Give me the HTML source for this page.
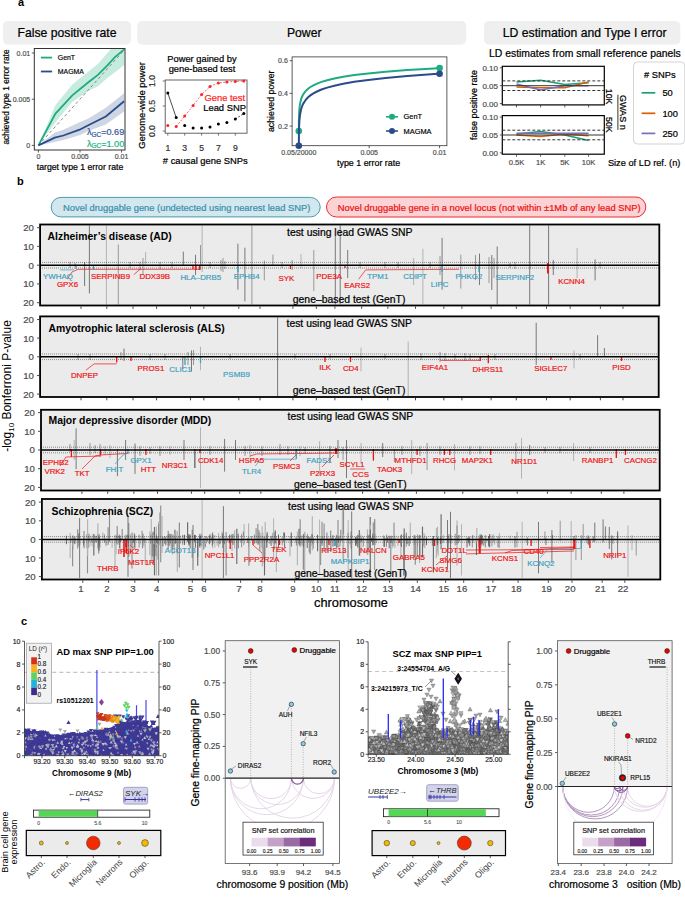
<!DOCTYPE html>
<html><head><meta charset="utf-8"><style>
html,body{margin:0;padding:0;background:#fff;}
svg{display:block;font-family:"Liberation Sans", sans-serif;}
</style></head><body>
<svg width="685" height="899" viewBox="0 0 685 899">
<rect width="685" height="899" fill="#fff"/>
<text x="18" y="6.2" font-size="11" fill="#000" font-weight="bold">a</text>
<rect x="3" y="20.9" width="128" height="23.7" fill="#efefef" stroke="none" stroke-width="1" rx="5"/>
<text x="67" y="37.1" font-size="12.2" fill="#000" stroke="#000" stroke-width="0.22" text-anchor="middle">False positive rate</text>
<rect x="137.2" y="20.9" width="329" height="23.8" fill="#efefef" stroke="none" stroke-width="1" rx="5"/>
<text x="304.2" y="37.1" font-size="12.2" fill="#000" stroke="#000" stroke-width="0.22" text-anchor="middle">Power</text>
<rect x="484.1" y="20.9" width="196.2" height="23.7" fill="#efefef" stroke="none" stroke-width="1" rx="5"/>
<text x="584.7" y="37.1" font-size="12.2" fill="#000" stroke="#000" stroke-width="0.22" text-anchor="middle">LD estimation and Type I error</text>
<clipPath id="c1"><rect x="34.3" y="48.5" width="90.7" height="101.5"/></clipPath>
<polygon points="38.4,145.4 55.5,104.9 72.3,84.4 88.4,71.5 97.9,64.1 107.4,53 114.7,44.7 124.2,36.4 124.2,65 114.7,72.4 107.4,77.9 97.9,86.3 88.4,90.9 72.3,102 55.5,122.3 38.4,145.4" fill="#c8ebdf" clip-path="url(#c1)"/>
<polygon points="38.4,145.4 54.8,132.6 63.4,129.7 79.6,122.3 88.3,118.6 105.8,107.8 124.1,93.2 124.1,111.4 105.8,124.6 88.3,131.1 79.6,135.2 63.4,139.9 54.8,142.1 38.4,145.4" fill="#cfd6e3" clip-path="url(#c1)"/>
<line x1="38.4" y1="145.4" x2="124.9" y2="49.3" stroke="#888" stroke-width="1" stroke-dasharray="3,2.6" clip-path="url(#c1)"/>
<polyline points="38.4,145.4 55.5,113.6 72.3,95.4 88.4,82.2 97.9,74.9 107.4,65.4 114.7,57.4 124.2,49.4" stroke="#1fab80" stroke-width="1.8" fill="none" clip-path="url(#c1)"/>
<polyline points="38.4,145.4 54.8,137.7 63.4,135.5 79.6,129.7 88.3,125.3 105.8,116.5 124.1,101.2" stroke="#2c4b8b" stroke-width="1.8" fill="none" clip-path="url(#c1)"/>
<rect x="34.3" y="48.5" width="90.7" height="101.5" fill="none" stroke="#333" stroke-width="1"/>
<line x1="31.8" y1="145.4" x2="34.3" y2="145.4" stroke="#333" stroke-width="0.8"/>
<text x="30.2" y="147.9" font-size="7.0" fill="#4d4d4d" stroke="#4d4d4d" stroke-width="0.17" text-anchor="end">0</text>
<line x1="38.4" y1="150" x2="38.4" y2="152.5" stroke="#333" stroke-width="0.8"/>
<text x="38.4" y="159.3" font-size="7.0" fill="#4d4d4d" stroke="#4d4d4d" stroke-width="0.17" text-anchor="middle">0</text>
<line x1="31.8" y1="99.2" x2="34.3" y2="99.2" stroke="#333" stroke-width="0.8"/>
<text x="30.2" y="101.7" font-size="7.0" fill="#4d4d4d" stroke="#4d4d4d" stroke-width="0.17" text-anchor="end">0.005</text>
<line x1="80" y1="150" x2="80" y2="152.5" stroke="#333" stroke-width="0.8"/>
<text x="80" y="159.3" font-size="7.0" fill="#4d4d4d" stroke="#4d4d4d" stroke-width="0.17" text-anchor="middle">0.005</text>
<line x1="31.8" y1="53" x2="34.3" y2="53" stroke="#333" stroke-width="0.8"/>
<text x="30.2" y="55.5" font-size="7.0" fill="#4d4d4d" stroke="#4d4d4d" stroke-width="0.17" text-anchor="end">0.01</text>
<line x1="121.6" y1="150" x2="121.6" y2="152.5" stroke="#333" stroke-width="0.8"/>
<text x="121.6" y="159.3" font-size="7.0" fill="#4d4d4d" stroke="#4d4d4d" stroke-width="0.17" text-anchor="middle">0.01</text>
<text x="80" y="169.9" font-size="8.7" fill="#000" stroke="#000" stroke-width="0.21" text-anchor="middle">target type 1 error rate</text>
<text transform="translate(5.9 97) rotate(-90)" x="0" y="3" font-size="8.35" fill="#000" stroke="#000" stroke-width="0.20" text-anchor="middle">achieved type 1 error rate</text>
<line x1="40.9" y1="57.6" x2="52.1" y2="57.6" stroke="#1fab80" stroke-width="1.8"/>
<text x="57.8" y="60.1" font-size="6.9" fill="#000" stroke="#000" stroke-width="0.17">GenT</text>
<line x1="40.9" y1="71.5" x2="52.1" y2="71.5" stroke="#2c4b8b" stroke-width="1.8"/>
<text x="57.8" y="74" font-size="6.9" fill="#000" stroke="#000" stroke-width="0.17">MAGMA</text>
<text x="86.9" y="134.8" font-size="9.1" fill="#3a5a9a" stroke="#3a5a9a" stroke-width="0.22">λ<tspan font-size="6.5" dy="1.8">GC</tspan><tspan dy="-1.8">=0.69</tspan></text>
<text x="86.9" y="146.5" font-size="9.1" fill="#22b487" stroke="#22b487" stroke-width="0.22">λ<tspan font-size="6.5" dy="1.8">GC</tspan><tspan dy="-1.8">=1.00</tspan></text>
<rect x="165.2" y="80" width="81.8" height="53.2" fill="none" stroke="#555" stroke-width="0.9"/>
<text x="202" y="61.6" font-size="9.3" fill="#000" stroke="#000" stroke-width="0.22" text-anchor="middle">Power gained by</text>
<text x="202" y="71.5" font-size="9.3" fill="#000" stroke="#000" stroke-width="0.22" text-anchor="middle">gene-based test</text>
<polyline points="176.2,126.6 184.7,116.1 193.1,105.5 201.6,94.5 210,86.5 218.4,83 226.9,82 235.3,81.5 243.8,81" stroke="#f22" stroke-width="0.7" fill="none" stroke-dasharray="2,1.5"/>
<line x1="167.8" y1="93" x2="176.2" y2="117.6" stroke="#000" stroke-width="0.7"/>
<line x1="235.3" y1="119.1" x2="243.8" y2="113.6" stroke="#000" stroke-width="0.7" stroke-dasharray="2,1.5"/>
<circle cx="167.8" cy="125.6" r="1.5" fill="#f22" stroke="none" stroke-width="0.5"/>
<circle cx="176.2" cy="126.6" r="1.5" fill="#f22" stroke="none" stroke-width="0.5"/>
<circle cx="184.7" cy="116.1" r="1.5" fill="#f22" stroke="none" stroke-width="0.5"/>
<circle cx="193.1" cy="105.5" r="1.5" fill="#f22" stroke="none" stroke-width="0.5"/>
<circle cx="201.6" cy="94.5" r="1.5" fill="#f22" stroke="none" stroke-width="0.5"/>
<circle cx="210" cy="86.5" r="1.5" fill="#f22" stroke="none" stroke-width="0.5"/>
<circle cx="218.4" cy="83" r="1.5" fill="#f22" stroke="none" stroke-width="0.5"/>
<circle cx="226.9" cy="82" r="1.5" fill="#f22" stroke="none" stroke-width="0.5"/>
<circle cx="235.3" cy="81.5" r="1.5" fill="#f22" stroke="none" stroke-width="0.5"/>
<circle cx="243.8" cy="81" r="1.5" fill="#f22" stroke="none" stroke-width="0.5"/>
<circle cx="167.8" cy="93" r="1.5" fill="#000" stroke="none" stroke-width="0.5"/>
<circle cx="176.2" cy="117.6" r="1.5" fill="#000" stroke="none" stroke-width="0.5"/>
<circle cx="184.7" cy="125.6" r="1.5" fill="#000" stroke="none" stroke-width="0.5"/>
<circle cx="193.1" cy="128.1" r="1.5" fill="#000" stroke="none" stroke-width="0.5"/>
<circle cx="201.6" cy="128.1" r="1.5" fill="#000" stroke="none" stroke-width="0.5"/>
<circle cx="210" cy="127.1" r="1.5" fill="#000" stroke="none" stroke-width="0.5"/>
<circle cx="218.4" cy="124.1" r="1.5" fill="#000" stroke="none" stroke-width="0.5"/>
<circle cx="226.9" cy="122.6" r="1.5" fill="#000" stroke="none" stroke-width="0.5"/>
<circle cx="235.3" cy="119.1" r="1.5" fill="#000" stroke="none" stroke-width="0.5"/>
<circle cx="243.8" cy="113.6" r="1.5" fill="#000" stroke="none" stroke-width="0.5"/>
<text x="224.8" y="100.8" font-size="9.4" fill="#f22" stroke="#f22" stroke-width="0.22" text-anchor="middle">Gene test</text>
<text x="224.6" y="111" font-size="9.4" fill="#000" stroke="#000" stroke-width="0.22" text-anchor="middle">Lead SNP</text>
<line x1="162.7" y1="131.1" x2="165.2" y2="131.1" stroke="#555" stroke-width="0.8"/>
<text transform="translate(152 131.1) rotate(-90)" x="0" y="3.1" font-size="8.6" fill="#333" stroke="#333" stroke-width="0.21" text-anchor="middle">0.0</text>
<line x1="162.7" y1="106" x2="165.2" y2="106" stroke="#555" stroke-width="0.8"/>
<text transform="translate(152 106) rotate(-90)" x="0" y="3.1" font-size="8.6" fill="#333" stroke="#333" stroke-width="0.21" text-anchor="middle">0.5</text>
<line x1="162.7" y1="81" x2="165.2" y2="81" stroke="#555" stroke-width="0.8"/>
<text transform="translate(152 81) rotate(-90)" x="0" y="3.1" font-size="8.6" fill="#333" stroke="#333" stroke-width="0.21" text-anchor="middle">1.0</text>
<line x1="167.8" y1="133.2" x2="167.8" y2="135.7" stroke="#555" stroke-width="0.8"/>
<text x="167.8" y="150.6" font-size="8.6" fill="#333" stroke="#333" stroke-width="0.21" text-anchor="middle">1</text>
<line x1="184.7" y1="133.2" x2="184.7" y2="135.7" stroke="#555" stroke-width="0.8"/>
<text x="184.7" y="150.6" font-size="8.6" fill="#333" stroke="#333" stroke-width="0.21" text-anchor="middle">3</text>
<line x1="201.6" y1="133.2" x2="201.6" y2="135.7" stroke="#555" stroke-width="0.8"/>
<text x="201.6" y="150.6" font-size="8.6" fill="#333" stroke="#333" stroke-width="0.21" text-anchor="middle">5</text>
<line x1="218.4" y1="133.2" x2="218.4" y2="135.7" stroke="#555" stroke-width="0.8"/>
<text x="218.4" y="150.6" font-size="8.6" fill="#333" stroke="#333" stroke-width="0.21" text-anchor="middle">7</text>
<line x1="235.3" y1="133.2" x2="235.3" y2="135.7" stroke="#555" stroke-width="0.8"/>
<text x="235.3" y="150.6" font-size="8.6" fill="#333" stroke="#333" stroke-width="0.21" text-anchor="middle">9</text>
<text x="205.3" y="163.8" font-size="9.4" fill="#000" stroke="#000" stroke-width="0.22" text-anchor="middle"># causal gene SNPs</text>
<text transform="translate(141.6 105.5) rotate(-90)" x="0" y="3.4" font-size="9.4" fill="#000" stroke="#000" stroke-width="0.22" text-anchor="middle">Genome-wide power</text>
<rect x="292.1" y="56.9" width="154.8" height="88.8" fill="none" stroke="#333" stroke-width="0.8"/>
<polyline points="298.8,131 298.8,129.3 298.9,127.6 298.9,125.9 298.9,124.2 298.9,122.5 298.9,120.8 299,119.2 299,117.5 299.1,115.8 299.1,114.1 299.2,112.4 299.3,110.7 299.4,109 299.6,107.3 299.8,105.6 300.1,103.9 300.4,102.2 300.8,100.5 301.2,98.8 301.9,97.1 302.6,95.5 303.6,93.8 304.8,92.1 306.3,90.4 308.1,88.7 310.4,87 313.4,85.3 317,83.6 321.5,81.9 327.2,80.2 334.3,78.5 343.2,76.8 354.3,75.1 368.2,73.4 385.6,71.8 407.3,70.1 434.4,68.4 439.6,68.1" stroke="#1fab80" stroke-width="2.0" fill="none"/>
<circle cx="298.8" cy="131" r="3.3" fill="#1fab80" stroke="none" stroke-width="0.5"/>
<circle cx="439.6" cy="68.1" r="3.3" fill="#1fab80" stroke="none" stroke-width="0.5"/>
<polyline points="298.8,145.7 298.8,143.8 298.9,141.8 298.9,139.9 298.9,138 298.9,136 298.9,134.1 299,132.2 299,130.2 299.1,128.3 299.1,126.3 299.2,124.4 299.3,122.5 299.4,120.5 299.6,118.6 299.8,116.7 300.1,114.7 300.4,112.8 300.8,110.8 301.2,108.9 301.9,107 302.6,105 303.6,103.1 304.8,101.2 306.3,99.2 308.1,97.3 310.4,95.4 313.4,93.4 317,91.5 321.5,89.5 327.2,87.6 334.3,85.7 343.2,83.7 354.3,81.8 368.2,79.9 385.6,77.9 407.3,76 434.4,74 439.6,73.7" stroke="#2c4b8b" stroke-width="2.0" fill="none"/>
<circle cx="298.8" cy="145.7" r="3.3" fill="#2c4b8b" stroke="none" stroke-width="0.5"/>
<circle cx="439.6" cy="73.7" r="3.3" fill="#2c4b8b" stroke="none" stroke-width="0.5"/>
<line x1="289.6" y1="126.1" x2="292.1" y2="126.1" stroke="#333" stroke-width="0.8"/>
<text x="287.8" y="128.6" font-size="7.0" fill="#4d4d4d" stroke="#4d4d4d" stroke-width="0.17" text-anchor="end">0.2</text>
<line x1="289.6" y1="93.4" x2="292.1" y2="93.4" stroke="#333" stroke-width="0.8"/>
<text x="287.8" y="95.9" font-size="7.0" fill="#4d4d4d" stroke="#4d4d4d" stroke-width="0.17" text-anchor="end">0.4</text>
<line x1="289.6" y1="60.7" x2="292.1" y2="60.7" stroke="#333" stroke-width="0.8"/>
<text x="287.8" y="63.2" font-size="7.0" fill="#4d4d4d" stroke="#4d4d4d" stroke-width="0.17" text-anchor="end">0.6</text>
<line x1="298.8" y1="145.7" x2="298.8" y2="148.2" stroke="#333" stroke-width="0.8"/>
<text x="298.8" y="155.1" font-size="7.0" fill="#4d4d4d" stroke="#4d4d4d" stroke-width="0.17" text-anchor="middle">0.05/20000</text>
<line x1="369.2" y1="145.7" x2="369.2" y2="148.2" stroke="#333" stroke-width="0.8"/>
<text x="369.2" y="155.1" font-size="7.0" fill="#4d4d4d" stroke="#4d4d4d" stroke-width="0.17" text-anchor="middle">0.005</text>
<line x1="439.6" y1="145.7" x2="439.6" y2="148.2" stroke="#333" stroke-width="0.8"/>
<text x="439.6" y="155.1" font-size="7.0" fill="#4d4d4d" stroke="#4d4d4d" stroke-width="0.17" text-anchor="middle">0.01</text>
<text x="368.6" y="166.4" font-size="8.9" fill="#000" stroke="#000" stroke-width="0.21" text-anchor="middle">type 1 error rate</text>
<text transform="translate(271.2 101.3) rotate(-90)" x="0" y="3.2" font-size="8.8" fill="#000" stroke="#000" stroke-width="0.21" text-anchor="middle">achieved power</text>
<line x1="386" y1="116.8" x2="398" y2="116.8" stroke="#1fab80" stroke-width="1.6"/>
<circle cx="392" cy="116.8" r="3" fill="#1fab80" stroke="none" stroke-width="0.5"/>
<text x="403.6" y="119.4" font-size="7.4" fill="#000" stroke="#000" stroke-width="0.18">GenT</text>
<line x1="386" y1="131" x2="398" y2="131" stroke="#2c4b8b" stroke-width="1.6"/>
<circle cx="392" cy="131" r="3" fill="#2c4b8b" stroke="none" stroke-width="0.5"/>
<text x="403.6" y="133.6" font-size="7.4" fill="#000" stroke="#000" stroke-width="0.18">MAGMA</text>
<text x="584.9" y="56.7" font-size="10.4" fill="#000" stroke="#000" stroke-width="0.22" text-anchor="middle">LD estimates from small reference panels</text>
<rect x="502.3" y="66.3" width="102" height="38.6" fill="#fff" stroke="#000" stroke-width="1.2"/>
<polyline points="516.5,82.1 540.6,80.3 564.8,84.6 588.6,82.8" stroke="#1b9e77" stroke-width="1.5" fill="none"/>
<polyline points="516.5,87.1 540.6,87.8 564.8,87.8 588.6,82.1" stroke="#d95f02" stroke-width="1.5" fill="none"/>
<polyline points="516.5,83.9 540.6,90 564.8,85.7 588.6,85.7" stroke="#7570b3" stroke-width="1.5" fill="none"/>
<line x1="502.3" y1="85.7" x2="604.3" y2="85.7" stroke="#333" stroke-width="1"/>
<line x1="502.3" y1="80.9" x2="604.3" y2="80.9" stroke="#333" stroke-width="1" stroke-dasharray="3,2"/>
<line x1="502.3" y1="90.5" x2="604.3" y2="90.5" stroke="#333" stroke-width="1" stroke-dasharray="3,2"/>
<line x1="499.8" y1="103.6" x2="502.3" y2="103.6" stroke="#333" stroke-width="0.8"/>
<text x="498" y="106.5" font-size="8" fill="#4d4d4d" stroke="#4d4d4d" stroke-width="0.19" text-anchor="end">0.00</text>
<line x1="499.8" y1="85.7" x2="502.3" y2="85.7" stroke="#333" stroke-width="0.8"/>
<text x="498" y="88.6" font-size="8" fill="#4d4d4d" stroke="#4d4d4d" stroke-width="0.19" text-anchor="end">0.05</text>
<line x1="499.8" y1="67.8" x2="502.3" y2="67.8" stroke="#333" stroke-width="0.8"/>
<text x="498" y="70.7" font-size="8" fill="#4d4d4d" stroke="#4d4d4d" stroke-width="0.19" text-anchor="end">0.10</text>
<line x1="516.5" y1="104.9" x2="516.5" y2="107.4" stroke="#333" stroke-width="0.8"/>
<line x1="540.6" y1="104.9" x2="540.6" y2="107.4" stroke="#333" stroke-width="0.8"/>
<line x1="564.8" y1="104.9" x2="564.8" y2="107.4" stroke="#333" stroke-width="0.8"/>
<line x1="588.6" y1="104.9" x2="588.6" y2="107.4" stroke="#333" stroke-width="0.8"/>
<rect x="502.3" y="115.6" width="102" height="38.6" fill="#fff" stroke="#000" stroke-width="1.2"/>
<polyline points="516.5,133.9 540.6,131.4 564.8,135 588.6,140.4" stroke="#1b9e77" stroke-width="1.5" fill="none"/>
<polyline points="516.5,135 540.6,136.4 564.8,133.9 588.6,135.7" stroke="#d95f02" stroke-width="1.5" fill="none"/>
<polyline points="516.5,133.2 540.6,133.2 564.8,133.2 588.6,133.2" stroke="#7570b3" stroke-width="1.5" fill="none"/>
<line x1="502.3" y1="135" x2="604.3" y2="135" stroke="#333" stroke-width="1"/>
<line x1="502.3" y1="130.2" x2="604.3" y2="130.2" stroke="#333" stroke-width="1" stroke-dasharray="3,2"/>
<line x1="502.3" y1="139.8" x2="604.3" y2="139.8" stroke="#333" stroke-width="1" stroke-dasharray="3,2"/>
<line x1="499.8" y1="152.9" x2="502.3" y2="152.9" stroke="#333" stroke-width="0.8"/>
<text x="498" y="155.8" font-size="8" fill="#4d4d4d" stroke="#4d4d4d" stroke-width="0.19" text-anchor="end">0.00</text>
<line x1="499.8" y1="135" x2="502.3" y2="135" stroke="#333" stroke-width="0.8"/>
<text x="498" y="137.9" font-size="8" fill="#4d4d4d" stroke="#4d4d4d" stroke-width="0.19" text-anchor="end">0.05</text>
<line x1="499.8" y1="117.1" x2="502.3" y2="117.1" stroke="#333" stroke-width="0.8"/>
<text x="498" y="120" font-size="8" fill="#4d4d4d" stroke="#4d4d4d" stroke-width="0.19" text-anchor="end">0.10</text>
<line x1="516.5" y1="154.2" x2="516.5" y2="156.7" stroke="#333" stroke-width="0.8"/>
<line x1="540.6" y1="154.2" x2="540.6" y2="156.7" stroke="#333" stroke-width="0.8"/>
<line x1="564.8" y1="154.2" x2="564.8" y2="156.7" stroke="#333" stroke-width="0.8"/>
<line x1="588.6" y1="154.2" x2="588.6" y2="156.7" stroke="#333" stroke-width="0.8"/>
<text x="516.5" y="164.7" font-size="7.6" fill="#4d4d4d" stroke="#4d4d4d" stroke-width="0.18" text-anchor="middle">0.5K</text>
<text x="540.6" y="164.7" font-size="7.6" fill="#4d4d4d" stroke="#4d4d4d" stroke-width="0.18" text-anchor="middle">1K</text>
<text x="564.8" y="164.7" font-size="7.6" fill="#4d4d4d" stroke="#4d4d4d" stroke-width="0.18" text-anchor="middle">5K</text>
<text x="588.6" y="164.7" font-size="7.6" fill="#4d4d4d" stroke="#4d4d4d" stroke-width="0.18" text-anchor="middle">10K</text>
<text x="607.9" y="165.9" font-size="9.25" fill="#000" stroke="#000" stroke-width="0.22">Size of LD ref. (n)</text>
<text transform="translate(473.6 105) rotate(-90)" x="0" y="3.2" font-size="9" fill="#000" stroke="#000" stroke-width="0.22" text-anchor="middle">false positive rate</text>
<text transform="translate(609.3 96.6) rotate(90)" x="0" y="3.1" font-size="8.7" fill="#000" stroke="#000" stroke-width="0.21" text-anchor="middle">10K</text>
<text transform="translate(609.3 124.8) rotate(90)" x="0" y="3.1" font-size="8.7" fill="#000" stroke="#000" stroke-width="0.21" text-anchor="middle">50K</text>
<text transform="translate(623.7 112.3) rotate(90)" x="0" y="3.2" font-size="9.05" fill="#000" stroke="#000" stroke-width="0.22" text-anchor="middle">GWAS n</text>
<line x1="617.9" y1="94.7" x2="617.9" y2="129.9" stroke="#000" stroke-width="0.8"/>
<rect x="633.5" y="62" width="51.3" height="82" fill="#fff" stroke="#c8c8c8" stroke-width="0.8" rx="4"/>
<text x="659.8" y="78.1" font-size="9.3" fill="#000" stroke="#000" stroke-width="0.22" text-anchor="middle"># SNPs</text>
<line x1="641.6" y1="92.8" x2="655.3" y2="92.8" stroke="#1b9e77" stroke-width="1.7"/>
<text x="662.4" y="96.1" font-size="9.3" fill="#000" stroke="#000" stroke-width="0.22">50</text>
<line x1="641.6" y1="113.3" x2="655.3" y2="113.3" stroke="#d95f02" stroke-width="1.7"/>
<text x="662.4" y="116.6" font-size="9.3" fill="#000" stroke="#000" stroke-width="0.22">100</text>
<line x1="641.6" y1="133.4" x2="655.3" y2="133.4" stroke="#7570b3" stroke-width="1.7"/>
<text x="662.4" y="136.7" font-size="9.3" fill="#000" stroke="#000" stroke-width="0.22">250</text>
<text x="17" y="184.6" font-size="11" fill="#000" font-weight="bold">b</text>
<rect x="51.2" y="197.4" width="269" height="19.5" fill="#d3e8ee" stroke="#4a9ab3" stroke-width="1" rx="9.75"/>
<text x="186.7" y="210.5" font-size="9.35" fill="#3a8fae" stroke="#3a8fae" stroke-width="0.22" text-anchor="middle">Novel druggable gene (undetected using nearest lead SNP)</text>
<rect x="326.5" y="197" width="319.3" height="20" fill="#fcd3d5" stroke="#ee2a2f" stroke-width="1" rx="10"/>
<text x="489.2" y="210.5" font-size="9.35" fill="#ee1111" stroke="#ee1111" stroke-width="0.22" text-anchor="middle">Novel druggable gene in a novel locus (not within ±1Mb of any lead SNP)</text>
<rect x="40.1" y="224.5" width="619.2" height="81" fill="#ebebeb" stroke="none" stroke-width="1"/>
<line x1="84.6" y1="262" x2="84.6" y2="286" stroke="#6b6b6b" stroke-width="0.9"/>
<line x1="89.4" y1="225.5" x2="89.4" y2="293.4" stroke="#6b6b6b" stroke-width="0.9"/>
<line x1="106.4" y1="225.5" x2="106.4" y2="304.5" stroke="#b3b3b3" stroke-width="1.0"/>
<line x1="118.3" y1="244.5" x2="118.3" y2="304.5" stroke="#8e8e8e" stroke-width="0.9"/>
<line x1="145.6" y1="252" x2="145.6" y2="265" stroke="#b3b3b3" stroke-width="1.0"/>
<line x1="143" y1="258" x2="143" y2="275" stroke="#8e8e8e" stroke-width="0.9"/>
<line x1="140" y1="262" x2="140" y2="270" stroke="#8e8e8e" stroke-width="0.9"/>
<line x1="183.3" y1="251.6" x2="183.3" y2="265" stroke="#6b6b6b" stroke-width="0.9"/>
<line x1="195.5" y1="254.8" x2="195.5" y2="275" stroke="#6b6b6b" stroke-width="0.9"/>
<line x1="200.5" y1="245" x2="200.5" y2="270" stroke="#8e8e8e" stroke-width="0.9"/>
<line x1="202.1" y1="225.5" x2="202.1" y2="272" stroke="#b3b3b3" stroke-width="1.0"/>
<line x1="221" y1="260" x2="221" y2="271" stroke="#8e8e8e" stroke-width="0.9"/>
<line x1="223" y1="258" x2="223" y2="272" stroke="#8e8e8e" stroke-width="0.9"/>
<line x1="225" y1="261" x2="225" y2="269" stroke="#8e8e8e" stroke-width="0.9"/>
<line x1="237.9" y1="243.7" x2="237.9" y2="289.7" stroke="#6b6b6b" stroke-width="0.9"/>
<line x1="244.9" y1="247.7" x2="244.9" y2="301.4" stroke="#6b6b6b" stroke-width="0.9"/>
<line x1="251.9" y1="225.5" x2="251.9" y2="304.5" stroke="#8e8e8e" stroke-width="0.9"/>
<line x1="264.3" y1="260.5" x2="264.3" y2="280.4" stroke="#8e8e8e" stroke-width="0.9"/>
<line x1="272.9" y1="254.7" x2="272.9" y2="265" stroke="#8e8e8e" stroke-width="0.9"/>
<line x1="292.1" y1="260" x2="292.1" y2="270" stroke="#8e8e8e" stroke-width="0.9"/>
<line x1="301" y1="254" x2="301" y2="268" stroke="#b3b3b3" stroke-width="1.0"/>
<line x1="313.8" y1="250" x2="313.8" y2="291" stroke="#8e8e8e" stroke-width="0.9"/>
<line x1="335.3" y1="236" x2="335.3" y2="304.5" stroke="#6b6b6b" stroke-width="0.9"/>
<line x1="340.2" y1="225.5" x2="340.2" y2="304.5" stroke="#6b6b6b" stroke-width="0.9"/>
<line x1="347.7" y1="250" x2="347.7" y2="278" stroke="#6b6b6b" stroke-width="0.9"/>
<line x1="413.6" y1="258" x2="413.6" y2="285" stroke="#b3b3b3" stroke-width="1.0"/>
<line x1="422.9" y1="248.9" x2="422.9" y2="303.8" stroke="#b3b3b3" stroke-width="1.0"/>
<line x1="442.1" y1="237.9" x2="442.1" y2="289.7" stroke="#6b6b6b" stroke-width="0.9"/>
<line x1="440" y1="256" x2="440" y2="275" stroke="#8e8e8e" stroke-width="0.9"/>
<line x1="460.8" y1="254.7" x2="460.8" y2="288.6" stroke="#8e8e8e" stroke-width="0.9"/>
<line x1="475.5" y1="255" x2="475.5" y2="280" stroke="#8e8e8e" stroke-width="0.9"/>
<line x1="479.5" y1="253.5" x2="479.5" y2="285" stroke="#6b6b6b" stroke-width="0.9"/>
<line x1="489" y1="257" x2="489" y2="283" stroke="#8e8e8e" stroke-width="0.9"/>
<line x1="491.8" y1="255" x2="491.8" y2="290" stroke="#6b6b6b" stroke-width="0.9"/>
<line x1="494" y1="258" x2="494" y2="278" stroke="#8e8e8e" stroke-width="0.9"/>
<line x1="497.2" y1="246.5" x2="497.2" y2="304.5" stroke="#6b6b6b" stroke-width="0.9"/>
<line x1="529.7" y1="225.5" x2="529.7" y2="304.5" stroke="#6b6b6b" stroke-width="0.9"/>
<line x1="548.6" y1="225.5" x2="548.6" y2="304.5" stroke="#6b6b6b" stroke-width="0.9"/>
<line x1="553.3" y1="260" x2="553.3" y2="275" stroke="#6b6b6b" stroke-width="0.9"/>
<line x1="577.1" y1="248.2" x2="577.1" y2="278" stroke="#b3b3b3" stroke-width="1.0"/>
<line x1="595.1" y1="259.4" x2="595.1" y2="280.4" stroke="#6b6b6b" stroke-width="0.9"/>
<line x1="70" y1="262" x2="70" y2="268" stroke="#8e8e8e" stroke-width="0.9"/>
<line x1="75" y1="263" x2="75" y2="267" stroke="#8e8e8e" stroke-width="0.9"/>
<line x1="130" y1="262" x2="130" y2="268" stroke="#8e8e8e" stroke-width="0.9"/>
<line x1="160" y1="262" x2="160" y2="269" stroke="#8e8e8e" stroke-width="0.9"/>
<line x1="172" y1="262" x2="172" y2="268" stroke="#8e8e8e" stroke-width="0.9"/>
<line x1="210" y1="262" x2="210" y2="268" stroke="#8e8e8e" stroke-width="0.9"/>
<line x1="282" y1="262" x2="282" y2="268" stroke="#8e8e8e" stroke-width="0.9"/>
<line x1="360" y1="262" x2="360" y2="268" stroke="#8e8e8e" stroke-width="0.9"/>
<line x1="385" y1="262" x2="385" y2="268" stroke="#8e8e8e" stroke-width="0.9"/>
<line x1="398" y1="262" x2="398" y2="268" stroke="#8e8e8e" stroke-width="0.9"/>
<line x1="430" y1="262" x2="430" y2="268" stroke="#8e8e8e" stroke-width="0.9"/>
<line x1="510" y1="263" x2="510" y2="268" stroke="#8e8e8e" stroke-width="0.9"/>
<line x1="515" y1="262" x2="515" y2="269" stroke="#8e8e8e" stroke-width="0.9"/>
<line x1="530" y1="262" x2="530" y2="269" stroke="#8e8e8e" stroke-width="0.9"/>
<line x1="600" y1="262" x2="600" y2="268" stroke="#8e8e8e" stroke-width="0.9"/>
<line x1="40.1" y1="262.4" x2="659.3" y2="262.4" stroke="#333" stroke-width="0.6" stroke-dasharray="0.9,1.1"/>
<line x1="40.1" y1="268" x2="659.3" y2="268" stroke="#333" stroke-width="0.6" stroke-dasharray="0.9,1.1"/>
<polyline points="67.2,279.2 72,272 78,269.3 199,269.3" stroke="#ee1111" stroke-width="0.7" fill="none"/>
<polyline points="133.8,274.6 140.8,268.7" stroke="#ee1111" stroke-width="0.7" fill="none"/>
<polyline points="358.7,279.2 365.7,269.9 459.1,269.3" stroke="#ee1111" stroke-width="0.7" fill="none"/>
<polyline points="60.2,269.9 74,269.9" stroke="#3e9fc0" stroke-width="0.7" fill="none"/>
<line x1="547.9" y1="262.9" x2="547.9" y2="273.4" stroke="#ee1111" stroke-width="1.8"/>
<line x1="193" y1="265" x2="193" y2="269" stroke="#ee1111" stroke-width="1.3"/>
<line x1="196" y1="265" x2="196" y2="270" stroke="#ee1111" stroke-width="1.3"/>
<line x1="199.5" y1="265" x2="199.5" y2="270" stroke="#ee1111" stroke-width="1.3"/>
<line x1="290.4" y1="265" x2="290.4" y2="269" stroke="#ee1111" stroke-width="1.3"/>
<line x1="345" y1="265" x2="345" y2="268" stroke="#ee1111" stroke-width="1.3"/>
<line x1="76" y1="265" x2="76" y2="269" stroke="#3e9fc0" stroke-width="1.3"/>
<line x1="93.5" y1="265" x2="93.5" y2="270" stroke="#3e9fc0" stroke-width="1.3"/>
<line x1="238" y1="265" x2="238" y2="272" stroke="#3e9fc0" stroke-width="1.3"/>
<line x1="442" y1="265" x2="442" y2="272" stroke="#3e9fc0" stroke-width="1.3"/>
<line x1="479" y1="265" x2="479" y2="272" stroke="#3e9fc0" stroke-width="1.3"/>
<line x1="40.1" y1="265.2" x2="659.3" y2="265.2" stroke="#000" stroke-width="1.5"/>
<text x="58" y="278.5" font-size="7.9" fill="#3e9fc0" stroke="#3e9fc0" stroke-width="0.19" text-anchor="middle">YWHAQ</text>
<text x="67.5" y="287.4" font-size="7.9" fill="#ee1111" stroke="#ee1111" stroke-width="0.19" text-anchor="middle">GPX6</text>
<text x="110.5" y="278.5" font-size="7.9" fill="#ee1111" stroke="#ee1111" stroke-width="0.19" text-anchor="middle">SERPINB9</text>
<text x="154.8" y="278.5" font-size="7.9" fill="#ee1111" stroke="#ee1111" stroke-width="0.19" text-anchor="middle">DDX39B</text>
<text x="200.8" y="280.2" font-size="7.9" fill="#3e9fc0" stroke="#3e9fc0" stroke-width="0.19" text-anchor="middle">HLA–DRB5</text>
<text x="246.8" y="278.5" font-size="7.9" fill="#3e9fc0" stroke="#3e9fc0" stroke-width="0.19" text-anchor="middle">EPHB4</text>
<text x="286.4" y="280.8" font-size="7.9" fill="#ee1111" stroke="#ee1111" stroke-width="0.19" text-anchor="middle">SYK</text>
<text x="329.2" y="278.5" font-size="7.9" fill="#ee1111" stroke="#ee1111" stroke-width="0.19" text-anchor="middle">PDE3A</text>
<text x="357.3" y="287.8" font-size="7.9" fill="#ee1111" stroke="#ee1111" stroke-width="0.19" text-anchor="middle">EARS2</text>
<text x="377.8" y="278.5" font-size="7.9" fill="#3e9fc0" stroke="#3e9fc0" stroke-width="0.19" text-anchor="middle">TPM1</text>
<text x="415.1" y="278.5" font-size="7.9" fill="#3e9fc0" stroke="#3e9fc0" stroke-width="0.19" text-anchor="middle">CDIPT</text>
<text x="439.6" y="287.4" font-size="7.9" fill="#3e9fc0" stroke="#3e9fc0" stroke-width="0.19" text-anchor="middle">LIPC</text>
<text x="468.9" y="278.5" font-size="7.9" fill="#3e9fc0" stroke="#3e9fc0" stroke-width="0.19" text-anchor="middle">PHKG2</text>
<text x="514.8" y="280.2" font-size="7.9" fill="#3e9fc0" stroke="#3e9fc0" stroke-width="0.19" text-anchor="middle">SERPINF2</text>
<text x="571.5" y="283.7" font-size="7.9" fill="#ee1111" stroke="#ee1111" stroke-width="0.19" text-anchor="middle">KCNN4</text>
<text x="47.6" y="240.2" font-size="10.4" fill="#000" font-weight="bold">Alzheimer’s disease (AD)</text>
<text x="287" y="236.2" font-size="10.4" fill="#000" stroke="#000" stroke-width="0.22">test using lead GWAS SNP</text>
<text x="292.8" y="302.7" font-size="10.4" fill="#000" stroke="#000" stroke-width="0.22">gene–based test (GenT)</text>
<rect x="40.1" y="224.5" width="619.2" height="81" fill="none" stroke="#000" stroke-width="1.8"/>
<line x1="37.1" y1="227.7" x2="40.1" y2="227.7" stroke="#333" stroke-width="0.9"/>
<text x="33.9" y="231.1" font-size="9.6" fill="#4d4d4d" stroke="#4d4d4d" stroke-width="0.22" text-anchor="end">20</text>
<line x1="37.1" y1="246.4" x2="40.1" y2="246.4" stroke="#333" stroke-width="0.9"/>
<text x="33.9" y="249.9" font-size="9.6" fill="#4d4d4d" stroke="#4d4d4d" stroke-width="0.22" text-anchor="end">10</text>
<line x1="37.1" y1="265.2" x2="40.1" y2="265.2" stroke="#333" stroke-width="0.9"/>
<text x="33.9" y="268.6" font-size="9.6" fill="#4d4d4d" stroke="#4d4d4d" stroke-width="0.22" text-anchor="end">0</text>
<line x1="37.1" y1="283.9" x2="40.1" y2="283.9" stroke="#333" stroke-width="0.9"/>
<text x="33.9" y="287.4" font-size="9.6" fill="#4d4d4d" stroke="#4d4d4d" stroke-width="0.22" text-anchor="end">10</text>
<line x1="37.1" y1="302.7" x2="40.1" y2="302.7" stroke="#333" stroke-width="0.9"/>
<text x="33.9" y="306.1" font-size="9.6" fill="#4d4d4d" stroke="#4d4d4d" stroke-width="0.22" text-anchor="end">20</text>
<line x1="81" y1="306.4" x2="81" y2="308.8" stroke="#333" stroke-width="0.9"/>
<line x1="106.8" y1="306.4" x2="106.8" y2="308.8" stroke="#333" stroke-width="0.9"/>
<line x1="133" y1="306.4" x2="133" y2="308.8" stroke="#333" stroke-width="0.9"/>
<line x1="156.6" y1="306.4" x2="156.6" y2="308.8" stroke="#333" stroke-width="0.9"/>
<line x1="190.5" y1="306.4" x2="190.5" y2="308.8" stroke="#333" stroke-width="0.9"/>
<line x1="203.8" y1="306.4" x2="203.8" y2="308.8" stroke="#333" stroke-width="0.9"/>
<line x1="238.8" y1="306.4" x2="238.8" y2="308.8" stroke="#333" stroke-width="0.9"/>
<line x1="260" y1="306.4" x2="260" y2="308.8" stroke="#333" stroke-width="0.9"/>
<line x1="292.9" y1="306.4" x2="292.9" y2="308.8" stroke="#333" stroke-width="0.9"/>
<line x1="316.3" y1="306.4" x2="316.3" y2="308.8" stroke="#333" stroke-width="0.9"/>
<line x1="334.9" y1="306.4" x2="334.9" y2="308.8" stroke="#333" stroke-width="0.9"/>
<line x1="361.7" y1="306.4" x2="361.7" y2="308.8" stroke="#333" stroke-width="0.9"/>
<line x1="387.8" y1="306.4" x2="387.8" y2="308.8" stroke="#333" stroke-width="0.9"/>
<line x1="415.5" y1="306.4" x2="415.5" y2="308.8" stroke="#333" stroke-width="0.9"/>
<line x1="443.8" y1="306.4" x2="443.8" y2="308.8" stroke="#333" stroke-width="0.9"/>
<line x1="461.9" y1="306.4" x2="461.9" y2="308.8" stroke="#333" stroke-width="0.9"/>
<line x1="491.1" y1="306.4" x2="491.1" y2="308.8" stroke="#333" stroke-width="0.9"/>
<line x1="516.3" y1="306.4" x2="516.3" y2="308.8" stroke="#333" stroke-width="0.9"/>
<line x1="546.5" y1="306.4" x2="546.5" y2="308.8" stroke="#333" stroke-width="0.9"/>
<line x1="570.2" y1="306.4" x2="570.2" y2="308.8" stroke="#333" stroke-width="0.9"/>
<line x1="600.4" y1="306.4" x2="600.4" y2="308.8" stroke="#333" stroke-width="0.9"/>
<line x1="623" y1="306.4" x2="623" y2="308.8" stroke="#333" stroke-width="0.9"/>
<rect x="40.1" y="316.4" width="618.6" height="80.6" fill="#ebebeb" stroke="none" stroke-width="1"/>
<line x1="124" y1="348.5" x2="124" y2="361" stroke="#6b6b6b" stroke-width="0.9"/>
<line x1="121" y1="352" x2="121" y2="360" stroke="#8e8e8e" stroke-width="0.9"/>
<line x1="182.8" y1="357" x2="182.8" y2="369" stroke="#6b6b6b" stroke-width="0.9"/>
<line x1="191.5" y1="350.4" x2="191.5" y2="371.4" stroke="#6b6b6b" stroke-width="0.9"/>
<line x1="188" y1="352" x2="188" y2="365" stroke="#8e8e8e" stroke-width="0.9"/>
<line x1="193.5" y1="350" x2="193.5" y2="365" stroke="#8e8e8e" stroke-width="0.9"/>
<line x1="200.5" y1="346.9" x2="200.5" y2="370.2" stroke="#b3b3b3" stroke-width="1.0"/>
<line x1="277.6" y1="317.4" x2="277.6" y2="396" stroke="#6b6b6b" stroke-width="0.9"/>
<line x1="361" y1="347.6" x2="361" y2="371.4" stroke="#b3b3b3" stroke-width="1.0"/>
<line x1="408.2" y1="341.5" x2="408.2" y2="396" stroke="#b3b3b3" stroke-width="1.0"/>
<line x1="536.2" y1="322.8" x2="536.2" y2="364.9" stroke="#6b6b6b" stroke-width="0.9"/>
<line x1="574" y1="350.4" x2="574" y2="368.4" stroke="#b3b3b3" stroke-width="1.0"/>
<line x1="597.6" y1="335.2" x2="597.6" y2="357" stroke="#6b6b6b" stroke-width="0.9"/>
<line x1="604.4" y1="348" x2="604.4" y2="357" stroke="#6b6b6b" stroke-width="0.9"/>
<line x1="421" y1="353" x2="421" y2="360" stroke="#8e8e8e" stroke-width="0.9"/>
<line x1="440" y1="352" x2="440" y2="362" stroke="#8e8e8e" stroke-width="0.9"/>
<line x1="445" y1="353" x2="445" y2="361" stroke="#8e8e8e" stroke-width="0.9"/>
<line x1="455" y1="354" x2="455" y2="360" stroke="#8e8e8e" stroke-width="0.9"/>
<line x1="465" y1="353" x2="465" y2="361" stroke="#8e8e8e" stroke-width="0.9"/>
<line x1="470" y1="354" x2="470" y2="360" stroke="#8e8e8e" stroke-width="0.9"/>
<line x1="495" y1="354" x2="495" y2="360" stroke="#8e8e8e" stroke-width="0.9"/>
<line x1="78" y1="354" x2="78" y2="360" stroke="#8e8e8e" stroke-width="0.9"/>
<line x1="90" y1="354" x2="90" y2="360" stroke="#8e8e8e" stroke-width="0.9"/>
<line x1="150" y1="354" x2="150" y2="360" stroke="#8e8e8e" stroke-width="0.9"/>
<line x1="165" y1="354" x2="165" y2="360" stroke="#8e8e8e" stroke-width="0.9"/>
<line x1="230" y1="354" x2="230" y2="359" stroke="#8e8e8e" stroke-width="0.9"/>
<line x1="295" y1="354" x2="295" y2="359" stroke="#8e8e8e" stroke-width="0.9"/>
<line x1="330" y1="354" x2="330" y2="359" stroke="#8e8e8e" stroke-width="0.9"/>
<line x1="385" y1="354" x2="385" y2="359" stroke="#8e8e8e" stroke-width="0.9"/>
<line x1="580" y1="354" x2="580" y2="359" stroke="#8e8e8e" stroke-width="0.9"/>
<line x1="40.1" y1="354" x2="658.7" y2="354" stroke="#333" stroke-width="0.6" stroke-dasharray="0.9,1.1"/>
<line x1="40.1" y1="359.6" x2="658.7" y2="359.6" stroke="#333" stroke-width="0.6" stroke-dasharray="0.9,1.1"/>
<polyline points="85.9,370.2 94,363.9 116.7,363.9" stroke="#ee1111" stroke-width="0.7" fill="none"/>
<polyline points="440.4,360.4 480.2,360.4" stroke="#ee1111" stroke-width="0.7" fill="none"/>
<line x1="116.7" y1="357" x2="116.7" y2="362.5" stroke="#ee1111" stroke-width="1.3"/>
<line x1="131" y1="357" x2="131" y2="361" stroke="#ee1111" stroke-width="1.3"/>
<line x1="325" y1="357" x2="325" y2="362" stroke="#ee1111" stroke-width="1.3"/>
<line x1="350.5" y1="357" x2="350.5" y2="362" stroke="#ee1111" stroke-width="1.3"/>
<line x1="480.2" y1="357" x2="480.2" y2="361" stroke="#ee1111" stroke-width="1.3"/>
<line x1="488.3" y1="355" x2="488.3" y2="363.2" stroke="#ee1111" stroke-width="1.3"/>
<line x1="550.9" y1="357" x2="550.9" y2="360" stroke="#ee1111" stroke-width="1.3"/>
<line x1="621.5" y1="357" x2="621.5" y2="361" stroke="#ee1111" stroke-width="1.3"/>
<line x1="200.5" y1="356" x2="200.5" y2="363" stroke="#3e9fc0" stroke-width="1.3"/>
<line x1="185" y1="357" x2="185" y2="365" stroke="#3e9fc0" stroke-width="1.3"/>
<line x1="40.1" y1="356.8" x2="658.7" y2="356.8" stroke="#000" stroke-width="1.5"/>
<text x="84.5" y="378.2" font-size="7.9" fill="#ee1111" stroke="#ee1111" stroke-width="0.19" text-anchor="middle">DNPEP</text>
<text x="150.9" y="370.7" font-size="7.9" fill="#ee1111" stroke="#ee1111" stroke-width="0.19" text-anchor="middle">PROS1</text>
<text x="180.5" y="372.3" font-size="7.9" fill="#3e9fc0" stroke="#3e9fc0" stroke-width="0.19" text-anchor="middle">CLIC1</text>
<text x="236.5" y="377" font-size="7.9" fill="#3e9fc0" stroke="#3e9fc0" stroke-width="0.19" text-anchor="middle">PSMB9</text>
<text x="325.2" y="370" font-size="7.9" fill="#ee1111" stroke="#ee1111" stroke-width="0.19" text-anchor="middle">ILK</text>
<text x="350.8" y="371.2" font-size="7.9" fill="#ee1111" stroke="#ee1111" stroke-width="0.19" text-anchor="middle">CD4</text>
<text x="434.9" y="370" font-size="7.9" fill="#ee1111" stroke="#ee1111" stroke-width="0.19" text-anchor="middle">EIF4A1</text>
<text x="487.9" y="371.8" font-size="7.9" fill="#ee1111" stroke="#ee1111" stroke-width="0.19" text-anchor="middle">DHRS11</text>
<text x="550.8" y="371.2" font-size="7.9" fill="#ee1111" stroke="#ee1111" stroke-width="0.19" text-anchor="middle">SIGLEC7</text>
<text x="621.5" y="370" font-size="7.9" fill="#ee1111" stroke="#ee1111" stroke-width="0.19" text-anchor="middle">PISD</text>
<text x="48.5" y="331.9" font-size="10.4" fill="#000" font-weight="bold">Amyotrophic lateral sclerosis (ALS)</text>
<text x="286.5" y="327.2" font-size="10.4" fill="#000" stroke="#000" stroke-width="0.22">test using lead GWAS SNP</text>
<text x="292.8" y="394.3" font-size="10.4" fill="#000" stroke="#000" stroke-width="0.22">gene–based test (GenT)</text>
<rect x="40.1" y="316.4" width="618.6" height="80.6" fill="none" stroke="#000" stroke-width="1.8"/>
<line x1="37.1" y1="319.5" x2="40.1" y2="319.5" stroke="#333" stroke-width="0.9"/>
<text x="33.9" y="322.9" font-size="9.6" fill="#4d4d4d" stroke="#4d4d4d" stroke-width="0.22" text-anchor="end">20</text>
<line x1="37.1" y1="338.1" x2="40.1" y2="338.1" stroke="#333" stroke-width="0.9"/>
<text x="33.9" y="341.6" font-size="9.6" fill="#4d4d4d" stroke="#4d4d4d" stroke-width="0.22" text-anchor="end">10</text>
<line x1="37.1" y1="356.8" x2="40.1" y2="356.8" stroke="#333" stroke-width="0.9"/>
<text x="33.9" y="360.2" font-size="9.6" fill="#4d4d4d" stroke="#4d4d4d" stroke-width="0.22" text-anchor="end">0</text>
<line x1="37.1" y1="375.5" x2="40.1" y2="375.5" stroke="#333" stroke-width="0.9"/>
<text x="33.9" y="378.9" font-size="9.6" fill="#4d4d4d" stroke="#4d4d4d" stroke-width="0.22" text-anchor="end">10</text>
<line x1="37.1" y1="394.1" x2="40.1" y2="394.1" stroke="#333" stroke-width="0.9"/>
<text x="33.9" y="397.5" font-size="9.6" fill="#4d4d4d" stroke="#4d4d4d" stroke-width="0.22" text-anchor="end">20</text>
<line x1="81" y1="397.9" x2="81" y2="400.3" stroke="#333" stroke-width="0.9"/>
<line x1="106.8" y1="397.9" x2="106.8" y2="400.3" stroke="#333" stroke-width="0.9"/>
<line x1="133" y1="397.9" x2="133" y2="400.3" stroke="#333" stroke-width="0.9"/>
<line x1="156.6" y1="397.9" x2="156.6" y2="400.3" stroke="#333" stroke-width="0.9"/>
<line x1="190.5" y1="397.9" x2="190.5" y2="400.3" stroke="#333" stroke-width="0.9"/>
<line x1="203.8" y1="397.9" x2="203.8" y2="400.3" stroke="#333" stroke-width="0.9"/>
<line x1="238.8" y1="397.9" x2="238.8" y2="400.3" stroke="#333" stroke-width="0.9"/>
<line x1="260" y1="397.9" x2="260" y2="400.3" stroke="#333" stroke-width="0.9"/>
<line x1="292.9" y1="397.9" x2="292.9" y2="400.3" stroke="#333" stroke-width="0.9"/>
<line x1="316.3" y1="397.9" x2="316.3" y2="400.3" stroke="#333" stroke-width="0.9"/>
<line x1="334.9" y1="397.9" x2="334.9" y2="400.3" stroke="#333" stroke-width="0.9"/>
<line x1="361.7" y1="397.9" x2="361.7" y2="400.3" stroke="#333" stroke-width="0.9"/>
<line x1="387.8" y1="397.9" x2="387.8" y2="400.3" stroke="#333" stroke-width="0.9"/>
<line x1="415.5" y1="397.9" x2="415.5" y2="400.3" stroke="#333" stroke-width="0.9"/>
<line x1="443.8" y1="397.9" x2="443.8" y2="400.3" stroke="#333" stroke-width="0.9"/>
<line x1="461.9" y1="397.9" x2="461.9" y2="400.3" stroke="#333" stroke-width="0.9"/>
<line x1="491.1" y1="397.9" x2="491.1" y2="400.3" stroke="#333" stroke-width="0.9"/>
<line x1="516.3" y1="397.9" x2="516.3" y2="400.3" stroke="#333" stroke-width="0.9"/>
<line x1="546.5" y1="397.9" x2="546.5" y2="400.3" stroke="#333" stroke-width="0.9"/>
<line x1="570.2" y1="397.9" x2="570.2" y2="400.3" stroke="#333" stroke-width="0.9"/>
<line x1="600.4" y1="397.9" x2="600.4" y2="400.3" stroke="#333" stroke-width="0.9"/>
<line x1="623" y1="397.9" x2="623" y2="400.3" stroke="#333" stroke-width="0.9"/>
<rect x="41" y="409.8" width="618.7" height="80.7" fill="#ebebeb" stroke="none" stroke-width="1"/>
<line x1="76.1" y1="428.4" x2="76.1" y2="469.2" stroke="#6b6b6b" stroke-width="0.9"/>
<line x1="74.2" y1="440" x2="74.2" y2="460" stroke="#b3b3b3" stroke-width="1.0"/>
<line x1="70" y1="444" x2="70" y2="452" stroke="#8e8e8e" stroke-width="0.9"/>
<line x1="90" y1="443" x2="90" y2="455" stroke="#8e8e8e" stroke-width="0.9"/>
<line x1="95" y1="445" x2="95" y2="453" stroke="#8e8e8e" stroke-width="0.9"/>
<line x1="117.4" y1="449" x2="117.4" y2="476.2" stroke="#6b6b6b" stroke-width="0.9"/>
<line x1="125.6" y1="440" x2="125.6" y2="460" stroke="#6b6b6b" stroke-width="0.9"/>
<line x1="135" y1="443.5" x2="135" y2="473.9" stroke="#6b6b6b" stroke-width="0.9"/>
<line x1="110" y1="445" x2="110" y2="458" stroke="#b3b3b3" stroke-width="1.0"/>
<line x1="160" y1="446" x2="160" y2="456" stroke="#8e8e8e" stroke-width="0.9"/>
<line x1="170" y1="446" x2="170" y2="455" stroke="#b3b3b3" stroke-width="1.0"/>
<line x1="184" y1="440" x2="184" y2="460" stroke="#6b6b6b" stroke-width="0.9"/>
<line x1="195" y1="449" x2="195" y2="468" stroke="#6b6b6b" stroke-width="0.9"/>
<line x1="200.5" y1="427.2" x2="200.5" y2="488" stroke="#b3b3b3" stroke-width="1.0"/>
<line x1="194.7" y1="449" x2="194.7" y2="468" stroke="#6b6b6b" stroke-width="0.9"/>
<line x1="224.6" y1="438.9" x2="224.6" y2="471.6" stroke="#6b6b6b" stroke-width="0.9"/>
<line x1="235.5" y1="440" x2="235.5" y2="459.9" stroke="#6b6b6b" stroke-width="0.9"/>
<line x1="250" y1="445" x2="250" y2="458" stroke="#b3b3b3" stroke-width="1.0"/>
<line x1="262" y1="446" x2="262" y2="456" stroke="#8e8e8e" stroke-width="0.9"/>
<line x1="280" y1="444" x2="280" y2="455" stroke="#8e8e8e" stroke-width="0.9"/>
<line x1="319.6" y1="441.2" x2="319.6" y2="475" stroke="#b3b3b3" stroke-width="1.0"/>
<line x1="330" y1="446" x2="330" y2="463" stroke="#6b6b6b" stroke-width="0.9"/>
<line x1="338" y1="440" x2="338" y2="458" stroke="#6b6b6b" stroke-width="0.9"/>
<line x1="343" y1="447" x2="343" y2="460" stroke="#8e8e8e" stroke-width="0.9"/>
<line x1="346.5" y1="440" x2="346.5" y2="478" stroke="#6b6b6b" stroke-width="0.9"/>
<line x1="361" y1="443" x2="361" y2="462" stroke="#b3b3b3" stroke-width="1.0"/>
<line x1="382.7" y1="443" x2="382.7" y2="457" stroke="#6b6b6b" stroke-width="0.9"/>
<line x1="394.4" y1="449" x2="394.4" y2="462" stroke="#8e8e8e" stroke-width="0.9"/>
<line x1="411.7" y1="440" x2="411.7" y2="474" stroke="#b3b3b3" stroke-width="1.0"/>
<line x1="427.1" y1="443" x2="427.1" y2="470" stroke="#8e8e8e" stroke-width="0.9"/>
<line x1="454.5" y1="444" x2="454.5" y2="470.4" stroke="#b3b3b3" stroke-width="1.0"/>
<line x1="515.9" y1="443" x2="515.9" y2="463" stroke="#8e8e8e" stroke-width="0.9"/>
<line x1="521.5" y1="438.2" x2="521.5" y2="478.6" stroke="#b3b3b3" stroke-width="1.0"/>
<line x1="529.7" y1="445" x2="529.7" y2="455" stroke="#6b6b6b" stroke-width="0.9"/>
<line x1="573.6" y1="443" x2="573.6" y2="461" stroke="#b3b3b3" stroke-width="1.0"/>
<line x1="100" y1="444" x2="100" y2="457" stroke="#8e8e8e" stroke-width="0.9"/>
<line x1="105" y1="446" x2="105" y2="455" stroke="#b3b3b3" stroke-width="1.0"/>
<line x1="140" y1="446" x2="140" y2="456" stroke="#8e8e8e" stroke-width="0.9"/>
<line x1="150" y1="447" x2="150" y2="454" stroke="#8e8e8e" stroke-width="0.9"/>
<line x1="210" y1="446" x2="210" y2="455" stroke="#8e8e8e" stroke-width="0.9"/>
<line x1="245" y1="446" x2="245" y2="456" stroke="#8e8e8e" stroke-width="0.9"/>
<line x1="288" y1="446" x2="288" y2="455" stroke="#8e8e8e" stroke-width="0.9"/>
<line x1="300" y1="446" x2="300" y2="456" stroke="#b3b3b3" stroke-width="1.0"/>
<line x1="305" y1="447" x2="305" y2="454" stroke="#8e8e8e" stroke-width="0.9"/>
<line x1="402" y1="446" x2="402" y2="455" stroke="#8e8e8e" stroke-width="0.9"/>
<line x1="420" y1="446" x2="420" y2="456" stroke="#8e8e8e" stroke-width="0.9"/>
<line x1="440" y1="446" x2="440" y2="455" stroke="#8e8e8e" stroke-width="0.9"/>
<line x1="470" y1="446" x2="470" y2="455" stroke="#8e8e8e" stroke-width="0.9"/>
<line x1="480" y1="446" x2="480" y2="454" stroke="#8e8e8e" stroke-width="0.9"/>
<line x1="545" y1="447" x2="545" y2="453" stroke="#8e8e8e" stroke-width="0.9"/>
<line x1="560" y1="447" x2="560" y2="453" stroke="#8e8e8e" stroke-width="0.9"/>
<line x1="590" y1="447" x2="590" y2="453" stroke="#8e8e8e" stroke-width="0.9"/>
<line x1="41" y1="447.2" x2="659.7" y2="447.2" stroke="#333" stroke-width="0.6" stroke-dasharray="0.9,1.1"/>
<line x1="41" y1="452.8" x2="659.7" y2="452.8" stroke="#333" stroke-width="0.6" stroke-dasharray="0.9,1.1"/>
<polyline points="60,466 66,457 100.6,456" stroke="#ee1111" stroke-width="0.7" fill="none"/>
<polyline points="82,469 95,456 100.6,455 128,453.4" stroke="#ee1111" stroke-width="0.7" fill="none"/>
<polyline points="115,464 122,456 128,452" stroke="#3e9fc0" stroke-width="0.7" fill="none"/>
<polyline points="250,456 256.6,454 336,453" stroke="#ee1111" stroke-width="0.7" fill="none"/>
<polyline points="255.4,466 260,459.2 296.3,459.2" stroke="#3e9fc0" stroke-width="0.7" fill="none"/>
<polyline points="290,461 296,455" stroke="#ee1111" stroke-width="0.7" fill="none"/>
<polyline points="322,467 334,455" stroke="#ee1111" stroke-width="0.7" fill="none"/>
<polyline points="350,469 365,469" stroke="#ee1111" stroke-width="0.7" fill="none"/>
<line x1="71.4" y1="449" x2="71.4" y2="456.9" stroke="#ee1111" stroke-width="1.3"/>
<line x1="100.6" y1="449" x2="100.6" y2="455.2" stroke="#ee1111" stroke-width="1.3"/>
<line x1="145.9" y1="449" x2="145.9" y2="455" stroke="#ee1111" stroke-width="1.3"/>
<line x1="200" y1="449" x2="200" y2="453" stroke="#ee1111" stroke-width="1.3"/>
<line x1="296.3" y1="449" x2="296.3" y2="455.2" stroke="#ee1111" stroke-width="1.3"/>
<line x1="336" y1="448.2" x2="336" y2="454" stroke="#ee1111" stroke-width="2.2"/>
<line x1="373.4" y1="449" x2="373.4" y2="460.6" stroke="#ee1111" stroke-width="1.3"/>
<line x1="417.1" y1="449" x2="417.1" y2="455" stroke="#ee1111" stroke-width="1.3"/>
<line x1="444.4" y1="449" x2="444.4" y2="455" stroke="#ee1111" stroke-width="1.3"/>
<line x1="449.8" y1="449" x2="449.8" y2="455" stroke="#ee1111" stroke-width="1.3"/>
<line x1="490.7" y1="449" x2="490.7" y2="455" stroke="#ee1111" stroke-width="1.3"/>
<line x1="616.3" y1="449" x2="616.3" y2="458" stroke="#ee1111" stroke-width="1.3"/>
<line x1="625.4" y1="449" x2="625.4" y2="455" stroke="#ee1111" stroke-width="1.3"/>
<line x1="128" y1="449" x2="128" y2="454" stroke="#3e9fc0" stroke-width="1.3"/>
<line x1="296.3" y1="449" x2="296.3" y2="459" stroke="#3e9fc0" stroke-width="1.3"/>
<line x1="41" y1="450" x2="659.7" y2="450" stroke="#000" stroke-width="1.5"/>
<text x="55.8" y="464.6" font-size="7.9" fill="#ee1111" stroke="#ee1111" stroke-width="0.19" text-anchor="middle">EPHB2</text>
<text x="54.7" y="474.4" font-size="7.9" fill="#ee1111" stroke="#ee1111" stroke-width="0.19" text-anchor="middle">VRK2</text>
<text x="82.1" y="476.2" font-size="7.9" fill="#ee1111" stroke="#ee1111" stroke-width="0.19" text-anchor="middle">TKT</text>
<text x="114.5" y="472" font-size="7.9" fill="#3e9fc0" stroke="#3e9fc0" stroke-width="0.19" text-anchor="middle">FHIT</text>
<text x="141" y="463.2" font-size="7.9" fill="#3e9fc0" stroke="#3e9fc0" stroke-width="0.19" text-anchor="middle">GPX1</text>
<text x="148.4" y="472" font-size="7.9" fill="#ee1111" stroke="#ee1111" stroke-width="0.19" text-anchor="middle">HTT</text>
<text x="174.7" y="467.8" font-size="7.9" fill="#ee1111" stroke="#ee1111" stroke-width="0.19" text-anchor="middle">NR3C1</text>
<text x="210.6" y="463.2" font-size="7.9" fill="#ee1111" stroke="#ee1111" stroke-width="0.19" text-anchor="middle">CDK14</text>
<text x="251.4" y="463.2" font-size="7.9" fill="#ee1111" stroke="#ee1111" stroke-width="0.19" text-anchor="middle">HSPA5</text>
<text x="251.6" y="474.4" font-size="7.9" fill="#3e9fc0" stroke="#3e9fc0" stroke-width="0.19" text-anchor="middle">TLR4</text>
<text x="286.6" y="469" font-size="7.9" fill="#ee1111" stroke="#ee1111" stroke-width="0.19" text-anchor="middle">PSMC3</text>
<text x="319.1" y="463.4" font-size="7.9" fill="#3e9fc0" stroke="#3e9fc0" stroke-width="0.19" text-anchor="middle">FADS1</text>
<text x="322.6" y="475.5" font-size="7.9" fill="#ee1111" stroke="#ee1111" stroke-width="0.19" text-anchor="middle">P2RX3</text>
<text x="352" y="467.4" font-size="7.9" fill="#ee1111" stroke="#ee1111" stroke-width="0.19" text-anchor="middle">SCYL1</text>
<text x="360.6" y="476.7" font-size="7.9" fill="#ee1111" stroke="#ee1111" stroke-width="0.19" text-anchor="middle">CCS</text>
<text x="389.6" y="472" font-size="7.9" fill="#ee1111" stroke="#ee1111" stroke-width="0.19" text-anchor="middle">TAOK3</text>
<text x="410.6" y="463.2" font-size="7.9" fill="#ee1111" stroke="#ee1111" stroke-width="0.19" text-anchor="middle">MTHFD1</text>
<text x="444.6" y="463.2" font-size="7.9" fill="#ee1111" stroke="#ee1111" stroke-width="0.19" text-anchor="middle">RHCG</text>
<text x="477.4" y="463.2" font-size="7.9" fill="#ee1111" stroke="#ee1111" stroke-width="0.19" text-anchor="middle">MAP2K1</text>
<text x="524.3" y="463.9" font-size="7.9" fill="#ee1111" stroke="#ee1111" stroke-width="0.19" text-anchor="middle">NR1D1</text>
<text x="597.5" y="463.2" font-size="7.9" fill="#ee1111" stroke="#ee1111" stroke-width="0.19" text-anchor="middle">RANBP1</text>
<text x="640.4" y="463.2" font-size="7.9" fill="#ee1111" stroke="#ee1111" stroke-width="0.19" text-anchor="middle">CACNG2</text>
<text x="48.5" y="423.9" font-size="10.4" fill="#000" font-weight="bold">Major depressive disorder (MDD)</text>
<text x="287.6" y="420.4" font-size="10.4" fill="#000" stroke="#000" stroke-width="0.22">test using lead GWAS SNP</text>
<text x="294" y="488.1" font-size="10.4" fill="#000" stroke="#000" stroke-width="0.22">gene–based test (GenT)</text>
<rect x="41" y="409.8" width="618.7" height="80.7" fill="none" stroke="#000" stroke-width="1.8"/>
<line x1="38" y1="412.6" x2="41" y2="412.6" stroke="#333" stroke-width="0.9"/>
<text x="34.8" y="416.1" font-size="9.6" fill="#4d4d4d" stroke="#4d4d4d" stroke-width="0.22" text-anchor="end">20</text>
<line x1="38" y1="431.3" x2="41" y2="431.3" stroke="#333" stroke-width="0.9"/>
<text x="34.8" y="434.8" font-size="9.6" fill="#4d4d4d" stroke="#4d4d4d" stroke-width="0.22" text-anchor="end">10</text>
<line x1="38" y1="450" x2="41" y2="450" stroke="#333" stroke-width="0.9"/>
<text x="34.8" y="453.4" font-size="9.6" fill="#4d4d4d" stroke="#4d4d4d" stroke-width="0.22" text-anchor="end">0</text>
<line x1="38" y1="468.7" x2="41" y2="468.7" stroke="#333" stroke-width="0.9"/>
<text x="34.8" y="472.1" font-size="9.6" fill="#4d4d4d" stroke="#4d4d4d" stroke-width="0.22" text-anchor="end">10</text>
<line x1="38" y1="487.4" x2="41" y2="487.4" stroke="#333" stroke-width="0.9"/>
<text x="34.8" y="490.8" font-size="9.6" fill="#4d4d4d" stroke="#4d4d4d" stroke-width="0.22" text-anchor="end">20</text>
<line x1="81.9" y1="491.4" x2="81.9" y2="493.8" stroke="#333" stroke-width="0.9"/>
<line x1="107.7" y1="491.4" x2="107.7" y2="493.8" stroke="#333" stroke-width="0.9"/>
<line x1="133.9" y1="491.4" x2="133.9" y2="493.8" stroke="#333" stroke-width="0.9"/>
<line x1="157.5" y1="491.4" x2="157.5" y2="493.8" stroke="#333" stroke-width="0.9"/>
<line x1="191.4" y1="491.4" x2="191.4" y2="493.8" stroke="#333" stroke-width="0.9"/>
<line x1="204.7" y1="491.4" x2="204.7" y2="493.8" stroke="#333" stroke-width="0.9"/>
<line x1="239.7" y1="491.4" x2="239.7" y2="493.8" stroke="#333" stroke-width="0.9"/>
<line x1="260.9" y1="491.4" x2="260.9" y2="493.8" stroke="#333" stroke-width="0.9"/>
<line x1="293.8" y1="491.4" x2="293.8" y2="493.8" stroke="#333" stroke-width="0.9"/>
<line x1="317.2" y1="491.4" x2="317.2" y2="493.8" stroke="#333" stroke-width="0.9"/>
<line x1="335.8" y1="491.4" x2="335.8" y2="493.8" stroke="#333" stroke-width="0.9"/>
<line x1="362.6" y1="491.4" x2="362.6" y2="493.8" stroke="#333" stroke-width="0.9"/>
<line x1="388.7" y1="491.4" x2="388.7" y2="493.8" stroke="#333" stroke-width="0.9"/>
<line x1="416.4" y1="491.4" x2="416.4" y2="493.8" stroke="#333" stroke-width="0.9"/>
<line x1="444.7" y1="491.4" x2="444.7" y2="493.8" stroke="#333" stroke-width="0.9"/>
<line x1="462.8" y1="491.4" x2="462.8" y2="493.8" stroke="#333" stroke-width="0.9"/>
<line x1="492" y1="491.4" x2="492" y2="493.8" stroke="#333" stroke-width="0.9"/>
<line x1="517.2" y1="491.4" x2="517.2" y2="493.8" stroke="#333" stroke-width="0.9"/>
<line x1="547.4" y1="491.4" x2="547.4" y2="493.8" stroke="#333" stroke-width="0.9"/>
<line x1="571.1" y1="491.4" x2="571.1" y2="493.8" stroke="#333" stroke-width="0.9"/>
<line x1="601.3" y1="491.4" x2="601.3" y2="493.8" stroke="#333" stroke-width="0.9"/>
<line x1="623.9" y1="491.4" x2="623.9" y2="493.8" stroke="#333" stroke-width="0.9"/>
<rect x="41.9" y="499" width="618.4" height="80.5" fill="#ebebeb" stroke="none" stroke-width="1"/>
<line x1="262.3" y1="533.8" x2="262.3" y2="566.4" stroke="#b3b3b3" stroke-width="1.15"/>
<line x1="262.1" y1="526.2" x2="262.1" y2="541.6" stroke="#b3b3b3" stroke-width="1.15"/>
<line x1="272.5" y1="532.9" x2="272.5" y2="541.6" stroke="#b3b3b3" stroke-width="1.15"/>
<line x1="197.7" y1="538.7" x2="197.7" y2="556.7" stroke="#6b6b6b" stroke-width="1.15"/>
<line x1="324.4" y1="535.9" x2="324.4" y2="545.7" stroke="#b3b3b3" stroke-width="1.15"/>
<line x1="348.1" y1="532.7" x2="348.1" y2="558" stroke="#6b6b6b" stroke-width="1.15"/>
<line x1="91.8" y1="538" x2="91.8" y2="542.3" stroke="#6b6b6b" stroke-width="1.15"/>
<line x1="403.7" y1="536.7" x2="403.7" y2="548.7" stroke="#8e8e8e" stroke-width="1.15"/>
<line x1="291.3" y1="532.4" x2="291.3" y2="546.6" stroke="#6b6b6b" stroke-width="1.15"/>
<line x1="264.5" y1="537.2" x2="264.5" y2="575.4" stroke="#6b6b6b" stroke-width="1.15"/>
<line x1="373.2" y1="536.8" x2="373.2" y2="542.1" stroke="#8e8e8e" stroke-width="1.15"/>
<line x1="78.9" y1="533.7" x2="78.9" y2="540.6" stroke="#6b6b6b" stroke-width="1.15"/>
<line x1="433.4" y1="536.1" x2="433.4" y2="572.5" stroke="#6b6b6b" stroke-width="1.15"/>
<line x1="158.7" y1="521.5" x2="158.7" y2="540" stroke="#b3b3b3" stroke-width="1.15"/>
<line x1="491.5" y1="537.7" x2="491.5" y2="539.8" stroke="#8e8e8e" stroke-width="1.15"/>
<line x1="403.9" y1="537.2" x2="403.9" y2="540.4" stroke="#8e8e8e" stroke-width="1.15"/>
<line x1="72.6" y1="535.8" x2="72.6" y2="566.2" stroke="#8e8e8e" stroke-width="1.15"/>
<line x1="172.9" y1="538.7" x2="172.9" y2="540" stroke="#b3b3b3" stroke-width="1.15"/>
<line x1="143.1" y1="533.8" x2="143.1" y2="545.6" stroke="#8e8e8e" stroke-width="1.15"/>
<line x1="493.6" y1="534.4" x2="493.6" y2="542.2" stroke="#b3b3b3" stroke-width="1.15"/>
<line x1="116.6" y1="535.7" x2="116.6" y2="541.9" stroke="#8e8e8e" stroke-width="1.15"/>
<line x1="441.1" y1="514.2" x2="441.1" y2="548.8" stroke="#6b6b6b" stroke-width="1.15"/>
<line x1="157.4" y1="536" x2="157.4" y2="559.5" stroke="#b3b3b3" stroke-width="1.15"/>
<line x1="109.5" y1="508.4" x2="109.5" y2="541.9" stroke="#8e8e8e" stroke-width="1.15"/>
<line x1="70.2" y1="533" x2="70.2" y2="557.9" stroke="#b3b3b3" stroke-width="1.15"/>
<line x1="97.9" y1="538.8" x2="97.9" y2="548.5" stroke="#8e8e8e" stroke-width="1.15"/>
<line x1="72.7" y1="536.3" x2="72.7" y2="549.6" stroke="#8e8e8e" stroke-width="1.15"/>
<line x1="482.3" y1="537.1" x2="482.3" y2="543.9" stroke="#b3b3b3" stroke-width="1.15"/>
<line x1="145.3" y1="538.3" x2="145.3" y2="564.4" stroke="#b3b3b3" stroke-width="1.15"/>
<line x1="174.3" y1="538" x2="174.3" y2="553.5" stroke="#b3b3b3" stroke-width="1.15"/>
<line x1="151.3" y1="518.9" x2="151.3" y2="561.7" stroke="#b3b3b3" stroke-width="1.15"/>
<line x1="100.1" y1="539.1" x2="100.1" y2="540.6" stroke="#b3b3b3" stroke-width="1.15"/>
<line x1="483.8" y1="538.5" x2="483.8" y2="545.8" stroke="#8e8e8e" stroke-width="1.15"/>
<line x1="248.6" y1="523.3" x2="248.6" y2="546.5" stroke="#b3b3b3" stroke-width="1.15"/>
<line x1="142.1" y1="530.7" x2="142.1" y2="540.1" stroke="#8e8e8e" stroke-width="1.15"/>
<line x1="274" y1="532.2" x2="274" y2="549.4" stroke="#6b6b6b" stroke-width="1.15"/>
<line x1="187.6" y1="522.3" x2="187.6" y2="541.8" stroke="#6b6b6b" stroke-width="1.15"/>
<line x1="96" y1="535.8" x2="96" y2="542.4" stroke="#6b6b6b" stroke-width="1.15"/>
<line x1="142.5" y1="536.3" x2="142.5" y2="548.3" stroke="#8e8e8e" stroke-width="1.15"/>
<line x1="106" y1="538.4" x2="106" y2="545.7" stroke="#8e8e8e" stroke-width="1.15"/>
<line x1="351.1" y1="531.4" x2="351.1" y2="548.6" stroke="#8e8e8e" stroke-width="1.15"/>
<line x1="322" y1="521.8" x2="322" y2="546.1" stroke="#8e8e8e" stroke-width="1.15"/>
<line x1="370.2" y1="516.9" x2="370.2" y2="539.6" stroke="#6b6b6b" stroke-width="1.15"/>
<line x1="275.3" y1="530.4" x2="275.3" y2="543.4" stroke="#6b6b6b" stroke-width="1.15"/>
<line x1="98.7" y1="534" x2="98.7" y2="553.4" stroke="#8e8e8e" stroke-width="1.15"/>
<line x1="410.3" y1="522.5" x2="410.3" y2="543.9" stroke="#b3b3b3" stroke-width="1.15"/>
<line x1="457" y1="525.4" x2="457" y2="545" stroke="#6b6b6b" stroke-width="1.15"/>
<line x1="440.7" y1="533.6" x2="440.7" y2="549.6" stroke="#b3b3b3" stroke-width="1.15"/>
<line x1="230.6" y1="539.3" x2="230.6" y2="540.2" stroke="#6b6b6b" stroke-width="1.15"/>
<line x1="343.5" y1="505.4" x2="343.5" y2="561.5" stroke="#8e8e8e" stroke-width="1.15"/>
<line x1="234.6" y1="530.3" x2="234.6" y2="548.5" stroke="#b3b3b3" stroke-width="1.15"/>
<line x1="266.8" y1="534.1" x2="266.8" y2="547" stroke="#b3b3b3" stroke-width="1.15"/>
<line x1="78.9" y1="533.1" x2="78.9" y2="546.3" stroke="#8e8e8e" stroke-width="1.15"/>
<line x1="481.5" y1="539" x2="481.5" y2="547.3" stroke="#b3b3b3" stroke-width="1.15"/>
<line x1="177" y1="539.3" x2="177" y2="543.1" stroke="#b3b3b3" stroke-width="1.15"/>
<line x1="153.9" y1="538.1" x2="153.9" y2="564.1" stroke="#b3b3b3" stroke-width="1.15"/>
<line x1="282.3" y1="537.5" x2="282.3" y2="544.8" stroke="#8e8e8e" stroke-width="1.15"/>
<line x1="152.2" y1="535.5" x2="152.2" y2="556.5" stroke="#8e8e8e" stroke-width="1.15"/>
<line x1="448" y1="536.1" x2="448" y2="548.5" stroke="#8e8e8e" stroke-width="1.15"/>
<line x1="157.1" y1="538.4" x2="157.1" y2="543.9" stroke="#6b6b6b" stroke-width="1.15"/>
<line x1="374.7" y1="518.9" x2="374.7" y2="542.8" stroke="#8e8e8e" stroke-width="1.15"/>
<line x1="115" y1="535" x2="115" y2="566.6" stroke="#b3b3b3" stroke-width="1.15"/>
<line x1="232" y1="534.4" x2="232" y2="551.1" stroke="#b3b3b3" stroke-width="1.15"/>
<line x1="262.4" y1="538.9" x2="262.4" y2="539.7" stroke="#b3b3b3" stroke-width="1.15"/>
<line x1="84" y1="531" x2="84" y2="548.2" stroke="#8e8e8e" stroke-width="1.15"/>
<line x1="347.8" y1="533.7" x2="347.8" y2="550.1" stroke="#b3b3b3" stroke-width="1.15"/>
<line x1="263.4" y1="539.2" x2="263.4" y2="557.9" stroke="#8e8e8e" stroke-width="1.15"/>
<line x1="404.2" y1="528.5" x2="404.2" y2="575.4" stroke="#6b6b6b" stroke-width="1.15"/>
<line x1="259.8" y1="532.6" x2="259.8" y2="550.5" stroke="#8e8e8e" stroke-width="1.15"/>
<line x1="482" y1="535.5" x2="482" y2="540.6" stroke="#b3b3b3" stroke-width="1.15"/>
<line x1="177.1" y1="530.8" x2="177.1" y2="554.1" stroke="#b3b3b3" stroke-width="1.15"/>
<line x1="376" y1="538.1" x2="376" y2="542.7" stroke="#8e8e8e" stroke-width="1.15"/>
<line x1="300.2" y1="519.3" x2="300.2" y2="546.7" stroke="#8e8e8e" stroke-width="1.15"/>
<line x1="236.8" y1="528.7" x2="236.8" y2="564.1" stroke="#6b6b6b" stroke-width="1.15"/>
<line x1="244.1" y1="524.1" x2="244.1" y2="544.5" stroke="#b3b3b3" stroke-width="1.15"/>
<line x1="262.8" y1="532.7" x2="262.8" y2="564.6" stroke="#b3b3b3" stroke-width="1.15"/>
<line x1="304.7" y1="532.2" x2="304.7" y2="546.7" stroke="#8e8e8e" stroke-width="1.15"/>
<line x1="267.2" y1="532.2" x2="267.2" y2="541.8" stroke="#6b6b6b" stroke-width="1.15"/>
<line x1="158.6" y1="523.7" x2="158.6" y2="575.4" stroke="#8e8e8e" stroke-width="1.15"/>
<line x1="299" y1="528.7" x2="299" y2="543.4" stroke="#6b6b6b" stroke-width="1.15"/>
<line x1="217.3" y1="538.8" x2="217.3" y2="545.5" stroke="#b3b3b3" stroke-width="1.15"/>
<line x1="248.9" y1="537.2" x2="248.9" y2="565.8" stroke="#8e8e8e" stroke-width="1.15"/>
<line x1="417.2" y1="538.9" x2="417.2" y2="556.2" stroke="#8e8e8e" stroke-width="1.15"/>
<line x1="297.4" y1="531.5" x2="297.4" y2="565.3" stroke="#b3b3b3" stroke-width="1.15"/>
<line x1="130.5" y1="534.4" x2="130.5" y2="552.8" stroke="#b3b3b3" stroke-width="1.15"/>
<line x1="476.5" y1="537.1" x2="476.5" y2="555" stroke="#6b6b6b" stroke-width="1.15"/>
<line x1="394.9" y1="535.4" x2="394.9" y2="548" stroke="#b3b3b3" stroke-width="1.15"/>
<line x1="343.3" y1="534.3" x2="343.3" y2="558.8" stroke="#b3b3b3" stroke-width="1.15"/>
<line x1="177.3" y1="531.8" x2="177.3" y2="571.8" stroke="#b3b3b3" stroke-width="1.15"/>
<line x1="156.4" y1="526.4" x2="156.4" y2="575.4" stroke="#b3b3b3" stroke-width="1.15"/>
<line x1="184.5" y1="534.7" x2="184.5" y2="544.9" stroke="#6b6b6b" stroke-width="1.15"/>
<line x1="284.4" y1="533" x2="284.4" y2="539.7" stroke="#6b6b6b" stroke-width="1.15"/>
<line x1="290" y1="535.9" x2="290" y2="556.3" stroke="#b3b3b3" stroke-width="1.15"/>
<line x1="118.9" y1="538.7" x2="118.9" y2="541.3" stroke="#b3b3b3" stroke-width="1.15"/>
<line x1="265.2" y1="522.1" x2="265.2" y2="556.2" stroke="#b3b3b3" stroke-width="1.15"/>
<line x1="182.8" y1="535" x2="182.8" y2="540.8" stroke="#b3b3b3" stroke-width="1.15"/>
<line x1="457" y1="520.6" x2="457" y2="565.8" stroke="#b3b3b3" stroke-width="1.15"/>
<line x1="203.7" y1="537.9" x2="203.7" y2="549.5" stroke="#8e8e8e" stroke-width="1.15"/>
<line x1="122.2" y1="529.1" x2="122.2" y2="539.6" stroke="#8e8e8e" stroke-width="1.15"/>
<line x1="133.5" y1="539.3" x2="133.5" y2="542.9" stroke="#8e8e8e" stroke-width="1.15"/>
<line x1="172.1" y1="534.7" x2="172.1" y2="546.6" stroke="#b3b3b3" stroke-width="1.15"/>
<line x1="119.3" y1="534.5" x2="119.3" y2="542.4" stroke="#8e8e8e" stroke-width="1.15"/>
<line x1="370.4" y1="525" x2="370.4" y2="539.6" stroke="#b3b3b3" stroke-width="1.15"/>
<line x1="424.1" y1="532.9" x2="424.1" y2="547.5" stroke="#b3b3b3" stroke-width="1.15"/>
<line x1="343.1" y1="534.2" x2="343.1" y2="559.3" stroke="#b3b3b3" stroke-width="1.15"/>
<line x1="320.6" y1="538.4" x2="320.6" y2="565.1" stroke="#8e8e8e" stroke-width="1.15"/>
<line x1="457.8" y1="536.8" x2="457.8" y2="543.4" stroke="#8e8e8e" stroke-width="1.15"/>
<line x1="160.7" y1="505.4" x2="160.7" y2="562.2" stroke="#8e8e8e" stroke-width="1.15"/>
<line x1="451.8" y1="538.4" x2="451.8" y2="540.4" stroke="#b3b3b3" stroke-width="1.15"/>
<line x1="108.1" y1="527.2" x2="108.1" y2="545.1" stroke="#8e8e8e" stroke-width="1.15"/>
<line x1="153.1" y1="532.6" x2="153.1" y2="556.2" stroke="#6b6b6b" stroke-width="1.15"/>
<line x1="153.2" y1="531.6" x2="153.2" y2="564.7" stroke="#8e8e8e" stroke-width="1.15"/>
<line x1="116.1" y1="534.6" x2="116.1" y2="554.2" stroke="#b3b3b3" stroke-width="1.15"/>
<line x1="499.4" y1="533.3" x2="499.4" y2="547.9" stroke="#b3b3b3" stroke-width="1.15"/>
<line x1="112.1" y1="539.1" x2="112.1" y2="547.8" stroke="#b3b3b3" stroke-width="1.15"/>
<line x1="458.8" y1="534.9" x2="458.8" y2="541.6" stroke="#6b6b6b" stroke-width="1.15"/>
<line x1="154.5" y1="526.9" x2="154.5" y2="575.4" stroke="#6b6b6b" stroke-width="1.15"/>
<line x1="317.6" y1="538.4" x2="317.6" y2="551.3" stroke="#6b6b6b" stroke-width="1.15"/>
<line x1="397.9" y1="536.7" x2="397.9" y2="546" stroke="#b3b3b3" stroke-width="1.15"/>
<line x1="219.9" y1="537.8" x2="219.9" y2="544.3" stroke="#6b6b6b" stroke-width="1.15"/>
<line x1="432.4" y1="538" x2="432.4" y2="545.7" stroke="#8e8e8e" stroke-width="1.15"/>
<line x1="241.9" y1="537.9" x2="241.9" y2="541.3" stroke="#b3b3b3" stroke-width="1.15"/>
<line x1="409.9" y1="536.7" x2="409.9" y2="540.3" stroke="#b3b3b3" stroke-width="1.15"/>
<line x1="313.2" y1="538" x2="313.2" y2="548.6" stroke="#8e8e8e" stroke-width="1.15"/>
<line x1="415.3" y1="537.4" x2="415.3" y2="564.7" stroke="#8e8e8e" stroke-width="1.15"/>
<line x1="419.6" y1="535.8" x2="419.6" y2="563.1" stroke="#b3b3b3" stroke-width="1.15"/>
<line x1="367.5" y1="529.4" x2="367.5" y2="554.5" stroke="#b3b3b3" stroke-width="1.15"/>
<line x1="155.8" y1="538" x2="155.8" y2="556.1" stroke="#8e8e8e" stroke-width="1.15"/>
<line x1="269.5" y1="539.3" x2="269.5" y2="544" stroke="#b3b3b3" stroke-width="1.15"/>
<line x1="87.5" y1="537.2" x2="87.5" y2="573.4" stroke="#8e8e8e" stroke-width="1.15"/>
<line x1="212.6" y1="532" x2="212.6" y2="548.2" stroke="#b3b3b3" stroke-width="1.15"/>
<line x1="99.3" y1="534.5" x2="99.3" y2="546.6" stroke="#8e8e8e" stroke-width="1.15"/>
<line x1="370.3" y1="529.6" x2="370.3" y2="575.4" stroke="#6b6b6b" stroke-width="1.15"/>
<line x1="115.8" y1="538.6" x2="115.8" y2="542.2" stroke="#b3b3b3" stroke-width="1.15"/>
<line x1="240.3" y1="539" x2="240.3" y2="541.7" stroke="#b3b3b3" stroke-width="1.15"/>
<line x1="70.7" y1="537.4" x2="70.7" y2="542.8" stroke="#8e8e8e" stroke-width="1.15"/>
<line x1="304.7" y1="534.6" x2="304.7" y2="575.1" stroke="#b3b3b3" stroke-width="1.15"/>
<line x1="433.3" y1="538.7" x2="433.3" y2="545.5" stroke="#6b6b6b" stroke-width="1.15"/>
<line x1="304.4" y1="531.8" x2="304.4" y2="571.9" stroke="#b3b3b3" stroke-width="1.15"/>
<line x1="469.7" y1="538.2" x2="469.7" y2="546.1" stroke="#8e8e8e" stroke-width="1.15"/>
<line x1="437.4" y1="534.1" x2="437.4" y2="548.9" stroke="#b3b3b3" stroke-width="1.15"/>
<line x1="476.2" y1="537.5" x2="476.2" y2="543.3" stroke="#b3b3b3" stroke-width="1.15"/>
<line x1="201.6" y1="534.2" x2="201.6" y2="546.3" stroke="#8e8e8e" stroke-width="1.15"/>
<line x1="309.3" y1="537.1" x2="309.3" y2="552.6" stroke="#8e8e8e" stroke-width="1.15"/>
<line x1="77.7" y1="529.3" x2="77.7" y2="548.6" stroke="#8e8e8e" stroke-width="1.15"/>
<line x1="243.4" y1="531.5" x2="243.4" y2="540" stroke="#8e8e8e" stroke-width="1.15"/>
<line x1="390.8" y1="539" x2="390.8" y2="575.4" stroke="#8e8e8e" stroke-width="1.15"/>
<line x1="97.9" y1="523.3" x2="97.9" y2="545.3" stroke="#b3b3b3" stroke-width="1.15"/>
<line x1="174.9" y1="529.8" x2="174.9" y2="539.9" stroke="#6b6b6b" stroke-width="1.15"/>
<line x1="472.8" y1="535" x2="472.8" y2="542.7" stroke="#8e8e8e" stroke-width="1.15"/>
<line x1="328" y1="538.6" x2="328" y2="549.6" stroke="#b3b3b3" stroke-width="1.15"/>
<line x1="117.2" y1="525.9" x2="117.2" y2="544" stroke="#8e8e8e" stroke-width="1.15"/>
<line x1="120" y1="535.4" x2="120" y2="550.9" stroke="#b3b3b3" stroke-width="1.15"/>
<line x1="326.9" y1="532.4" x2="326.9" y2="551.4" stroke="#8e8e8e" stroke-width="1.15"/>
<line x1="403.6" y1="534.2" x2="403.6" y2="575.4" stroke="#8e8e8e" stroke-width="1.15"/>
<line x1="384.7" y1="537.5" x2="384.7" y2="540.7" stroke="#8e8e8e" stroke-width="1.15"/>
<line x1="406.4" y1="532.7" x2="406.4" y2="544.1" stroke="#8e8e8e" stroke-width="1.15"/>
<line x1="330.7" y1="530.6" x2="330.7" y2="551.9" stroke="#8e8e8e" stroke-width="1.15"/>
<line x1="340.8" y1="529.8" x2="340.8" y2="541.6" stroke="#8e8e8e" stroke-width="1.15"/>
<line x1="283.9" y1="532.2" x2="283.9" y2="541.7" stroke="#6b6b6b" stroke-width="1.15"/>
<line x1="338.7" y1="539.3" x2="338.7" y2="542.5" stroke="#6b6b6b" stroke-width="1.15"/>
<line x1="336.5" y1="538.7" x2="336.5" y2="547.6" stroke="#6b6b6b" stroke-width="1.15"/>
<line x1="394" y1="522.7" x2="394" y2="541.2" stroke="#8e8e8e" stroke-width="1.15"/>
<line x1="339.9" y1="536.2" x2="339.9" y2="546.2" stroke="#8e8e8e" stroke-width="1.15"/>
<line x1="212.8" y1="534.7" x2="212.8" y2="540.9" stroke="#6b6b6b" stroke-width="1.15"/>
<line x1="414.2" y1="535.3" x2="414.2" y2="557.4" stroke="#8e8e8e" stroke-width="1.15"/>
<line x1="258.8" y1="530" x2="258.8" y2="544.6" stroke="#8e8e8e" stroke-width="1.15"/>
<line x1="226.1" y1="532.1" x2="226.1" y2="575.4" stroke="#8e8e8e" stroke-width="1.15"/>
<line x1="192.2" y1="529.7" x2="192.2" y2="557.7" stroke="#8e8e8e" stroke-width="1.15"/>
<line x1="251.6" y1="536.2" x2="251.6" y2="540.5" stroke="#8e8e8e" stroke-width="1.15"/>
<line x1="100.1" y1="538.8" x2="100.1" y2="548.1" stroke="#b3b3b3" stroke-width="1.15"/>
<line x1="419.8" y1="535.1" x2="419.8" y2="557.5" stroke="#6b6b6b" stroke-width="1.15"/>
<line x1="99" y1="537.8" x2="99" y2="550.7" stroke="#6b6b6b" stroke-width="1.15"/>
<line x1="367.7" y1="534.7" x2="367.7" y2="554.5" stroke="#8e8e8e" stroke-width="1.15"/>
<line x1="188.8" y1="538.3" x2="188.8" y2="544" stroke="#8e8e8e" stroke-width="1.15"/>
<line x1="225" y1="538.5" x2="225" y2="552.3" stroke="#b3b3b3" stroke-width="1.15"/>
<line x1="324.1" y1="523.5" x2="324.1" y2="551.5" stroke="#8e8e8e" stroke-width="1.15"/>
<line x1="256.1" y1="528.3" x2="256.1" y2="543.2" stroke="#8e8e8e" stroke-width="1.15"/>
<line x1="162" y1="515.9" x2="162" y2="553.1" stroke="#b3b3b3" stroke-width="1.15"/>
<line x1="173.8" y1="536.3" x2="173.8" y2="544.2" stroke="#8e8e8e" stroke-width="1.15"/>
<line x1="359.8" y1="533.4" x2="359.8" y2="556" stroke="#b3b3b3" stroke-width="1.15"/>
<line x1="225.8" y1="536" x2="225.8" y2="541.2" stroke="#b3b3b3" stroke-width="1.15"/>
<line x1="310.2" y1="538.1" x2="310.2" y2="554.3" stroke="#8e8e8e" stroke-width="1.15"/>
<line x1="418.3" y1="537.7" x2="418.3" y2="540" stroke="#8e8e8e" stroke-width="1.15"/>
<line x1="312.3" y1="516.2" x2="312.3" y2="550.4" stroke="#b3b3b3" stroke-width="1.15"/>
<line x1="93.8" y1="534" x2="93.8" y2="555.6" stroke="#6b6b6b" stroke-width="1.15"/>
<line x1="211.2" y1="537.2" x2="211.2" y2="540.6" stroke="#8e8e8e" stroke-width="1.15"/>
<line x1="102.8" y1="532.5" x2="102.8" y2="541" stroke="#b3b3b3" stroke-width="1.15"/>
<line x1="172.5" y1="537.7" x2="172.5" y2="554.5" stroke="#b3b3b3" stroke-width="1.15"/>
<line x1="212.8" y1="535.2" x2="212.8" y2="543.9" stroke="#8e8e8e" stroke-width="1.15"/>
<line x1="357.8" y1="534.7" x2="357.8" y2="547.5" stroke="#6b6b6b" stroke-width="1.15"/>
<line x1="373.3" y1="522.5" x2="373.3" y2="544.9" stroke="#8e8e8e" stroke-width="1.15"/>
<line x1="436.4" y1="528.2" x2="436.4" y2="558.2" stroke="#b3b3b3" stroke-width="1.15"/>
<line x1="481.7" y1="535.9" x2="481.7" y2="543.3" stroke="#6b6b6b" stroke-width="1.15"/>
<line x1="414.2" y1="535.7" x2="414.2" y2="545.1" stroke="#8e8e8e" stroke-width="1.15"/>
<line x1="172.6" y1="538.2" x2="172.6" y2="549.9" stroke="#8e8e8e" stroke-width="1.15"/>
<line x1="205.3" y1="536" x2="205.3" y2="547.3" stroke="#8e8e8e" stroke-width="1.15"/>
<line x1="486.9" y1="539.2" x2="486.9" y2="541.3" stroke="#6b6b6b" stroke-width="1.15"/>
<line x1="197.7" y1="538.2" x2="197.7" y2="565.8" stroke="#6b6b6b" stroke-width="1.15"/>
<line x1="392.9" y1="539.3" x2="392.9" y2="546.3" stroke="#6b6b6b" stroke-width="1.15"/>
<line x1="201.6" y1="537.9" x2="201.6" y2="544.1" stroke="#b3b3b3" stroke-width="1.15"/>
<line x1="168.2" y1="530.8" x2="168.2" y2="548.8" stroke="#8e8e8e" stroke-width="1.15"/>
<line x1="257.8" y1="524" x2="257.8" y2="544.8" stroke="#8e8e8e" stroke-width="1.15"/>
<line x1="338" y1="519.9" x2="338" y2="547.8" stroke="#8e8e8e" stroke-width="1.15"/>
<line x1="276.4" y1="535.9" x2="276.4" y2="572" stroke="#b3b3b3" stroke-width="1.15"/>
<line x1="400.9" y1="538.7" x2="400.9" y2="560.1" stroke="#b3b3b3" stroke-width="1.15"/>
<line x1="87.6" y1="519.2" x2="87.6" y2="556.3" stroke="#b3b3b3" stroke-width="1.15"/>
<line x1="489.6" y1="534" x2="489.6" y2="547.2" stroke="#6b6b6b" stroke-width="1.15"/>
<line x1="351.4" y1="537.5" x2="351.4" y2="539.5" stroke="#b3b3b3" stroke-width="1.15"/>
<line x1="458.9" y1="535.3" x2="458.9" y2="542.4" stroke="#b3b3b3" stroke-width="1.15"/>
<line x1="329" y1="538.2" x2="329" y2="541.2" stroke="#8e8e8e" stroke-width="1.15"/>
<line x1="128.8" y1="523.1" x2="128.8" y2="556.8" stroke="#8e8e8e" stroke-width="1.15"/>
<line x1="342.4" y1="505.4" x2="342.4" y2="542.6" stroke="#b3b3b3" stroke-width="1.15"/>
<line x1="89" y1="533.6" x2="89" y2="541.5" stroke="#8e8e8e" stroke-width="1.15"/>
<line x1="422.5" y1="526.6" x2="422.5" y2="557.4" stroke="#6b6b6b" stroke-width="1.15"/>
<line x1="218.6" y1="532.9" x2="218.6" y2="547.2" stroke="#b3b3b3" stroke-width="1.15"/>
<line x1="367.1" y1="538.8" x2="367.1" y2="553.8" stroke="#b3b3b3" stroke-width="1.15"/>
<line x1="438.1" y1="536.9" x2="438.1" y2="555.7" stroke="#b3b3b3" stroke-width="1.15"/>
<line x1="149.8" y1="531.6" x2="149.8" y2="555.3" stroke="#b3b3b3" stroke-width="1.15"/>
<line x1="156.4" y1="534" x2="156.4" y2="547.2" stroke="#8e8e8e" stroke-width="1.15"/>
<line x1="476.8" y1="528" x2="476.8" y2="541.4" stroke="#b3b3b3" stroke-width="1.15"/>
<line x1="99" y1="536.9" x2="99" y2="546" stroke="#6b6b6b" stroke-width="1.15"/>
<line x1="222.1" y1="531.5" x2="222.1" y2="540.6" stroke="#b3b3b3" stroke-width="1.15"/>
<line x1="359.3" y1="530" x2="359.3" y2="555.4" stroke="#6b6b6b" stroke-width="1.15"/>
<line x1="349.8" y1="539.3" x2="349.8" y2="544.3" stroke="#b3b3b3" stroke-width="1.15"/>
<line x1="169.1" y1="533.7" x2="169.1" y2="545.8" stroke="#6b6b6b" stroke-width="1.15"/>
<line x1="437.5" y1="526.7" x2="437.5" y2="552.7" stroke="#b3b3b3" stroke-width="1.15"/>
<line x1="132" y1="532.6" x2="132" y2="568.4" stroke="#8e8e8e" stroke-width="1.15"/>
<line x1="480.1" y1="534.6" x2="480.1" y2="543.6" stroke="#6b6b6b" stroke-width="1.15"/>
<line x1="177.3" y1="537.9" x2="177.3" y2="553.1" stroke="#8e8e8e" stroke-width="1.15"/>
<line x1="200.4" y1="537" x2="200.4" y2="544.7" stroke="#b3b3b3" stroke-width="1.0"/>
<line x1="209.9" y1="534.3" x2="209.9" y2="542" stroke="#6b6b6b" stroke-width="1.0"/>
<line x1="335.8" y1="537.7" x2="335.8" y2="545.8" stroke="#6b6b6b" stroke-width="1.0"/>
<line x1="144.1" y1="536.4" x2="144.1" y2="547.3" stroke="#b3b3b3" stroke-width="1.0"/>
<line x1="371.5" y1="537.9" x2="371.5" y2="541.6" stroke="#6b6b6b" stroke-width="1.0"/>
<line x1="254.3" y1="534.5" x2="254.3" y2="543.8" stroke="#8e8e8e" stroke-width="1.0"/>
<line x1="468.3" y1="537.7" x2="468.3" y2="542.8" stroke="#6b6b6b" stroke-width="1.0"/>
<line x1="422.4" y1="536.5" x2="422.4" y2="543.7" stroke="#8e8e8e" stroke-width="1.0"/>
<line x1="336.4" y1="534.8" x2="336.4" y2="545.7" stroke="#8e8e8e" stroke-width="1.0"/>
<line x1="492.2" y1="534.5" x2="492.2" y2="546" stroke="#b3b3b3" stroke-width="1.0"/>
<line x1="296" y1="537.1" x2="296" y2="542.7" stroke="#8e8e8e" stroke-width="1.0"/>
<line x1="348.4" y1="537.9" x2="348.4" y2="544" stroke="#b3b3b3" stroke-width="1.0"/>
<line x1="210.4" y1="536.9" x2="210.4" y2="542.1" stroke="#b3b3b3" stroke-width="1.0"/>
<line x1="134.7" y1="534.6" x2="134.7" y2="547.7" stroke="#b3b3b3" stroke-width="1.0"/>
<line x1="167.5" y1="535.3" x2="167.5" y2="545" stroke="#b3b3b3" stroke-width="1.0"/>
<line x1="375.6" y1="533.5" x2="375.6" y2="545" stroke="#b3b3b3" stroke-width="1.0"/>
<line x1="372.8" y1="533.7" x2="372.8" y2="545.4" stroke="#6b6b6b" stroke-width="1.0"/>
<line x1="338.2" y1="537.4" x2="338.2" y2="542" stroke="#6b6b6b" stroke-width="1.0"/>
<line x1="273.4" y1="536.3" x2="273.4" y2="543.7" stroke="#6b6b6b" stroke-width="1.0"/>
<line x1="469.2" y1="536.6" x2="469.2" y2="544.6" stroke="#6b6b6b" stroke-width="1.0"/>
<line x1="262.3" y1="534.8" x2="262.3" y2="543.1" stroke="#b3b3b3" stroke-width="1.0"/>
<line x1="301.8" y1="535.6" x2="301.8" y2="545.3" stroke="#8e8e8e" stroke-width="1.0"/>
<line x1="139.1" y1="534.7" x2="139.1" y2="547.7" stroke="#8e8e8e" stroke-width="1.0"/>
<line x1="327.1" y1="537.8" x2="327.1" y2="547.2" stroke="#8e8e8e" stroke-width="1.0"/>
<line x1="363.3" y1="536.6" x2="363.3" y2="546.7" stroke="#8e8e8e" stroke-width="1.0"/>
<line x1="426.5" y1="537.5" x2="426.5" y2="545.2" stroke="#6b6b6b" stroke-width="1.0"/>
<line x1="263.2" y1="536.4" x2="263.2" y2="546.9" stroke="#b3b3b3" stroke-width="1.0"/>
<line x1="126" y1="534.6" x2="126" y2="547.3" stroke="#8e8e8e" stroke-width="1.0"/>
<line x1="333" y1="535.2" x2="333" y2="546.7" stroke="#6b6b6b" stroke-width="1.0"/>
<line x1="152.6" y1="536.1" x2="152.6" y2="542.4" stroke="#8e8e8e" stroke-width="1.0"/>
<line x1="117.3" y1="536.4" x2="117.3" y2="543.8" stroke="#6b6b6b" stroke-width="1.0"/>
<line x1="180.4" y1="535.6" x2="180.4" y2="543.7" stroke="#b3b3b3" stroke-width="1.0"/>
<line x1="406.2" y1="534.8" x2="406.2" y2="546.9" stroke="#8e8e8e" stroke-width="1.0"/>
<line x1="482.3" y1="535.4" x2="482.3" y2="544.7" stroke="#8e8e8e" stroke-width="1.0"/>
<line x1="455.2" y1="533.8" x2="455.2" y2="545.4" stroke="#8e8e8e" stroke-width="1.0"/>
<line x1="392.2" y1="536" x2="392.2" y2="548.4" stroke="#b3b3b3" stroke-width="1.0"/>
<line x1="243.5" y1="536.2" x2="243.5" y2="545.4" stroke="#b3b3b3" stroke-width="1.0"/>
<line x1="209.4" y1="535.8" x2="209.4" y2="544.3" stroke="#6b6b6b" stroke-width="1.0"/>
<line x1="205.2" y1="538.1" x2="205.2" y2="546.5" stroke="#8e8e8e" stroke-width="1.0"/>
<line x1="383.7" y1="535.4" x2="383.7" y2="546.7" stroke="#8e8e8e" stroke-width="1.0"/>
<line x1="449" y1="534" x2="449" y2="543.1" stroke="#8e8e8e" stroke-width="1.0"/>
<line x1="171.2" y1="534" x2="171.2" y2="548.2" stroke="#8e8e8e" stroke-width="1.0"/>
<line x1="367.6" y1="535.8" x2="367.6" y2="543.1" stroke="#8e8e8e" stroke-width="1.0"/>
<line x1="351.1" y1="533.7" x2="351.1" y2="547.6" stroke="#b3b3b3" stroke-width="1.0"/>
<line x1="485.4" y1="535.1" x2="485.4" y2="547.5" stroke="#8e8e8e" stroke-width="1.0"/>
<line x1="310.8" y1="537.6" x2="310.8" y2="545.9" stroke="#8e8e8e" stroke-width="1.0"/>
<line x1="312" y1="533.9" x2="312" y2="542.1" stroke="#6b6b6b" stroke-width="1.0"/>
<line x1="119.7" y1="535.7" x2="119.7" y2="548.1" stroke="#6b6b6b" stroke-width="1.0"/>
<line x1="194.5" y1="534.8" x2="194.5" y2="541.6" stroke="#6b6b6b" stroke-width="1.0"/>
<line x1="93.2" y1="533.9" x2="93.2" y2="547.1" stroke="#8e8e8e" stroke-width="1.0"/>
<line x1="127.3" y1="534.9" x2="127.3" y2="543" stroke="#8e8e8e" stroke-width="1.0"/>
<line x1="79.5" y1="533.9" x2="79.5" y2="543.6" stroke="#8e8e8e" stroke-width="1.0"/>
<line x1="128.2" y1="534.5" x2="128.2" y2="546.8" stroke="#6b6b6b" stroke-width="1.0"/>
<line x1="154" y1="534.1" x2="154" y2="546.2" stroke="#6b6b6b" stroke-width="1.0"/>
<line x1="150.8" y1="534.2" x2="150.8" y2="543.9" stroke="#8e8e8e" stroke-width="1.0"/>
<line x1="73" y1="535.2" x2="73" y2="546.3" stroke="#b3b3b3" stroke-width="1.0"/>
<line x1="153.7" y1="535.2" x2="153.7" y2="542.7" stroke="#6b6b6b" stroke-width="1.0"/>
<line x1="348.1" y1="536.9" x2="348.1" y2="547.1" stroke="#8e8e8e" stroke-width="1.0"/>
<line x1="443.4" y1="534.8" x2="443.4" y2="542.3" stroke="#b3b3b3" stroke-width="1.0"/>
<line x1="481.3" y1="534.5" x2="481.3" y2="544.3" stroke="#6b6b6b" stroke-width="1.0"/>
<line x1="162.9" y1="536.9" x2="162.9" y2="546.4" stroke="#6b6b6b" stroke-width="1.0"/>
<line x1="182.7" y1="534.8" x2="182.7" y2="544.9" stroke="#8e8e8e" stroke-width="1.0"/>
<line x1="409.1" y1="536.5" x2="409.1" y2="546" stroke="#6b6b6b" stroke-width="1.0"/>
<line x1="322" y1="537.3" x2="322" y2="543.5" stroke="#6b6b6b" stroke-width="1.0"/>
<line x1="355.5" y1="537" x2="355.5" y2="545.9" stroke="#6b6b6b" stroke-width="1.0"/>
<line x1="266.8" y1="538" x2="266.8" y2="547.8" stroke="#6b6b6b" stroke-width="1.0"/>
<line x1="296.4" y1="538.2" x2="296.4" y2="545.6" stroke="#8e8e8e" stroke-width="1.0"/>
<line x1="299.2" y1="536.3" x2="299.2" y2="545.4" stroke="#6b6b6b" stroke-width="1.0"/>
<line x1="189.8" y1="534.6" x2="189.8" y2="543.1" stroke="#8e8e8e" stroke-width="1.0"/>
<line x1="384.6" y1="538.3" x2="384.6" y2="546.9" stroke="#6b6b6b" stroke-width="1.0"/>
<line x1="494.7" y1="538.2" x2="494.7" y2="544.6" stroke="#b3b3b3" stroke-width="1.0"/>
<line x1="233" y1="533.8" x2="233" y2="544.9" stroke="#6b6b6b" stroke-width="1.0"/>
<line x1="93.8" y1="534.5" x2="93.8" y2="547.8" stroke="#8e8e8e" stroke-width="1.0"/>
<line x1="351.7" y1="534.5" x2="351.7" y2="545" stroke="#b3b3b3" stroke-width="1.0"/>
<line x1="424.9" y1="535.2" x2="424.9" y2="548.3" stroke="#b3b3b3" stroke-width="1.0"/>
<line x1="479" y1="537.5" x2="479" y2="546.9" stroke="#6b6b6b" stroke-width="1.0"/>
<line x1="114.7" y1="536.2" x2="114.7" y2="546.1" stroke="#b3b3b3" stroke-width="1.0"/>
<line x1="401.5" y1="534.5" x2="401.5" y2="546.9" stroke="#6b6b6b" stroke-width="1.0"/>
<line x1="178.7" y1="535.7" x2="178.7" y2="547.4" stroke="#b3b3b3" stroke-width="1.0"/>
<line x1="282.5" y1="538.2" x2="282.5" y2="545.6" stroke="#b3b3b3" stroke-width="1.0"/>
<line x1="88.8" y1="536.2" x2="88.8" y2="547.6" stroke="#8e8e8e" stroke-width="1.0"/>
<line x1="131.9" y1="538.3" x2="131.9" y2="544.9" stroke="#8e8e8e" stroke-width="1.0"/>
<line x1="284.6" y1="534.8" x2="284.6" y2="547.4" stroke="#6b6b6b" stroke-width="1.0"/>
<line x1="97.5" y1="533.9" x2="97.5" y2="545.4" stroke="#b3b3b3" stroke-width="1.0"/>
<line x1="317.5" y1="534.8" x2="317.5" y2="545.8" stroke="#6b6b6b" stroke-width="1.0"/>
<line x1="201" y1="538.2" x2="201" y2="543.6" stroke="#b3b3b3" stroke-width="1.0"/>
<line x1="386.5" y1="534.5" x2="386.5" y2="546.8" stroke="#8e8e8e" stroke-width="1.0"/>
<line x1="104.4" y1="534.3" x2="104.4" y2="542.6" stroke="#8e8e8e" stroke-width="1.0"/>
<line x1="173.7" y1="535.9" x2="173.7" y2="546" stroke="#b3b3b3" stroke-width="1.0"/>
<line x1="407.4" y1="538.1" x2="407.4" y2="544.3" stroke="#8e8e8e" stroke-width="1.0"/>
<line x1="369.2" y1="534.9" x2="369.2" y2="548.1" stroke="#6b6b6b" stroke-width="1.0"/>
<line x1="278.5" y1="534.6" x2="278.5" y2="548.3" stroke="#6b6b6b" stroke-width="1.0"/>
<line x1="389.2" y1="535.8" x2="389.2" y2="548.3" stroke="#6b6b6b" stroke-width="1.0"/>
<line x1="170.4" y1="533.9" x2="170.4" y2="542.4" stroke="#8e8e8e" stroke-width="1.0"/>
<line x1="307.3" y1="536" x2="307.3" y2="547.9" stroke="#6b6b6b" stroke-width="1.0"/>
<line x1="361.1" y1="534.8" x2="361.1" y2="548.2" stroke="#b3b3b3" stroke-width="1.0"/>
<line x1="165.8" y1="537.1" x2="165.8" y2="545.3" stroke="#6b6b6b" stroke-width="1.0"/>
<line x1="247.6" y1="538" x2="247.6" y2="543" stroke="#8e8e8e" stroke-width="1.0"/>
<line x1="212.3" y1="533.5" x2="212.3" y2="545.7" stroke="#6b6b6b" stroke-width="1.0"/>
<line x1="135.6" y1="535.5" x2="135.6" y2="548.4" stroke="#b3b3b3" stroke-width="1.0"/>
<line x1="214.9" y1="534.9" x2="214.9" y2="547.5" stroke="#b3b3b3" stroke-width="1.0"/>
<line x1="467" y1="537.5" x2="467" y2="547.4" stroke="#6b6b6b" stroke-width="1.0"/>
<line x1="231.4" y1="534.5" x2="231.4" y2="542.9" stroke="#8e8e8e" stroke-width="1.0"/>
<line x1="173" y1="534.4" x2="173" y2="547" stroke="#8e8e8e" stroke-width="1.0"/>
<line x1="154.4" y1="537.3" x2="154.4" y2="544.7" stroke="#8e8e8e" stroke-width="1.0"/>
<line x1="271.1" y1="535.9" x2="271.1" y2="545.8" stroke="#6b6b6b" stroke-width="1.0"/>
<line x1="440.4" y1="537.4" x2="440.4" y2="544.1" stroke="#6b6b6b" stroke-width="1.0"/>
<line x1="86.5" y1="537" x2="86.5" y2="548" stroke="#b3b3b3" stroke-width="1.0"/>
<line x1="74.1" y1="537.5" x2="74.1" y2="543.2" stroke="#8e8e8e" stroke-width="1.0"/>
<line x1="312.2" y1="535.2" x2="312.2" y2="542.9" stroke="#6b6b6b" stroke-width="1.0"/>
<line x1="222.7" y1="537.6" x2="222.7" y2="548" stroke="#8e8e8e" stroke-width="1.0"/>
<line x1="125.5" y1="537.2" x2="125.5" y2="547.3" stroke="#6b6b6b" stroke-width="1.0"/>
<line x1="74.9" y1="536.8" x2="74.9" y2="544.1" stroke="#6b6b6b" stroke-width="1.0"/>
<line x1="436.9" y1="536.5" x2="436.9" y2="543.2" stroke="#b3b3b3" stroke-width="1.0"/>
<line x1="356.4" y1="536.9" x2="356.4" y2="545.7" stroke="#8e8e8e" stroke-width="1.0"/>
<line x1="83.7" y1="537.6" x2="83.7" y2="545.6" stroke="#6b6b6b" stroke-width="1.0"/>
<line x1="156.5" y1="536.3" x2="156.5" y2="544.8" stroke="#b3b3b3" stroke-width="1.0"/>
<line x1="125" y1="534.9" x2="125" y2="543.2" stroke="#b3b3b3" stroke-width="1.0"/>
<line x1="262" y1="536.5" x2="262" y2="547.6" stroke="#8e8e8e" stroke-width="1.0"/>
<line x1="298.2" y1="536.2" x2="298.2" y2="542.4" stroke="#b3b3b3" stroke-width="1.0"/>
<line x1="441.8" y1="537.3" x2="441.8" y2="543.4" stroke="#8e8e8e" stroke-width="1.0"/>
<line x1="331.3" y1="537.7" x2="331.3" y2="547.3" stroke="#b3b3b3" stroke-width="1.0"/>
<line x1="339.6" y1="535.6" x2="339.6" y2="547.1" stroke="#b3b3b3" stroke-width="1.0"/>
<line x1="195.4" y1="535" x2="195.4" y2="547.8" stroke="#6b6b6b" stroke-width="1.0"/>
<line x1="308.2" y1="536.6" x2="308.2" y2="542.3" stroke="#8e8e8e" stroke-width="1.0"/>
<line x1="167.8" y1="535.2" x2="167.8" y2="542" stroke="#8e8e8e" stroke-width="1.0"/>
<line x1="118" y1="535.9" x2="118" y2="544.8" stroke="#8e8e8e" stroke-width="1.0"/>
<line x1="189.5" y1="534.9" x2="189.5" y2="543" stroke="#8e8e8e" stroke-width="1.0"/>
<line x1="153.6" y1="534.6" x2="153.6" y2="543.9" stroke="#b3b3b3" stroke-width="1.0"/>
<line x1="170.1" y1="537.9" x2="170.1" y2="543.8" stroke="#8e8e8e" stroke-width="1.0"/>
<line x1="415" y1="536" x2="415" y2="543.2" stroke="#b3b3b3" stroke-width="1.0"/>
<line x1="199.9" y1="533.8" x2="199.9" y2="547.7" stroke="#6b6b6b" stroke-width="1.0"/>
<line x1="224.1" y1="538.1" x2="224.1" y2="544.2" stroke="#6b6b6b" stroke-width="1.0"/>
<line x1="229.7" y1="534.2" x2="229.7" y2="543.5" stroke="#b3b3b3" stroke-width="1.0"/>
<line x1="207.3" y1="537.1" x2="207.3" y2="541.6" stroke="#8e8e8e" stroke-width="1.0"/>
<line x1="206.4" y1="536.5" x2="206.4" y2="543.5" stroke="#b3b3b3" stroke-width="1.0"/>
<line x1="451" y1="535.2" x2="451" y2="544.1" stroke="#8e8e8e" stroke-width="1.0"/>
<line x1="480.3" y1="536.6" x2="480.3" y2="545.4" stroke="#6b6b6b" stroke-width="1.0"/>
<line x1="400.8" y1="535.3" x2="400.8" y2="545.7" stroke="#8e8e8e" stroke-width="1.0"/>
<line x1="332" y1="538.1" x2="332" y2="541.9" stroke="#8e8e8e" stroke-width="1.0"/>
<line x1="447.8" y1="536.5" x2="447.8" y2="547.8" stroke="#6b6b6b" stroke-width="1.0"/>
<line x1="414.9" y1="535" x2="414.9" y2="543.3" stroke="#8e8e8e" stroke-width="1.0"/>
<line x1="222.4" y1="533.5" x2="222.4" y2="542.4" stroke="#6b6b6b" stroke-width="1.0"/>
<line x1="183.1" y1="537.1" x2="183.1" y2="542.9" stroke="#b3b3b3" stroke-width="1.0"/>
<line x1="66.4" y1="535.7" x2="66.4" y2="544.2" stroke="#6b6b6b" stroke-width="1.0"/>
<line x1="303.4" y1="534.2" x2="303.4" y2="546.8" stroke="#6b6b6b" stroke-width="1.0"/>
<line x1="337" y1="535.6" x2="337" y2="547.2" stroke="#8e8e8e" stroke-width="1.0"/>
<line x1="180.6" y1="537.9" x2="180.6" y2="541.5" stroke="#b3b3b3" stroke-width="1.0"/>
<line x1="156.3" y1="536.4" x2="156.3" y2="542.5" stroke="#6b6b6b" stroke-width="1.0"/>
<line x1="423.8" y1="537.6" x2="423.8" y2="545.8" stroke="#8e8e8e" stroke-width="1.0"/>
<line x1="415.4" y1="536.9" x2="415.4" y2="544.3" stroke="#8e8e8e" stroke-width="1.0"/>
<line x1="391.1" y1="535.7" x2="391.1" y2="543.1" stroke="#6b6b6b" stroke-width="1.0"/>
<line x1="223.2" y1="534.9" x2="223.2" y2="547.8" stroke="#b3b3b3" stroke-width="1.0"/>
<line x1="120.7" y1="538.1" x2="120.7" y2="541.9" stroke="#6b6b6b" stroke-width="1.0"/>
<line x1="450.4" y1="536.8" x2="450.4" y2="547.3" stroke="#b3b3b3" stroke-width="1.0"/>
<line x1="401.1" y1="536" x2="401.1" y2="542.5" stroke="#8e8e8e" stroke-width="1.0"/>
<line x1="443.5" y1="538.1" x2="443.5" y2="543.2" stroke="#b3b3b3" stroke-width="1.0"/>
<line x1="386.9" y1="534.9" x2="386.9" y2="543.2" stroke="#b3b3b3" stroke-width="1.0"/>
<line x1="175.3" y1="534.8" x2="175.3" y2="543.7" stroke="#8e8e8e" stroke-width="1.0"/>
<line x1="437.5" y1="537.4" x2="437.5" y2="545.3" stroke="#6b6b6b" stroke-width="1.0"/>
<line x1="312.3" y1="536.3" x2="312.3" y2="546.3" stroke="#b3b3b3" stroke-width="1.0"/>
<line x1="387.3" y1="537.1" x2="387.3" y2="542.5" stroke="#6b6b6b" stroke-width="1.0"/>
<line x1="229.6" y1="535.1" x2="229.6" y2="543" stroke="#6b6b6b" stroke-width="1.0"/>
<line x1="488.6" y1="536" x2="488.6" y2="546.3" stroke="#6b6b6b" stroke-width="1.0"/>
<line x1="182.3" y1="537" x2="182.3" y2="543.2" stroke="#b3b3b3" stroke-width="1.0"/>
<line x1="238.2" y1="533.7" x2="238.2" y2="548.3" stroke="#6b6b6b" stroke-width="1.0"/>
<line x1="134.3" y1="533.4" x2="134.3" y2="547.5" stroke="#6b6b6b" stroke-width="1.0"/>
<line x1="190.1" y1="534.7" x2="190.1" y2="548.4" stroke="#6b6b6b" stroke-width="1.0"/>
<line x1="241.6" y1="533.9" x2="241.6" y2="547.2" stroke="#8e8e8e" stroke-width="1.0"/>
<line x1="140.3" y1="538.1" x2="140.3" y2="544.5" stroke="#b3b3b3" stroke-width="1.0"/>
<line x1="189.1" y1="536.4" x2="189.1" y2="545.7" stroke="#6b6b6b" stroke-width="1.0"/>
<line x1="491.7" y1="536.5" x2="491.7" y2="546.3" stroke="#b3b3b3" stroke-width="1.0"/>
<line x1="188.7" y1="534.1" x2="188.7" y2="544.5" stroke="#6b6b6b" stroke-width="1.0"/>
<line x1="307.4" y1="533.9" x2="307.4" y2="547.6" stroke="#8e8e8e" stroke-width="1.0"/>
<line x1="118.2" y1="536.8" x2="118.2" y2="541.5" stroke="#b3b3b3" stroke-width="1.0"/>
<line x1="312.9" y1="537" x2="312.9" y2="544.2" stroke="#8e8e8e" stroke-width="1.0"/>
<line x1="164.8" y1="536" x2="164.8" y2="544" stroke="#8e8e8e" stroke-width="1.0"/>
<line x1="308.6" y1="537.6" x2="308.6" y2="541.4" stroke="#8e8e8e" stroke-width="1.0"/>
<line x1="356.9" y1="538.4" x2="356.9" y2="543.8" stroke="#6b6b6b" stroke-width="1.0"/>
<line x1="498.8" y1="537.4" x2="498.8" y2="547.5" stroke="#8e8e8e" stroke-width="1.0"/>
<line x1="79.9" y1="536.6" x2="79.9" y2="545.3" stroke="#b3b3b3" stroke-width="1.0"/>
<line x1="91" y1="535.6" x2="91" y2="546" stroke="#b3b3b3" stroke-width="1.0"/>
<line x1="175.6" y1="537.5" x2="175.6" y2="543.4" stroke="#6b6b6b" stroke-width="1.0"/>
<line x1="497.5" y1="536.2" x2="497.5" y2="547.2" stroke="#b3b3b3" stroke-width="1.0"/>
<line x1="86.4" y1="534.1" x2="86.4" y2="548" stroke="#b3b3b3" stroke-width="1.0"/>
<line x1="117.5" y1="538" x2="117.5" y2="543.9" stroke="#b3b3b3" stroke-width="1.0"/>
<line x1="200.5" y1="535.8" x2="200.5" y2="541.5" stroke="#6b6b6b" stroke-width="1.0"/>
<line x1="93.6" y1="536.6" x2="93.6" y2="546.8" stroke="#8e8e8e" stroke-width="1.0"/>
<line x1="417.6" y1="534.4" x2="417.6" y2="546.5" stroke="#8e8e8e" stroke-width="1.0"/>
<line x1="199.6" y1="535.7" x2="199.6" y2="546.1" stroke="#6b6b6b" stroke-width="1.0"/>
<line x1="472.3" y1="536" x2="472.3" y2="547.3" stroke="#8e8e8e" stroke-width="1.0"/>
<line x1="174.7" y1="533.9" x2="174.7" y2="541.6" stroke="#b3b3b3" stroke-width="1.0"/>
<line x1="127.1" y1="536.8" x2="127.1" y2="546.5" stroke="#b3b3b3" stroke-width="1.0"/>
<line x1="351.1" y1="534.3" x2="351.1" y2="544" stroke="#b3b3b3" stroke-width="1.0"/>
<line x1="261.2" y1="536.8" x2="261.2" y2="541.9" stroke="#b3b3b3" stroke-width="1.0"/>
<line x1="205.6" y1="537.9" x2="205.6" y2="543.7" stroke="#b3b3b3" stroke-width="1.0"/>
<line x1="144.2" y1="538.2" x2="144.2" y2="542.3" stroke="#8e8e8e" stroke-width="1.0"/>
<line x1="361.2" y1="537.5" x2="361.2" y2="542.1" stroke="#6b6b6b" stroke-width="1.0"/>
<line x1="227.8" y1="537.5" x2="227.8" y2="541.6" stroke="#8e8e8e" stroke-width="1.0"/>
<line x1="284.1" y1="536.4" x2="284.1" y2="543.7" stroke="#b3b3b3" stroke-width="1.0"/>
<line x1="617.6" y1="531.2" x2="617.6" y2="539.5" stroke="#6b6b6b" stroke-width="0.9"/>
<line x1="544.9" y1="531.4" x2="544.9" y2="540.1" stroke="#8e8e8e" stroke-width="0.9"/>
<line x1="560.2" y1="520.7" x2="560.2" y2="540.8" stroke="#8e8e8e" stroke-width="0.9"/>
<line x1="609.3" y1="526.9" x2="609.3" y2="548.9" stroke="#6b6b6b" stroke-width="0.9"/>
<line x1="594.8" y1="522.6" x2="594.8" y2="541.6" stroke="#6b6b6b" stroke-width="0.9"/>
<line x1="608.9" y1="535.2" x2="608.9" y2="539.5" stroke="#b3b3b3" stroke-width="1.0"/>
<line x1="588.9" y1="536.7" x2="588.9" y2="545.3" stroke="#6b6b6b" stroke-width="0.9"/>
<line x1="586.3" y1="537" x2="586.3" y2="542.7" stroke="#b3b3b3" stroke-width="1.0"/>
<line x1="588" y1="535.4" x2="588" y2="544.2" stroke="#6b6b6b" stroke-width="0.9"/>
<line x1="517" y1="531.8" x2="517" y2="547.2" stroke="#8e8e8e" stroke-width="0.9"/>
<line x1="593.2" y1="536.3" x2="593.2" y2="542.2" stroke="#6b6b6b" stroke-width="0.9"/>
<line x1="552.6" y1="535" x2="552.6" y2="539.6" stroke="#6b6b6b" stroke-width="0.9"/>
<line x1="573.9" y1="536" x2="573.9" y2="541.3" stroke="#6b6b6b" stroke-width="0.9"/>
<line x1="583.2" y1="524.1" x2="583.2" y2="540.3" stroke="#8e8e8e" stroke-width="0.9"/>
<line x1="545.9" y1="537.7" x2="545.9" y2="545" stroke="#6b6b6b" stroke-width="0.9"/>
<line x1="603.1" y1="519.4" x2="603.1" y2="542.3" stroke="#6b6b6b" stroke-width="0.9"/>
<line x1="605.4" y1="526.4" x2="605.4" y2="540.1" stroke="#6b6b6b" stroke-width="0.9"/>
<line x1="617.6" y1="533.4" x2="617.6" y2="555.2" stroke="#6b6b6b" stroke-width="0.9"/>
<line x1="611.7" y1="535.3" x2="611.7" y2="559.4" stroke="#6b6b6b" stroke-width="0.9"/>
<line x1="525.9" y1="539.2" x2="525.9" y2="541.8" stroke="#b3b3b3" stroke-width="1.0"/>
<line x1="613" y1="536" x2="613" y2="543.8" stroke="#8e8e8e" stroke-width="0.9"/>
<line x1="527.4" y1="537.5" x2="527.4" y2="545.3" stroke="#6b6b6b" stroke-width="0.9"/>
<line x1="515" y1="536.1" x2="515" y2="547.5" stroke="#6b6b6b" stroke-width="0.9"/>
<line x1="510.1" y1="535.5" x2="510.1" y2="539.7" stroke="#b3b3b3" stroke-width="1.0"/>
<line x1="636.2" y1="539" x2="636.2" y2="555.6" stroke="#8e8e8e" stroke-width="0.9"/>
<line x1="202.1" y1="500" x2="202.1" y2="578.5" stroke="#b3b3b3" stroke-width="1.0"/>
<line x1="223.4" y1="506.2" x2="223.4" y2="578" stroke="#6b6b6b" stroke-width="0.9"/>
<line x1="273.6" y1="518.4" x2="273.6" y2="560" stroke="#b3b3b3" stroke-width="1.0"/>
<line x1="319.6" y1="519.5" x2="319.6" y2="574.4" stroke="#b3b3b3" stroke-width="1.0"/>
<line x1="303.3" y1="539" x2="303.3" y2="569.7" stroke="#6b6b6b" stroke-width="0.9"/>
<line x1="351.7" y1="511.4" x2="351.7" y2="578" stroke="#6b6b6b" stroke-width="0.9"/>
<line x1="348.2" y1="520" x2="348.2" y2="575" stroke="#b3b3b3" stroke-width="1.0"/>
<line x1="450.5" y1="511.8" x2="450.5" y2="578" stroke="#6b6b6b" stroke-width="0.9"/>
<line x1="447.5" y1="520" x2="447.5" y2="570" stroke="#6b6b6b" stroke-width="0.9"/>
<line x1="461.5" y1="524.2" x2="461.5" y2="575.6" stroke="#b3b3b3" stroke-width="1.0"/>
<line x1="374.6" y1="520" x2="374.6" y2="570" stroke="#8e8e8e" stroke-width="0.9"/>
<line x1="522.2" y1="521.9" x2="522.2" y2="578" stroke="#b3b3b3" stroke-width="1.0"/>
<line x1="538.5" y1="521.9" x2="538.5" y2="573.3" stroke="#6b6b6b" stroke-width="0.9"/>
<line x1="551.9" y1="530" x2="551.9" y2="562.7" stroke="#6b6b6b" stroke-width="0.9"/>
<line x1="571.2" y1="521" x2="571.2" y2="578" stroke="#b3b3b3" stroke-width="1.0"/>
<line x1="575.9" y1="535" x2="575.9" y2="560" stroke="#8e8e8e" stroke-width="0.9"/>
<line x1="581.3" y1="535" x2="581.3" y2="560" stroke="#8e8e8e" stroke-width="0.9"/>
<line x1="628" y1="525.4" x2="628" y2="576.8" stroke="#b3b3b3" stroke-width="1.0"/>
<line x1="632" y1="535" x2="632" y2="550" stroke="#b3b3b3" stroke-width="1.0"/>
<line x1="79.6" y1="518" x2="79.6" y2="578" stroke="#6b6b6b" stroke-width="0.9"/>
<line x1="128" y1="516" x2="128" y2="576.8" stroke="#6b6b6b" stroke-width="0.9"/>
<line x1="159.5" y1="512.5" x2="159.5" y2="545.2" stroke="#b3b3b3" stroke-width="1.0"/>
<line x1="179.3" y1="522.6" x2="179.3" y2="567.4" stroke="#6b6b6b" stroke-width="0.9"/>
<line x1="193" y1="525" x2="193" y2="570" stroke="#6b6b6b" stroke-width="0.9"/>
<line x1="41.9" y1="536.6" x2="660.3" y2="536.6" stroke="#333" stroke-width="0.6" stroke-dasharray="0.9,1.1"/>
<line x1="41.9" y1="542.2" x2="660.3" y2="542.2" stroke="#333" stroke-width="0.6" stroke-dasharray="0.9,1.1"/>
<polyline points="253,545 262,553" stroke="#ee1111" stroke-width="0.7" fill="none"/>
<polyline points="466,550 574,549.5" stroke="#ee1111" stroke-width="0.7" fill="none"/>
<polyline points="466,553.9 574,551" stroke="#ee1111" stroke-width="0.7" fill="none"/>
<polyline points="505,553 512,550.5 574,547.5" stroke="#ee1111" stroke-width="0.7" fill="none"/>
<polyline points="540,547.5 574,547" stroke="#ee1111" stroke-width="0.7" fill="none"/>
<polyline points="540,558 548,549 581,548.5" stroke="#3e9fc0" stroke-width="0.7" fill="none"/>
<polyline points="436,565 447,556" stroke="#ee1111" stroke-width="0.7" fill="none"/>
<polyline points="130,545 136,550" stroke="#ee1111" stroke-width="0.7" fill="none"/>
<line x1="124" y1="539" x2="124" y2="556.9" stroke="#ee1111" stroke-width="1.6"/>
<line x1="126.3" y1="539" x2="126.3" y2="553" stroke="#ee1111" stroke-width="1.6"/>
<line x1="230.2" y1="539" x2="230.2" y2="549" stroke="#ee1111" stroke-width="1.3"/>
<line x1="253" y1="539" x2="253" y2="545" stroke="#ee1111" stroke-width="1.3"/>
<line x1="279.5" y1="539" x2="279.5" y2="545" stroke="#ee1111" stroke-width="1.3"/>
<line x1="329" y1="539" x2="329" y2="545" stroke="#ee1111" stroke-width="1.3"/>
<line x1="399.1" y1="539" x2="399.1" y2="543" stroke="#ee1111" stroke-width="1.3"/>
<line x1="434.6" y1="539" x2="434.6" y2="546" stroke="#ee1111" stroke-width="1.3"/>
<line x1="479.7" y1="539" x2="479.7" y2="553.4" stroke="#ee1111" stroke-width="2.2"/>
<line x1="531.1" y1="539" x2="531.1" y2="546" stroke="#ee1111" stroke-width="1.3"/>
<line x1="574.3" y1="539" x2="574.3" y2="549" stroke="#ee1111" stroke-width="2.2"/>
<line x1="589.9" y1="539" x2="589.9" y2="548" stroke="#ee1111" stroke-width="1.3"/>
<line x1="200.5" y1="539" x2="200.5" y2="545" stroke="#3e9fc0" stroke-width="1.3"/>
<line x1="334.8" y1="539" x2="334.8" y2="546" stroke="#3e9fc0" stroke-width="1.3"/>
<line x1="581.3" y1="539" x2="581.3" y2="548" stroke="#3e9fc0" stroke-width="1.3"/>
<line x1="41.9" y1="539.4" x2="660.3" y2="539.4" stroke="#000" stroke-width="1.5"/>
<text x="107.8" y="571.4" font-size="7.9" fill="#ee1111" stroke="#ee1111" stroke-width="0.19" text-anchor="middle">THRB</text>
<text x="128.5" y="553.8" font-size="7.9" fill="#ee1111" stroke="#ee1111" stroke-width="0.19" text-anchor="middle">IP6K2</text>
<text x="141.4" y="565.1" font-size="7.9" fill="#ee1111" stroke="#ee1111" stroke-width="0.19" text-anchor="middle">MST1R</text>
<text x="180.2" y="552.7" font-size="7.9" fill="#3e9fc0" stroke="#3e9fc0" stroke-width="0.19" text-anchor="middle">ACOT13</text>
<text x="219.6" y="558.1" font-size="7.9" fill="#ee1111" stroke="#ee1111" stroke-width="0.19" text-anchor="middle">NPC1L1</text>
<text x="261.4" y="562" font-size="7.9" fill="#ee1111" stroke="#ee1111" stroke-width="0.19" text-anchor="middle">PPP2R2A</text>
<text x="278.8" y="552.2" font-size="7.9" fill="#ee1111" stroke="#ee1111" stroke-width="0.19" text-anchor="middle">TEK</text>
<text x="333.8" y="553.2" font-size="7.9" fill="#ee1111" stroke="#ee1111" stroke-width="0.19" text-anchor="middle">RPS13</text>
<text x="350" y="563.9" font-size="7.9" fill="#3e9fc0" stroke="#3e9fc0" stroke-width="0.19" text-anchor="middle">MAPK8IP1</text>
<text x="373.3" y="552.7" font-size="7.9" fill="#ee1111" stroke="#ee1111" stroke-width="0.19" text-anchor="middle">NALCN</text>
<text x="408.8" y="559.7" font-size="7.9" fill="#ee1111" stroke="#ee1111" stroke-width="0.19" text-anchor="middle">GABRA5</text>
<text x="454.1" y="553.4" font-size="7.9" fill="#ee1111" stroke="#ee1111" stroke-width="0.19" text-anchor="middle">DOT1L</text>
<text x="450.6" y="562.7" font-size="7.9" fill="#ee1111" stroke="#ee1111" stroke-width="0.19" text-anchor="middle">SMG6</text>
<text x="435.2" y="572.1" font-size="7.9" fill="#ee1111" stroke="#ee1111" stroke-width="0.19" text-anchor="middle">KCNG1</text>
<text x="504.9" y="560.9" font-size="7.9" fill="#ee1111" stroke="#ee1111" stroke-width="0.19" text-anchor="middle">KCNS1</text>
<text x="533.6" y="553.8" font-size="7.9" fill="#ee1111" stroke="#ee1111" stroke-width="0.19" text-anchor="middle">CD40</text>
<text x="540.9" y="566" font-size="7.9" fill="#3e9fc0" stroke="#3e9fc0" stroke-width="0.19" text-anchor="middle">KCNQ2</text>
<text x="614.8" y="558.1" font-size="7.9" fill="#ee1111" stroke="#ee1111" stroke-width="0.19" text-anchor="middle">NRIP1</text>
<text x="51.5" y="514.6" font-size="10.4" fill="#000" font-weight="bold">Schizophrenia (SCZ)</text>
<text x="288.1" y="509.9" font-size="10.4" fill="#000" stroke="#000" stroke-width="0.22">test using lead GWAS SNP</text>
<text x="294.4" y="577" font-size="10.4" fill="#000" stroke="#000" stroke-width="0.22">gene–based test (GenT)</text>
<rect x="41.9" y="499" width="618.4" height="80.5" fill="none" stroke="#000" stroke-width="1.8"/>
<line x1="38.9" y1="502.1" x2="41.9" y2="502.1" stroke="#333" stroke-width="0.9"/>
<text x="35.7" y="505.6" font-size="9.6" fill="#4d4d4d" stroke="#4d4d4d" stroke-width="0.22" text-anchor="end">20</text>
<line x1="38.9" y1="520.8" x2="41.9" y2="520.8" stroke="#333" stroke-width="0.9"/>
<text x="35.7" y="524.2" font-size="9.6" fill="#4d4d4d" stroke="#4d4d4d" stroke-width="0.22" text-anchor="end">10</text>
<line x1="38.9" y1="539.4" x2="41.9" y2="539.4" stroke="#333" stroke-width="0.9"/>
<text x="35.7" y="542.8" font-size="9.6" fill="#4d4d4d" stroke="#4d4d4d" stroke-width="0.22" text-anchor="end">0</text>
<line x1="38.9" y1="558" x2="41.9" y2="558" stroke="#333" stroke-width="0.9"/>
<text x="35.7" y="561.5" font-size="9.6" fill="#4d4d4d" stroke="#4d4d4d" stroke-width="0.22" text-anchor="end">10</text>
<line x1="38.9" y1="576.6" x2="41.9" y2="576.6" stroke="#333" stroke-width="0.9"/>
<text x="35.7" y="580.1" font-size="9.6" fill="#4d4d4d" stroke="#4d4d4d" stroke-width="0.22" text-anchor="end">20</text>
<line x1="82.8" y1="580.4" x2="82.8" y2="582.8" stroke="#333" stroke-width="0.9"/>
<line x1="108.6" y1="580.4" x2="108.6" y2="582.8" stroke="#333" stroke-width="0.9"/>
<line x1="134.8" y1="580.4" x2="134.8" y2="582.8" stroke="#333" stroke-width="0.9"/>
<line x1="158.4" y1="580.4" x2="158.4" y2="582.8" stroke="#333" stroke-width="0.9"/>
<line x1="192.3" y1="580.4" x2="192.3" y2="582.8" stroke="#333" stroke-width="0.9"/>
<line x1="205.6" y1="580.4" x2="205.6" y2="582.8" stroke="#333" stroke-width="0.9"/>
<line x1="240.6" y1="580.4" x2="240.6" y2="582.8" stroke="#333" stroke-width="0.9"/>
<line x1="261.8" y1="580.4" x2="261.8" y2="582.8" stroke="#333" stroke-width="0.9"/>
<line x1="294.7" y1="580.4" x2="294.7" y2="582.8" stroke="#333" stroke-width="0.9"/>
<line x1="318.1" y1="580.4" x2="318.1" y2="582.8" stroke="#333" stroke-width="0.9"/>
<line x1="336.7" y1="580.4" x2="336.7" y2="582.8" stroke="#333" stroke-width="0.9"/>
<line x1="363.5" y1="580.4" x2="363.5" y2="582.8" stroke="#333" stroke-width="0.9"/>
<line x1="389.6" y1="580.4" x2="389.6" y2="582.8" stroke="#333" stroke-width="0.9"/>
<line x1="417.3" y1="580.4" x2="417.3" y2="582.8" stroke="#333" stroke-width="0.9"/>
<line x1="445.6" y1="580.4" x2="445.6" y2="582.8" stroke="#333" stroke-width="0.9"/>
<line x1="463.7" y1="580.4" x2="463.7" y2="582.8" stroke="#333" stroke-width="0.9"/>
<line x1="492.9" y1="580.4" x2="492.9" y2="582.8" stroke="#333" stroke-width="0.9"/>
<line x1="518.1" y1="580.4" x2="518.1" y2="582.8" stroke="#333" stroke-width="0.9"/>
<line x1="548.3" y1="580.4" x2="548.3" y2="582.8" stroke="#333" stroke-width="0.9"/>
<line x1="572" y1="580.4" x2="572" y2="582.8" stroke="#333" stroke-width="0.9"/>
<line x1="602.2" y1="580.4" x2="602.2" y2="582.8" stroke="#333" stroke-width="0.9"/>
<line x1="624.8" y1="580.4" x2="624.8" y2="582.8" stroke="#333" stroke-width="0.9"/>
<text x="81" y="592.4" font-size="9.6" fill="#4d4d4d" stroke="#4d4d4d" stroke-width="0.22" text-anchor="middle">1</text>
<text x="106.8" y="592.4" font-size="9.6" fill="#4d4d4d" stroke="#4d4d4d" stroke-width="0.22" text-anchor="middle">2</text>
<text x="133" y="592.4" font-size="9.6" fill="#4d4d4d" stroke="#4d4d4d" stroke-width="0.22" text-anchor="middle">3</text>
<text x="156.6" y="592.4" font-size="9.6" fill="#4d4d4d" stroke="#4d4d4d" stroke-width="0.22" text-anchor="middle">4</text>
<text x="190.5" y="592.4" font-size="9.6" fill="#4d4d4d" stroke="#4d4d4d" stroke-width="0.22" text-anchor="middle">5</text>
<text x="203.8" y="592.4" font-size="9.6" fill="#4d4d4d" stroke="#4d4d4d" stroke-width="0.22" text-anchor="middle">6</text>
<text x="238.8" y="592.4" font-size="9.6" fill="#4d4d4d" stroke="#4d4d4d" stroke-width="0.22" text-anchor="middle">7</text>
<text x="260" y="592.4" font-size="9.6" fill="#4d4d4d" stroke="#4d4d4d" stroke-width="0.22" text-anchor="middle">8</text>
<text x="292.9" y="592.4" font-size="9.6" fill="#4d4d4d" stroke="#4d4d4d" stroke-width="0.22" text-anchor="middle">9</text>
<text x="316.3" y="592.4" font-size="9.6" fill="#4d4d4d" stroke="#4d4d4d" stroke-width="0.22" text-anchor="middle">10</text>
<text x="334.9" y="592.4" font-size="9.6" fill="#4d4d4d" stroke="#4d4d4d" stroke-width="0.22" text-anchor="middle">11</text>
<text x="361.7" y="592.4" font-size="9.6" fill="#4d4d4d" stroke="#4d4d4d" stroke-width="0.22" text-anchor="middle">12</text>
<text x="387.8" y="592.4" font-size="9.6" fill="#4d4d4d" stroke="#4d4d4d" stroke-width="0.22" text-anchor="middle">13</text>
<text x="415.5" y="592.4" font-size="9.6" fill="#4d4d4d" stroke="#4d4d4d" stroke-width="0.22" text-anchor="middle">14</text>
<text x="443.8" y="592.4" font-size="9.6" fill="#4d4d4d" stroke="#4d4d4d" stroke-width="0.22" text-anchor="middle">15</text>
<text x="461.9" y="592.4" font-size="9.6" fill="#4d4d4d" stroke="#4d4d4d" stroke-width="0.22" text-anchor="middle">16</text>
<text x="491.1" y="592.4" font-size="9.6" fill="#4d4d4d" stroke="#4d4d4d" stroke-width="0.22" text-anchor="middle">17</text>
<text x="516.3" y="592.4" font-size="9.6" fill="#4d4d4d" stroke="#4d4d4d" stroke-width="0.22" text-anchor="middle">18</text>
<text x="546.5" y="592.4" font-size="9.6" fill="#4d4d4d" stroke="#4d4d4d" stroke-width="0.22" text-anchor="middle">19</text>
<text x="570.2" y="592.4" font-size="9.6" fill="#4d4d4d" stroke="#4d4d4d" stroke-width="0.22" text-anchor="middle">20</text>
<text x="600.4" y="592.4" font-size="9.6" fill="#4d4d4d" stroke="#4d4d4d" stroke-width="0.22" text-anchor="middle">21</text>
<text x="623" y="592.4" font-size="9.6" fill="#4d4d4d" stroke="#4d4d4d" stroke-width="0.22" text-anchor="middle">22</text>
<text x="351" y="607.1" font-size="12.8" fill="#000" stroke="#000" stroke-width="0.22" text-anchor="middle">chromosome</text>
<text transform="translate(11.3 386) rotate(-90)" x="0" y="0" font-size="12" text-anchor="middle" fill="#000">-log<tspan font-size="8" dy="2.5">10</tspan><tspan dy="-2.5"> Bonferroni P-value</tspan></text>
<text x="21" y="625" font-size="11" fill="#000" font-weight="bold">c</text>
<line x1="24.3" y1="672.3" x2="159" y2="672.3" stroke="#c4c4c4" stroke-width="1.2" stroke-dasharray="4,3"/>
<line x1="96.9" y1="669.9" x2="96.9" y2="735" stroke="#4646f0" stroke-width="1.2"/>
<line x1="136.5" y1="705.2" x2="136.5" y2="730" stroke="#4646f0" stroke-width="1.2"/>
<line x1="146" y1="699.9" x2="146" y2="738" stroke="#4646f0" stroke-width="1.2"/>
<clipPath id="cad"><rect x="24.5" y="640" width="134.5" height="115.7"/></clipPath>
<g clip-path="url(#cad)">
<polygon points="24.5,731 35,731.5 45,732.5 52,736.5 60,737 70,735 85,733.9 96,732 105,730.5 115,729.5 118,723.5 125,724.5 135,722.5 146,722 150,729.5 155,730.5 159,725.5 159,755.7 24.5,755.7" fill="#3d3994"/>
<polygon points="54.5,749.4 58.5,749.4 56.5,745.8" fill="#3a3590"/>
<polygon points="86.3,745.1 90.3,745.1 88.3,748.7" fill="#3d3994"/>
<polygon points="135.1,729.2 139.1,729.2 137.1,732.8" fill="#3d3994"/>
<polygon points="119.0,739.8 123.0,739.8 121.0,743.4" fill="#3d3994"/>
<polygon points="108.5,735.4 112.5,735.4 110.5,731.8" fill="#3d3994"/>
<polygon points="92.9,748.7 96.9,748.7 94.9,752.3" fill="#3d3994"/>
<polygon points="151.3,732.6 155.3,732.6 153.3,729.0" fill="#3d3994"/>
<polygon points="58.7,750.4 62.7,750.4 60.7,746.8" fill="#463fa0"/>
<polygon points="146.4,736.4 150.4,736.4 148.4,740.0" fill="#3d3994"/>
<polygon points="148.3,751.8 152.3,751.8 150.3,755.4" fill="#3d3994"/>
<polygon points="89.1,740.5 93.1,740.5 91.1,736.9" fill="#463fa0"/>
<polygon points="137.5,738.4 141.5,738.4 139.5,734.8" fill="#463fa0"/>
<polygon points="94.3,743.7 98.3,743.7 96.3,740.1" fill="#3d3994"/>
<polygon points="114.2,756.6 118.2,756.6 116.2,753.0" fill="#3a3590"/>
<polygon points="112.8,735.4 116.8,735.4 114.8,731.8" fill="#3a3590"/>
<polygon points="144.2,743.7 148.2,743.7 146.2,740.1" fill="#3d3994"/>
<polygon points="155.4,733.2 159.4,733.2 157.4,736.8" fill="#3d3994"/>
<polygon points="137.4,754.8 141.4,754.8 139.4,758.4" fill="#3d3994"/>
<polygon points="31.5,752.5 35.5,752.5 33.5,756.1" fill="#3d3994"/>
<polygon points="125.9,754.5 129.9,754.5 127.9,750.9" fill="#3d3994"/>
<polygon points="124.9,734.4 128.9,734.4 126.9,738.0" fill="#3d3994"/>
<polygon points="141.0,754.5 145.0,754.5 143.0,758.1" fill="#3d3994"/>
<polygon points="27.3,732.7 31.3,732.7 29.3,729.1" fill="#3d3994"/>
<polygon points="26.7,734.1 30.7,734.1 28.7,737.7" fill="#463fa0"/>
<polygon points="57.9,748.8 61.9,748.8 59.9,752.4" fill="#3a3590"/>
<polygon points="151.4,752.4 155.4,752.4 153.4,756.0" fill="#463fa0"/>
<polygon points="139.5,737.1 143.5,737.1 141.5,733.5" fill="#3d3994"/>
<polygon points="36.3,754.5 40.3,754.5 38.3,758.1" fill="#3d3994"/>
<polygon points="107.8,747.4 111.8,747.4 109.8,751.0" fill="#3a3590"/>
<polygon points="57.2,740.9 61.2,740.9 59.2,744.5" fill="#3a3590"/>
<polygon points="78.3,745.4 82.3,745.4 80.3,749.0" fill="#3d3994"/>
<polygon points="101.7,732.0 105.7,732.0 103.7,735.6" fill="#3a3590"/>
<polygon points="113.9,739.6 117.9,739.6 115.9,736.0" fill="#3a3590"/>
<polygon points="25.5,734.0 29.5,734.0 27.5,730.4" fill="#3d3994"/>
<polygon points="56.3,747.6 60.3,747.6 58.3,744.0" fill="#3d3994"/>
<polygon points="46.4,740.0 50.4,740.0 48.4,736.4" fill="#3a3590"/>
<polygon points="58.0,754.4 62.0,754.4 60.0,750.8" fill="#3d3994"/>
<polygon points="26.1,743.9 30.1,743.9 28.1,747.5" fill="#3d3994"/>
<polygon points="52.4,751.1 56.4,751.1 54.4,754.7" fill="#3d3994"/>
<polygon points="113.7,744.9 117.7,744.9 115.7,748.5" fill="#3d3994"/>
<polygon points="65.8,740.5 69.8,740.5 67.8,744.1" fill="#3d3994"/>
<polygon points="137.6,729.6 141.6,729.6 139.6,726.0" fill="#3a3590"/>
<polygon points="51.8,746.2 55.8,746.2 53.8,749.8" fill="#3a3590"/>
<polygon points="38.8,743.2 42.8,743.2 40.8,746.8" fill="#3d3994"/>
<polygon points="135.0,740.3 139.0,740.3 137.0,743.9" fill="#3a3590"/>
<polygon points="133.9,723.2 137.9,723.2 135.9,726.8" fill="#3d3994"/>
<polygon points="39.9,737.3 43.9,737.3 41.9,740.9" fill="#3a3590"/>
<polygon points="107.8,735.7 111.8,735.7 109.8,739.3" fill="#3d3994"/>
<polygon points="146.3,728.9 150.3,728.9 148.3,732.5" fill="#3d3994"/>
<polygon points="134.5,742.0 138.5,742.0 136.5,745.6" fill="#3d3994"/>
<polygon points="150.3,753.2 154.3,753.2 152.3,756.8" fill="#3d3994"/>
<polygon points="83.9,752.9 87.9,752.9 85.9,749.3" fill="#3d3994"/>
<polygon points="95.6,756.0 99.6,756.0 97.6,752.4" fill="#3d3994"/>
<polygon points="153.1,731.3 157.1,731.3 155.1,734.9" fill="#3d3994"/>
<polygon points="144.0,747.9 148.0,747.9 146.0,744.3" fill="#3d3994"/>
<polygon points="143.5,740.2 147.5,740.2 145.5,743.8" fill="#3d3994"/>
<polygon points="38.7,746.2 42.7,746.2 40.7,742.6" fill="#3d3994"/>
<polygon points="93.1,740.3 97.1,740.3 95.1,743.9" fill="#3d3994"/>
<polygon points="39.4,754.5 43.4,754.5 41.4,758.1" fill="#3d3994"/>
<polygon points="127.7,733.2 131.7,733.2 129.7,736.8" fill="#3d3994"/>
<polygon points="141.9,727.6 145.9,727.6 143.9,724.0" fill="#3d3994"/>
<polygon points="146.5,749.2 150.5,749.2 148.5,752.8" fill="#3d3994"/>
<polygon points="99.3,739.4 103.3,739.4 101.3,743.0" fill="#3a3590"/>
<polygon points="105.6,742.1 109.6,742.1 107.6,745.7" fill="#3d3994"/>
<polygon points="126.9,725.1 130.9,725.1 128.9,721.5" fill="#3d3994"/>
<polygon points="28.7,733.9 32.7,733.9 30.7,730.3" fill="#463fa0"/>
<polygon points="137.4,723.0 141.4,723.0 139.4,726.6" fill="#3d3994"/>
<polygon points="43.6,735.9 47.6,735.9 45.6,732.3" fill="#463fa0"/>
<polygon points="101.4,741.7 105.4,741.7 103.4,738.1" fill="#3d3994"/>
<polygon points="80.2,738.4 84.2,738.4 82.2,734.8" fill="#3d3994"/>
<polygon points="73.6,734.1 77.6,734.1 75.6,737.7" fill="#3d3994"/>
<polygon points="84.5,746.9 88.5,746.9 86.5,750.5" fill="#3d3994"/>
<polygon points="130.3,742.2 134.3,742.2 132.3,745.8" fill="#463fa0"/>
<polygon points="106.9,748.6 110.9,748.6 108.9,752.2" fill="#3a3590"/>
<polygon points="115.9,737.0 119.9,737.0 117.9,740.6" fill="#3d3994"/>
<polygon points="58.8,746.7 62.8,746.7 60.8,750.3" fill="#463fa0"/>
<polygon points="40.0,730.6 44.0,730.6 42.0,734.2" fill="#3a3590"/>
<polygon points="143.3,747.8 147.3,747.8 145.3,751.4" fill="#3a3590"/>
<polygon points="115.4,756.8 119.4,756.8 117.4,753.2" fill="#3d3994"/>
<polygon points="112.3,751.4 116.3,751.4 114.3,747.8" fill="#3d3994"/>
<polygon points="131.7,745.4 135.7,745.4 133.7,749.0" fill="#463fa0"/>
<polygon points="126.6,726.6 130.6,726.6 128.6,723.0" fill="#3d3994"/>
<polygon points="111.2,737.8 115.2,737.8 113.2,741.4" fill="#3d3994"/>
<polygon points="137.1,724.5 141.1,724.5 139.1,720.9" fill="#3d3994"/>
<polygon points="135.0,753.5 139.0,753.5 137.0,757.1" fill="#3d3994"/>
<polygon points="34.4,758.7 38.4,758.7 36.4,755.1" fill="#3d3994"/>
<polygon points="118.7,728.8 122.7,728.8 120.7,725.2" fill="#3d3994"/>
<polygon points="30.7,737.6 34.7,737.6 32.7,741.2" fill="#3d3994"/>
<polygon points="32.9,755.2 36.9,755.2 34.9,758.8" fill="#3d3994"/>
<polygon points="116.7,753.3 120.7,753.3 118.7,756.9" fill="#3a3590"/>
<polygon points="75.8,743.8 79.8,743.8 77.8,740.2" fill="#463fa0"/>
<polygon points="73.0,741.3 77.0,741.3 75.0,737.7" fill="#463fa0"/>
<polygon points="152.6,743.0 156.6,743.0 154.6,739.4" fill="#3d3994"/>
<polygon points="113.1,741.5 117.1,741.5 115.1,745.1" fill="#463fa0"/>
<polygon points="76.4,752.6 80.4,752.6 78.4,756.2" fill="#3d3994"/>
<polygon points="123.1,756.0 127.1,756.0 125.1,752.4" fill="#3d3994"/>
<polygon points="101.4,751.4 105.4,751.4 103.4,755.0" fill="#3d3994"/>
<polygon points="49.3,749.9 53.3,749.9 51.3,746.3" fill="#3a3590"/>
<polygon points="137.0,742.5 141.0,742.5 139.0,738.9" fill="#3a3590"/>
<polygon points="137.5,744.5 141.5,744.5 139.5,740.9" fill="#3d3994"/>
<polygon points="58.4,739.1 62.4,739.1 60.4,742.7" fill="#3d3994"/>
<polygon points="130.7,727.6 134.7,727.6 132.7,731.2" fill="#3d3994"/>
<polygon points="65.8,750.2 69.8,750.2 67.8,753.8" fill="#3d3994"/>
<polygon points="116.3,745.1 120.3,745.1 118.3,748.7" fill="#3d3994"/>
<polygon points="134.8,748.9 138.8,748.9 136.8,752.5" fill="#3d3994"/>
<polygon points="156.0,730.2 160.0,730.2 158.0,726.6" fill="#463fa0"/>
<polygon points="141.1,725.1 145.1,725.1 143.1,721.5" fill="#3d3994"/>
<polygon points="109.7,752.6 113.7,752.6 111.7,749.0" fill="#3d3994"/>
<polygon points="137.3,732.1 141.3,732.1 139.3,728.5" fill="#3d3994"/>
<polygon points="41.0,749.3 45.0,749.3 43.0,745.7" fill="#3d3994"/>
<polygon points="56.8,752.4 60.8,752.4 58.8,756.0" fill="#3a3590"/>
<polygon points="34.7,750.0 38.7,750.0 36.7,753.6" fill="#3d3994"/>
<polygon points="134.7,730.4 138.7,730.4 136.7,734.0" fill="#3a3590"/>
<polygon points="121.2,733.1 125.2,733.1 123.2,736.7" fill="#3d3994"/>
<polygon points="81.2,746.7 85.2,746.7 83.2,743.1" fill="#3d3994"/>
<polygon points="122.3,741.9 126.3,741.9 124.3,738.3" fill="#3d3994"/>
<polygon points="38.5,736.7 42.5,736.7 40.5,740.3" fill="#463fa0"/>
<polygon points="141.8,755.6 145.8,755.6 143.8,752.0" fill="#3d3994"/>
<polygon points="116.7,747.9 120.7,747.9 118.7,744.3" fill="#3a3590"/>
<polygon points="62.2,748.3 66.2,748.3 64.2,751.9" fill="#3a3590"/>
<polygon points="149.5,740.5 153.5,740.5 151.5,736.9" fill="#3d3994"/>
<polygon points="37.7,742.3 41.7,742.3 39.7,745.9" fill="#3a3590"/>
<polygon points="62.1,753.0 66.1,753.0 64.1,749.4" fill="#3d3994"/>
<polygon points="120.7,730.5 124.7,730.5 122.7,726.9" fill="#3a3590"/>
<polygon points="110.6,730.9 114.6,730.9 112.6,734.5" fill="#3d3994"/>
<polygon points="67.1,749.0 71.1,749.0 69.1,752.6" fill="#3d3994"/>
<polygon points="62.9,737.7 66.9,737.7 64.9,741.3" fill="#463fa0"/>
<polygon points="46.2,737.2 50.2,737.2 48.2,733.6" fill="#3d3994"/>
<polygon points="95.6,748.5 99.6,748.5 97.6,752.1" fill="#3a3590"/>
<polygon points="58.9,735.6 62.9,735.6 60.9,739.2" fill="#3d3994"/>
<polygon points="90.4,736.5 94.4,736.5 92.4,740.1" fill="#3d3994"/>
<polygon points="67.3,745.5 71.3,745.5 69.3,741.9" fill="#3d3994"/>
<polygon points="31.8,742.1 35.8,742.1 33.8,745.7" fill="#3d3994"/>
<polygon points="101.9,750.3 105.9,750.3 103.9,746.7" fill="#3d3994"/>
<polygon points="120.3,731.6 124.3,731.6 122.3,728.0" fill="#3d3994"/>
<polygon points="112.6,741.8 116.6,741.8 114.6,738.2" fill="#3d3994"/>
<polygon points="42.2,743.7 46.2,743.7 44.2,740.1" fill="#3d3994"/>
<polygon points="45.4,735.8 49.4,735.8 47.4,739.4" fill="#3a3590"/>
<polygon points="61.9,755.4 65.9,755.4 63.9,751.8" fill="#463fa0"/>
<polygon points="150.2,741.8 154.2,741.8 152.2,738.2" fill="#3d3994"/>
<polygon points="64.1,747.9 68.1,747.9 66.1,744.3" fill="#3d3994"/>
<polygon points="62.8,752.2 66.8,752.2 64.8,755.8" fill="#463fa0"/>
<polygon points="48.1,750.7 52.1,750.7 50.1,747.1" fill="#3d3994"/>
<polygon points="111.5,744.6 115.5,744.6 113.5,741.0" fill="#3d3994"/>
<polygon points="49.3,750.5 53.3,750.5 51.3,754.1" fill="#3d3994"/>
<polygon points="89.8,746.4 93.8,746.4 91.8,750.0" fill="#463fa0"/>
<polygon points="60.6,748.0 64.6,748.0 62.6,751.6" fill="#3d3994"/>
<polygon points="129.1,742.3 133.1,742.3 131.1,745.9" fill="#3d3994"/>
<polygon points="105.7,745.3 109.7,745.3 107.7,741.7" fill="#463fa0"/>
<polygon points="147.6,739.3 151.6,739.3 149.6,735.7" fill="#3a3590"/>
<polygon points="40.6,755.2 44.6,755.2 42.6,751.6" fill="#3d3994"/>
<polygon points="27.1,734.6 31.1,734.6 29.1,731.0" fill="#3a3590"/>
<polygon points="50.1,735.5 54.1,735.5 52.1,739.1" fill="#3d3994"/>
<polygon points="124.3,741.7 128.3,741.7 126.3,738.1" fill="#3d3994"/>
<polygon points="77.4,751.6 81.4,751.6 79.4,755.2" fill="#3d3994"/>
<polygon points="86.2,732.7 90.2,732.7 88.2,736.3" fill="#463fa0"/>
<polygon points="88.3,734.9 92.3,734.9 90.3,731.3" fill="#463fa0"/>
<polygon points="76.5,739.9 80.5,739.9 78.5,736.3" fill="#3d3994"/>
<polygon points="71.9,740.9 75.9,740.9 73.9,744.5" fill="#3d3994"/>
<polygon points="76.5,754.5 80.5,754.5 78.5,758.1" fill="#3d3994"/>
<polygon points="72.2,751.9 76.2,751.9 74.2,755.5" fill="#3d3994"/>
<polygon points="50.6,741.4 54.6,741.4 52.6,737.8" fill="#463fa0"/>
<polygon points="108.1,731.5 112.1,731.5 110.1,735.1" fill="#3d3994"/>
<polygon points="88.4,732.1 92.4,732.1 90.4,735.7" fill="#3d3994"/>
<polygon points="65.3,734.0 69.3,734.0 67.3,737.6" fill="#3d3994"/>
<polygon points="27.8,741.9 31.8,741.9 29.8,745.5" fill="#3d3994"/>
<polygon points="74.8,740.2 78.8,740.2 76.8,736.6" fill="#3a3590"/>
<polygon points="69.1,739.0 73.1,739.0 71.1,735.4" fill="#3d3994"/>
<polygon points="61.6,758.4 65.6,758.4 63.6,754.8" fill="#463fa0"/>
<polygon points="151.8,741.3 155.8,741.3 153.8,744.9" fill="#3d3994"/>
<polygon points="132.1,742.3 136.1,742.3 134.1,745.9" fill="#3a3590"/>
<polygon points="30.1,744.0 34.1,744.0 32.1,740.4" fill="#3d3994"/>
<polygon points="23.0,729.5 27.0,729.5 25.0,733.1" fill="#3d3994"/>
<polygon points="90.2,745.9 94.2,745.9 92.2,742.3" fill="#3d3994"/>
<polygon points="143.6,726.8 147.6,726.8 145.6,730.4" fill="#463fa0"/>
<polygon points="86.9,739.5 90.9,739.5 88.9,743.1" fill="#3d3994"/>
<polygon points="123.6,743.0 127.6,743.0 125.6,746.6" fill="#463fa0"/>
<polygon points="62.0,755.6 66.0,755.6 64.0,752.0" fill="#3d3994"/>
<polygon points="96.1,743.2 100.1,743.2 98.1,746.8" fill="#463fa0"/>
<polygon points="122.0,746.4 126.0,746.4 124.0,750.0" fill="#3d3994"/>
<polygon points="47.2,750.7 51.2,750.7 49.2,754.3" fill="#463fa0"/>
<polygon points="127.3,741.2 131.3,741.2 129.3,737.6" fill="#3a3590"/>
<polygon points="90.7,752.6 94.7,752.6 92.7,749.0" fill="#463fa0"/>
<polygon points="28.2,737.1 32.2,737.1 30.2,733.5" fill="#3d3994"/>
<polygon points="34.9,747.2 38.9,747.2 36.9,750.8" fill="#3d3994"/>
<polygon points="103.3,753.4 107.3,753.4 105.3,749.8" fill="#3d3994"/>
<polygon points="139.8,739.4 143.8,739.4 141.8,735.8" fill="#3a3590"/>
<polygon points="22.7,733.9 26.7,733.9 24.7,737.5" fill="#3d3994"/>
<polygon points="64.4,743.2 68.4,743.2 66.4,746.8" fill="#3d3994"/>
<polygon points="29.1,736.6 33.1,736.6 31.1,733.0" fill="#3d3994"/>
<polygon points="24.1,734.9 28.1,734.9 26.1,738.5" fill="#3d3994"/>
<polygon points="98.1,740.0 102.1,740.0 100.1,743.6" fill="#3d3994"/>
<polygon points="141.2,747.5 145.2,747.5 143.2,751.1" fill="#463fa0"/>
<polygon points="33.1,754.3 37.1,754.3 35.1,750.7" fill="#3d3994"/>
<polygon points="138.0,723.5 142.0,723.5 140.0,727.1" fill="#3a3590"/>
<polygon points="85.1,736.6 89.1,736.6 87.1,740.2" fill="#3d3994"/>
<polygon points="87.8,747.1 91.8,747.1 89.8,750.7" fill="#3a3590"/>
<polygon points="111.4,752.6 115.4,752.6 113.4,749.0" fill="#3a3590"/>
<polygon points="102.4,750.2 106.4,750.2 104.4,753.8" fill="#3d3994"/>
<polygon points="23.5,736.7 27.5,736.7 25.5,740.3" fill="#3d3994"/>
<polygon points="48.3,753.4 52.3,753.4 50.3,749.8" fill="#3d3994"/>
<polygon points="71.5,753.9 75.5,753.9 73.5,750.3" fill="#3d3994"/>
<polygon points="51.3,741.6 55.3,741.6 53.3,745.2" fill="#3d3994"/>
<polygon points="80.4,733.8 84.4,733.8 82.4,737.4" fill="#3d3994"/>
<polygon points="123.3,732.6 127.3,732.6 125.3,729.0" fill="#3d3994"/>
<polygon points="155.2,747.3 159.2,747.3 157.2,743.7" fill="#3d3994"/>
<polygon points="72.0,740.4 76.0,740.4 74.0,736.8" fill="#3d3994"/>
<polygon points="87.6,749.7 91.6,749.7 89.6,753.3" fill="#463fa0"/>
<polygon points="101.5,729.4 105.5,729.4 103.5,733.0" fill="#3d3994"/>
<polygon points="35.4,751.6 39.4,751.6 37.4,748.0" fill="#3a3590"/>
<polygon points="30.8,745.0 34.8,745.0 32.8,741.4" fill="#3d3994"/>
<polygon points="59.6,743.4 63.6,743.4 61.6,747.0" fill="#3a3590"/>
<polygon points="49.0,750.5 53.0,750.5 51.0,754.1" fill="#3d3994"/>
<polygon points="62.8,742.6 66.8,742.6 64.8,746.2" fill="#3d3994"/>
<polygon points="88.0,754.2 92.0,754.2 90.0,750.6" fill="#3a3590"/>
<polygon points="154.3,755.3 158.3,755.3 156.3,751.7" fill="#3a3590"/>
<polygon points="80.5,757.4 84.5,757.4 82.5,753.8" fill="#463fa0"/>
<polygon points="95.4,738.7 99.4,738.7 97.4,742.3" fill="#3a3590"/>
<polygon points="84.8,756.1 88.8,756.1 86.8,752.5" fill="#3a3590"/>
<polygon points="147.6,741.4 151.6,741.4 149.6,745.0" fill="#3d3994"/>
<polygon points="93.9,747.0 97.9,747.0 95.9,743.4" fill="#3d3994"/>
<polygon points="22.8,754.8 26.8,754.8 24.8,758.4" fill="#463fa0"/>
<polygon points="152.4,737.9 156.4,737.9 154.4,741.5" fill="#3d3994"/>
<polygon points="47.4,736.6 51.4,736.6 49.4,733.0" fill="#463fa0"/>
<polygon points="134.9,741.3 138.9,741.3 136.9,744.9" fill="#3d3994"/>
<polygon points="57.7,748.5 61.7,748.5 59.7,752.1" fill="#463fa0"/>
<polygon points="57.5,735.6 61.5,735.6 59.5,739.2" fill="#463fa0"/>
<polygon points="156.5,729.1 160.5,729.1 158.5,732.7" fill="#3d3994"/>
<polygon points="40.7,752.7 44.7,752.7 42.7,749.1" fill="#463fa0"/>
<polygon points="134.3,739.5 138.3,739.5 136.3,743.1" fill="#3a3590"/>
<polygon points="28.6,745.3 32.6,745.3 30.6,741.7" fill="#3d3994"/>
<polygon points="144.4,740.3 148.4,740.3 146.4,736.7" fill="#3d3994"/>
<polygon points="72.4,746.8 76.4,746.8 74.4,750.4" fill="#3a3590"/>
<polygon points="114.5,755.0 118.5,755.0 116.5,758.6" fill="#3d3994"/>
<polygon points="126.6,740.1 130.6,740.1 128.6,736.5" fill="#3a3590"/>
<polygon points="83.4,757.8 87.4,757.8 85.4,754.2" fill="#3d3994"/>
<polygon points="41.3,734.6 45.3,734.6 43.3,731.0" fill="#463fa0"/>
<polygon points="133.8,752.8 137.8,752.8 135.8,756.4" fill="#3d3994"/>
<polygon points="65.1,746.4 69.1,746.4 67.1,750.0" fill="#3d3994"/>
<polygon points="60.1,749.1 64.1,749.1 62.1,752.7" fill="#3a3590"/>
<polygon points="112.4,737.6 116.4,737.6 114.4,741.2" fill="#3d3994"/>
<polygon points="123.7,749.5 127.7,749.5 125.7,753.1" fill="#463fa0"/>
<polygon points="146.3,733.3 150.3,733.3 148.3,729.7" fill="#463fa0"/>
<polygon points="75.8,736.9 79.8,736.9 77.8,733.3" fill="#3d3994"/>
<polygon points="149.4,739.9 153.4,739.9 151.4,736.3" fill="#463fa0"/>
<polygon points="27.3,743.5 31.3,743.5 29.3,739.9" fill="#463fa0"/>
<polygon points="33.2,738.8 37.2,738.8 35.2,735.2" fill="#3d3994"/>
<polygon points="116.4,728.8 120.4,728.8 118.4,725.2" fill="#3d3994"/>
<polygon points="132.5,724.1 136.5,724.1 134.5,720.5" fill="#3a3590"/>
<polygon points="115.6,736.3 119.6,736.3 117.6,739.9" fill="#463fa0"/>
<polygon points="61.4,745.9 65.4,745.9 63.4,749.5" fill="#3d3994"/>
<polygon points="151.3,735.4 155.3,735.4 153.3,731.8" fill="#3d3994"/>
<polygon points="85.4,740.7 89.4,740.7 87.4,744.3" fill="#3d3994"/>
<polygon points="29.8,748.9 33.8,748.9 31.8,752.5" fill="#3d3994"/>
<polygon points="109.7,731.1 113.7,731.1 111.7,734.7" fill="#3d3994"/>
<polygon points="151.7,746.1 155.7,746.1 153.7,742.5" fill="#463fa0"/>
<polygon points="80.8,736.0 84.8,736.0 82.8,739.6" fill="#3d3994"/>
<polygon points="40.2,733.6 44.2,733.6 42.2,737.2" fill="#3d3994"/>
<polygon points="148.6,744.2 152.6,744.2 150.6,747.8" fill="#3d3994"/>
<polygon points="72.4,735.6 76.4,735.6 74.4,739.2" fill="#463fa0"/>
<polygon points="70.2,754.1 74.2,754.1 72.2,757.7" fill="#463fa0"/>
<polygon points="136.4,740.3 140.4,740.3 138.4,736.7" fill="#3a3590"/>
<polygon points="137.4,735.6 141.4,735.6 139.4,739.2" fill="#463fa0"/>
<polygon points="94.9,740.9 98.9,740.9 96.9,744.5" fill="#3d3994"/>
<polygon points="74.1,753.2 78.1,753.2 76.1,749.6" fill="#3a3590"/>
<polygon points="136.6,726.3 140.6,726.3 138.6,729.9" fill="#3d3994"/>
<polygon points="135.5,728.3 139.5,728.3 137.5,724.7" fill="#3d3994"/>
<polygon points="77.5,755.8 81.5,755.8 79.5,752.2" fill="#3d3994"/>
<polygon points="43.7,737.2 47.7,737.2 45.7,733.6" fill="#463fa0"/>
<polygon points="114.7,740.3 118.7,740.3 116.7,743.9" fill="#3a3590"/>
<polygon points="95.2,744.4 99.2,744.4 97.2,740.8" fill="#3d3994"/>
<polygon points="51.9,743.8 55.9,743.8 53.9,747.4" fill="#3d3994"/>
<polygon points="65.3,744.7 69.3,744.7 67.3,741.1" fill="#3d3994"/>
<polygon points="119.8,733.2 123.8,733.2 121.8,736.8" fill="#3a3590"/>
<polygon points="153.9,738.3 157.9,738.3 155.9,734.7" fill="#3d3994"/>
<polygon points="52.3,755.1 56.3,755.1 54.3,758.7" fill="#3d3994"/>
<polygon points="152.6,740.4 156.6,740.4 154.6,744.0" fill="#463fa0"/>
<polygon points="128.6,730.7 132.6,730.7 130.6,727.1" fill="#3d3994"/>
<polygon points="81.9,746.2 85.9,746.2 83.9,749.8" fill="#3d3994"/>
<polygon points="96.5,745.1 100.5,745.1 98.5,748.7" fill="#3a3590"/>
<polygon points="137.4,733.5 141.4,733.5 139.4,737.1" fill="#3d3994"/>
<polygon points="51.4,745.8 55.4,745.8 53.4,749.4" fill="#3d3994"/>
<polygon points="139.2,745.0 143.2,745.0 141.2,748.6" fill="#3a3590"/>
<polygon points="72.5,740.8 76.5,740.8 74.5,744.4" fill="#463fa0"/>
<polygon points="110.2,751.7 114.2,751.7 112.2,755.3" fill="#3d3994"/>
<polygon points="66.0,736.7 70.0,736.7 68.0,733.1" fill="#3d3994"/>
<polygon points="41.3,732.1 45.3,732.1 43.3,735.7" fill="#3a3590"/>
<polygon points="49.0,737.8 53.0,737.8 51.0,734.2" fill="#3a3590"/>
<polygon points="121.7,749.5 125.7,749.5 123.7,753.1" fill="#3d3994"/>
<polygon points="114.3,728.3 118.3,728.3 116.3,731.9" fill="#463fa0"/>
<polygon points="41.2,737.7 45.2,737.7 43.2,741.3" fill="#3d3994"/>
<polygon points="133.3,741.2 137.3,741.2 135.3,744.8" fill="#3d3994"/>
<polygon points="129.6,737.6 133.6,737.6 131.6,734.0" fill="#463fa0"/>
<polygon points="47.2,738.8 51.2,738.8 49.2,742.4" fill="#463fa0"/>
<polygon points="108.0,743.8 112.0,743.8 110.0,747.4" fill="#3a3590"/>
<polygon points="35.6,754.7 39.6,754.7 37.6,758.3" fill="#3d3994"/>
<polygon points="140.5,746.2 144.5,746.2 142.5,749.8" fill="#3a3590"/>
<polygon points="23.8,745.1 27.8,745.1 25.8,741.5" fill="#463fa0"/>
<polygon points="35.2,750.0 39.2,750.0 37.2,746.4" fill="#463fa0"/>
<polygon points="52.9,744.7 56.9,744.7 54.9,741.1" fill="#463fa0"/>
<polygon points="29.5,746.2 33.5,746.2 31.5,742.6" fill="#3d3994"/>
<polygon points="99.7,734.6 103.7,734.6 101.7,731.0" fill="#3d3994"/>
<polygon points="133.4,752.3 137.4,752.3 135.4,755.9" fill="#463fa0"/>
<polygon points="154.6,745.4 158.6,745.4 156.6,749.0" fill="#3d3994"/>
<polygon points="99.6,737.8 103.6,737.8 101.6,741.4" fill="#3d3994"/>
<polygon points="94.0,745.5 98.0,745.5 96.0,749.1" fill="#3a3590"/>
<polygon points="138.2,740.6 142.2,740.6 140.2,744.2" fill="#3d3994"/>
<polygon points="30.6,744.0 34.6,744.0 32.6,740.4" fill="#3a3590"/>
<polygon points="88.9,755.2 92.9,755.2 90.9,751.6" fill="#3d3994"/>
<polygon points="148.6,730.7 152.6,730.7 150.6,734.3" fill="#3d3994"/>
<polygon points="51.0,738.2 55.0,738.2 53.0,741.8" fill="#3d3994"/>
<polygon points="55.7,752.7 59.7,752.7 57.7,756.3" fill="#3d3994"/>
<polygon points="71.9,737.5 75.9,737.5 73.9,741.1" fill="#3a3590"/>
<polygon points="57.9,752.5 61.9,752.5 59.9,748.9" fill="#3a3590"/>
<polygon points="50.4,744.2 54.4,744.2 52.4,740.6" fill="#3d3994"/>
<polygon points="55.5,752.6 59.5,752.6 57.5,749.0" fill="#3d3994"/>
<polygon points="71.6,737.7 75.6,737.7 73.6,741.3" fill="#3d3994"/>
<polygon points="95.1,744.9 99.1,744.9 97.1,748.5" fill="#3a3590"/>
<polygon points="30.0,749.6 34.0,749.6 32.0,753.2" fill="#463fa0"/>
<polygon points="100.4,739.4 104.4,739.4 102.4,735.8" fill="#463fa0"/>
<polygon points="52.3,751.4 56.3,751.4 54.3,755.0" fill="#463fa0"/>
<polygon points="156.4,739.0 160.4,739.0 158.4,742.6" fill="#3d3994"/>
<polygon points="78.9,755.6 82.9,755.6 80.9,752.0" fill="#3d3994"/>
<polygon points="37.0,743.1 41.0,743.1 39.0,746.7" fill="#3a3590"/>
<polygon points="95.0,751.7 99.0,751.7 97.0,755.3" fill="#463fa0"/>
<polygon points="28.1,741.7 32.1,741.7 30.1,738.1" fill="#3d3994"/>
<polygon points="116.9,754.4 120.9,754.4 118.9,758.0" fill="#3d3994"/>
<polygon points="142.5,751.1 146.5,751.1 144.5,754.7" fill="#3d3994"/>
<polygon points="77.7,757.0 81.7,757.0 79.7,753.4" fill="#3a3590"/>
<polygon points="79.4,744.9 83.4,744.9 81.4,748.5" fill="#3a3590"/>
<polygon points="72.3,740.1 76.3,740.1 74.3,736.5" fill="#3a3590"/>
<polygon points="98.2,739.1 102.2,739.1 100.2,742.7" fill="#3d3994"/>
<polygon points="44.3,753.1 48.3,753.1 46.3,756.7" fill="#463fa0"/>
<polygon points="75.5,740.3 79.5,740.3 77.5,736.7" fill="#463fa0"/>
<polygon points="71.7,748.9 75.7,748.9 73.7,752.5" fill="#3d3994"/>
<polygon points="49.6,744.7 53.6,744.7 51.6,748.3" fill="#3d3994"/>
<polygon points="96.7,735.9 100.7,735.9 98.7,732.3" fill="#463fa0"/>
<polygon points="91.8,740.1 95.8,740.1 93.8,743.7" fill="#3d3994"/>
<polygon points="114.5,731.3 118.5,731.3 116.5,734.9" fill="#3a3590"/>
<polygon points="150.0,740.8 154.0,740.8 152.0,744.4" fill="#463fa0"/>
<polygon points="72.2,751.5 76.2,751.5 74.2,747.9" fill="#3a3590"/>
<polygon points="91.2,735.2 95.2,735.2 93.2,738.8" fill="#3d3994"/>
<polygon points="57.2,745.4 61.2,745.4 59.2,741.8" fill="#3a3590"/>
<polygon points="35.8,747.6 39.8,747.6 37.8,751.2" fill="#3d3994"/>
<polygon points="84.0,758.2 88.0,758.2 86.0,754.6" fill="#3a3590"/>
<polygon points="41.6,731.1 45.6,731.1 43.6,734.7" fill="#463fa0"/>
<polygon points="90.9,743.1 94.9,743.1 92.9,739.5" fill="#463fa0"/>
<polygon points="90.3,751.0 94.3,751.0 92.3,747.4" fill="#463fa0"/>
<polygon points="80.3,742.3 84.3,742.3 82.3,738.7" fill="#3a3590"/>
<polygon points="74.7,733.3 78.7,733.3 76.7,736.9" fill="#3d3994"/>
<polygon points="22.7,753.3 26.7,753.3 24.7,749.7" fill="#3d3994"/>
<polygon points="150.7,751.0 154.7,751.0 152.7,754.6" fill="#3a3590"/>
<polygon points="107.0,743.2 111.0,743.2 109.0,746.8" fill="#3a3590"/>
<polygon points="43.8,754.7 47.8,754.7 45.8,758.3" fill="#3d3994"/>
<polygon points="121.8,727.0 125.8,727.0 123.8,730.6" fill="#3d3994"/>
<polygon points="132.1,745.8 136.1,745.8 134.1,749.4" fill="#3a3590"/>
<polygon points="106.5,752.0 110.5,752.0 108.5,755.6" fill="#3d3994"/>
<polygon points="116.4,742.6 120.4,742.6 118.4,746.2" fill="#3d3994"/>
<polygon points="83.8,755.1 87.8,755.1 85.8,758.7" fill="#3d3994"/>
<polygon points="46.2,751.2 50.2,751.2 48.2,754.8" fill="#3d3994"/>
<polygon points="116.5,727.1 120.5,727.1 118.5,730.7" fill="#3d3994"/>
<polygon points="120.2,749.7 124.2,749.7 122.2,753.3" fill="#3a3590"/>
<polygon points="130.4,734.1 134.4,734.1 132.4,737.7" fill="#3d3994"/>
<polygon points="112.3,736.4 116.3,736.4 114.3,740.0" fill="#3d3994"/>
<polygon points="54.3,734.6 58.3,734.6 56.3,738.2" fill="#3d3994"/>
<polygon points="78.4,737.8 82.4,737.8 80.4,734.2" fill="#3a3590"/>
<polygon points="37.9,746.7 41.9,746.7 39.9,750.3" fill="#3d3994"/>
<polygon points="25.8,729.6 29.8,729.6 27.8,733.2" fill="#3a3590"/>
<polygon points="83.6,743.6 87.6,743.6 85.6,747.2" fill="#3d3994"/>
<polygon points="143.3,727.1 147.3,727.1 145.3,730.7" fill="#3d3994"/>
<polygon points="64.0,738.5 68.0,738.5 66.0,734.9" fill="#463fa0"/>
<polygon points="35.9,756.9 39.9,756.9 37.9,753.3" fill="#3d3994"/>
<polygon points="42.4,746.8 46.4,746.8 44.4,743.2" fill="#3a3590"/>
<polygon points="45.1,740.1 49.1,740.1 47.1,743.7" fill="#3a3590"/>
<polygon points="89.7,745.9 93.7,745.9 91.7,742.3" fill="#3d3994"/>
<polygon points="126.1,722.3 130.1,722.3 128.1,725.9" fill="#3d3994"/>
<polygon points="23.1,751.1 27.1,751.1 25.1,747.5" fill="#463fa0"/>
<polygon points="28.9,750.3 32.9,750.3 30.9,746.7" fill="#3a3590"/>
<polygon points="88.6,749.8 92.6,749.8 90.6,753.4" fill="#3d3994"/>
<polygon points="98.3,739.6 102.3,739.6 100.3,743.2" fill="#3d3994"/>
<polygon points="114.1,735.8 118.1,735.8 116.1,732.2" fill="#3d3994"/>
<polygon points="93.9,749.3 97.9,749.3 95.9,752.9" fill="#3d3994"/>
<polygon points="44.6,757.9 48.6,757.9 46.6,754.3" fill="#3a3590"/>
<polygon points="151.9,728.2 155.9,728.2 153.9,731.8" fill="#3d3994"/>
<polygon points="89.7,736.2 93.7,736.2 91.7,732.6" fill="#3a3590"/>
<polygon points="75.1,746.5 79.1,746.5 77.1,742.9" fill="#3d3994"/>
<polygon points="65.9,747.3 69.9,747.3 67.9,743.7" fill="#3a3590"/>
<polygon points="123.1,732.6 127.1,732.6 125.1,729.0" fill="#3d3994"/>
<polygon points="122.5,757.4 126.5,757.4 124.5,753.8" fill="#463fa0"/>
<polygon points="119.3,745.4 123.3,745.4 121.3,741.8" fill="#3d3994"/>
<polygon points="29.0,739.5 33.0,739.5 31.0,743.1" fill="#463fa0"/>
<polygon points="35.7,734.1 39.7,734.1 37.7,737.7" fill="#3d3994"/>
<polygon points="80.5,741.7 84.5,741.7 82.5,745.3" fill="#3d3994"/>
<polygon points="80.5,732.7 84.5,732.7 82.5,736.3" fill="#463fa0"/>
<polygon points="120.1,730.9 124.1,730.9 122.1,734.5" fill="#3d3994"/>
<polygon points="140.7,750.5 144.7,750.5 142.7,746.9" fill="#3d3994"/>
<polygon points="120.4,725.3 124.4,725.3 122.4,728.9" fill="#463fa0"/>
<polygon points="73.4,747.4 77.4,747.4 75.4,743.8" fill="#463fa0"/>
<polygon points="86.3,736.0 90.3,736.0 88.3,732.4" fill="#3d3994"/>
<polygon points="145.6,732.6 149.6,732.6 147.6,729.0" fill="#3d3994"/>
<polygon points="41.0,749.6 45.0,749.6 43.0,753.2" fill="#3d3994"/>
<polygon points="102.5,757.4 106.5,757.4 104.5,753.8" fill="#3a3590"/>
<polygon points="39.8,740.6 43.8,740.6 41.8,744.2" fill="#3d3994"/>
<polygon points="115.4,743.0 119.4,743.0 117.4,746.6" fill="#463fa0"/>
<polygon points="82.1,757.1 86.1,757.1 84.1,753.5" fill="#3a3590"/>
<polygon points="101.9,737.6 105.9,737.6 103.9,741.2" fill="#3d3994"/>
<polygon points="153.8,735.1 157.8,735.1 155.8,738.7" fill="#3d3994"/>
<polygon points="74.9,751.9 78.9,751.9 76.9,755.5" fill="#3a3590"/>
<polygon points="143.7,735.1 147.7,735.1 145.7,731.5" fill="#3a3590"/>
<polygon points="134.5,727.4 138.5,727.4 136.5,731.0" fill="#463fa0"/>
<polygon points="109.2,753.7 113.2,753.7 111.2,750.1" fill="#3d3994"/>
<polygon points="123.8,752.8 127.8,752.8 125.8,749.2" fill="#3d3994"/>
<polygon points="68.8,742.8 72.8,742.8 70.8,739.2" fill="#3a3590"/>
<polygon points="144.3,755.8 148.3,755.8 146.3,752.2" fill="#3d3994"/>
<polygon points="83.6,741.0 87.6,741.0 85.6,737.4" fill="#3d3994"/>
<polygon points="58.2,740.6 62.2,740.6 60.2,744.2" fill="#3d3994"/>
<polygon points="146.6,734.1 150.6,734.1 148.6,737.7" fill="#3d3994"/>
<polygon points="143.3,737.5 147.3,737.5 145.3,733.9" fill="#3a3590"/>
<polygon points="127.2,733.0 131.2,733.0 129.2,729.4" fill="#3d3994"/>
<polygon points="38.9,734.2 42.9,734.2 40.9,737.8" fill="#3a3590"/>
<polygon points="45.3,742.9 49.3,742.9 47.3,739.3" fill="#3d3994"/>
<polygon points="104.2,733.5 108.2,733.5 106.2,729.9" fill="#3a3590"/>
<polygon points="25.2,744.1 29.2,744.1 27.2,740.5" fill="#463fa0"/>
<polygon points="45.2,731.4 49.2,731.4 47.2,735.0" fill="#3d3994"/>
<polygon points="137.4,729.8 141.4,729.8 139.4,733.4" fill="#3d3994"/>
<polygon points="84.5,746.2 88.5,746.2 86.5,742.6" fill="#3a3590"/>
<polygon points="148.1,736.5 152.1,736.5 150.1,740.1" fill="#3d3994"/>
<polygon points="83.2,742.7 87.2,742.7 85.2,746.3" fill="#3a3590"/>
<polygon points="154.5,729.6 158.5,729.6 156.5,733.2" fill="#3d3994"/>
<polygon points="129.5,729.8 133.5,729.8 131.5,733.4" fill="#3d3994"/>
<polygon points="23.1,738.2 27.1,738.2 25.1,734.6" fill="#3a3590"/>
<polygon points="154.3,728.1 158.3,728.1 156.3,731.7" fill="#463fa0"/>
<polygon points="108.7,745.1 112.7,745.1 110.7,741.5" fill="#3a3590"/>
<polygon points="129.5,758.8 133.5,758.8 131.5,755.2" fill="#463fa0"/>
<polygon points="96.3,735.0 100.3,735.0 98.3,731.4" fill="#3d3994"/>
<polygon points="49.6,739.8 53.6,739.8 51.6,736.2" fill="#3d3994"/>
<polygon points="26.3,734.4 30.3,734.4 28.3,738.0" fill="#463fa0"/>
<polygon points="91.2,753.6 95.2,753.6 93.2,757.2" fill="#3d3994"/>
<polygon points="82.4,758.3 86.4,758.3 84.4,754.7" fill="#3a3590"/>
<polygon points="116.4,725.3 120.4,725.3 118.4,721.7" fill="#3d3994"/>
<polygon points="109.4,728.0 113.4,728.0 111.4,731.6" fill="#3d3994"/>
<polygon points="116.8,736.7 120.8,736.7 118.8,733.1" fill="#3d3994"/>
<polygon points="112.5,734.7 116.5,734.7 114.5,731.1" fill="#3a3590"/>
<polygon points="60.4,742.7 64.4,742.7 62.4,739.1" fill="#3d3994"/>
<polygon points="67.4,754.5 71.4,754.5 69.4,750.9" fill="#3d3994"/>
<polygon points="116.5,732.1 120.5,732.1 118.5,735.7" fill="#3a3590"/>
<polygon points="123.5,727.8 127.5,727.8 125.5,731.4" fill="#3a3590"/>
<polygon points="147.3,747.3 151.3,747.3 149.3,750.9" fill="#3d3994"/>
<polygon points="152.4,745.5 156.4,745.5 154.4,741.9" fill="#3d3994"/>
<polygon points="106.7,728.0 110.7,728.0 108.7,731.6" fill="#3a3590"/>
<polygon points="29.9,749.4 33.9,749.4 31.9,745.8" fill="#3d3994"/>
<polygon points="103.4,748.5 107.4,748.5 105.4,744.9" fill="#463fa0"/>
<polygon points="122.6,751.4 126.6,751.4 124.6,747.8" fill="#3d3994"/>
<polygon points="156.8,729.8 160.8,729.8 158.8,726.2" fill="#3d3994"/>
<polygon points="127.8,734.7 131.8,734.7 129.8,738.3" fill="#3d3994"/>
<polygon points="57.8,741.0 61.8,741.0 59.8,737.4" fill="#3d3994"/>
<polygon points="57.7,758.6 61.7,758.6 59.7,755.0" fill="#3d3994"/>
<polygon points="54.5,748.5 58.5,748.5 56.5,752.1" fill="#3d3994"/>
<polygon points="111.2,750.0 115.2,750.0 113.2,753.6" fill="#3d3994"/>
<polygon points="81.6,746.8 85.6,746.8 83.6,743.2" fill="#3d3994"/>
<polygon points="108.1,752.8 112.1,752.8 110.1,749.2" fill="#3d3994"/>
<polygon points="101.2,741.8 105.2,741.8 103.2,745.4" fill="#3d3994"/>
<polygon points="54.9,738.7 58.9,738.7 56.9,742.3" fill="#3d3994"/>
<polygon points="94.7,738.5 98.7,738.5 96.7,742.1" fill="#3d3994"/>
<polygon points="86.2,742.5 90.2,742.5 88.2,738.9" fill="#3d3994"/>
<polygon points="100.6,738.5 104.6,738.5 102.6,734.9" fill="#3d3994"/>
<polygon points="30.8,752.3 34.8,752.3 32.8,748.7" fill="#3d3994"/>
<polygon points="65.4,745.8 69.4,745.8 67.4,749.4" fill="#3d3994"/>
<polygon points="138.5,748.8 142.5,748.8 140.5,752.4" fill="#3d3994"/>
<polygon points="83.6,747.4 87.6,747.4 85.6,751.0" fill="#463fa0"/>
<polygon points="146.4,750.3 150.4,750.3 148.4,753.9" fill="#3d3994"/>
<polygon points="146.0,736.8 150.0,736.8 148.0,740.4" fill="#3a3590"/>
<polygon points="46.8,750.6 50.8,750.6 48.8,754.2" fill="#3d3994"/>
<polygon points="28.4,750.7 32.4,750.7 30.4,747.1" fill="#463fa0"/>
<polygon points="114.9,753.9 118.9,753.9 116.9,750.3" fill="#3d3994"/>
<polygon points="149.2,736.1 153.2,736.1 151.2,732.5" fill="#3a3590"/>
<polygon points="122.0,752.8 126.0,752.8 124.0,756.4" fill="#3d3994"/>
<polygon points="90.8,748.9 94.8,748.9 92.8,752.5" fill="#463fa0"/>
<polygon points="70.3,746.5 74.3,746.5 72.3,750.1" fill="#3d3994"/>
<polygon points="121.6,730.1 125.6,730.1 123.6,733.7" fill="#3d3994"/>
<polygon points="49.0,750.0 52.4,750.0 50.7,747.0" fill="#9896b0"/>
<polygon points="94.0,751.4 97.3,751.4 95.7,754.3" fill="#9896b0"/>
<polygon points="134.2,750.1 137.3,750.1 135.8,752.9" fill="#9896b0"/>
<polygon points="50.6,751.9 53.9,751.9 52.3,748.9" fill="#8c8aa8"/>
<polygon points="71.9,753.8 74.5,753.8 73.2,751.5" fill="#b8b6c8"/>
<polygon points="112.0,739.5 115.2,739.5 113.6,742.3" fill="#c4c2d0"/>
<polygon points="69.1,739.5 72.4,739.5 70.8,736.5" fill="#b8b6c8"/>
<polygon points="60.4,740.4 63.4,740.4 61.9,743.1" fill="#9896b0"/>
<polygon points="119.8,740.5 123.0,740.5 121.4,743.4" fill="#b8b6c8"/>
<polygon points="56.0,753.7 59.4,753.7 57.7,756.7" fill="#a4a2b8"/>
<polygon points="100.0,756.9 102.7,756.9 101.3,754.5" fill="#c4c2d0"/>
<polygon points="151.4,751.3 154.3,751.3 152.8,753.9" fill="#c4c2d0"/>
<polygon points="106.6,736.0 109.0,736.0 107.8,733.8" fill="#c4c2d0"/>
<polygon points="46.5,755.7 49.0,755.7 47.7,757.9" fill="#9896b0"/>
<polygon points="114.3,746.9 116.6,746.9 115.5,744.8" fill="#9896b0"/>
<polygon points="24.5,747.8 27.7,747.8 26.1,744.9" fill="#9896b0"/>
<polygon points="81.4,739.2 84.0,739.2 82.7,736.9" fill="#9896b0"/>
<polygon points="70.7,753.4 73.9,753.4 72.3,756.3" fill="#9896b0"/>
<polygon points="49.1,749.3 52.2,749.3 50.7,752.1" fill="#9896b0"/>
<polygon points="96.3,752.4 99.1,752.4 97.7,754.9" fill="#c4c2d0"/>
<polygon points="108.9,736.3 112.1,736.3 110.5,739.2" fill="#b8b6c8"/>
<polygon points="33.4,745.7 35.8,745.7 34.6,747.9" fill="#8c8aa8"/>
<polygon points="129.7,730.0 132.6,730.0 131.1,732.5" fill="#8c8aa8"/>
<polygon points="76.0,748.0 79.2,748.0 77.6,745.1" fill="#a4a2b8"/>
<polygon points="50.8,751.5 53.9,751.5 52.4,754.3" fill="#9896b0"/>
<polygon points="34.9,736.1 37.9,736.1 36.4,733.4" fill="#b8b6c8"/>
<polygon points="48.0,739.1 50.3,739.1 49.1,741.2" fill="#b8b6c8"/>
<polygon points="111.7,733.5 114.7,733.5 113.2,736.2" fill="#8c8aa8"/>
<polygon points="142.4,726.9 145.3,726.9 143.8,724.3" fill="#8c8aa8"/>
<polygon points="70.9,738.8 73.3,738.8 72.1,736.7" fill="#8c8aa8"/>
<polygon points="83.2,753.5 86.5,753.5 84.9,750.6" fill="#8c8aa8"/>
<polygon points="135.6,743.6 138.7,743.6 137.1,740.9" fill="#b8b6c8"/>
<polygon points="80.4,737.4 83.1,737.4 81.8,734.9" fill="#a4a2b8"/>
<polygon points="54.8,747.2 57.8,747.2 56.3,744.5" fill="#c4c2d0"/>
<polygon points="44.8,748.3 47.3,748.3 46.1,750.5" fill="#c4c2d0"/>
<polygon points="131.0,752.4 133.2,752.4 132.1,754.4" fill="#9896b0"/>
<polygon points="135.3,743.0 137.6,743.0 136.4,740.9" fill="#8c8aa8"/>
<polygon points="27.2,757.4 29.8,757.4 28.5,755.1" fill="#8c8aa8"/>
<polygon points="145.3,736.5 147.9,736.5 146.6,734.2" fill="#9896b0"/>
<polygon points="37.7,753.0 40.6,753.0 39.1,755.6" fill="#c4c2d0"/>
<polygon points="71.5,735.9 74.0,735.9 72.8,738.2" fill="#8c8aa8"/>
<polygon points="60.9,752.8 63.8,752.8 62.3,750.2" fill="#9896b0"/>
<polygon points="134.0,746.6 136.2,746.6 135.1,748.6" fill="#9896b0"/>
<polygon points="136.7,736.7 139.3,736.7 138.0,734.4" fill="#a4a2b8"/>
<polygon points="96.7,746.9 99.3,746.9 98.0,749.3" fill="#8c8aa8"/>
<polygon points="101.5,742.9 104.8,742.9 103.2,745.9" fill="#c4c2d0"/>
<polygon points="152.4,746.0 155.3,746.0 153.8,748.6" fill="#c4c2d0"/>
<polygon points="56.4,743.7 59.0,743.7 57.7,741.3" fill="#c4c2d0"/>
<polygon points="108.6,740.0 111.0,740.0 109.8,737.9" fill="#8c8aa8"/>
<polygon points="112.3,746.8 114.7,746.8 113.5,744.6" fill="#8c8aa8"/>
<polygon points="73.0,752.3 76.2,752.3 74.6,749.4" fill="#c4c2d0"/>
<polygon points="92.1,742.2 94.9,742.2 93.5,739.6" fill="#9896b0"/>
<polygon points="63.8,750.0 66.8,750.0 65.3,752.7" fill="#c4c2d0"/>
<polygon points="37.3,753.7 40.2,753.7 38.8,756.3" fill="#9896b0"/>
<polygon points="85.6,738.4 88.3,738.4 87.0,736.0" fill="#8c8aa8"/>
<polygon points="105.1,745.3 108.0,745.3 106.6,742.7" fill="#a4a2b8"/>
<polygon points="51.4,747.7 54.5,747.7 52.9,745.0" fill="#a4a2b8"/>
<polygon points="62.1,754.0 64.5,754.0 63.3,751.9" fill="#a4a2b8"/>
<polygon points="120.3,728.1 123.1,728.1 121.7,725.6" fill="#9896b0"/>
<polygon points="73.8,754.5 76.2,754.5 75.0,756.6" fill="#a4a2b8"/>
<polygon points="152.5,743.2 154.9,743.2 153.7,741.0" fill="#a4a2b8"/>
<polygon points="114.9,745.4 117.9,745.4 116.4,748.1" fill="#a4a2b8"/>
<polygon points="110.9,754.3 113.9,754.3 112.4,757.0" fill="#b8b6c8"/>
<polygon points="109.4,746.9 111.9,746.9 110.6,749.2" fill="#c4c2d0"/>
<polygon points="23.2,743.3 26.5,743.3 24.9,740.3" fill="#a4a2b8"/>
<polygon points="24.1,737.3 27.0,737.3 25.5,739.9" fill="#b8b6c8"/>
<polygon points="107.9,732.9 110.5,732.9 109.2,730.6" fill="#a4a2b8"/>
<polygon points="144.0,727.0 146.5,727.0 145.2,729.2" fill="#9896b0"/>
<polygon points="90.5,734.7 93.0,734.7 91.8,736.9" fill="#a4a2b8"/>
<polygon points="116.3,734.8 118.6,734.8 117.5,736.8" fill="#c4c2d0"/>
<polygon points="33.3,736.9 35.9,736.9 34.6,734.5" fill="#8c8aa8"/>
<polygon points="134.6,728.4 137.2,728.4 135.9,730.8" fill="#b8b6c8"/>
<polygon points="37.0,755.0 39.3,755.0 38.1,753.0" fill="#9896b0"/>
<polygon points="70.3,737.1 73.1,737.1 71.7,739.5" fill="#8c8aa8"/>
<polygon points="85.6,740.2 88.2,740.2 86.9,742.6" fill="#a4a2b8"/>
<polygon points="133.7,752.5 136.2,752.5 134.9,754.7" fill="#c4c2d0"/>
<polygon points="109.5,737.1 112.4,737.1 110.9,734.6" fill="#c4c2d0"/>
<polygon points="139.0,731.7 142.2,731.7 140.6,728.9" fill="#b8b6c8"/>
<polygon points="33.2,752.1 36.2,752.1 34.7,754.8" fill="#9896b0"/>
<polygon points="60.9,745.1 63.7,745.1 62.3,742.7" fill="#b8b6c8"/>
<polygon points="67.9,744.0 70.6,744.0 69.2,741.6" fill="#c4c2d0"/>
<polygon points="138.1,750.9 141.1,750.9 139.6,753.7" fill="#8c8aa8"/>
<polygon points="149.0,735.8 151.5,735.8 150.3,738.1" fill="#9896b0"/>
<polygon points="145.8,736.0 148.6,736.0 147.2,738.4" fill="#a4a2b8"/>
<polygon points="90.3,737.4 92.6,737.4 91.4,739.4" fill="#8c8aa8"/>
<polygon points="105.4,733.1 107.9,733.1 106.6,730.8" fill="#8c8aa8"/>
<polygon points="46.9,743.8 50.3,743.8 48.6,746.9" fill="#8c8aa8"/>
<polygon points="155.9,744.7 158.4,744.7 157.1,746.9" fill="#c4c2d0"/>
<polygon points="66.2,753.5 69.4,753.5 67.8,756.4" fill="#a4a2b8"/>
<polygon points="154.5,732.2 157.9,732.2 156.2,735.3" fill="#c4c2d0"/>
<polygon points="41.7,733.1 44.2,733.1 42.9,735.3" fill="#9896b0"/>
<polygon points="51.0,744.1 54.2,744.1 52.6,747.1" fill="#a4a2b8"/>
<polygon points="80.3,751.1 83.4,751.1 81.9,753.9" fill="#8c8aa8"/>
<polygon points="91.1,740.9 94.0,740.9 92.5,738.3" fill="#b8b6c8"/>
<polygon points="30.6,740.1 33.8,740.1 32.2,737.2" fill="#9896b0"/>
<polygon points="60.9,754.6 64.2,754.6 62.5,757.6" fill="#8c8aa8"/>
<polygon points="52.7,741.0 55.9,741.0 54.3,738.2" fill="#8c8aa8"/>
<polygon points="32.9,734.7 36.3,734.7 34.6,731.7" fill="#9896b0"/>
<polygon points="125.9,734.5 129.0,734.5 127.5,731.7" fill="#b8b6c8"/>
<polygon points="92.5,735.6 95.0,735.6 93.7,733.4" fill="#c4c2d0"/>
<polygon points="104.2,744.4 107.1,744.4 105.7,741.8" fill="#9896b0"/>
<polygon points="125.2,747.8 128.0,747.8 126.6,750.3" fill="#9896b0"/>
<polygon points="151.8,749.4 155.0,749.4 153.4,752.3" fill="#b8b6c8"/>
<polygon points="94.9,741.9 97.3,741.9 96.1,739.8" fill="#c4c2d0"/>
<polygon points="57.6,751.5 59.9,751.5 58.8,753.6" fill="#c4c2d0"/>
<polygon points="62.8,746.0 65.3,746.0 64.0,748.3" fill="#c4c2d0"/>
<polygon points="81.1,754.0 83.5,754.0 82.3,756.1" fill="#b8b6c8"/>
<polygon points="50.7,744.0 53.0,744.0 51.8,746.0" fill="#a4a2b8"/>
<polygon points="80.2,748.4 83.3,748.4 81.7,751.1" fill="#9896b0"/>
<polygon points="72.9,752.0 75.2,752.0 74.0,750.0" fill="#c4c2d0"/>
<polygon points="90.9,737.3 93.2,737.3 92.0,739.4" fill="#8c8aa8"/>
<polygon points="31.7,755.7 34.5,755.7 33.1,758.2" fill="#c4c2d0"/>
<polygon points="70.6,742.0 72.8,742.0 71.7,744.0" fill="#8c8aa8"/>
<polygon points="83.6,740.8 86.8,740.8 85.2,743.7" fill="#b8b6c8"/>
<polygon points="37.9,745.9 40.5,745.9 39.2,748.3" fill="#a4a2b8"/>
<polygon points="140.6,755.5 144.0,755.5 142.3,752.4" fill="#c4c2d0"/>
<polygon points="114.1,746.5 116.7,746.5 115.4,748.8" fill="#9896b0"/>
<polygon points="96.4,748.6 99.4,748.6 97.9,745.9" fill="#b8b6c8"/>
<polygon points="70.8,747.0 73.4,747.0 72.1,749.4" fill="#8c8aa8"/>
<polygon points="61.5,753.9 64.6,753.9 63.1,756.6" fill="#b8b6c8"/>
<polygon points="71.8,755.6 74.1,755.6 73.0,753.5" fill="#9896b0"/>
<polygon points="80.8,743.7 83.6,743.7 82.2,746.3" fill="#c4c2d0"/>
<polygon points="147.7,740.1 150.1,740.1 148.9,737.9" fill="#b8b6c8"/>
<polygon points="29.9,735.2 32.5,735.2 31.2,732.8" fill="#b8b6c8"/>
<polygon points="102.4,751.0 104.6,751.0 103.5,749.0" fill="#b8b6c8"/>
<polygon points="138.7,729.2 141.6,729.2 140.1,731.9" fill="#c4c2d0"/>
<polygon points="123.7,736.2 126.9,736.2 125.3,739.1" fill="#c4c2d0"/>
<polygon points="71.1,751.5 74.4,751.5 72.7,754.5" fill="#9896b0"/>
<polygon points="48.9,756.7 51.3,756.7 50.1,754.6" fill="#8c8aa8"/>
<polygon points="148.3,738.4 150.9,738.4 149.6,736.1" fill="#9896b0"/>
<polygon points="91.5,743.7 94.2,743.7 92.9,746.1" fill="#a4a2b8"/>
<polygon points="86.2,739.2 88.5,739.2 87.4,741.2" fill="#9896b0"/>
<polygon points="157.0,748.1 160.1,748.1 158.5,750.9" fill="#a4a2b8"/>
<polygon points="74.8,757.4 78.0,757.4 76.4,754.5" fill="#a4a2b8"/>
<polygon points="125.9,755.5 128.5,755.5 127.2,753.2" fill="#9896b0"/>
<polygon points="39.4,749.0 42.1,749.0 40.7,746.6" fill="#c4c2d0"/>
<polygon points="114.5,746.0 117.6,746.0 116.0,743.3" fill="#c4c2d0"/>
<polygon points="141.3,740.5 143.6,740.5 142.5,738.5" fill="#c4c2d0"/>
<polygon points="108.2,747.1 110.8,747.1 109.5,749.4" fill="#a4a2b8"/>
<polygon points="139.5,732.8 142.6,732.8 141.0,735.6" fill="#c4c2d0"/>
<polygon points="60.5,741.6 63.2,741.6 61.8,744.1" fill="#c4c2d0"/>
<polygon points="70.7,746.6 73.9,746.6 72.3,749.5" fill="#b8b6c8"/>
<polygon points="99.5,742.6 102.1,742.6 100.8,740.3" fill="#8c8aa8"/>
<polygon points="149.4,746.4 152.7,746.4 151.0,743.4" fill="#a4a2b8"/>
<polygon points="93.9,752.0 96.7,752.0 95.3,749.5" fill="#c4c2d0"/>
<polygon points="38.6,746.3 41.5,746.3 40.1,748.9" fill="#8c8aa8"/>
<polygon points="79.2,749.6 81.7,749.6 80.5,747.4" fill="#b8b6c8"/>
<polygon points="148.1,754.7 150.4,754.7 149.3,752.6" fill="#9896b0"/>
<polygon points="78.0,738.8 80.7,738.8 79.3,741.2" fill="#8c8aa8"/>
<polygon points="23.0,748.8 26.1,748.8 24.6,751.7" fill="#a4a2b8"/>
<polygon points="37.9,746.9 40.3,746.9 39.1,744.7" fill="#9896b0"/>
<polygon points="97.1,742.8 100.1,742.8 98.6,740.1" fill="#9896b0"/>
<polygon points="103.1,757.6 106.4,757.6 104.8,754.6" fill="#9896b0"/>
<polygon points="96.2,743.5 99.5,743.5 97.9,746.5" fill="#c4c2d0"/>
<polygon points="82.6,748.3 84.9,748.3 83.8,746.2" fill="#a4a2b8"/>
<polygon points="73.5,755.8 76.0,755.8 74.8,758.1" fill="#c4c2d0"/>
<polygon points="142.6,757.6 145.4,757.6 144.0,755.1" fill="#c4c2d0"/>
<polygon points="153.6,745.7 156.1,745.7 154.9,743.4" fill="#c4c2d0"/>
<polygon points="151.1,744.7 154.4,744.7 152.8,747.6" fill="#a4a2b8"/>
<polygon points="149.8,739.3 152.9,739.3 151.3,742.0" fill="#9896b0"/>
<polygon points="93.4,748.8 96.7,748.8 95.1,751.7" fill="#8c8aa8"/>
<polygon points="90.4,758.0 93.6,758.0 92.0,755.1" fill="#a4a2b8"/>
<polygon points="75.3,754.2 78.3,754.2 76.8,751.4" fill="#8c8aa8"/>
<polygon points="131.7,727.0 134.7,727.0 133.2,724.3" fill="#8c8aa8"/>
<polygon points="133.1,743.0 135.9,743.0 134.5,745.6" fill="#c4c2d0"/>
<polygon points="61.6,756.8 64.1,756.8 62.8,754.6" fill="#b8b6c8"/>
<polygon points="142.0,728.3 144.5,728.3 143.2,726.0" fill="#9896b0"/>
<polygon points="136.4,726.5 139.2,726.5 137.8,723.9" fill="#8c8aa8"/>
<polygon points="33.1,747.2 35.3,747.2 34.2,749.2" fill="#a4a2b8"/>
<polygon points="59.8,743.8 62.8,743.8 61.3,741.1" fill="#b8b6c8"/>
<polygon points="113.4,744.3 116.6,744.3 115.0,741.4" fill="#b8b6c8"/>
<polygon points="72.8,743.6 75.0,743.6 73.9,745.7" fill="#9896b0"/>
<polygon points="150.9,751.8 154.2,751.8 152.6,754.8" fill="#b8b6c8"/>
<polygon points="132.3,729.4 135.6,729.4 134.0,732.3" fill="#a4a2b8"/>
<polygon points="115.5,749.2 118.9,749.2 117.2,746.2" fill="#8c8aa8"/>
<polygon points="105.6,733.4 109.0,733.4 107.3,736.4" fill="#8c8aa8"/>
<polygon points="46.6,747.6 49.2,747.6 47.9,745.3" fill="#c4c2d0"/>
<polygon points="96.6,741.3 99.4,741.3 98.0,743.8" fill="#a4a2b8"/>
<polygon points="84.4,744.0 86.9,744.0 85.7,746.3" fill="#9896b0"/>
<polygon points="89.5,745.3 91.8,745.3 90.7,747.4" fill="#b8b6c8"/>
<polygon points="120.9,743.2 124.2,743.2 122.5,740.2" fill="#8c8aa8"/>
<polygon points="81.1,739.2 84.4,739.2 82.8,736.1" fill="#8c8aa8"/>
<polygon points="146.1,742.5 148.3,742.5 147.2,744.5" fill="#b8b6c8"/>
<polygon points="152.1,741.6 155.5,741.6 153.8,744.7" fill="#a4a2b8"/>
<polygon points="120.3,753.9 122.9,753.9 121.6,756.3" fill="#c4c2d0"/>
<polygon points="96.2,750.8 98.9,750.8 97.5,753.1" fill="#b8b6c8"/>
<polygon points="114.2,731.9 116.8,731.9 115.5,729.4" fill="#a4a2b8"/>
<polygon points="34.4,736.0 36.7,736.0 35.5,738.1" fill="#8c8aa8"/>
<polygon points="107.3,735.4 109.8,735.4 108.5,733.1" fill="#9896b0"/>
<polygon points="37.0,754.5 39.5,754.5 38.2,752.2" fill="#a4a2b8"/>
<polygon points="124.9,745.5 127.4,745.5 126.1,743.2" fill="#c4c2d0"/>
<polygon points="28.8,739.9 31.6,739.9 30.2,737.5" fill="#9896b0"/>
<polygon points="65.6,747.0 68.0,747.0 66.8,749.2" fill="#c4c2d0"/>
<polygon points="80.5,749.7 83.4,749.7 82.0,752.2" fill="#c4c2d0"/>
<polygon points="116.8,753.6 119.3,753.6 118.0,751.3" fill="#8c8aa8"/>
<polygon points="86.5,744.7 89.4,744.7 88.0,747.3" fill="#a4a2b8"/>
<polygon points="77.6,741.7 80.1,741.7 78.9,743.9" fill="#b8b6c8"/>
<polygon points="61.8,749.3 64.7,749.3 63.3,746.8" fill="#b8b6c8"/>
<polygon points="143.2,739.0 146.2,739.0 144.7,736.3" fill="#c4c2d0"/>
<polygon points="120.7,739.3 123.3,739.3 122.0,736.9" fill="#8c8aa8"/>
<polygon points="44.2,736.4 46.5,736.4 45.4,734.3" fill="#b8b6c8"/>
<polygon points="144.2,757.1 146.5,757.1 145.3,755.0" fill="#a4a2b8"/>
<polygon points="52.4,748.9 54.9,748.9 53.6,751.0" fill="#b8b6c8"/>
<polygon points="27.1,738.4 29.5,738.4 28.3,740.6" fill="#c4c2d0"/>
<polygon points="75.6,735.8 78.2,735.8 76.9,738.1" fill="#b8b6c8"/>
<polygon points="82.1,742.2 85.1,742.2 83.6,744.9" fill="#b8b6c8"/>
<polygon points="48.4,740.4 51.0,740.4 49.7,738.0" fill="#9896b0"/>
<polygon points="112.3,741.9 115.1,741.9 113.7,739.5" fill="#9896b0"/>
<polygon points="112.8,738.9 115.0,738.9 113.9,741.0" fill="#8c8aa8"/>
<polygon points="139.0,751.9 141.8,751.9 140.4,754.5" fill="#9896b0"/>
<polygon points="103.8,744.2 106.1,744.2 104.9,742.2" fill="#c4c2d0"/>
<polygon points="46.3,755.1 48.8,755.1 47.6,757.3" fill="#b8b6c8"/>
<polygon points="42.4,756.4 45.7,756.4 44.0,753.4" fill="#c4c2d0"/>
<polygon points="71.7,751.3 74.0,751.3 72.9,753.3" fill="#b8b6c8"/>
<polygon points="132.3,750.7 135.5,750.7 133.9,753.6" fill="#c4c2d0"/>
<polygon points="27.7,755.3 30.6,755.3 29.2,757.9" fill="#c4c2d0"/>
<polygon points="141.0,754.2 144.1,754.2 142.6,751.4" fill="#a4a2b8"/>
<polygon points="44.8,744.2 48.0,744.2 46.4,747.0" fill="#9896b0"/>
<polygon points="52.7,746.8 56.1,746.8 54.4,749.8" fill="#8c8aa8"/>
<polygon points="109.6,743.5 112.8,743.5 111.2,740.6" fill="#b8b6c8"/>
<polygon points="94.0,735.9 97.0,735.9 95.5,733.3" fill="#c4c2d0"/>
<polygon points="94.5,746.4 97.7,746.4 96.1,743.6" fill="#b8b6c8"/>
<polygon points="95.6,738.0 98.4,738.0 97.0,735.4" fill="#9896b0"/>
<polygon points="146.6,747.7 149.6,747.7 148.1,750.4" fill="#b8b6c8"/>
<polygon points="65.8,738.7 68.3,738.7 67.1,736.4" fill="#8c8aa8"/>
<polygon points="31.2,753.5 33.8,753.5 32.5,751.1" fill="#8c8aa8"/>
<polygon points="85.1,752.7 87.8,752.7 86.5,750.2" fill="#a4a2b8"/>
<polygon points="54.5,755.7 57.3,755.7 55.9,758.3" fill="#8c8aa8"/>
<polygon points="71.2,735.3 73.5,735.3 72.4,737.4" fill="#9896b0"/>
<polygon points="148.5,754.8 151.1,754.8 149.8,752.5" fill="#9896b0"/>
<polygon points="40.9,745.3 44.2,745.3 42.6,748.3" fill="#a4a2b8"/>
<polygon points="112.0,738.6 114.8,738.6 113.4,736.1" fill="#a4a2b8"/>
<polygon points="127.5,730.7 130.3,730.7 128.9,728.2" fill="#a4a2b8"/>
<polygon points="64.2,739.3 66.5,739.3 65.4,737.3" fill="#c4c2d0"/>
<polygon points="116.4,735.5 119.6,735.5 118.0,738.4" fill="#b8b6c8"/>
<polygon points="123.1,754.9 126.4,754.9 124.8,757.8" fill="#9896b0"/>
<polygon points="104.6,733.4 107.6,733.4 106.1,736.1" fill="#8c8aa8"/>
<polygon points="29.7,735.8 32.7,735.8 31.2,738.5" fill="#9896b0"/>
<polygon points="90.8,736.5 93.4,736.5 92.1,734.2" fill="#b8b6c8"/>
<polygon points="156.2,743.3 158.8,743.3 157.5,741.0" fill="#c4c2d0"/>
<polygon points="83.0,752.9 86.2,752.9 84.6,755.8" fill="#c4c2d0"/>
<polygon points="75.9,747.0 79.3,747.0 77.6,744.0" fill="#c4c2d0"/>
<polygon points="89.4,734.7 92.3,734.7 90.9,737.3" fill="#b8b6c8"/>
<polygon points="45.6,744.2 48.5,744.2 47.0,746.7" fill="#b8b6c8"/>
<polygon points="72.5,744.1 74.8,744.1 73.6,746.2" fill="#a4a2b8"/>
<polygon points="118.5,736.1 121.3,736.1 119.9,738.7" fill="#a4a2b8"/>
<polygon points="109.1,735.8 112.0,735.8 110.6,733.2" fill="#b8b6c8"/>
<polygon points="137.8,747.6 140.8,747.6 139.3,744.9" fill="#8c8aa8"/>
<polygon points="30.2,753.9 33.1,753.9 31.6,756.6" fill="#8c8aa8"/>
<polygon points="109.7,754.3 112.5,754.3 111.1,751.8" fill="#b8b6c8"/>
<polygon points="150.3,748.6 152.6,748.6 151.5,750.7" fill="#a4a2b8"/>
<polygon points="124.3,749.1 126.8,749.1 125.6,746.8" fill="#8c8aa8"/>
<polygon points="85.6,753.7 88.9,753.7 87.3,756.7" fill="#9896b0"/>
<polygon points="108.9,755.5 111.4,755.5 110.2,757.6" fill="#a4a2b8"/>
<polygon points="51.2,739.0 54.1,739.0 52.7,741.6" fill="#a4a2b8"/>
<polygon points="73.0,745.5 75.3,745.5 74.1,747.6" fill="#9896b0"/>
<polygon points="27.2,738.5 30.4,738.5 28.8,735.6" fill="#9896b0"/>
<polygon points="46.4,745.8 49.0,745.8 47.7,743.4" fill="#a4a2b8"/>
<polygon points="51.5,752.4 54.3,752.4 52.9,754.9" fill="#b8b6c8"/>
<polygon points="133.9,746.4 136.6,746.4 135.3,748.9" fill="#8c8aa8"/>
<polygon points="37.7,733.7 41.7,733.7 39.7,730.1" fill="#3d3994"/>
<polygon points="141.3,725.2 145.3,725.2 143.3,721.6" fill="#3d3994"/>
<polygon points="32.5,729.6 36.5,729.6 34.5,733.2" fill="#3d3994"/>
<polygon points="26.3,730.3 30.3,730.3 28.3,733.9" fill="#3d3994"/>
<polygon points="127.4,722.5 131.4,722.5 129.4,726.1" fill="#3d3994"/>
<polygon points="68.5,733.3 72.5,733.3 70.5,736.9" fill="#3d3994"/>
<polygon points="24.1,729.3 28.1,729.3 26.1,732.9" fill="#3d3994"/>
<polygon points="56.7,739.7 60.7,739.7 58.7,736.1" fill="#3d3994"/>
<polygon points="77.8,735.1 81.8,735.1 79.8,731.5" fill="#3d3994"/>
<polygon points="57.9,738.0 61.9,738.0 59.9,734.4" fill="#3d3994"/>
<polygon points="144.3,724.0 148.3,724.0 146.3,720.4" fill="#3d3994"/>
<polygon points="141.9,720.6 145.9,720.6 143.9,724.2" fill="#3d3994"/>
<polygon points="43.5,733.7 47.5,733.7 45.5,730.1" fill="#3d3994"/>
<polygon points="131.7,724.0 135.7,724.0 133.7,720.4" fill="#3d3994"/>
<polygon points="48.4,734.6 52.4,734.6 50.4,738.2" fill="#3d3994"/>
<polygon points="116.1,722.1 120.1,722.1 118.1,725.7" fill="#3d3994"/>
<polygon points="99.1,730.0 103.1,730.0 101.1,733.6" fill="#3d3994"/>
<polygon points="27.4,732.7 31.4,732.7 29.4,729.1" fill="#3d3994"/>
<polygon points="153.9,731.3 157.9,731.3 155.9,727.7" fill="#3d3994"/>
<polygon points="118.1,721.7 122.1,721.7 120.1,725.3" fill="#3d3994"/>
<polygon points="136.2,724.4 140.2,724.4 138.2,720.8" fill="#3d3994"/>
<polygon points="119.6,721.6 123.6,721.6 121.6,725.2" fill="#3d3994"/>
<polygon points="92.5,734.5 96.5,734.5 94.5,730.9" fill="#3d3994"/>
<polygon points="59.0,735.2 63.0,735.2 61.0,738.8" fill="#3d3994"/>
<polygon points="36.4,734.6 40.4,734.6 38.4,731.0" fill="#3d3994"/>
<polygon points="97.8,729.6 101.8,729.6 99.8,733.2" fill="#3d3994"/>
<polygon points="83.5,731.9 87.5,731.9 85.5,735.5" fill="#3d3994"/>
<polygon points="150.1,728.0 154.1,728.0 152.1,731.6" fill="#3d3994"/>
<polygon points="111.1,726.9 115.1,726.9 113.1,730.5" fill="#3d3994"/>
<polygon points="97.9,730.6 101.9,730.6 99.9,734.2" fill="#3d3994"/>
<polygon points="29.5,731.0 33.5,731.0 31.5,734.6" fill="#3d3994"/>
<polygon points="78.8,736.3 82.8,736.3 80.8,732.7" fill="#3d3994"/>
<polygon points="70.4,732.6 74.4,732.6 72.4,736.2" fill="#3d3994"/>
<polygon points="73.0,735.8 77.0,735.8 75.0,732.2" fill="#3d3994"/>
<polygon points="91.5,731.5 95.5,731.5 93.5,735.1" fill="#3d3994"/>
<polygon points="112.1,729.1 116.1,729.1 114.1,732.7" fill="#3d3994"/>
<polygon points="151.1,731.6 155.1,731.6 153.1,728.0" fill="#3d3994"/>
<polygon points="149.2,731.7 153.2,731.7 151.2,728.1" fill="#3d3994"/>
<polygon points="75.7,736.3 79.7,736.3 77.7,732.7" fill="#3d3994"/>
<polygon points="103.5,727.8 107.5,727.8 105.5,731.4" fill="#3d3994"/>
<polygon points="94.5,730.0 98.5,730.0 96.5,733.6" fill="#3d3994"/>
<polygon points="132.0,724.3 136.0,724.3 134.0,720.7" fill="#3d3994"/>
<polygon points="71.8,732.4 75.8,732.4 73.8,736.0" fill="#3d3994"/>
<polygon points="133.7,725.5 137.7,725.5 135.7,721.9" fill="#3d3994"/>
<polygon points="56.4,735.4 60.4,735.4 58.4,739.0" fill="#3d3994"/>
<polygon points="71.1,732.0 75.1,732.0 73.1,735.6" fill="#3d3994"/>
<polygon points="147.9,728.5 151.9,728.5 149.9,732.1" fill="#3d3994"/>
<polygon points="105.3,731.2 109.3,731.2 107.3,727.6" fill="#3d3994"/>
<polygon points="104.9,729.3 108.9,729.3 106.9,732.9" fill="#3d3994"/>
<polygon points="81.0,733.3 85.0,733.3 83.0,736.9" fill="#3d3994"/>
<polygon points="32.9,732.6 36.9,732.6 34.9,729.0" fill="#3d3994"/>
<polygon points="59.9,737.6 63.9,737.6 61.9,734.0" fill="#3d3994"/>
<polygon points="39.9,734.1 43.9,734.1 41.9,730.5" fill="#3d3994"/>
<polygon points="53.9,738.6 57.9,738.6 55.9,735.0" fill="#3d3994"/>
<polygon points="139.4,721.6 143.4,721.6 141.4,725.2" fill="#3d3994"/>
<polygon points="153.3,728.7 157.3,728.7 155.3,732.3" fill="#3d3994"/>
<polygon points="155.1,729.0 159.1,729.0 157.1,725.4" fill="#3d3994"/>
<polygon points="26.7,728.6 30.7,728.6 28.7,732.2" fill="#3d3994"/>
<polygon points="104.4,732.6 108.4,732.6 106.4,729.0" fill="#3d3994"/>
<polygon points="37.1,730.9 41.1,730.9 39.1,734.5" fill="#3d3994"/>
<polygon points="150.9,732.4 154.9,732.4 152.9,728.8" fill="#3d3994"/>
<polygon points="40.3,731.7 44.3,731.7 42.3,735.3" fill="#3d3994"/>
<polygon points="50.6,738.4 54.6,738.4 52.6,734.8" fill="#3d3994"/>
<polygon points="65.9,737.4 69.9,737.4 67.9,733.8" fill="#3d3994"/>
<polygon points="55.7,734.4 59.7,734.4 57.7,738.0" fill="#3d3994"/>
<polygon points="118.4,722.7 122.4,722.7 120.4,726.3" fill="#3d3994"/>
<polygon points="110.9,732.6 114.9,732.6 112.9,729.0" fill="#3d3994"/>
<polygon points="47.1,735.8 51.1,735.8 49.1,732.2" fill="#3d3994"/>
<polygon points="117.9,725.3 121.9,725.3 119.9,721.7" fill="#3d3994"/>
<polygon points="100.5,729.7 104.5,729.7 102.5,733.3" fill="#3d3994"/>
<polygon points="112.4,727.7 116.4,727.7 114.4,731.3" fill="#3d3994"/>
<polygon points="66.1,738.0 70.1,738.0 68.1,734.4" fill="#3d3994"/>
<polygon points="61.7,733.6 65.7,733.6 63.7,737.2" fill="#3d3994"/>
<polygon points="124.2,722.4 128.2,722.4 126.2,726.0" fill="#3d3994"/>
<polygon points="136.0,720.7 140.0,720.7 138.0,724.3" fill="#3d3994"/>
<polygon points="123.0,726.6 127.0,726.6 125.0,723.0" fill="#3d3994"/>
<polygon points="134.8,725.3 138.8,725.3 136.8,721.7" fill="#3d3994"/>
<polygon points="74.2,733.8 78.2,733.8 76.2,737.4" fill="#3d3994"/>
<polygon points="110.2,731.1 114.2,731.1 112.2,727.5" fill="#3d3994"/>
<polygon points="32.4,730.8 36.4,730.8 34.4,734.4" fill="#3d3994"/>
<polygon points="99.1,734.1 103.1,734.1 101.1,730.5" fill="#3d3994"/>
<polygon points="137.6,720.6 141.6,720.6 139.6,724.2" fill="#3d3994"/>
<polygon points="155.0,729.5 159.0,729.5 157.0,725.9" fill="#3d3994"/>
<polygon points="77.6,736.2 81.6,736.2 79.6,732.6" fill="#3d3994"/>
<polygon points="95.9,734.4 99.9,734.4 97.9,730.8" fill="#3d3994"/>
<polygon points="45.0,732.2 49.0,732.2 47.0,735.8" fill="#3d3994"/>
<polygon points="137.3,719.9 141.3,719.9 139.3,723.5" fill="#3d3994"/>
<polygon points="101.9,732.3 105.9,732.3 103.9,728.7" fill="#3d3994"/>
<polygon points="129.1,721.3 133.1,721.3 131.1,724.9" fill="#3d3994"/>
<polygon points="121.8,726.4 125.8,726.4 123.8,722.8" fill="#3d3994"/>
<polygon points="67.8,737.3 71.8,737.3 69.8,733.7" fill="#3d3994"/>
<polygon points="143.5,723.7 147.5,723.7 145.5,720.1" fill="#3d3994"/>
<polygon points="51.3,734.5 55.3,734.5 53.3,738.1" fill="#3d3994"/>
<polygon points="147.4,725.9 151.4,725.9 149.4,729.5" fill="#3d3994"/>
<polygon points="85.5,736.0 89.5,736.0 87.5,732.4" fill="#3d3994"/>
<polygon points="38.9,733.9 42.9,733.9 40.9,730.3" fill="#3d3994"/>
<polygon points="41.7,733.5 45.7,733.5 43.7,729.9" fill="#3d3994"/>
<polygon points="22.5,728.4 26.5,728.4 24.5,732.0" fill="#3d3994"/>
<polygon points="134.8,720.5 138.8,720.5 136.8,724.1" fill="#3d3994"/>
<polygon points="95.2,731.2 99.2,731.2 97.2,734.8" fill="#3d3994"/>
<polygon points="48.5,737.5 52.5,737.5 50.5,733.9" fill="#3d3994"/>
<polygon points="40.4,734.1 44.4,734.1 42.4,730.5" fill="#3d3994"/>
<polygon points="31.2,729.4 35.2,729.4 33.2,733.0" fill="#3d3994"/>
<polygon points="145.0,721.1 149.0,721.1 147.0,724.7" fill="#3d3994"/>
<polygon points="105.0,731.7 109.0,731.7 107.0,728.1" fill="#3d3994"/>
<polygon points="68.4,738.2 72.4,738.2 70.4,734.6" fill="#3d3994"/>
<polygon points="70.0,732.5 74.0,732.5 72.0,736.1" fill="#3d3994"/>
<polygon points="126.5,726.4 130.5,726.4 128.5,722.8" fill="#3d3994"/>
<polygon points="91.9,731.9 95.9,731.9 93.9,735.5" fill="#3d3994"/>
<polygon points="96.1,734.8 100.1,734.8 98.1,731.2" fill="#3d3994"/>
<polygon points="86.2,736.1 90.2,736.1 88.2,732.5" fill="#3d3994"/>
<polygon points="62.0,738.0 66.0,738.0 64.0,734.4" fill="#3d3994"/>
<polygon points="72.8,736.3 76.8,736.3 74.8,732.7" fill="#3d3994"/>
<polygon points="32.7,732.9 36.7,732.9 34.7,729.3" fill="#3d3994"/>
<polygon points="56.0,736.1 60.0,736.1 58.0,739.7" fill="#3d3994"/>
<polygon points="63.8,734.3 67.8,734.3 65.8,737.9" fill="#3d3994"/>
<polygon points="149.4,729.4 153.4,729.4 151.4,733.0" fill="#3d3994"/>
<polygon points="41.0,735.4 45.0,735.4 43.0,731.8" fill="#3d3994"/>
<polygon points="92.3,729.6 96.3,729.6 94.3,733.2" fill="#3d3994"/>
<polygon points="115.1,724.2 119.1,724.2 117.1,727.8" fill="#3d3994"/>
<polygon points="67.3,733.0 71.3,733.0 69.3,736.6" fill="#3d3994"/>
<polygon points="78.8,732.9 82.8,732.9 80.8,736.5" fill="#3d3994"/>
<polygon points="68.0,736.4 72.0,736.4 70.0,732.8" fill="#3d3994"/>
<polygon points="148.5,730.9 152.5,730.9 150.5,727.3" fill="#3d3994"/>
<polygon points="109.4,727.6 113.4,727.6 111.4,731.2" fill="#3d3994"/>
<polygon points="135.0,720.0 139.0,720.0 137.0,723.6" fill="#3d3994"/>
<polygon points="34.7,730.9 38.7,730.9 36.7,734.5" fill="#3d3994"/>
<polygon points="22.7,732.5 26.7,732.5 24.7,728.9" fill="#3d3994"/>
<polygon points="86.4,734.5 90.4,734.5 88.4,730.9" fill="#3d3994"/>
<polygon points="116.1,721.4 120.1,721.4 118.1,725.0" fill="#3d3994"/>
<polygon points="56.8,737.8 60.8,737.8 58.8,734.2" fill="#3d3994"/>
<polygon points="59.4,739.2 63.4,739.2 61.4,735.6" fill="#3d3994"/>
<polygon points="65.6,733.4 69.6,733.4 67.6,737.0" fill="#3d3994"/>
<polygon points="86.5,730.6 90.5,730.6 88.5,734.2" fill="#3d3994"/>
<polygon points="64.6,736.8 68.6,736.8 66.6,733.2" fill="#3d3994"/>
<polygon points="116.1,721.9 120.1,721.9 118.1,725.5" fill="#3d3994"/>
<polygon points="120.3,725.9 124.3,725.9 122.3,722.3" fill="#3d3994"/>
<polygon points="109.5,731.2 113.5,731.2 111.5,727.6" fill="#3d3994"/>
<polygon points="102.1,732.3 106.1,732.3 104.1,728.7" fill="#3d3994"/>
<polygon points="66.9,732.8 70.9,732.8 68.9,736.4" fill="#3d3994"/>
<polygon points="138.8,718.3 142.8,718.3 140.8,721.9" fill="#3d3994"/>
<polygon points="112.2,725.8 116.2,725.8 114.2,729.4" fill="#3d3994"/>
<polygon points="150.4,731.2 154.4,731.2 152.4,727.6" fill="#3d3994"/>
<polygon points="120.5,731.9 124.5,731.9 122.5,728.3" fill="#3d3994"/>
<polygon points="149.8,727.8 153.8,727.8 151.8,731.4" fill="#3d3994"/>
<polygon points="127.6,727.7 131.6,727.7 129.6,731.3" fill="#3d3994"/>
<polygon points="114.7,714.8 118.7,714.8 116.7,718.4" fill="#3d3994"/>
<polygon points="124.4,728.4 128.4,728.4 126.4,732.0" fill="#3d3994"/>
<polygon points="128.7,728.5 132.7,728.5 130.7,724.9" fill="#3d3994"/>
<polygon points="149.2,727.5 153.2,727.5 151.2,723.9" fill="#3d3994"/>
<polygon points="155.5,730.7 159.5,730.7 157.5,727.1" fill="#3d3994"/>
<polygon points="128.7,722.2 132.7,722.2 130.7,725.8" fill="#3d3994"/>
<polygon points="122.0,722.0 126.0,722.0 124.0,725.6" fill="#3d3994"/>
<polygon points="128.2,719.1 132.2,719.1 130.2,715.5" fill="#3d3994"/>
<polygon points="125.6,721.4 129.6,721.4 127.6,725.0" fill="#3d3994"/>
<polygon points="136.1,729.5 140.1,729.5 138.1,725.9" fill="#3d3994"/>
<polygon points="138.4,728.3 142.4,728.3 140.4,731.9" fill="#3d3994"/>
<polygon points="132.2,722.9 136.2,722.9 134.2,719.3" fill="#3d3994"/>
<polygon points="116.0,721.2 120.0,721.2 118.0,717.6" fill="#3d3994"/>
<polygon points="121.2,715.2 125.2,715.2 123.2,718.8" fill="#3d3994"/>
<polygon points="131.8,721.0 135.8,721.0 133.8,724.6" fill="#3d3994"/>
<polygon points="126.3,718.5 130.3,718.5 128.3,722.1" fill="#3d3994"/>
<polygon points="133.8,717.6 137.8,717.6 135.8,721.2" fill="#3d3994"/>
<polygon points="153.7,727.5 157.7,727.5 155.7,731.1" fill="#3d3994"/>
<polygon points="134.9,715.7 138.9,715.7 136.9,719.3" fill="#3d3994"/>
<polygon points="134.1,728.4 138.1,728.4 136.1,732.0" fill="#3d3994"/>
<polygon points="131.4,726.1 135.4,726.1 133.4,729.7" fill="#3d3994"/>
<polygon points="137.6,721.7 141.6,721.7 139.6,718.1" fill="#3d3994"/>
<polygon points="148.7,731.0 152.7,731.0 150.7,727.4" fill="#3d3994"/>
<polygon points="114.1,724.1 118.1,724.1 116.1,727.7" fill="#3d3994"/>
<polygon points="124.2,717.2 128.2,717.2 126.2,720.8" fill="#3d3994"/>
<polygon points="129.9,723.9 133.9,723.9 131.9,720.3" fill="#3d3994"/>
<polygon points="120.8,727.0 124.8,727.0 122.8,730.6" fill="#3d3994"/>
<polygon points="142.4,720.8 146.4,720.8 144.4,724.4" fill="#3d3994"/>
<polygon points="132.4,716.2 136.4,716.2 134.4,719.8" fill="#3d3994"/>
<polygon points="129.4,720.7 133.4,720.7 131.4,717.1" fill="#3d3994"/>
<polygon points="142.5,727.2 146.5,727.2 144.5,723.6" fill="#3d3994"/>
<polygon points="117.6,714.4 121.6,714.4 119.6,718.0" fill="#3d3994"/>
<polygon points="151.5,725.1 155.5,725.1 153.5,721.5" fill="#3d3994"/>
<polygon points="125.2,723.6 129.2,723.6 127.2,720.0" fill="#3d3994"/>
<polygon points="149.8,720.6 153.8,720.6 151.8,724.2" fill="#3d3994"/>
<polygon points="126.7,721.4 130.7,721.4 128.7,717.8" fill="#3d3994"/>
<polygon points="152.5,720.7 156.5,720.7 154.5,724.3" fill="#3d3994"/>
<polygon points="150.9,724.8 154.9,724.8 152.9,721.2" fill="#3d3994"/>
<polygon points="129.6,719.0 133.6,719.0 131.6,715.4" fill="#3d3994"/>
<polygon points="115.0,728.3 119.0,728.3 117.0,731.9" fill="#3d3994"/>
<polygon points="126.1,714.3 130.1,714.3 128.1,717.9" fill="#3d3994"/>
<polygon points="140.5,715.6 144.5,715.6 142.5,719.2" fill="#3d3994"/>
<polygon points="112.8,714.4 116.8,714.4 114.8,718.0" fill="#3d3994"/>
<polygon points="120.6,729.1 124.6,729.1 122.6,725.5" fill="#3d3994"/>
<polygon points="133.7,731.7 137.7,731.7 135.7,728.1" fill="#3d3994"/>
<polygon points="124.5,729.4 128.5,729.4 126.5,725.8" fill="#3d3994"/>
<polygon points="118.8,726.0 122.8,726.0 120.8,729.6" fill="#3d3994"/>
<polygon points="141.6,731.4 145.6,731.4 143.6,727.8" fill="#3d3994"/>
<polygon points="142.8,724.1 146.8,724.1 144.8,727.7" fill="#3d3994"/>
<polygon points="66.4,724.1 70.6,724.1 68.5,720.3" fill="#3d3994"/>
<polygon points="88.9,728.9 93.1,728.9 91.0,732.7" fill="#3d3994"/>
<polygon points="127.9,719.9 132.1,719.9 130.0,716.1" fill="#3d3994"/>
<polygon points="137.9,718.4 142.1,718.4 140.0,714.6" fill="#3d3994"/>
<polygon points="155.9,717.9 160.1,717.9 158.0,714.1" fill="#3d3994"/>
<polygon points="117.9,722.9 122.1,722.9 120.0,719.1" fill="#3d3994"/>
<polygon points="58.3,728.5 62.3,728.5 60.3,732.1" fill="#a8a8a8"/>
<polygon points="62.9,730.1 66.9,730.1 64.9,733.7" fill="#a8a8a8"/>
<polygon points="75.6,729.5 79.6,729.5 77.6,733.1" fill="#a8a8a8"/>
<polygon points="97.5,722.7 101.5,722.7 99.5,726.3" fill="#a8a8a8"/>
<polygon points="143.0,729.2 147.0,729.2 145.0,732.8" fill="#a8a8a8"/>
<polygon points="148.0,728.2 152.0,728.2 150.0,731.8" fill="#a8a8a8"/>
</g>
<polygon points="108.8,721.3 112.4,721.3 110.6,718.0" fill="#e88a1e"/>
<polygon points="115.5,722.5 119.1,722.5 117.3,719.3" fill="#f0b020"/>
<polygon points="96.3,717.6 99.9,717.6 98.1,714.3" fill="#c8361a"/>
<polygon points="109.3,718.9 112.9,718.9 111.1,722.1" fill="#e88a1e"/>
<polygon points="105.6,718.3 109.2,718.3 107.4,715.0" fill="#d9541c"/>
<polygon points="107.8,714.3 111.4,714.3 109.6,717.6" fill="#d9541c"/>
<polygon points="101.6,720.7 105.2,720.7 103.4,717.5" fill="#c8361a"/>
<polygon points="99.1,716.4 102.7,716.4 100.9,719.7" fill="#c8361a"/>
<polygon points="108.7,715.1 112.3,715.1 110.5,718.3" fill="#e88a1e"/>
<polygon points="114.0,716.5 117.6,716.5 115.8,719.7" fill="#f0b020"/>
<polygon points="116.3,720.1 119.9,720.1 118.1,723.3" fill="#f0b020"/>
<polygon points="115.9,721.7 119.5,721.7 117.7,718.4" fill="#f0b020"/>
<polygon points="100.0,720.6 103.6,720.6 101.8,717.3" fill="#c8361a"/>
<polygon points="116.0,720.1 119.6,720.1 117.8,723.4" fill="#f0b020"/>
<polygon points="103.3,714.2 106.9,714.2 105.1,717.5" fill="#c8361a"/>
<polygon points="97.1,716.9 100.7,716.9 98.9,713.7" fill="#c8361a"/>
<polygon points="95.8,715.2 99.4,715.2 97.6,718.5" fill="#c8361a"/>
<polygon points="102.2,717.1 105.8,717.1 104.0,720.4" fill="#c8361a"/>
<polygon points="102.3,718.8 105.9,718.8 104.1,715.6" fill="#c8361a"/>
<polygon points="96.9,716.9 100.5,716.9 98.7,720.1" fill="#c8361a"/>
<polygon points="111.4,719.0 115.0,719.0 113.2,722.3" fill="#e88a1e"/>
<polygon points="112.2,720.1 115.8,720.1 114.0,716.9" fill="#e88a1e"/>
<polygon points="95.9,712.2 99.5,712.2 97.7,715.5" fill="#c8361a"/>
<polygon points="115.8,720.0 119.4,720.0 117.6,716.7" fill="#f0b020"/>
<polygon points="115.2,720.2 118.8,720.2 117.0,723.5" fill="#f0b020"/>
<polygon points="103.2,719.2 106.8,719.2 105.0,715.9" fill="#c8361a"/>
<polygon points="98.0,719.2 101.6,719.2 99.8,716.0" fill="#c8361a"/>
<polygon points="113.8,718.8 117.4,718.8 115.6,715.6" fill="#f0b020"/>
<polygon points="97.6,717.2 101.2,717.2 99.4,714.0" fill="#c8361a"/>
<polygon points="115.0,720.5 118.6,720.5 116.8,717.3" fill="#f0b020"/>
<polygon points="107.1,715.7 110.7,715.7 108.9,718.9" fill="#d9541c"/>
<polygon points="99.4,713.1 103.0,713.1 101.2,716.3" fill="#c8361a"/>
<polygon points="110.2,719.5 113.8,719.5 112.0,722.8" fill="#e88a1e"/>
<polygon points="96.7,720.2 100.3,720.2 98.5,716.9" fill="#c8361a"/>
<polygon points="104.2,718.0 107.8,718.0 106.0,714.7" fill="#d9541c"/>
<polygon points="113.1,717.5 116.7,717.5 114.9,720.7" fill="#e88a1e"/>
<polygon points="96.9,716.6 100.5,716.6 98.7,719.8" fill="#c8361a"/>
<polygon points="106.1,718.0 109.7,718.0 107.9,721.2" fill="#d9541c"/>
<polygon points="111.1,722.7 114.7,722.7 112.9,719.5" fill="#e88a1e"/>
<polygon points="112.2,715.6 115.8,715.6 114.0,718.9" fill="#e88a1e"/>
<polygon points="98.8,716.6 102.4,716.6 100.6,719.9" fill="#c8361a"/>
<polygon points="105.2,721.8 108.8,721.8 107.0,718.6" fill="#d9541c"/>
<polygon points="116.2,718.1 119.8,718.1 118.0,721.3" fill="#f0b020"/>
<polygon points="111.0,717.2 114.6,717.2 112.8,720.4" fill="#e88a1e"/>
<polygon points="104.2,714.3 107.8,714.3 106.0,717.5" fill="#d9541c"/>
<polygon points="116.5,723.8 120.1,723.8 118.3,720.5" fill="#f0b020"/>
<polygon points="106.2,715.6 109.8,715.6 108.0,718.8" fill="#d9541c"/>
<polygon points="101.4,720.1 105.0,720.1 103.2,716.8" fill="#c8361a"/>
<polygon points="103.3,720.4 106.9,720.4 105.1,717.2" fill="#c8361a"/>
<polygon points="110.3,721.2 113.9,721.2 112.1,717.9" fill="#e88a1e"/>
<polygon points="103.3,716.8 106.9,716.8 105.1,720.1" fill="#c8361a"/>
<polygon points="105.9,720.9 109.5,720.9 107.7,717.6" fill="#d9541c"/>
<polygon points="101.9,720.9 105.5,720.9 103.7,717.7" fill="#c8361a"/>
<polygon points="107.9,717.6 111.5,717.6 109.7,714.4" fill="#d9541c"/>
<polygon points="101.0,716.2 104.6,716.2 102.8,719.4" fill="#c8361a"/>
<polygon points="112.9,721.6 116.5,721.6 114.7,718.4" fill="#e88a1e"/>
<polygon points="103.0,719.7 106.6,719.7 104.8,716.5" fill="#c8361a"/>
<polygon points="113.1,720.2 116.7,720.2 114.9,717.0" fill="#e88a1e"/>
<polygon points="114.0,722.0 117.6,722.0 115.8,718.8" fill="#f0b020"/>
<polygon points="115.8,721.5 119.4,721.5 117.6,718.3" fill="#f0b020"/>
<polygon points="99.2,719.9 102.8,719.9 101.0,716.7" fill="#c8361a"/>
<polygon points="105.7,720.4 109.3,720.4 107.5,717.2" fill="#d9541c"/>
<polygon points="111.0,719.0 114.6,719.0 112.8,715.7" fill="#e88a1e"/>
<polygon points="107.9,717.5 111.5,717.5 109.7,720.7" fill="#d9541c"/>
<polygon points="108.8,721.4 112.4,721.4 110.6,718.2" fill="#e88a1e"/>
<polygon points="110.8,715.0 114.4,715.0 112.6,718.2" fill="#e88a1e"/>
<polygon points="105.0,716.9 108.6,716.9 106.8,720.1" fill="#d9541c"/>
<polygon points="110.1,717.8 113.7,717.8 111.9,721.0" fill="#e88a1e"/>
<polygon points="105.6,715.0 109.2,715.0 107.4,718.2" fill="#d9541c"/>
<polygon points="98.5,714.0 102.1,714.0 100.3,717.3" fill="#c8361a"/>
<polygon points="99.8,712.9 103.4,712.9 101.6,716.2" fill="#c8361a"/>
<polygon points="103.7,719.7 107.3,719.7 105.5,716.4" fill="#c8361a"/>
<polygon points="100.7,717.3 104.3,717.3 102.5,720.5" fill="#c8361a"/>
<polygon points="104.2,714.9 107.8,714.9 106.0,718.2" fill="#d9541c"/>
<polygon points="98.1,716.4 101.7,716.4 99.9,719.7" fill="#c8361a"/>
<polygon points="96.5,715.1 100.1,715.1 98.3,718.3" fill="#c8361a"/>
<polygon points="107.1,719.0 110.7,719.0 108.9,715.8" fill="#d9541c"/>
<polygon points="115.8,719.7 119.4,719.7 117.6,723.0" fill="#f0b020"/>
<polygon points="112.8,718.3 116.4,718.3 114.6,721.6" fill="#e88a1e"/>
<polygon points="98.7,718.6 102.3,718.6 100.5,715.4" fill="#c8361a"/>
<polygon points="117.4,718.0 120.8,718.0 119.1,715.0" fill="#f4b820"/>
<polygon points="112.3,719.5 115.7,719.5 114.0,716.5" fill="#f4b820"/>
<polygon points="115.3,722.5 118.7,722.5 117.0,719.5" fill="#f4b820"/>
<polygon points="120.2,720.9 123.2,720.9 121.7,718.1" fill="#5fd35f"/>
<polygon points="123.9,701.8 127.7,701.8 125.8,705.2" fill="#5fd35f"/>
<polygon points="125.6,703.3 129.4,703.3 127.5,706.7" fill="#5fd35f"/>
<polygon points="126.9,705.8 130.7,705.8 128.8,709.2" fill="#5fd35f"/>
<polygon points="124.6,706.6 128.4,706.6 126.5,710.0" fill="#5fd35f"/>
<polygon points="122.6,704.3 126.4,704.3 124.5,707.7" fill="#5fd35f"/>
<polygon points="125.0,709.4 128.6,709.4 126.8,712.6" fill="#2ab8e0"/>
<polygon points="125.2,715.6 128.8,715.6 127.0,712.4" fill="#2ab8e0"/>
<polygon points="124.7,717.9 128.3,717.9 126.5,714.7" fill="#2ab8e0"/>
<polygon points="95.5,728.4 98.5,728.4 97.0,725.6" fill="#5fd35f"/>
<polygon points="100.5,729.4 103.5,729.4 102.0,726.6" fill="#f4b020"/>
<polygon points="115.0,734.4 118.0,734.4 116.5,731.6" fill="#f4b820"/>
<polygon points="110.5,738.4 113.5,738.4 112.0,735.6" fill="#5fd35f"/>
<polygon points="125.0,732.4 128.0,732.4 126.5,729.6" fill="#2ab8e0"/>
<polygon points="129.5,741.4 132.5,741.4 131.0,738.6" fill="#2ab8e0"/>
<polygon points="101.5,699.2 103.7,702.2 101.5,705.2 99.3,702.2" fill="#9a32b0" stroke="#444" stroke-width="0.4"/>
<line x1="24.5" y1="641.2" x2="24.5" y2="755.7" stroke="#333" stroke-width="0.8"/>
<line x1="159" y1="641.2" x2="159" y2="755.7" stroke="#333" stroke-width="0.8"/>
<line x1="24.5" y1="755.7" x2="159" y2="755.7" stroke="#333" stroke-width="0.8"/>
<line x1="22" y1="755.7" x2="24.5" y2="755.7" stroke="#333" stroke-width="0.8"/>
<line x1="159" y1="755.7" x2="161.5" y2="755.7" stroke="#333" stroke-width="0.8"/>
<text x="20.5" y="758.2" font-size="7" fill="#222" stroke="#222" stroke-width="0.17" text-anchor="end">0</text>
<text x="162.5" y="758.2" font-size="7" fill="#222" stroke="#222" stroke-width="0.17">0</text>
<line x1="22" y1="732.8" x2="24.5" y2="732.8" stroke="#333" stroke-width="0.8"/>
<line x1="159" y1="732.8" x2="161.5" y2="732.8" stroke="#333" stroke-width="0.8"/>
<text x="20.5" y="735.3" font-size="7" fill="#222" stroke="#222" stroke-width="0.17" text-anchor="end">2</text>
<text x="162.5" y="735.3" font-size="7" fill="#222" stroke="#222" stroke-width="0.17">20</text>
<line x1="22" y1="709.9" x2="24.5" y2="709.9" stroke="#333" stroke-width="0.8"/>
<line x1="159" y1="709.9" x2="161.5" y2="709.9" stroke="#333" stroke-width="0.8"/>
<text x="20.5" y="712.4" font-size="7" fill="#222" stroke="#222" stroke-width="0.17" text-anchor="end">4</text>
<text x="162.5" y="712.4" font-size="7" fill="#222" stroke="#222" stroke-width="0.17">40</text>
<line x1="22" y1="687" x2="24.5" y2="687" stroke="#333" stroke-width="0.8"/>
<line x1="159" y1="687" x2="161.5" y2="687" stroke="#333" stroke-width="0.8"/>
<text x="20.5" y="689.5" font-size="7" fill="#222" stroke="#222" stroke-width="0.17" text-anchor="end">6</text>
<text x="162.5" y="689.5" font-size="7" fill="#222" stroke="#222" stroke-width="0.17">60</text>
<line x1="22" y1="664.1" x2="24.5" y2="664.1" stroke="#333" stroke-width="0.8"/>
<line x1="159" y1="664.1" x2="161.5" y2="664.1" stroke="#333" stroke-width="0.8"/>
<text x="20.5" y="666.6" font-size="7" fill="#222" stroke="#222" stroke-width="0.17" text-anchor="end">8</text>
<text x="162.5" y="666.6" font-size="7" fill="#222" stroke="#222" stroke-width="0.17">80</text>
<line x1="22" y1="641.2" x2="24.5" y2="641.2" stroke="#333" stroke-width="0.8"/>
<line x1="159" y1="641.2" x2="161.5" y2="641.2" stroke="#333" stroke-width="0.8"/>
<text x="20.5" y="643.7" font-size="7" fill="#222" stroke="#222" stroke-width="0.17" text-anchor="end">10</text>
<text x="162.5" y="643.7" font-size="7" fill="#222" stroke="#222" stroke-width="0.17">100</text>
<line x1="42" y1="755.7" x2="42" y2="758.2" stroke="#333" stroke-width="0.8"/>
<text x="42" y="763.8" font-size="6.8" fill="#222" stroke="#222" stroke-width="0.16" text-anchor="middle">93.20</text>
<line x1="64.7" y1="755.7" x2="64.7" y2="758.2" stroke="#333" stroke-width="0.8"/>
<text x="64.7" y="763.8" font-size="6.8" fill="#222" stroke="#222" stroke-width="0.16" text-anchor="middle">93.30</text>
<line x1="87.2" y1="755.7" x2="87.2" y2="758.2" stroke="#333" stroke-width="0.8"/>
<text x="87.2" y="763.8" font-size="6.8" fill="#222" stroke="#222" stroke-width="0.16" text-anchor="middle">93.40</text>
<line x1="109.7" y1="755.7" x2="109.7" y2="758.2" stroke="#333" stroke-width="0.8"/>
<text x="109.7" y="763.8" font-size="6.8" fill="#222" stroke="#222" stroke-width="0.16" text-anchor="middle">93.50</text>
<line x1="132.3" y1="755.7" x2="132.3" y2="758.2" stroke="#333" stroke-width="0.8"/>
<text x="132.3" y="763.8" font-size="6.8" fill="#222" stroke="#222" stroke-width="0.16" text-anchor="middle">93.60</text>
<line x1="154.8" y1="755.7" x2="154.8" y2="758.2" stroke="#333" stroke-width="0.8"/>
<text x="154.8" y="763.8" font-size="6.8" fill="#222" stroke="#222" stroke-width="0.16" text-anchor="middle">93.70</text>
<line x1="24.5" y1="755.7" x2="24.5" y2="758.2" stroke="#333" stroke-width="0.8"/>
<text x="91.6" y="775.6" font-size="8.2" fill="#000" text-anchor="middle" font-weight="bold">Chromosome 9 (Mb)</text>
<text x="56.5" y="655.3" font-size="9.3" fill="#000" font-weight="bold">AD max SNP PIP=1.00</text>
<text x="56.5" y="702.6" font-size="6.9" fill="#000" font-weight="bold">rs10512201</text>
<rect x="26.5" y="643.2" width="24.9" height="60" fill="#f2f2f2" stroke="#999" stroke-width="0.7"/>
<rect x="31.2" y="657.3" width="5.7" height="7.3" fill="#d7301f" stroke="none" stroke-width="1"/>
<rect x="31.2" y="664.6" width="5.7" height="7.8" fill="#f6b21a" stroke="none" stroke-width="1"/>
<rect x="31.2" y="672.4" width="5.7" height="7.5" fill="#5fd35f" stroke="none" stroke-width="1"/>
<rect x="31.2" y="679.9" width="5.7" height="7.8" fill="#1fb3e0" stroke="none" stroke-width="1"/>
<rect x="31.2" y="687.7" width="5.7" height="7.4" fill="#3a2d8f" stroke="none" stroke-width="1"/>
<text x="37.6" y="658.8" font-size="6.3" fill="#222" stroke="#222" stroke-width="0.15">1</text>
<text x="37.6" y="666.3" font-size="6.3" fill="#222" stroke="#222" stroke-width="0.15">0.8</text>
<text x="37.6" y="674.1" font-size="6.3" fill="#222" stroke="#222" stroke-width="0.15">0.6</text>
<text x="37.6" y="681.6" font-size="6.3" fill="#222" stroke="#222" stroke-width="0.15">0.4</text>
<text x="37.6" y="689.2" font-size="6.3" fill="#222" stroke="#222" stroke-width="0.15">0.2</text>
<text x="37.6" y="696.5" font-size="6.3" fill="#222" stroke="#222" stroke-width="0.15">0</text>
<text x="28.8" y="651" font-size="6.3" fill="#222">LD (<tspan font-style="italic">r</tspan><tspan font-size="4" dy="-2.5">2</tspan><tspan dy="2.5">)</tspan></text>
<line x1="368.1" y1="671.5" x2="508.2" y2="671.5" stroke="#c4c4c4" stroke-width="1.2" stroke-dasharray="4,3"/>
<clipPath id="csz"><rect x="368.1" y="640" width="140.1" height="114.3"/></clipPath>
<g clip-path="url(#csz)">
<polygon points="368.1,741 380,740 390,740 400,737 410,734 418,731 440,731 447,731 452,730 462,731 470,732 480,731 490,730 500,731 508.2,732 508.2,754.3 368.1,754.3" fill="#868686"/>
<polygon points="430.5,736.9 434.8,736.9 432.7,740.8" fill="#7c7c7c" stroke="#3e3e3e" stroke-width="0.35"/>
<polygon points="461.3,739.9 465.6,739.9 463.4,736.0" fill="#9c9c9c" stroke="#3e3e3e" stroke-width="0.35"/>
<polygon points="375.5,750.1 379.8,750.1 377.6,746.2" fill="#acacac" stroke="#3e3e3e" stroke-width="0.35"/>
<polygon points="468.7,735.6 473.0,735.6 470.9,731.7" fill="#9c9c9c" stroke="#3e3e3e" stroke-width="0.35"/>
<polygon points="424.7,730.9 429.0,730.9 426.9,734.8" fill="#6c6c6c" stroke="#3e3e3e" stroke-width="0.35"/>
<polygon points="436.8,752.9 441.1,752.9 438.9,756.7" fill="#acacac" stroke="#3e3e3e" stroke-width="0.35"/>
<polygon points="463.0,752.9 467.3,752.9 465.1,749.0" fill="#6c6c6c" stroke="#3e3e3e" stroke-width="0.35"/>
<polygon points="393.4,738.3 397.7,738.3 395.5,742.1" fill="#c8c8c8" stroke="#3e3e3e" stroke-width="0.35"/>
<polygon points="376.5,740.5 380.8,740.5 378.6,744.4" fill="#7c7c7c" stroke="#3e3e3e" stroke-width="0.35"/>
<polygon points="413.0,732.2 417.3,732.2 415.2,728.3" fill="#bababa" stroke="#3e3e3e" stroke-width="0.35"/>
<polygon points="490.5,730.8 494.8,730.8 492.6,727.0" fill="#9c9c9c" stroke="#3e3e3e" stroke-width="0.35"/>
<polygon points="383.9,743.7 388.2,743.7 386.0,739.8" fill="#bababa" stroke="#3e3e3e" stroke-width="0.35"/>
<polygon points="380.0,750.9 384.3,750.9 382.1,747.0" fill="#6c6c6c" stroke="#3e3e3e" stroke-width="0.35"/>
<polygon points="392.3,751.9 396.6,751.9 394.5,755.8" fill="#8c8c8c" stroke="#3e3e3e" stroke-width="0.35"/>
<polygon points="375.9,749.8 380.2,749.8 378.0,745.9" fill="#6c6c6c" stroke="#3e3e3e" stroke-width="0.35"/>
<polygon points="446.4,741.5 450.7,741.5 448.5,745.4" fill="#7c7c7c" stroke="#3e3e3e" stroke-width="0.35"/>
<polygon points="421.2,748.5 425.5,748.5 423.3,744.6" fill="#6c6c6c" stroke="#3e3e3e" stroke-width="0.35"/>
<polygon points="384.8,757.7 389.1,757.7 386.9,753.9" fill="#bababa" stroke="#3e3e3e" stroke-width="0.35"/>
<polygon points="371.7,750.3 376.0,750.3 373.8,746.4" fill="#acacac" stroke="#3e3e3e" stroke-width="0.35"/>
<polygon points="471.2,751.5 475.5,751.5 473.3,747.6" fill="#acacac" stroke="#3e3e3e" stroke-width="0.35"/>
<polygon points="381.3,749.2 385.6,749.2 383.5,753.0" fill="#7c7c7c" stroke="#3e3e3e" stroke-width="0.35"/>
<polygon points="436.6,751.3 440.9,751.3 438.7,747.4" fill="#c8c8c8" stroke="#3e3e3e" stroke-width="0.35"/>
<polygon points="448.8,752.2 453.1,752.2 451.0,748.3" fill="#6c6c6c" stroke="#3e3e3e" stroke-width="0.35"/>
<polygon points="379.7,752.7 384.0,752.7 381.8,756.6" fill="#8c8c8c" stroke="#3e3e3e" stroke-width="0.35"/>
<polygon points="421.8,758.5 426.1,758.5 423.9,754.7" fill="#acacac" stroke="#3e3e3e" stroke-width="0.35"/>
<polygon points="418.4,743.7 422.7,743.7 420.6,747.6" fill="#6c6c6c" stroke="#3e3e3e" stroke-width="0.35"/>
<polygon points="394.6,746.7 398.9,746.7 396.7,742.8" fill="#8c8c8c" stroke="#3e3e3e" stroke-width="0.35"/>
<polygon points="408.1,740.3 412.4,740.3 410.2,736.4" fill="#acacac" stroke="#3e3e3e" stroke-width="0.35"/>
<polygon points="367.5,750.9 371.8,750.9 369.7,754.7" fill="#c8c8c8" stroke="#3e3e3e" stroke-width="0.35"/>
<polygon points="413.7,752.7 418.0,752.7 415.8,748.8" fill="#acacac" stroke="#3e3e3e" stroke-width="0.35"/>
<polygon points="425.1,732.8 429.4,732.8 427.2,736.6" fill="#c8c8c8" stroke="#3e3e3e" stroke-width="0.35"/>
<polygon points="417.6,751.0 421.9,751.0 419.7,754.9" fill="#8c8c8c" stroke="#3e3e3e" stroke-width="0.35"/>
<polygon points="405.7,747.3 410.0,747.3 407.8,751.1" fill="#8c8c8c" stroke="#3e3e3e" stroke-width="0.35"/>
<polygon points="499.1,753.4 503.4,753.4 501.3,749.6" fill="#8c8c8c" stroke="#3e3e3e" stroke-width="0.35"/>
<polygon points="505.9,744.0 510.2,744.0 508.0,747.9" fill="#6c6c6c" stroke="#3e3e3e" stroke-width="0.35"/>
<polygon points="428.7,752.7 433.0,752.7 430.9,748.9" fill="#8c8c8c" stroke="#3e3e3e" stroke-width="0.35"/>
<polygon points="503.0,736.8 507.3,736.8 505.2,740.6" fill="#7c7c7c" stroke="#3e3e3e" stroke-width="0.35"/>
<polygon points="403.8,758.0 408.1,758.0 406.0,754.1" fill="#bababa" stroke="#3e3e3e" stroke-width="0.35"/>
<polygon points="464.1,728.5 468.4,728.5 466.2,732.3" fill="#9c9c9c" stroke="#3e3e3e" stroke-width="0.35"/>
<polygon points="444.8,753.0 449.1,753.0 446.9,749.1" fill="#acacac" stroke="#3e3e3e" stroke-width="0.35"/>
<polygon points="388.2,753.2 392.5,753.2 390.3,749.3" fill="#c8c8c8" stroke="#3e3e3e" stroke-width="0.35"/>
<polygon points="451.5,735.6 455.8,735.6 453.6,739.5" fill="#6c6c6c" stroke="#3e3e3e" stroke-width="0.35"/>
<polygon points="382.3,751.0 386.6,751.0 384.5,754.9" fill="#c8c8c8" stroke="#3e3e3e" stroke-width="0.35"/>
<polygon points="476.2,732.6 480.5,732.6 478.3,736.5" fill="#6c6c6c" stroke="#3e3e3e" stroke-width="0.35"/>
<polygon points="432.1,743.2 436.4,743.2 434.2,747.1" fill="#acacac" stroke="#3e3e3e" stroke-width="0.35"/>
<polygon points="388.8,748.4 393.1,748.4 390.9,744.6" fill="#8c8c8c" stroke="#3e3e3e" stroke-width="0.35"/>
<polygon points="499.4,731.0 503.7,731.0 501.5,727.1" fill="#acacac" stroke="#3e3e3e" stroke-width="0.35"/>
<polygon points="442.2,745.1 446.5,745.1 444.4,741.2" fill="#acacac" stroke="#3e3e3e" stroke-width="0.35"/>
<polygon points="478.5,755.4 482.8,755.4 480.6,751.5" fill="#acacac" stroke="#3e3e3e" stroke-width="0.35"/>
<polygon points="407.1,748.0 411.4,748.0 409.2,751.8" fill="#bababa" stroke="#3e3e3e" stroke-width="0.35"/>
<polygon points="378.2,744.9 382.5,744.9 380.3,748.8" fill="#6c6c6c" stroke="#3e3e3e" stroke-width="0.35"/>
<polygon points="455.5,727.2 459.8,727.2 457.7,731.1" fill="#acacac" stroke="#3e3e3e" stroke-width="0.35"/>
<polygon points="398.9,746.3 403.2,746.3 401.1,742.4" fill="#8c8c8c" stroke="#3e3e3e" stroke-width="0.35"/>
<polygon points="468.9,744.5 473.2,744.5 471.1,748.4" fill="#7c7c7c" stroke="#3e3e3e" stroke-width="0.35"/>
<polygon points="449.8,743.5 454.1,743.5 452.0,747.3" fill="#bababa" stroke="#3e3e3e" stroke-width="0.35"/>
<polygon points="448.6,731.6 452.9,731.6 450.8,727.7" fill="#6c6c6c" stroke="#3e3e3e" stroke-width="0.35"/>
<polygon points="390.0,739.6 394.3,739.6 392.1,735.8" fill="#8c8c8c" stroke="#3e3e3e" stroke-width="0.35"/>
<polygon points="442.6,743.7 446.9,743.7 444.8,739.8" fill="#bababa" stroke="#3e3e3e" stroke-width="0.35"/>
<polygon points="411.9,749.1 416.2,749.1 414.1,753.0" fill="#6c6c6c" stroke="#3e3e3e" stroke-width="0.35"/>
<polygon points="428.5,734.2 432.8,734.2 430.7,730.4" fill="#9c9c9c" stroke="#3e3e3e" stroke-width="0.35"/>
<polygon points="483.8,732.5 488.1,732.5 485.9,728.6" fill="#8c8c8c" stroke="#3e3e3e" stroke-width="0.35"/>
<polygon points="428.9,729.8 433.2,729.8 431.0,733.7" fill="#7c7c7c" stroke="#3e3e3e" stroke-width="0.35"/>
<polygon points="371.4,740.9 375.7,740.9 373.6,737.1" fill="#bababa" stroke="#3e3e3e" stroke-width="0.35"/>
<polygon points="417.5,751.4 421.8,751.4 419.6,747.6" fill="#9c9c9c" stroke="#3e3e3e" stroke-width="0.35"/>
<polygon points="392.7,752.4 397.0,752.4 394.9,756.2" fill="#6c6c6c" stroke="#3e3e3e" stroke-width="0.35"/>
<polygon points="400.8,743.6 405.1,743.6 402.9,747.4" fill="#7c7c7c" stroke="#3e3e3e" stroke-width="0.35"/>
<polygon points="400.3,749.7 404.6,749.7 402.5,745.8" fill="#6c6c6c" stroke="#3e3e3e" stroke-width="0.35"/>
<polygon points="423.9,756.0 428.2,756.0 426.1,752.1" fill="#9c9c9c" stroke="#3e3e3e" stroke-width="0.35"/>
<polygon points="451.0,735.6 455.3,735.6 453.2,731.8" fill="#6c6c6c" stroke="#3e3e3e" stroke-width="0.35"/>
<polygon points="382.9,739.7 387.2,739.7 385.0,735.8" fill="#7c7c7c" stroke="#3e3e3e" stroke-width="0.35"/>
<polygon points="477.1,756.1 481.4,756.1 479.2,752.2" fill="#6c6c6c" stroke="#3e3e3e" stroke-width="0.35"/>
<polygon points="496.3,754.1 500.6,754.1 498.5,758.0" fill="#6c6c6c" stroke="#3e3e3e" stroke-width="0.35"/>
<polygon points="427.1,738.1 431.4,738.1 429.3,742.0" fill="#8c8c8c" stroke="#3e3e3e" stroke-width="0.35"/>
<polygon points="413.8,750.5 418.1,750.5 416.0,754.3" fill="#9c9c9c" stroke="#3e3e3e" stroke-width="0.35"/>
<polygon points="375.2,745.1 379.5,745.1 377.3,741.2" fill="#9c9c9c" stroke="#3e3e3e" stroke-width="0.35"/>
<polygon points="445.7,738.7 450.0,738.7 447.9,742.6" fill="#7c7c7c" stroke="#3e3e3e" stroke-width="0.35"/>
<polygon points="372.3,741.2 376.6,741.2 374.5,737.3" fill="#8c8c8c" stroke="#3e3e3e" stroke-width="0.35"/>
<polygon points="391.0,752.9 395.3,752.9 393.2,749.0" fill="#bababa" stroke="#3e3e3e" stroke-width="0.35"/>
<polygon points="499.7,732.6 504.0,732.6 501.9,728.8" fill="#9c9c9c" stroke="#3e3e3e" stroke-width="0.35"/>
<polygon points="450.2,757.2 454.5,757.2 452.3,753.3" fill="#bababa" stroke="#3e3e3e" stroke-width="0.35"/>
<polygon points="394.3,745.0 398.6,745.0 396.4,748.9" fill="#8c8c8c" stroke="#3e3e3e" stroke-width="0.35"/>
<polygon points="460.3,742.2 464.6,742.2 462.4,738.3" fill="#7c7c7c" stroke="#3e3e3e" stroke-width="0.35"/>
<polygon points="410.5,754.4 414.8,754.4 412.6,750.6" fill="#acacac" stroke="#3e3e3e" stroke-width="0.35"/>
<polygon points="430.6,726.2 434.9,726.2 432.7,730.0" fill="#acacac" stroke="#3e3e3e" stroke-width="0.35"/>
<polygon points="396.1,754.7 400.4,754.7 398.2,758.6" fill="#8c8c8c" stroke="#3e3e3e" stroke-width="0.35"/>
<polygon points="385.3,742.2 389.6,742.2 387.5,738.3" fill="#6c6c6c" stroke="#3e3e3e" stroke-width="0.35"/>
<polygon points="477.6,737.8 481.9,737.8 479.7,741.7" fill="#c8c8c8" stroke="#3e3e3e" stroke-width="0.35"/>
<polygon points="491.8,744.3 496.1,744.3 493.9,740.4" fill="#7c7c7c" stroke="#3e3e3e" stroke-width="0.35"/>
<polygon points="415.3,753.5 419.6,753.5 417.5,757.4" fill="#7c7c7c" stroke="#3e3e3e" stroke-width="0.35"/>
<polygon points="419.3,735.2 423.6,735.2 421.4,731.4" fill="#acacac" stroke="#3e3e3e" stroke-width="0.35"/>
<polygon points="389.5,742.0 393.8,742.0 391.7,738.1" fill="#8c8c8c" stroke="#3e3e3e" stroke-width="0.35"/>
<polygon points="366.7,749.0 371.0,749.0 368.9,745.1" fill="#c8c8c8" stroke="#3e3e3e" stroke-width="0.35"/>
<polygon points="425.4,754.4 429.7,754.4 427.5,758.3" fill="#6c6c6c" stroke="#3e3e3e" stroke-width="0.35"/>
<polygon points="384.5,748.0 388.8,748.0 386.7,744.1" fill="#bababa" stroke="#3e3e3e" stroke-width="0.35"/>
<polygon points="389.6,737.5 393.9,737.5 391.8,741.4" fill="#bababa" stroke="#3e3e3e" stroke-width="0.35"/>
<polygon points="450.4,741.5 454.7,741.5 452.5,745.3" fill="#8c8c8c" stroke="#3e3e3e" stroke-width="0.35"/>
<polygon points="390.7,754.3 395.0,754.3 392.8,750.4" fill="#bababa" stroke="#3e3e3e" stroke-width="0.35"/>
<polygon points="429.1,739.8 433.4,739.8 431.3,735.9" fill="#bababa" stroke="#3e3e3e" stroke-width="0.35"/>
<polygon points="493.8,735.9 498.1,735.9 495.9,732.0" fill="#7c7c7c" stroke="#3e3e3e" stroke-width="0.35"/>
<polygon points="445.7,730.1 450.0,730.1 447.9,726.2" fill="#acacac" stroke="#3e3e3e" stroke-width="0.35"/>
<polygon points="498.7,746.8 503.0,746.8 500.8,750.7" fill="#9c9c9c" stroke="#3e3e3e" stroke-width="0.35"/>
<polygon points="417.5,749.2 421.8,749.2 419.6,753.1" fill="#9c9c9c" stroke="#3e3e3e" stroke-width="0.35"/>
<polygon points="468.5,736.2 472.8,736.2 470.6,732.4" fill="#6c6c6c" stroke="#3e3e3e" stroke-width="0.35"/>
<polygon points="502.7,729.1 507.0,729.1 504.8,732.9" fill="#8c8c8c" stroke="#3e3e3e" stroke-width="0.35"/>
<polygon points="399.4,742.6 403.7,742.6 401.6,746.5" fill="#acacac" stroke="#3e3e3e" stroke-width="0.35"/>
<polygon points="440.3,753.1 444.6,753.1 442.5,757.0" fill="#acacac" stroke="#3e3e3e" stroke-width="0.35"/>
<polygon points="396.0,755.0 400.3,755.0 398.1,758.9" fill="#6c6c6c" stroke="#3e3e3e" stroke-width="0.35"/>
<polygon points="486.8,746.4 491.1,746.4 489.0,742.5" fill="#7c7c7c" stroke="#3e3e3e" stroke-width="0.35"/>
<polygon points="412.6,746.9 416.9,746.9 414.8,750.8" fill="#8c8c8c" stroke="#3e3e3e" stroke-width="0.35"/>
<polygon points="369.0,743.6 373.3,743.6 371.2,747.5" fill="#c8c8c8" stroke="#3e3e3e" stroke-width="0.35"/>
<polygon points="430.7,746.2 435.0,746.2 432.9,750.1" fill="#8c8c8c" stroke="#3e3e3e" stroke-width="0.35"/>
<polygon points="384.6,750.4 388.9,750.4 386.7,746.6" fill="#7c7c7c" stroke="#3e3e3e" stroke-width="0.35"/>
<polygon points="478.4,756.7 482.7,756.7 480.5,752.9" fill="#9c9c9c" stroke="#3e3e3e" stroke-width="0.35"/>
<polygon points="477.6,756.7 481.9,756.7 479.7,752.8" fill="#7c7c7c" stroke="#3e3e3e" stroke-width="0.35"/>
<polygon points="368.6,755.0 372.9,755.0 370.8,758.9" fill="#7c7c7c" stroke="#3e3e3e" stroke-width="0.35"/>
<polygon points="433.2,735.2 437.5,735.2 435.4,731.3" fill="#c8c8c8" stroke="#3e3e3e" stroke-width="0.35"/>
<polygon points="452.7,744.4 457.0,744.4 454.9,740.6" fill="#9c9c9c" stroke="#3e3e3e" stroke-width="0.35"/>
<polygon points="400.4,745.9 404.7,745.9 402.5,749.7" fill="#c8c8c8" stroke="#3e3e3e" stroke-width="0.35"/>
<polygon points="365.9,743.7 370.2,743.7 368.0,739.8" fill="#6c6c6c" stroke="#3e3e3e" stroke-width="0.35"/>
<polygon points="430.6,753.1 434.9,753.1 432.7,757.0" fill="#6c6c6c" stroke="#3e3e3e" stroke-width="0.35"/>
<polygon points="366.0,744.9 370.3,744.9 368.2,748.8" fill="#6c6c6c" stroke="#3e3e3e" stroke-width="0.35"/>
<polygon points="406.4,733.7 410.7,733.7 408.5,729.8" fill="#bababa" stroke="#3e3e3e" stroke-width="0.35"/>
<polygon points="498.7,736.9 503.0,736.9 500.8,740.7" fill="#bababa" stroke="#3e3e3e" stroke-width="0.35"/>
<polygon points="444.4,730.7 448.7,730.7 446.6,734.6" fill="#bababa" stroke="#3e3e3e" stroke-width="0.35"/>
<polygon points="470.7,732.7 475.0,732.7 472.8,736.6" fill="#6c6c6c" stroke="#3e3e3e" stroke-width="0.35"/>
<polygon points="401.1,752.3 405.4,752.3 403.2,756.1" fill="#9c9c9c" stroke="#3e3e3e" stroke-width="0.35"/>
<polygon points="444.1,746.5 448.4,746.5 446.3,750.4" fill="#6c6c6c" stroke="#3e3e3e" stroke-width="0.35"/>
<polygon points="422.6,738.4 426.9,738.4 424.8,742.3" fill="#7c7c7c" stroke="#3e3e3e" stroke-width="0.35"/>
<polygon points="446.3,740.7 450.6,740.7 448.4,744.5" fill="#c8c8c8" stroke="#3e3e3e" stroke-width="0.35"/>
<polygon points="465.0,732.2 469.3,732.2 467.2,736.0" fill="#bababa" stroke="#3e3e3e" stroke-width="0.35"/>
<polygon points="438.1,752.0 442.4,752.0 440.2,755.8" fill="#6c6c6c" stroke="#3e3e3e" stroke-width="0.35"/>
<polygon points="442.4,734.1 446.7,734.1 444.6,738.0" fill="#8c8c8c" stroke="#3e3e3e" stroke-width="0.35"/>
<polygon points="478.7,745.3 483.0,745.3 480.9,741.5" fill="#bababa" stroke="#3e3e3e" stroke-width="0.35"/>
<polygon points="372.1,746.4 376.4,746.4 374.2,742.6" fill="#bababa" stroke="#3e3e3e" stroke-width="0.35"/>
<polygon points="395.9,738.5 400.2,738.5 398.1,742.3" fill="#9c9c9c" stroke="#3e3e3e" stroke-width="0.35"/>
<polygon points="506.9,753.5 511.2,753.5 509.1,749.7" fill="#acacac" stroke="#3e3e3e" stroke-width="0.35"/>
<polygon points="390.2,751.6 394.5,751.6 392.3,747.8" fill="#c8c8c8" stroke="#3e3e3e" stroke-width="0.35"/>
<polygon points="410.3,741.5 414.6,741.5 412.4,745.3" fill="#8c8c8c" stroke="#3e3e3e" stroke-width="0.35"/>
<polygon points="420.0,757.3 424.3,757.3 422.2,753.5" fill="#acacac" stroke="#3e3e3e" stroke-width="0.35"/>
<polygon points="505.0,731.7 509.3,731.7 507.1,735.6" fill="#6c6c6c" stroke="#3e3e3e" stroke-width="0.35"/>
<polygon points="466.1,745.4 470.4,745.4 468.3,741.5" fill="#acacac" stroke="#3e3e3e" stroke-width="0.35"/>
<polygon points="392.8,750.6 397.1,750.6 394.9,746.7" fill="#9c9c9c" stroke="#3e3e3e" stroke-width="0.35"/>
<polygon points="463.3,755.7 467.6,755.7 465.5,751.8" fill="#6c6c6c" stroke="#3e3e3e" stroke-width="0.35"/>
<polygon points="459.3,730.2 463.6,730.2 461.5,734.1" fill="#bababa" stroke="#3e3e3e" stroke-width="0.35"/>
<polygon points="390.0,744.6 394.3,744.6 392.2,740.7" fill="#8c8c8c" stroke="#3e3e3e" stroke-width="0.35"/>
<polygon points="432.2,751.7 436.5,751.7 434.4,747.9" fill="#bababa" stroke="#3e3e3e" stroke-width="0.35"/>
<polygon points="504.9,741.2 509.2,741.2 507.0,745.0" fill="#c8c8c8" stroke="#3e3e3e" stroke-width="0.35"/>
<polygon points="448.9,748.0 453.2,748.0 451.0,744.2" fill="#9c9c9c" stroke="#3e3e3e" stroke-width="0.35"/>
<polygon points="375.6,754.1 379.9,754.1 377.7,750.2" fill="#c8c8c8" stroke="#3e3e3e" stroke-width="0.35"/>
<polygon points="374.5,748.6 378.8,748.6 376.7,744.8" fill="#acacac" stroke="#3e3e3e" stroke-width="0.35"/>
<polygon points="451.6,758.7 455.9,758.7 453.8,754.8" fill="#9c9c9c" stroke="#3e3e3e" stroke-width="0.35"/>
<polygon points="441.0,757.2 445.3,757.2 443.1,753.3" fill="#acacac" stroke="#3e3e3e" stroke-width="0.35"/>
<polygon points="465.1,739.1 469.4,739.1 467.3,743.0" fill="#acacac" stroke="#3e3e3e" stroke-width="0.35"/>
<polygon points="502.8,750.4 507.1,750.4 505.0,746.5" fill="#c8c8c8" stroke="#3e3e3e" stroke-width="0.35"/>
<polygon points="403.5,755.1 407.8,755.1 405.7,751.2" fill="#8c8c8c" stroke="#3e3e3e" stroke-width="0.35"/>
<polygon points="427.5,745.0 431.8,745.0 429.7,741.1" fill="#c8c8c8" stroke="#3e3e3e" stroke-width="0.35"/>
<polygon points="410.5,736.7 414.8,736.7 412.7,732.8" fill="#bababa" stroke="#3e3e3e" stroke-width="0.35"/>
<polygon points="464.1,735.7 468.4,735.7 466.2,739.5" fill="#9c9c9c" stroke="#3e3e3e" stroke-width="0.35"/>
<polygon points="476.6,756.9 480.9,756.9 478.8,753.1" fill="#8c8c8c" stroke="#3e3e3e" stroke-width="0.35"/>
<polygon points="502.2,733.9 506.5,733.9 504.3,737.7" fill="#c8c8c8" stroke="#3e3e3e" stroke-width="0.35"/>
<polygon points="420.5,739.8 424.8,739.8 422.7,743.7" fill="#8c8c8c" stroke="#3e3e3e" stroke-width="0.35"/>
<polygon points="428.9,753.6 433.2,753.6 431.0,749.7" fill="#9c9c9c" stroke="#3e3e3e" stroke-width="0.35"/>
<polygon points="506.0,735.5 510.3,735.5 508.1,731.7" fill="#bababa" stroke="#3e3e3e" stroke-width="0.35"/>
<polygon points="446.5,731.9 450.8,731.9 448.6,728.1" fill="#c8c8c8" stroke="#3e3e3e" stroke-width="0.35"/>
<polygon points="500.3,730.5 504.6,730.5 502.5,726.6" fill="#8c8c8c" stroke="#3e3e3e" stroke-width="0.35"/>
<polygon points="428.2,731.0 432.5,731.0 430.4,734.9" fill="#c8c8c8" stroke="#3e3e3e" stroke-width="0.35"/>
<polygon points="494.8,732.5 499.1,732.5 497.0,728.6" fill="#c8c8c8" stroke="#3e3e3e" stroke-width="0.35"/>
<polygon points="386.7,747.7 391.0,747.7 388.9,751.5" fill="#8c8c8c" stroke="#3e3e3e" stroke-width="0.35"/>
<polygon points="465.8,754.3 470.1,754.3 468.0,758.2" fill="#bababa" stroke="#3e3e3e" stroke-width="0.35"/>
<polygon points="445.0,735.5 449.3,735.5 447.1,731.7" fill="#bababa" stroke="#3e3e3e" stroke-width="0.35"/>
<polygon points="431.0,737.8 435.3,737.8 433.2,741.6" fill="#6c6c6c" stroke="#3e3e3e" stroke-width="0.35"/>
<polygon points="506.2,751.3 510.5,751.3 508.3,747.4" fill="#7c7c7c" stroke="#3e3e3e" stroke-width="0.35"/>
<polygon points="451.1,736.6 455.4,736.6 453.2,740.5" fill="#9c9c9c" stroke="#3e3e3e" stroke-width="0.35"/>
<polygon points="450.3,749.3 454.6,749.3 452.4,753.2" fill="#9c9c9c" stroke="#3e3e3e" stroke-width="0.35"/>
<polygon points="494.1,735.4 498.4,735.4 496.2,739.3" fill="#7c7c7c" stroke="#3e3e3e" stroke-width="0.35"/>
<polygon points="480.3,736.3 484.6,736.3 482.5,740.2" fill="#bababa" stroke="#3e3e3e" stroke-width="0.35"/>
<polygon points="376.1,746.3 380.4,746.3 378.2,742.4" fill="#9c9c9c" stroke="#3e3e3e" stroke-width="0.35"/>
<polygon points="456.8,749.5 461.1,749.5 459.0,745.6" fill="#acacac" stroke="#3e3e3e" stroke-width="0.35"/>
<polygon points="498.9,748.1 503.2,748.1 501.0,744.3" fill="#8c8c8c" stroke="#3e3e3e" stroke-width="0.35"/>
<polygon points="412.8,741.3 417.1,741.3 415.0,737.5" fill="#8c8c8c" stroke="#3e3e3e" stroke-width="0.35"/>
<polygon points="402.3,738.5 406.6,738.5 404.5,734.6" fill="#c8c8c8" stroke="#3e3e3e" stroke-width="0.35"/>
<polygon points="367.6,750.6 371.9,750.6 369.8,746.8" fill="#c8c8c8" stroke="#3e3e3e" stroke-width="0.35"/>
<polygon points="462.0,735.4 466.3,735.4 464.2,731.5" fill="#6c6c6c" stroke="#3e3e3e" stroke-width="0.35"/>
<polygon points="421.8,742.1 426.1,742.1 424.0,738.2" fill="#bababa" stroke="#3e3e3e" stroke-width="0.35"/>
<polygon points="448.5,739.6 452.8,739.6 450.7,743.4" fill="#9c9c9c" stroke="#3e3e3e" stroke-width="0.35"/>
<polygon points="379.3,745.2 383.6,745.2 381.5,749.1" fill="#7c7c7c" stroke="#3e3e3e" stroke-width="0.35"/>
<polygon points="401.3,743.7 405.6,743.7 403.5,739.9" fill="#6c6c6c" stroke="#3e3e3e" stroke-width="0.35"/>
<polygon points="456.8,744.7 461.1,744.7 458.9,748.6" fill="#6c6c6c" stroke="#3e3e3e" stroke-width="0.35"/>
<polygon points="433.0,746.2 437.3,746.2 435.2,742.3" fill="#7c7c7c" stroke="#3e3e3e" stroke-width="0.35"/>
<polygon points="485.6,753.4 489.9,753.4 487.8,757.3" fill="#8c8c8c" stroke="#3e3e3e" stroke-width="0.35"/>
<polygon points="461.2,745.4 465.5,745.4 463.4,749.3" fill="#bababa" stroke="#3e3e3e" stroke-width="0.35"/>
<polygon points="375.7,739.3 380.0,739.3 377.9,735.4" fill="#9c9c9c" stroke="#3e3e3e" stroke-width="0.35"/>
<polygon points="468.3,731.5 472.6,731.5 470.5,727.6" fill="#c8c8c8" stroke="#3e3e3e" stroke-width="0.35"/>
<polygon points="371.4,749.8 375.7,749.8 373.5,753.6" fill="#7c7c7c" stroke="#3e3e3e" stroke-width="0.35"/>
<polygon points="487.3,734.2 491.6,734.2 489.5,738.1" fill="#6c6c6c" stroke="#3e3e3e" stroke-width="0.35"/>
<polygon points="505.0,732.8 509.3,732.8 507.2,736.7" fill="#acacac" stroke="#3e3e3e" stroke-width="0.35"/>
<polygon points="377.4,739.4 381.7,739.4 379.5,743.3" fill="#6c6c6c" stroke="#3e3e3e" stroke-width="0.35"/>
<polygon points="459.5,746.9 463.8,746.9 461.6,750.7" fill="#bababa" stroke="#3e3e3e" stroke-width="0.35"/>
<polygon points="415.5,752.8 419.8,752.8 417.6,748.9" fill="#acacac" stroke="#3e3e3e" stroke-width="0.35"/>
<polygon points="474.4,733.8 478.7,733.8 476.5,737.7" fill="#6c6c6c" stroke="#3e3e3e" stroke-width="0.35"/>
<polygon points="463.9,750.9 468.2,750.9 466.1,754.7" fill="#c8c8c8" stroke="#3e3e3e" stroke-width="0.35"/>
<polygon points="366.3,744.9 370.6,744.9 368.4,741.0" fill="#c8c8c8" stroke="#3e3e3e" stroke-width="0.35"/>
<polygon points="389.4,746.5 393.7,746.5 391.5,750.3" fill="#9c9c9c" stroke="#3e3e3e" stroke-width="0.35"/>
<polygon points="456.8,746.3 461.1,746.3 458.9,750.2" fill="#7c7c7c" stroke="#3e3e3e" stroke-width="0.35"/>
<polygon points="384.4,749.7 388.7,749.7 386.5,753.6" fill="#bababa" stroke="#3e3e3e" stroke-width="0.35"/>
<polygon points="430.4,754.9 434.7,754.9 432.6,758.8" fill="#acacac" stroke="#3e3e3e" stroke-width="0.35"/>
<polygon points="435.0,731.8 439.3,731.8 437.2,735.6" fill="#8c8c8c" stroke="#3e3e3e" stroke-width="0.35"/>
<polygon points="431.7,732.1 436.0,732.1 433.9,736.0" fill="#9c9c9c" stroke="#3e3e3e" stroke-width="0.35"/>
<polygon points="380.1,742.5 384.4,742.5 382.3,746.4" fill="#7c7c7c" stroke="#3e3e3e" stroke-width="0.35"/>
<polygon points="453.5,745.3 457.8,745.3 455.7,749.2" fill="#7c7c7c" stroke="#3e3e3e" stroke-width="0.35"/>
<polygon points="416.7,758.0 421.0,758.0 418.9,754.1" fill="#acacac" stroke="#3e3e3e" stroke-width="0.35"/>
<polygon points="381.0,740.6 385.3,740.6 383.2,744.5" fill="#9c9c9c" stroke="#3e3e3e" stroke-width="0.35"/>
<polygon points="476.9,741.5 481.2,741.5 479.1,737.6" fill="#8c8c8c" stroke="#3e3e3e" stroke-width="0.35"/>
<polygon points="483.3,740.7 487.6,740.7 485.5,744.6" fill="#8c8c8c" stroke="#3e3e3e" stroke-width="0.35"/>
<polygon points="392.5,752.5 396.8,752.5 394.6,756.3" fill="#c8c8c8" stroke="#3e3e3e" stroke-width="0.35"/>
<polygon points="468.1,747.5 472.4,747.5 470.3,743.6" fill="#6c6c6c" stroke="#3e3e3e" stroke-width="0.35"/>
<polygon points="429.2,749.7 433.5,749.7 431.3,753.6" fill="#bababa" stroke="#3e3e3e" stroke-width="0.35"/>
<polygon points="489.9,745.1 494.2,745.1 492.1,749.0" fill="#bababa" stroke="#3e3e3e" stroke-width="0.35"/>
<polygon points="473.3,753.3 477.6,753.3 475.4,757.2" fill="#8c8c8c" stroke="#3e3e3e" stroke-width="0.35"/>
<polygon points="370.8,740.8 375.1,740.8 372.9,744.7" fill="#7c7c7c" stroke="#3e3e3e" stroke-width="0.35"/>
<polygon points="506.0,753.2 510.3,753.2 508.1,757.1" fill="#6c6c6c" stroke="#3e3e3e" stroke-width="0.35"/>
<polygon points="378.9,736.2 383.2,736.2 381.1,740.1" fill="#9c9c9c" stroke="#3e3e3e" stroke-width="0.35"/>
<polygon points="450.8,752.8 455.1,752.8 452.9,756.6" fill="#8c8c8c" stroke="#3e3e3e" stroke-width="0.35"/>
<polygon points="366.6,745.0 370.9,745.0 368.7,748.9" fill="#7c7c7c" stroke="#3e3e3e" stroke-width="0.35"/>
<polygon points="371.0,742.7 375.3,742.7 373.1,746.6" fill="#9c9c9c" stroke="#3e3e3e" stroke-width="0.35"/>
<polygon points="443.7,751.2 448.0,751.2 445.9,747.3" fill="#bababa" stroke="#3e3e3e" stroke-width="0.35"/>
<polygon points="499.3,742.1 503.6,742.1 501.4,738.2" fill="#bababa" stroke="#3e3e3e" stroke-width="0.35"/>
<polygon points="366.1,743.5 370.4,743.5 368.3,739.6" fill="#6c6c6c" stroke="#3e3e3e" stroke-width="0.35"/>
<polygon points="507.4,751.0 511.7,751.0 509.5,747.2" fill="#acacac" stroke="#3e3e3e" stroke-width="0.35"/>
<polygon points="413.9,744.3 418.2,744.3 416.1,740.4" fill="#bababa" stroke="#3e3e3e" stroke-width="0.35"/>
<polygon points="391.8,752.8 396.1,752.8 393.9,756.6" fill="#9c9c9c" stroke="#3e3e3e" stroke-width="0.35"/>
<polygon points="445.4,740.5 449.7,740.5 447.5,736.6" fill="#6c6c6c" stroke="#3e3e3e" stroke-width="0.35"/>
<polygon points="373.6,747.1 377.9,747.1 375.7,751.0" fill="#8c8c8c" stroke="#3e3e3e" stroke-width="0.35"/>
<polygon points="499.8,741.3 504.1,741.3 501.9,737.5" fill="#acacac" stroke="#3e3e3e" stroke-width="0.35"/>
<polygon points="425.8,736.8 430.1,736.8 428.0,740.7" fill="#8c8c8c" stroke="#3e3e3e" stroke-width="0.35"/>
<polygon points="372.4,750.2 376.7,750.2 374.6,754.1" fill="#c8c8c8" stroke="#3e3e3e" stroke-width="0.35"/>
<polygon points="486.5,756.0 490.8,756.0 488.6,752.2" fill="#c8c8c8" stroke="#3e3e3e" stroke-width="0.35"/>
<polygon points="447.2,753.2 451.5,753.2 449.3,757.0" fill="#bababa" stroke="#3e3e3e" stroke-width="0.35"/>
<polygon points="472.3,755.9 476.6,755.9 474.4,752.1" fill="#8c8c8c" stroke="#3e3e3e" stroke-width="0.35"/>
<polygon points="388.0,741.3 392.3,741.3 390.2,737.5" fill="#7c7c7c" stroke="#3e3e3e" stroke-width="0.35"/>
<polygon points="366.7,758.0 371.0,758.0 368.9,754.1" fill="#7c7c7c" stroke="#3e3e3e" stroke-width="0.35"/>
<polygon points="473.3,749.3 477.6,749.3 475.5,745.4" fill="#bababa" stroke="#3e3e3e" stroke-width="0.35"/>
<polygon points="395.8,734.1 400.1,734.1 397.9,737.9" fill="#c8c8c8" stroke="#3e3e3e" stroke-width="0.35"/>
<polygon points="371.5,750.9 375.8,750.9 373.6,754.8" fill="#c8c8c8" stroke="#3e3e3e" stroke-width="0.35"/>
<polygon points="436.2,739.0 440.5,739.0 438.4,742.9" fill="#7c7c7c" stroke="#3e3e3e" stroke-width="0.35"/>
<polygon points="404.2,751.7 408.5,751.7 406.4,755.6" fill="#6c6c6c" stroke="#3e3e3e" stroke-width="0.35"/>
<polygon points="375.5,752.5 379.8,752.5 377.6,756.3" fill="#acacac" stroke="#3e3e3e" stroke-width="0.35"/>
<polygon points="380.1,742.3 384.4,742.3 382.2,738.4" fill="#7c7c7c" stroke="#3e3e3e" stroke-width="0.35"/>
<polygon points="470.2,752.6 474.5,752.6 472.3,748.7" fill="#9c9c9c" stroke="#3e3e3e" stroke-width="0.35"/>
<polygon points="456.3,743.0 460.6,743.0 458.4,739.1" fill="#6c6c6c" stroke="#3e3e3e" stroke-width="0.35"/>
<polygon points="419.0,734.2 423.3,734.2 421.2,730.4" fill="#c8c8c8" stroke="#3e3e3e" stroke-width="0.35"/>
<polygon points="460.7,745.7 465.0,745.7 462.8,741.8" fill="#bababa" stroke="#3e3e3e" stroke-width="0.35"/>
<polygon points="454.2,753.7 458.5,753.7 456.3,749.8" fill="#6c6c6c" stroke="#3e3e3e" stroke-width="0.35"/>
<polygon points="379.2,749.2 383.5,749.2 381.4,753.1" fill="#6c6c6c" stroke="#3e3e3e" stroke-width="0.35"/>
<polygon points="380.7,753.8 385.0,753.8 382.8,757.7" fill="#bababa" stroke="#3e3e3e" stroke-width="0.35"/>
<polygon points="462.4,731.9 466.7,731.9 464.5,728.0" fill="#acacac" stroke="#3e3e3e" stroke-width="0.35"/>
<polygon points="448.4,737.1 452.7,737.1 450.5,733.2" fill="#bababa" stroke="#3e3e3e" stroke-width="0.35"/>
<polygon points="505.7,747.2 510.0,747.2 507.8,751.1" fill="#7c7c7c" stroke="#3e3e3e" stroke-width="0.35"/>
<polygon points="398.0,746.3 402.3,746.3 400.1,742.4" fill="#c8c8c8" stroke="#3e3e3e" stroke-width="0.35"/>
<polygon points="495.1,751.9 499.4,751.9 497.2,755.8" fill="#9c9c9c" stroke="#3e3e3e" stroke-width="0.35"/>
<polygon points="375.7,744.7 380.0,744.7 377.9,740.9" fill="#6c6c6c" stroke="#3e3e3e" stroke-width="0.35"/>
<polygon points="376.7,744.0 381.0,744.0 378.9,740.2" fill="#acacac" stroke="#3e3e3e" stroke-width="0.35"/>
<polygon points="399.3,752.8 403.6,752.8 401.4,749.0" fill="#6c6c6c" stroke="#3e3e3e" stroke-width="0.35"/>
<polygon points="380.7,742.6 385.0,742.6 382.9,746.5" fill="#7c7c7c" stroke="#3e3e3e" stroke-width="0.35"/>
<polygon points="469.0,748.2 473.3,748.2 471.2,752.0" fill="#7c7c7c" stroke="#3e3e3e" stroke-width="0.35"/>
<polygon points="398.9,750.6 403.2,750.6 401.1,754.4" fill="#c8c8c8" stroke="#3e3e3e" stroke-width="0.35"/>
<polygon points="411.1,737.0 415.4,737.0 413.3,733.1" fill="#acacac" stroke="#3e3e3e" stroke-width="0.35"/>
<polygon points="394.7,740.7 399.0,740.7 396.9,744.6" fill="#8c8c8c" stroke="#3e3e3e" stroke-width="0.35"/>
<polygon points="435.1,753.2 439.4,753.2 437.3,757.1" fill="#c8c8c8" stroke="#3e3e3e" stroke-width="0.35"/>
<polygon points="463.6,736.4 467.9,736.4 465.7,740.3" fill="#6c6c6c" stroke="#3e3e3e" stroke-width="0.35"/>
<polygon points="415.7,735.4 420.0,735.4 417.8,731.5" fill="#c8c8c8" stroke="#3e3e3e" stroke-width="0.35"/>
<polygon points="382.7,742.0 387.0,742.0 384.8,738.2" fill="#9c9c9c" stroke="#3e3e3e" stroke-width="0.35"/>
<polygon points="447.7,730.0 452.0,730.0 449.9,733.8" fill="#bababa" stroke="#3e3e3e" stroke-width="0.35"/>
<polygon points="434.3,730.6 438.6,730.6 436.4,734.5" fill="#acacac" stroke="#3e3e3e" stroke-width="0.35"/>
<polygon points="479.3,748.3 483.6,748.3 481.4,752.1" fill="#9c9c9c" stroke="#3e3e3e" stroke-width="0.35"/>
<polygon points="472.0,753.8 476.3,753.8 474.1,749.9" fill="#acacac" stroke="#3e3e3e" stroke-width="0.35"/>
<polygon points="471.8,748.5 476.1,748.5 473.9,752.4" fill="#9c9c9c" stroke="#3e3e3e" stroke-width="0.35"/>
<polygon points="366.0,746.8 370.3,746.8 368.1,750.7" fill="#8c8c8c" stroke="#3e3e3e" stroke-width="0.35"/>
<polygon points="453.9,729.8 458.2,729.8 456.1,733.7" fill="#bababa" stroke="#3e3e3e" stroke-width="0.35"/>
<polygon points="435.1,744.3 439.4,744.3 437.2,748.2" fill="#9c9c9c" stroke="#3e3e3e" stroke-width="0.35"/>
<polygon points="448.1,756.9 452.4,756.9 450.2,753.0" fill="#bababa" stroke="#3e3e3e" stroke-width="0.35"/>
<polygon points="440.4,740.3 444.7,740.3 442.6,736.4" fill="#8c8c8c" stroke="#3e3e3e" stroke-width="0.35"/>
<polygon points="443.9,751.9 448.2,751.9 446.0,748.0" fill="#c8c8c8" stroke="#3e3e3e" stroke-width="0.35"/>
<polygon points="472.4,755.5 476.7,755.5 474.5,751.7" fill="#7c7c7c" stroke="#3e3e3e" stroke-width="0.35"/>
<polygon points="468.6,742.4 472.9,742.4 470.7,738.5" fill="#6c6c6c" stroke="#3e3e3e" stroke-width="0.35"/>
<polygon points="493.9,730.3 498.2,730.3 496.0,734.2" fill="#c8c8c8" stroke="#3e3e3e" stroke-width="0.35"/>
<polygon points="491.4,747.0 495.7,747.0 493.6,750.9" fill="#c8c8c8" stroke="#3e3e3e" stroke-width="0.35"/>
<polygon points="385.2,754.7 389.5,754.7 387.4,758.5" fill="#acacac" stroke="#3e3e3e" stroke-width="0.35"/>
<polygon points="504.0,735.6 508.3,735.6 506.2,731.7" fill="#7c7c7c" stroke="#3e3e3e" stroke-width="0.35"/>
<polygon points="425.2,741.9 429.5,741.9 427.4,738.0" fill="#c8c8c8" stroke="#3e3e3e" stroke-width="0.35"/>
<polygon points="393.1,738.4 397.4,738.4 395.2,734.6" fill="#bababa" stroke="#3e3e3e" stroke-width="0.35"/>
<polygon points="487.1,746.6 491.4,746.6 489.3,750.4" fill="#7c7c7c" stroke="#3e3e3e" stroke-width="0.35"/>
<polygon points="429.0,730.9 433.3,730.9 431.2,727.0" fill="#bababa" stroke="#3e3e3e" stroke-width="0.35"/>
<polygon points="503.4,752.7 507.7,752.7 505.6,756.5" fill="#c8c8c8" stroke="#3e3e3e" stroke-width="0.35"/>
<polygon points="374.5,743.3 378.8,743.3 376.6,747.1" fill="#8c8c8c" stroke="#3e3e3e" stroke-width="0.35"/>
<polygon points="374.4,758.7 378.7,758.7 376.6,754.8" fill="#6c6c6c" stroke="#3e3e3e" stroke-width="0.35"/>
<polygon points="478.1,731.5 482.4,731.5 480.3,735.4" fill="#9c9c9c" stroke="#3e3e3e" stroke-width="0.35"/>
<polygon points="410.3,753.4 414.6,753.4 412.4,749.5" fill="#9c9c9c" stroke="#3e3e3e" stroke-width="0.35"/>
<polygon points="413.7,754.0 418.0,754.0 415.9,750.1" fill="#acacac" stroke="#3e3e3e" stroke-width="0.35"/>
<polygon points="469.8,758.2 474.1,758.2 472.0,754.3" fill="#bababa" stroke="#3e3e3e" stroke-width="0.35"/>
<polygon points="505.1,742.3 509.4,742.3 507.3,746.2" fill="#acacac" stroke="#3e3e3e" stroke-width="0.35"/>
<polygon points="503.1,739.9 507.4,739.9 505.2,736.0" fill="#7c7c7c" stroke="#3e3e3e" stroke-width="0.35"/>
<polygon points="424.4,758.8 428.7,758.8 426.6,755.0" fill="#acacac" stroke="#3e3e3e" stroke-width="0.35"/>
<polygon points="389.0,744.0 393.3,744.0 391.2,747.8" fill="#6c6c6c" stroke="#3e3e3e" stroke-width="0.35"/>
<polygon points="447.4,746.4 451.7,746.4 449.6,742.5" fill="#8c8c8c" stroke="#3e3e3e" stroke-width="0.35"/>
<polygon points="366.2,746.9 370.5,746.9 368.4,750.8" fill="#7c7c7c" stroke="#3e3e3e" stroke-width="0.35"/>
<polygon points="439.1,738.8 443.4,738.8 441.2,742.6" fill="#c8c8c8" stroke="#3e3e3e" stroke-width="0.35"/>
<polygon points="399.0,758.4 403.3,758.4 401.2,754.5" fill="#c8c8c8" stroke="#3e3e3e" stroke-width="0.35"/>
<polygon points="430.8,732.9 435.1,732.9 433.0,736.7" fill="#bababa" stroke="#3e3e3e" stroke-width="0.35"/>
<polygon points="459.0,747.5 463.3,747.5 461.1,743.6" fill="#c8c8c8" stroke="#3e3e3e" stroke-width="0.35"/>
<polygon points="447.9,742.7 452.2,742.7 450.0,738.8" fill="#9c9c9c" stroke="#3e3e3e" stroke-width="0.35"/>
<polygon points="374.1,752.2 378.4,752.2 376.2,756.1" fill="#acacac" stroke="#3e3e3e" stroke-width="0.35"/>
<polygon points="424.9,755.5 429.2,755.5 427.1,751.6" fill="#9c9c9c" stroke="#3e3e3e" stroke-width="0.35"/>
<polygon points="452.3,751.5 456.6,751.5 454.5,755.4" fill="#9c9c9c" stroke="#3e3e3e" stroke-width="0.35"/>
<polygon points="456.0,747.3 460.3,747.3 458.2,743.4" fill="#acacac" stroke="#3e3e3e" stroke-width="0.35"/>
<polygon points="463.3,739.1 467.6,739.1 465.5,742.9" fill="#6c6c6c" stroke="#3e3e3e" stroke-width="0.35"/>
<polygon points="458.4,755.5 462.7,755.5 460.5,751.6" fill="#9c9c9c" stroke="#3e3e3e" stroke-width="0.35"/>
<polygon points="454.1,756.9 458.4,756.9 456.3,753.1" fill="#bababa" stroke="#3e3e3e" stroke-width="0.35"/>
<polygon points="491.0,736.2 495.3,736.2 493.1,740.0" fill="#8c8c8c" stroke="#3e3e3e" stroke-width="0.35"/>
<polygon points="420.4,736.8 424.7,736.8 422.6,732.9" fill="#c8c8c8" stroke="#3e3e3e" stroke-width="0.35"/>
<polygon points="412.4,732.5 416.7,732.5 414.5,728.6" fill="#7c7c7c" stroke="#3e3e3e" stroke-width="0.35"/>
<polygon points="378.8,757.4 383.1,757.4 380.9,753.5" fill="#bababa" stroke="#3e3e3e" stroke-width="0.35"/>
<polygon points="430.3,749.7 434.6,749.7 432.5,745.9" fill="#acacac" stroke="#3e3e3e" stroke-width="0.35"/>
<polygon points="477.4,740.1 481.7,740.1 479.6,736.2" fill="#8c8c8c" stroke="#3e3e3e" stroke-width="0.35"/>
<polygon points="456.2,738.9 460.5,738.9 458.4,742.7" fill="#6c6c6c" stroke="#3e3e3e" stroke-width="0.35"/>
<polygon points="430.4,736.9 434.7,736.9 432.6,740.8" fill="#7c7c7c" stroke="#3e3e3e" stroke-width="0.35"/>
<polygon points="379.2,758.9 383.5,758.9 381.3,755.0" fill="#acacac" stroke="#3e3e3e" stroke-width="0.35"/>
<polygon points="507.7,748.9 512.0,748.9 509.9,745.0" fill="#9c9c9c" stroke="#3e3e3e" stroke-width="0.35"/>
<polygon points="480.4,747.5 484.7,747.5 482.5,743.6" fill="#9c9c9c" stroke="#3e3e3e" stroke-width="0.35"/>
<polygon points="412.3,749.4 416.6,749.4 414.5,745.5" fill="#6c6c6c" stroke="#3e3e3e" stroke-width="0.35"/>
<polygon points="483.6,750.2 487.9,750.2 485.7,754.1" fill="#6c6c6c" stroke="#3e3e3e" stroke-width="0.35"/>
<polygon points="407.6,745.2 411.9,745.2 409.7,749.0" fill="#c8c8c8" stroke="#3e3e3e" stroke-width="0.35"/>
<polygon points="470.4,738.7 474.7,738.7 472.6,742.5" fill="#7c7c7c" stroke="#3e3e3e" stroke-width="0.35"/>
<polygon points="424.3,748.5 428.6,748.5 426.4,744.6" fill="#9c9c9c" stroke="#3e3e3e" stroke-width="0.35"/>
<polygon points="437.1,733.6 441.4,733.6 439.3,737.5" fill="#c8c8c8" stroke="#3e3e3e" stroke-width="0.35"/>
<polygon points="453.9,736.5 458.2,736.5 456.0,732.6" fill="#bababa" stroke="#3e3e3e" stroke-width="0.35"/>
<polygon points="420.5,746.5 424.8,746.5 422.7,742.6" fill="#8c8c8c" stroke="#3e3e3e" stroke-width="0.35"/>
<polygon points="436.0,750.4 440.3,750.4 438.2,746.5" fill="#9c9c9c" stroke="#3e3e3e" stroke-width="0.35"/>
<polygon points="378.5,740.7 382.8,740.7 380.7,736.8" fill="#7c7c7c" stroke="#3e3e3e" stroke-width="0.35"/>
<polygon points="487.4,744.1 491.7,744.1 489.6,740.2" fill="#9c9c9c" stroke="#3e3e3e" stroke-width="0.35"/>
<polygon points="371.6,752.5 375.9,752.5 373.8,756.3" fill="#7c7c7c" stroke="#3e3e3e" stroke-width="0.35"/>
<polygon points="420.1,750.6 424.4,750.6 422.2,746.8" fill="#9c9c9c" stroke="#3e3e3e" stroke-width="0.35"/>
<polygon points="368.5,747.3 372.8,747.3 370.7,751.1" fill="#6c6c6c" stroke="#3e3e3e" stroke-width="0.35"/>
<polygon points="385.7,750.4 390.0,750.4 387.8,746.6" fill="#acacac" stroke="#3e3e3e" stroke-width="0.35"/>
<polygon points="368.7,736.4 373.0,736.4 370.8,740.3" fill="#9c9c9c" stroke="#3e3e3e" stroke-width="0.35"/>
<polygon points="454.4,732.8 458.7,732.8 456.5,728.9" fill="#6c6c6c" stroke="#3e3e3e" stroke-width="0.35"/>
<polygon points="505.9,754.0 510.2,754.0 508.1,757.9" fill="#7c7c7c" stroke="#3e3e3e" stroke-width="0.35"/>
<polygon points="447.1,752.5 451.4,752.5 449.2,748.6" fill="#c8c8c8" stroke="#3e3e3e" stroke-width="0.35"/>
<polygon points="455.0,758.4 459.3,758.4 457.1,754.5" fill="#9c9c9c" stroke="#3e3e3e" stroke-width="0.35"/>
<polygon points="395.8,750.4 400.1,750.4 398.0,746.5" fill="#7c7c7c" stroke="#3e3e3e" stroke-width="0.35"/>
<polygon points="500.1,737.8 504.4,737.8 502.3,733.9" fill="#8c8c8c" stroke="#3e3e3e" stroke-width="0.35"/>
<polygon points="492.7,748.5 497.0,748.5 494.8,744.7" fill="#6c6c6c" stroke="#3e3e3e" stroke-width="0.35"/>
<polygon points="444.1,747.6 448.4,747.6 446.2,751.5" fill="#8c8c8c" stroke="#3e3e3e" stroke-width="0.35"/>
<polygon points="371.2,748.3 375.5,748.3 373.3,744.4" fill="#7c7c7c" stroke="#3e3e3e" stroke-width="0.35"/>
<polygon points="501.1,751.7 505.4,751.7 503.3,747.9" fill="#8c8c8c" stroke="#3e3e3e" stroke-width="0.35"/>
<polygon points="435.0,747.6 439.3,747.6 437.1,751.5" fill="#acacac" stroke="#3e3e3e" stroke-width="0.35"/>
<polygon points="489.8,729.2 494.1,729.2 492.0,733.0" fill="#9c9c9c" stroke="#3e3e3e" stroke-width="0.35"/>
<polygon points="468.0,736.1 472.3,736.1 470.1,739.9" fill="#7c7c7c" stroke="#3e3e3e" stroke-width="0.35"/>
<polygon points="507.7,737.1 512.0,737.1 509.8,741.0" fill="#bababa" stroke="#3e3e3e" stroke-width="0.35"/>
<polygon points="397.9,737.7 402.2,737.7 400.1,733.8" fill="#c8c8c8" stroke="#3e3e3e" stroke-width="0.35"/>
<polygon points="472.6,737.6 476.9,737.6 474.8,741.5" fill="#8c8c8c" stroke="#3e3e3e" stroke-width="0.35"/>
<polygon points="492.8,729.1 497.1,729.1 494.9,733.0" fill="#c8c8c8" stroke="#3e3e3e" stroke-width="0.35"/>
<polygon points="371.8,737.3 376.1,737.3 374.0,741.2" fill="#c8c8c8" stroke="#3e3e3e" stroke-width="0.35"/>
<polygon points="486.3,747.1 490.6,747.1 488.4,751.0" fill="#c8c8c8" stroke="#3e3e3e" stroke-width="0.35"/>
<polygon points="403.6,746.0 407.9,746.0 405.7,742.2" fill="#9c9c9c" stroke="#3e3e3e" stroke-width="0.35"/>
<polygon points="390.5,752.7 394.8,752.7 392.7,756.6" fill="#7c7c7c" stroke="#3e3e3e" stroke-width="0.35"/>
<polygon points="468.9,756.7 473.2,756.7 471.1,752.9" fill="#c8c8c8" stroke="#3e3e3e" stroke-width="0.35"/>
<polygon points="483.3,739.5 487.6,739.5 485.4,743.3" fill="#bababa" stroke="#3e3e3e" stroke-width="0.35"/>
<polygon points="378.0,746.4 382.3,746.4 380.2,742.5" fill="#bababa" stroke="#3e3e3e" stroke-width="0.35"/>
<polygon points="477.1,755.4 481.4,755.4 479.3,751.5" fill="#8c8c8c" stroke="#3e3e3e" stroke-width="0.35"/>
<polygon points="464.4,754.2 468.7,754.2 466.5,750.3" fill="#7c7c7c" stroke="#3e3e3e" stroke-width="0.35"/>
<polygon points="384.2,741.9 388.5,741.9 386.4,745.7" fill="#9c9c9c" stroke="#3e3e3e" stroke-width="0.35"/>
<polygon points="474.0,750.2 478.3,750.2 476.2,754.1" fill="#acacac" stroke="#3e3e3e" stroke-width="0.35"/>
<polygon points="506.6,738.8 510.9,738.8 508.8,742.7" fill="#9c9c9c" stroke="#3e3e3e" stroke-width="0.35"/>
<polygon points="498.9,752.0 503.2,752.0 501.1,748.2" fill="#bababa" stroke="#3e3e3e" stroke-width="0.35"/>
<polygon points="462.5,741.7 466.8,741.7 464.6,737.8" fill="#c8c8c8" stroke="#3e3e3e" stroke-width="0.35"/>
<polygon points="431.4,728.4 435.7,728.4 433.6,732.3" fill="#acacac" stroke="#3e3e3e" stroke-width="0.35"/>
<polygon points="402.7,734.4 407.0,734.4 404.8,738.2" fill="#bababa" stroke="#3e3e3e" stroke-width="0.35"/>
<polygon points="365.5,737.0 369.8,737.0 367.6,740.8" fill="#9c9c9c" stroke="#3e3e3e" stroke-width="0.35"/>
<polygon points="454.1,735.2 458.4,735.2 456.3,731.3" fill="#8c8c8c" stroke="#3e3e3e" stroke-width="0.35"/>
<polygon points="437.8,742.7 442.1,742.7 439.9,746.6" fill="#bababa" stroke="#3e3e3e" stroke-width="0.35"/>
<polygon points="492.5,745.5 496.8,745.5 494.7,749.4" fill="#bababa" stroke="#3e3e3e" stroke-width="0.35"/>
<polygon points="410.4,757.1 414.7,757.1 412.5,753.2" fill="#c8c8c8" stroke="#3e3e3e" stroke-width="0.35"/>
<polygon points="440.2,754.7 444.5,754.7 442.4,758.5" fill="#7c7c7c" stroke="#3e3e3e" stroke-width="0.35"/>
<polygon points="456.5,752.6 460.8,752.6 458.7,748.8" fill="#8c8c8c" stroke="#3e3e3e" stroke-width="0.35"/>
<polygon points="404.2,752.9 408.5,752.9 406.3,749.0" fill="#8c8c8c" stroke="#3e3e3e" stroke-width="0.35"/>
<polygon points="446.4,745.6 450.7,745.6 448.6,741.7" fill="#c8c8c8" stroke="#3e3e3e" stroke-width="0.35"/>
<polygon points="414.6,742.0 418.9,742.0 416.8,738.1" fill="#7c7c7c" stroke="#3e3e3e" stroke-width="0.35"/>
<polygon points="427.1,745.7 431.4,745.7 429.3,741.8" fill="#acacac" stroke="#3e3e3e" stroke-width="0.35"/>
<polygon points="447.8,752.7 452.1,752.7 450.0,756.6" fill="#7c7c7c" stroke="#3e3e3e" stroke-width="0.35"/>
<polygon points="482.0,754.4 486.3,754.4 484.2,750.5" fill="#6c6c6c" stroke="#3e3e3e" stroke-width="0.35"/>
<polygon points="459.1,743.1 463.4,743.1 461.2,747.0" fill="#bababa" stroke="#3e3e3e" stroke-width="0.35"/>
<polygon points="499.4,732.6 503.7,732.6 501.6,736.5" fill="#6c6c6c" stroke="#3e3e3e" stroke-width="0.35"/>
<polygon points="499.8,746.2 504.1,746.2 501.9,742.3" fill="#6c6c6c" stroke="#3e3e3e" stroke-width="0.35"/>
<polygon points="394.4,735.3 398.7,735.3 396.6,739.2" fill="#8c8c8c" stroke="#3e3e3e" stroke-width="0.35"/>
<polygon points="416.9,733.0 421.2,733.0 419.0,729.1" fill="#8c8c8c" stroke="#3e3e3e" stroke-width="0.35"/>
<polygon points="416.2,736.6 420.5,736.6 418.3,740.5" fill="#6c6c6c" stroke="#3e3e3e" stroke-width="0.35"/>
<polygon points="450.4,738.4 454.7,738.4 452.5,734.5" fill="#c8c8c8" stroke="#3e3e3e" stroke-width="0.35"/>
<polygon points="488.3,740.1 492.6,740.1 490.5,736.3" fill="#7c7c7c" stroke="#3e3e3e" stroke-width="0.35"/>
<polygon points="500.8,748.9 505.1,748.9 503.0,752.8" fill="#9c9c9c" stroke="#3e3e3e" stroke-width="0.35"/>
<polygon points="467.5,755.8 471.8,755.8 469.7,751.9" fill="#6c6c6c" stroke="#3e3e3e" stroke-width="0.35"/>
<polygon points="500.3,753.5 504.6,753.5 502.4,757.4" fill="#c8c8c8" stroke="#3e3e3e" stroke-width="0.35"/>
<polygon points="418.0,732.4 422.3,732.4 420.2,728.5" fill="#7c7c7c" stroke="#3e3e3e" stroke-width="0.35"/>
<polygon points="416.4,750.4 420.7,750.4 418.6,746.5" fill="#bababa" stroke="#3e3e3e" stroke-width="0.35"/>
<polygon points="498.7,746.8 503.0,746.8 500.9,750.7" fill="#7c7c7c" stroke="#3e3e3e" stroke-width="0.35"/>
<polygon points="376.0,741.3 380.3,741.3 378.2,745.2" fill="#c8c8c8" stroke="#3e3e3e" stroke-width="0.35"/>
<polygon points="416.4,735.1 420.7,735.1 418.5,731.2" fill="#acacac" stroke="#3e3e3e" stroke-width="0.35"/>
<polygon points="478.2,731.8 482.5,731.8 480.3,728.0" fill="#9c9c9c" stroke="#3e3e3e" stroke-width="0.35"/>
<polygon points="491.6,729.4 495.9,729.4 493.7,725.6" fill="#c8c8c8" stroke="#3e3e3e" stroke-width="0.35"/>
<polygon points="467.1,749.1 471.4,749.1 469.3,745.2" fill="#6c6c6c" stroke="#3e3e3e" stroke-width="0.35"/>
<polygon points="493.3,752.8 497.6,752.8 495.5,749.0" fill="#6c6c6c" stroke="#3e3e3e" stroke-width="0.35"/>
<polygon points="386.6,758.0 390.9,758.0 388.8,754.1" fill="#bababa" stroke="#3e3e3e" stroke-width="0.35"/>
<polygon points="454.4,731.3 458.7,731.3 456.5,727.5" fill="#acacac" stroke="#3e3e3e" stroke-width="0.35"/>
<polygon points="443.3,752.6 447.6,752.6 445.5,748.8" fill="#c8c8c8" stroke="#3e3e3e" stroke-width="0.35"/>
<polygon points="429.2,731.5 433.5,731.5 431.4,735.4" fill="#7c7c7c" stroke="#3e3e3e" stroke-width="0.35"/>
<polygon points="391.2,751.4 395.5,751.4 393.4,747.6" fill="#9c9c9c" stroke="#3e3e3e" stroke-width="0.35"/>
<polygon points="387.2,739.8 391.5,739.8 389.3,743.7" fill="#acacac" stroke="#3e3e3e" stroke-width="0.35"/>
<polygon points="498.0,753.3 502.3,753.3 500.2,749.4" fill="#c8c8c8" stroke="#3e3e3e" stroke-width="0.35"/>
<polygon points="502.2,731.1 506.5,731.1 504.4,735.0" fill="#acacac" stroke="#3e3e3e" stroke-width="0.35"/>
<polygon points="402.6,738.9 406.9,738.9 404.8,742.8" fill="#bababa" stroke="#3e3e3e" stroke-width="0.35"/>
<polygon points="470.0,731.4 474.3,731.4 472.2,727.6" fill="#c8c8c8" stroke="#3e3e3e" stroke-width="0.35"/>
<polygon points="460.8,751.2 465.1,751.2 463.0,747.3" fill="#8c8c8c" stroke="#3e3e3e" stroke-width="0.35"/>
<polygon points="468.4,732.5 472.7,732.5 470.6,728.7" fill="#6c6c6c" stroke="#3e3e3e" stroke-width="0.35"/>
<polygon points="416.3,741.8 420.6,741.8 418.5,745.6" fill="#8c8c8c" stroke="#3e3e3e" stroke-width="0.35"/>
<polygon points="392.9,746.1 397.2,746.1 395.0,749.9" fill="#acacac" stroke="#3e3e3e" stroke-width="0.35"/>
<polygon points="494.7,742.6 499.0,742.6 496.8,738.8" fill="#8c8c8c" stroke="#3e3e3e" stroke-width="0.35"/>
<polygon points="468.1,745.8 472.4,745.8 470.2,749.6" fill="#9c9c9c" stroke="#3e3e3e" stroke-width="0.35"/>
<polygon points="421.0,739.7 425.3,739.7 423.2,735.8" fill="#c8c8c8" stroke="#3e3e3e" stroke-width="0.35"/>
<polygon points="394.4,743.9 398.7,743.9 396.6,747.7" fill="#8c8c8c" stroke="#3e3e3e" stroke-width="0.35"/>
<polygon points="367.9,752.0 372.2,752.0 370.1,755.8" fill="#c8c8c8" stroke="#3e3e3e" stroke-width="0.35"/>
<polygon points="478.9,734.8 483.2,734.8 481.1,730.9" fill="#bababa" stroke="#3e3e3e" stroke-width="0.35"/>
<polygon points="450.5,738.8 454.8,738.8 452.7,742.7" fill="#6c6c6c" stroke="#3e3e3e" stroke-width="0.35"/>
<polygon points="373.9,754.8 378.2,754.8 376.0,751.0" fill="#c8c8c8" stroke="#3e3e3e" stroke-width="0.35"/>
<polygon points="495.3,732.3 499.6,732.3 497.5,736.2" fill="#7c7c7c" stroke="#3e3e3e" stroke-width="0.35"/>
<polygon points="380.3,742.5 384.6,742.5 382.5,746.4" fill="#acacac" stroke="#3e3e3e" stroke-width="0.35"/>
<polygon points="443.8,749.9 448.1,749.9 446.0,753.8" fill="#9c9c9c" stroke="#3e3e3e" stroke-width="0.35"/>
<polygon points="427.3,748.5 431.6,748.5 429.4,744.7" fill="#c8c8c8" stroke="#3e3e3e" stroke-width="0.35"/>
<polygon points="429.3,747.3 433.6,747.3 431.5,751.2" fill="#bababa" stroke="#3e3e3e" stroke-width="0.35"/>
<polygon points="394.8,754.9 399.1,754.9 396.9,758.7" fill="#acacac" stroke="#3e3e3e" stroke-width="0.35"/>
<polygon points="424.1,737.8 428.4,737.8 426.3,733.9" fill="#6c6c6c" stroke="#3e3e3e" stroke-width="0.35"/>
<polygon points="483.0,746.4 487.3,746.4 485.2,750.2" fill="#bababa" stroke="#3e3e3e" stroke-width="0.35"/>
<polygon points="491.5,748.8 495.8,748.8 493.6,752.6" fill="#bababa" stroke="#3e3e3e" stroke-width="0.35"/>
<polygon points="507.7,746.5 512.0,746.5 509.8,742.7" fill="#6c6c6c" stroke="#3e3e3e" stroke-width="0.35"/>
<polygon points="491.9,729.6 496.2,729.6 494.0,725.8" fill="#7c7c7c" stroke="#3e3e3e" stroke-width="0.35"/>
<polygon points="490.2,738.3 494.5,738.3 492.3,734.5" fill="#8c8c8c" stroke="#3e3e3e" stroke-width="0.35"/>
<polygon points="387.6,751.0 391.9,751.0 389.8,754.8" fill="#c8c8c8" stroke="#3e3e3e" stroke-width="0.35"/>
<polygon points="403.4,738.1 407.7,738.1 405.6,734.2" fill="#7c7c7c" stroke="#3e3e3e" stroke-width="0.35"/>
<polygon points="382.4,747.6 386.7,747.6 384.5,743.7" fill="#6c6c6c" stroke="#3e3e3e" stroke-width="0.35"/>
<polygon points="440.2,734.4 444.5,734.4 442.3,738.3" fill="#7c7c7c" stroke="#3e3e3e" stroke-width="0.35"/>
<polygon points="495.3,750.9 499.6,750.9 497.4,754.8" fill="#acacac" stroke="#3e3e3e" stroke-width="0.35"/>
<polygon points="466.1,748.1 470.4,748.1 468.2,751.9" fill="#6c6c6c" stroke="#3e3e3e" stroke-width="0.35"/>
<polygon points="451.7,738.7 456.0,738.7 453.8,742.6" fill="#8c8c8c" stroke="#3e3e3e" stroke-width="0.35"/>
<polygon points="366.9,746.6 371.2,746.6 369.1,742.7" fill="#bababa" stroke="#3e3e3e" stroke-width="0.35"/>
<polygon points="496.5,729.3 500.8,729.3 498.7,733.2" fill="#8c8c8c" stroke="#3e3e3e" stroke-width="0.35"/>
<polygon points="399.3,752.2 403.6,752.2 401.5,748.3" fill="#acacac" stroke="#3e3e3e" stroke-width="0.35"/>
<polygon points="483.5,742.2 487.8,742.2 485.7,746.0" fill="#7c7c7c" stroke="#3e3e3e" stroke-width="0.35"/>
<polygon points="492.4,758.1 496.7,758.1 494.6,754.2" fill="#bababa" stroke="#3e3e3e" stroke-width="0.35"/>
<polygon points="409.0,746.1 413.3,746.1 411.1,750.0" fill="#acacac" stroke="#3e3e3e" stroke-width="0.35"/>
<polygon points="418.6,746.3 422.9,746.3 420.7,750.1" fill="#c8c8c8" stroke="#3e3e3e" stroke-width="0.35"/>
<polygon points="466.3,758.3 470.6,758.3 468.4,754.4" fill="#7c7c7c" stroke="#3e3e3e" stroke-width="0.35"/>
<polygon points="409.6,746.5 413.9,746.5 411.8,742.6" fill="#7c7c7c" stroke="#3e3e3e" stroke-width="0.35"/>
<polygon points="466.0,758.2 470.3,758.2 468.1,754.3" fill="#7c7c7c" stroke="#3e3e3e" stroke-width="0.35"/>
<polygon points="397.2,740.2 401.5,740.2 399.4,744.1" fill="#acacac" stroke="#3e3e3e" stroke-width="0.35"/>
<polygon points="442.9,748.6 447.2,748.6 445.1,752.5" fill="#acacac" stroke="#3e3e3e" stroke-width="0.35"/>
<polygon points="409.8,741.7 414.1,741.7 412.0,737.8" fill="#8c8c8c" stroke="#3e3e3e" stroke-width="0.35"/>
<polygon points="463.5,744.8 467.8,744.8 465.7,740.9" fill="#bababa" stroke="#3e3e3e" stroke-width="0.35"/>
<polygon points="489.3,748.1 493.6,748.1 491.4,751.9" fill="#6c6c6c" stroke="#3e3e3e" stroke-width="0.35"/>
<polygon points="467.4,752.0 471.7,752.0 469.6,755.8" fill="#bababa" stroke="#3e3e3e" stroke-width="0.35"/>
<polygon points="470.5,731.7 474.8,731.7 472.6,727.8" fill="#bababa" stroke="#3e3e3e" stroke-width="0.35"/>
<polygon points="497.3,747.9 501.6,747.9 499.5,744.0" fill="#c8c8c8" stroke="#3e3e3e" stroke-width="0.35"/>
<polygon points="465.6,742.7 469.9,742.7 467.7,738.8" fill="#acacac" stroke="#3e3e3e" stroke-width="0.35"/>
<polygon points="440.3,742.8 444.6,742.8 442.4,746.7" fill="#c8c8c8" stroke="#3e3e3e" stroke-width="0.35"/>
<polygon points="365.5,745.9 369.8,745.9 367.6,749.8" fill="#acacac" stroke="#3e3e3e" stroke-width="0.35"/>
<polygon points="437.3,749.3 441.6,749.3 439.4,745.4" fill="#c8c8c8" stroke="#3e3e3e" stroke-width="0.35"/>
<polygon points="413.2,731.8 417.5,731.8 415.4,727.9" fill="#c8c8c8" stroke="#3e3e3e" stroke-width="0.35"/>
<polygon points="420.1,747.4 424.4,747.4 422.2,751.3" fill="#bababa" stroke="#3e3e3e" stroke-width="0.35"/>
<polygon points="453.4,739.9 457.7,739.9 455.5,743.8" fill="#c8c8c8" stroke="#3e3e3e" stroke-width="0.35"/>
<polygon points="477.4,747.2 481.7,747.2 479.6,743.3" fill="#7c7c7c" stroke="#3e3e3e" stroke-width="0.35"/>
<polygon points="371.5,744.8 375.8,744.8 373.7,748.7" fill="#c8c8c8" stroke="#3e3e3e" stroke-width="0.35"/>
<polygon points="438.8,743.2 443.1,743.2 441.0,747.0" fill="#7c7c7c" stroke="#3e3e3e" stroke-width="0.35"/>
<polygon points="436.0,758.5 440.3,758.5 438.1,754.7" fill="#8c8c8c" stroke="#3e3e3e" stroke-width="0.35"/>
<polygon points="463.4,749.9 467.7,749.9 465.6,753.7" fill="#7c7c7c" stroke="#3e3e3e" stroke-width="0.35"/>
<polygon points="505.3,734.6 509.6,734.6 507.5,730.7" fill="#acacac" stroke="#3e3e3e" stroke-width="0.35"/>
<polygon points="404.2,738.5 408.5,738.5 406.4,734.7" fill="#8c8c8c" stroke="#3e3e3e" stroke-width="0.35"/>
<polygon points="430.4,739.1 434.7,739.1 432.5,742.9" fill="#6c6c6c" stroke="#3e3e3e" stroke-width="0.35"/>
<polygon points="447.4,752.5 451.7,752.5 449.5,756.4" fill="#acacac" stroke="#3e3e3e" stroke-width="0.35"/>
<polygon points="408.2,748.0 412.5,748.0 410.3,751.9" fill="#9c9c9c" stroke="#3e3e3e" stroke-width="0.35"/>
<polygon points="401.4,748.4 405.7,748.4 403.6,744.5" fill="#8c8c8c" stroke="#3e3e3e" stroke-width="0.35"/>
<polygon points="489.4,753.0 493.7,753.0 491.6,749.2" fill="#8c8c8c" stroke="#3e3e3e" stroke-width="0.35"/>
<polygon points="507.5,746.9 511.8,746.9 509.6,750.8" fill="#9c9c9c" stroke="#3e3e3e" stroke-width="0.35"/>
<polygon points="416.9,733.3 421.2,733.3 419.1,737.1" fill="#8c8c8c" stroke="#3e3e3e" stroke-width="0.35"/>
<polygon points="454.0,736.1 458.3,736.1 456.1,732.2" fill="#7c7c7c" stroke="#3e3e3e" stroke-width="0.35"/>
<polygon points="497.3,757.4 501.6,757.4 499.4,753.5" fill="#c8c8c8" stroke="#3e3e3e" stroke-width="0.35"/>
<polygon points="497.5,738.1 501.8,738.1 499.6,741.9" fill="#8c8c8c" stroke="#3e3e3e" stroke-width="0.35"/>
<polygon points="407.9,743.3 412.2,743.3 410.1,739.4" fill="#acacac" stroke="#3e3e3e" stroke-width="0.35"/>
<polygon points="463.2,739.4 467.5,739.4 465.3,735.6" fill="#bababa" stroke="#3e3e3e" stroke-width="0.35"/>
<polygon points="440.2,741.1 444.5,741.1 442.3,737.2" fill="#acacac" stroke="#3e3e3e" stroke-width="0.35"/>
<polygon points="447.9,741.8 452.2,741.8 450.1,745.7" fill="#9c9c9c" stroke="#3e3e3e" stroke-width="0.35"/>
<polygon points="398.4,743.5 402.7,743.5 400.5,747.4" fill="#6c6c6c" stroke="#3e3e3e" stroke-width="0.35"/>
<polygon points="413.3,739.6 417.6,739.6 415.4,735.8" fill="#6c6c6c" stroke="#3e3e3e" stroke-width="0.35"/>
<polygon points="405.5,737.5 409.8,737.5 407.6,741.3" fill="#8c8c8c" stroke="#3e3e3e" stroke-width="0.35"/>
<polygon points="461.0,728.9 465.3,728.9 463.2,732.8" fill="#8c8c8c" stroke="#3e3e3e" stroke-width="0.35"/>
<polygon points="459.4,727.7 463.7,727.7 461.6,731.6" fill="#c8c8c8" stroke="#3e3e3e" stroke-width="0.35"/>
<polygon points="474.0,755.1 478.3,755.1 476.2,751.2" fill="#bababa" stroke="#3e3e3e" stroke-width="0.35"/>
<polygon points="501.8,733.9 506.1,733.9 503.9,730.0" fill="#c8c8c8" stroke="#3e3e3e" stroke-width="0.35"/>
<polygon points="465.4,733.8 469.7,733.8 467.6,737.6" fill="#bababa" stroke="#3e3e3e" stroke-width="0.35"/>
<polygon points="389.2,741.7 393.5,741.7 391.4,745.6" fill="#bababa" stroke="#3e3e3e" stroke-width="0.35"/>
<polygon points="484.6,740.6 488.9,740.6 486.8,744.4" fill="#bababa" stroke="#3e3e3e" stroke-width="0.35"/>
<polygon points="365.7,746.9 370.0,746.9 367.9,750.8" fill="#c8c8c8" stroke="#3e3e3e" stroke-width="0.35"/>
<polygon points="386.8,747.7 391.1,747.7 388.9,743.9" fill="#9c9c9c" stroke="#3e3e3e" stroke-width="0.35"/>
<polygon points="488.0,743.4 492.3,743.4 490.1,739.5" fill="#6c6c6c" stroke="#3e3e3e" stroke-width="0.35"/>
<polygon points="406.9,738.6 411.2,738.6 409.1,742.5" fill="#6c6c6c" stroke="#3e3e3e" stroke-width="0.35"/>
<polygon points="396.8,741.2 401.1,741.2 399.0,737.3" fill="#c8c8c8" stroke="#3e3e3e" stroke-width="0.35"/>
<polygon points="496.1,752.0 500.4,752.0 498.2,755.9" fill="#8c8c8c" stroke="#3e3e3e" stroke-width="0.35"/>
<polygon points="456.7,754.4 461.0,754.4 458.9,758.3" fill="#c8c8c8" stroke="#3e3e3e" stroke-width="0.35"/>
<polygon points="503.1,748.5 507.4,748.5 505.3,744.6" fill="#6c6c6c" stroke="#3e3e3e" stroke-width="0.35"/>
<polygon points="452.3,753.5 456.6,753.5 454.5,757.3" fill="#c8c8c8" stroke="#3e3e3e" stroke-width="0.35"/>
<polygon points="392.1,734.0 396.4,734.0 394.3,737.9" fill="#6c6c6c" stroke="#3e3e3e" stroke-width="0.35"/>
<polygon points="367.1,753.6 371.4,753.6 369.3,757.5" fill="#9c9c9c" stroke="#3e3e3e" stroke-width="0.35"/>
<polygon points="433.2,748.6 437.5,748.6 435.3,752.5" fill="#7c7c7c" stroke="#3e3e3e" stroke-width="0.35"/>
<polygon points="504.6,747.7 508.9,747.7 506.8,751.6" fill="#8c8c8c" stroke="#3e3e3e" stroke-width="0.35"/>
<polygon points="440.4,751.9 444.7,751.9 442.5,755.8" fill="#acacac" stroke="#3e3e3e" stroke-width="0.35"/>
<polygon points="451.9,751.4 456.2,751.4 454.1,755.3" fill="#9c9c9c" stroke="#3e3e3e" stroke-width="0.35"/>
<polygon points="404.1,747.7 408.4,747.7 406.2,743.8" fill="#bababa" stroke="#3e3e3e" stroke-width="0.35"/>
<polygon points="454.6,749.5 458.9,749.5 456.7,745.6" fill="#c8c8c8" stroke="#3e3e3e" stroke-width="0.35"/>
<polygon points="471.4,746.7 475.7,746.7 473.6,742.8" fill="#c8c8c8" stroke="#3e3e3e" stroke-width="0.35"/>
<polygon points="480.0,747.7 484.3,747.7 482.1,751.6" fill="#8c8c8c" stroke="#3e3e3e" stroke-width="0.35"/>
<polygon points="456.8,753.3 461.1,753.3 458.9,749.4" fill="#6c6c6c" stroke="#3e3e3e" stroke-width="0.35"/>
<polygon points="504.7,755.6 509.0,755.6 506.9,751.8" fill="#9c9c9c" stroke="#3e3e3e" stroke-width="0.35"/>
<polygon points="461.9,738.8 466.2,738.8 464.1,742.7" fill="#acacac" stroke="#3e3e3e" stroke-width="0.35"/>
<polygon points="500.7,745.4 505.0,745.4 502.9,741.5" fill="#9c9c9c" stroke="#3e3e3e" stroke-width="0.35"/>
<polygon points="459.7,751.4 464.0,751.4 461.8,747.5" fill="#acacac" stroke="#3e3e3e" stroke-width="0.35"/>
<polygon points="458.3,744.3 462.6,744.3 460.4,740.4" fill="#9c9c9c" stroke="#3e3e3e" stroke-width="0.35"/>
<polygon points="370.4,747.2 374.7,747.2 372.6,743.3" fill="#8c8c8c" stroke="#3e3e3e" stroke-width="0.35"/>
<polygon points="377.9,742.7 382.2,742.7 380.1,738.8" fill="#c8c8c8" stroke="#3e3e3e" stroke-width="0.35"/>
<polygon points="440.4,739.9 444.7,739.9 442.6,743.8" fill="#6c6c6c" stroke="#3e3e3e" stroke-width="0.35"/>
<polygon points="473.0,746.9 477.3,746.9 475.1,743.0" fill="#acacac" stroke="#3e3e3e" stroke-width="0.35"/>
<polygon points="389.7,753.2 394.0,753.2 391.8,757.0" fill="#acacac" stroke="#3e3e3e" stroke-width="0.35"/>
<polygon points="468.2,734.0 472.5,734.0 470.3,737.9" fill="#6c6c6c" stroke="#3e3e3e" stroke-width="0.35"/>
<polygon points="504.9,750.2 509.2,750.2 507.0,754.0" fill="#8c8c8c" stroke="#3e3e3e" stroke-width="0.35"/>
<polygon points="363.9,750.7 368.2,750.7 366.1,754.6" fill="#acacac" stroke="#3e3e3e" stroke-width="0.35"/>
<polygon points="384.0,735.5 388.3,735.5 386.1,739.3" fill="#c8c8c8" stroke="#3e3e3e" stroke-width="0.35"/>
<polygon points="477.3,747.0 481.6,747.0 479.5,750.9" fill="#7c7c7c" stroke="#3e3e3e" stroke-width="0.35"/>
<polygon points="490.7,736.6 495.0,736.6 492.8,740.4" fill="#c8c8c8" stroke="#3e3e3e" stroke-width="0.35"/>
<polygon points="432.0,739.6 436.3,739.6 434.2,743.5" fill="#8c8c8c" stroke="#3e3e3e" stroke-width="0.35"/>
<polygon points="465.1,747.1 469.4,747.1 467.2,743.3" fill="#acacac" stroke="#3e3e3e" stroke-width="0.35"/>
<polygon points="426.8,739.7 431.1,739.7 429.0,743.5" fill="#8c8c8c" stroke="#3e3e3e" stroke-width="0.35"/>
<polygon points="413.8,731.0 418.1,731.0 416.0,734.9" fill="#6c6c6c" stroke="#3e3e3e" stroke-width="0.35"/>
<polygon points="425.4,741.1 429.7,741.1 427.6,745.0" fill="#c8c8c8" stroke="#3e3e3e" stroke-width="0.35"/>
<polygon points="452.2,740.5 456.5,740.5 454.4,744.4" fill="#c8c8c8" stroke="#3e3e3e" stroke-width="0.35"/>
<polygon points="420.9,740.7 425.2,740.7 423.1,736.8" fill="#acacac" stroke="#3e3e3e" stroke-width="0.35"/>
<polygon points="421.2,733.2 425.5,733.2 423.3,729.3" fill="#6c6c6c" stroke="#3e3e3e" stroke-width="0.35"/>
<polygon points="499.6,756.8 503.9,756.8 501.8,752.9" fill="#acacac" stroke="#3e3e3e" stroke-width="0.35"/>
<polygon points="380.0,758.8 384.3,758.8 382.1,755.0" fill="#6c6c6c" stroke="#3e3e3e" stroke-width="0.35"/>
<polygon points="418.5,749.6 422.8,749.6 420.7,753.5" fill="#acacac" stroke="#3e3e3e" stroke-width="0.35"/>
<polygon points="403.9,752.0 408.2,752.0 406.1,755.8" fill="#6c6c6c" stroke="#3e3e3e" stroke-width="0.35"/>
<polygon points="434.3,756.3 438.6,756.3 436.5,752.4" fill="#bababa" stroke="#3e3e3e" stroke-width="0.35"/>
<polygon points="500.2,731.4 504.5,731.4 502.3,727.5" fill="#8c8c8c" stroke="#3e3e3e" stroke-width="0.35"/>
<polygon points="507.6,752.9 511.9,752.9 509.7,749.0" fill="#9c9c9c" stroke="#3e3e3e" stroke-width="0.35"/>
<polygon points="504.9,746.8 509.2,746.8 507.0,742.9" fill="#8c8c8c" stroke="#3e3e3e" stroke-width="0.35"/>
<polygon points="424.9,737.5 429.2,737.5 427.0,741.3" fill="#8c8c8c" stroke="#3e3e3e" stroke-width="0.35"/>
<polygon points="445.9,757.5 450.2,757.5 448.1,753.6" fill="#c8c8c8" stroke="#3e3e3e" stroke-width="0.35"/>
<polygon points="387.6,753.6 391.9,753.6 389.7,749.7" fill="#8c8c8c" stroke="#3e3e3e" stroke-width="0.35"/>
<polygon points="387.8,751.7 392.1,751.7 390.0,755.6" fill="#8c8c8c" stroke="#3e3e3e" stroke-width="0.35"/>
<polygon points="414.6,738.4 418.9,738.4 416.8,734.5" fill="#9c9c9c" stroke="#3e3e3e" stroke-width="0.35"/>
<polygon points="388.7,745.6 393.0,745.6 390.9,749.5" fill="#7c7c7c" stroke="#3e3e3e" stroke-width="0.35"/>
<polygon points="373.9,751.1 378.2,751.1 376.1,755.0" fill="#acacac" stroke="#3e3e3e" stroke-width="0.35"/>
<polygon points="476.5,729.2 480.8,729.2 478.7,733.1" fill="#9c9c9c" stroke="#3e3e3e" stroke-width="0.35"/>
<polygon points="498.8,745.3 503.1,745.3 500.9,741.4" fill="#acacac" stroke="#3e3e3e" stroke-width="0.35"/>
<polygon points="452.2,743.0 456.5,743.0 454.3,746.8" fill="#6c6c6c" stroke="#3e3e3e" stroke-width="0.35"/>
<polygon points="459.6,743.2 463.9,743.2 461.8,739.4" fill="#9c9c9c" stroke="#3e3e3e" stroke-width="0.35"/>
<polygon points="423.2,741.2 427.5,741.2 425.3,737.3" fill="#6c6c6c" stroke="#3e3e3e" stroke-width="0.35"/>
<polygon points="441.3,728.7 445.6,728.7 443.4,732.6" fill="#9c9c9c" stroke="#3e3e3e" stroke-width="0.35"/>
<polygon points="475.7,747.2 480.0,747.2 477.9,743.3" fill="#acacac" stroke="#3e3e3e" stroke-width="0.35"/>
<polygon points="499.7,732.7 504.0,732.7 501.9,736.5" fill="#8c8c8c" stroke="#3e3e3e" stroke-width="0.35"/>
<polygon points="443.3,757.6 447.6,757.6 445.5,753.8" fill="#acacac" stroke="#3e3e3e" stroke-width="0.35"/>
<polygon points="378.6,757.7 382.9,757.7 380.8,753.9" fill="#acacac" stroke="#3e3e3e" stroke-width="0.35"/>
<polygon points="381.1,753.8 385.4,753.8 383.2,750.0" fill="#6c6c6c" stroke="#3e3e3e" stroke-width="0.35"/>
<polygon points="435.3,737.0 439.6,737.0 437.5,733.1" fill="#bababa" stroke="#3e3e3e" stroke-width="0.35"/>
<polygon points="497.4,739.8 501.7,739.8 499.6,743.7" fill="#6c6c6c" stroke="#3e3e3e" stroke-width="0.35"/>
<polygon points="422.6,755.4 426.9,755.4 424.7,751.6" fill="#7c7c7c" stroke="#3e3e3e" stroke-width="0.35"/>
<polygon points="468.0,754.0 472.3,754.0 470.2,750.1" fill="#8c8c8c" stroke="#3e3e3e" stroke-width="0.35"/>
<polygon points="471.4,739.4 475.7,739.4 473.6,743.3" fill="#bababa" stroke="#3e3e3e" stroke-width="0.35"/>
<polygon points="449.9,731.0 454.2,731.0 452.0,727.1" fill="#9c9c9c" stroke="#3e3e3e" stroke-width="0.35"/>
<polygon points="481.1,740.9 485.4,740.9 483.2,737.0" fill="#7c7c7c" stroke="#3e3e3e" stroke-width="0.35"/>
<polygon points="471.8,738.9 476.1,738.9 473.9,742.7" fill="#9c9c9c" stroke="#3e3e3e" stroke-width="0.35"/>
<polygon points="490.4,741.2 494.7,741.2 492.5,745.1" fill="#acacac" stroke="#3e3e3e" stroke-width="0.35"/>
<polygon points="433.7,732.0 438.0,732.0 435.9,728.1" fill="#8c8c8c" stroke="#3e3e3e" stroke-width="0.35"/>
<polygon points="488.3,745.3 492.6,745.3 490.5,741.4" fill="#c8c8c8" stroke="#3e3e3e" stroke-width="0.35"/>
<polygon points="492.7,726.7 497.0,726.7 494.8,730.5" fill="#bababa" stroke="#3e3e3e" stroke-width="0.35"/>
<polygon points="387.0,745.3 391.3,745.3 389.2,741.4" fill="#9c9c9c" stroke="#3e3e3e" stroke-width="0.35"/>
<polygon points="438.3,733.9 442.6,733.9 440.5,730.1" fill="#6c6c6c" stroke="#3e3e3e" stroke-width="0.35"/>
<polygon points="374.1,746.9 378.4,746.9 376.3,743.0" fill="#7c7c7c" stroke="#3e3e3e" stroke-width="0.35"/>
<polygon points="382.5,756.9 386.8,756.9 384.6,753.1" fill="#8c8c8c" stroke="#3e3e3e" stroke-width="0.35"/>
<polygon points="382.8,748.1 387.1,748.1 385.0,744.2" fill="#acacac" stroke="#3e3e3e" stroke-width="0.35"/>
<polygon points="478.0,742.7 482.3,742.7 480.2,738.9" fill="#7c7c7c" stroke="#3e3e3e" stroke-width="0.35"/>
<polygon points="504.4,750.9 508.7,750.9 506.6,747.0" fill="#7c7c7c" stroke="#3e3e3e" stroke-width="0.35"/>
<polygon points="408.2,729.6 412.5,729.6 410.4,733.5" fill="#7c7c7c" stroke="#3e3e3e" stroke-width="0.35"/>
<polygon points="479.4,732.3 483.7,732.3 481.5,736.1" fill="#8c8c8c" stroke="#3e3e3e" stroke-width="0.35"/>
<polygon points="448.4,732.1 452.7,732.1 450.6,728.3" fill="#7c7c7c" stroke="#3e3e3e" stroke-width="0.35"/>
<polygon points="493.9,736.7 498.2,736.7 496.0,740.6" fill="#acacac" stroke="#3e3e3e" stroke-width="0.35"/>
<polygon points="377.3,742.3 381.6,742.3 379.5,738.4" fill="#6c6c6c" stroke="#3e3e3e" stroke-width="0.35"/>
<polygon points="432.9,733.4 437.2,733.4 435.0,729.5" fill="#c8c8c8" stroke="#3e3e3e" stroke-width="0.35"/>
<polygon points="414.3,752.4 418.6,752.4 416.4,756.2" fill="#c8c8c8" stroke="#3e3e3e" stroke-width="0.35"/>
<polygon points="389.3,739.8 393.6,739.8 391.4,743.7" fill="#c8c8c8" stroke="#3e3e3e" stroke-width="0.35"/>
<polygon points="452.9,748.2 457.2,748.2 455.0,752.0" fill="#acacac" stroke="#3e3e3e" stroke-width="0.35"/>
<polygon points="416.7,726.9 421.0,726.9 418.9,730.8" fill="#9c9c9c" stroke="#3e3e3e" stroke-width="0.35"/>
<polygon points="380.4,751.5 384.7,751.5 382.5,747.6" fill="#c8c8c8" stroke="#3e3e3e" stroke-width="0.35"/>
<polygon points="465.8,734.9 470.1,734.9 468.0,731.0" fill="#acacac" stroke="#3e3e3e" stroke-width="0.35"/>
<polygon points="501.5,751.6 505.8,751.6 503.7,747.8" fill="#6c6c6c" stroke="#3e3e3e" stroke-width="0.35"/>
<polygon points="507.8,737.5 512.1,737.5 509.9,733.6" fill="#bababa" stroke="#3e3e3e" stroke-width="0.35"/>
<polygon points="464.4,754.2 468.7,754.2 466.5,750.3" fill="#acacac" stroke="#3e3e3e" stroke-width="0.35"/>
<polygon points="440.8,739.9 445.1,739.9 443.0,743.8" fill="#acacac" stroke="#3e3e3e" stroke-width="0.35"/>
<polygon points="435.0,735.3 439.3,735.3 437.1,739.2" fill="#7c7c7c" stroke="#3e3e3e" stroke-width="0.35"/>
<polygon points="434.8,735.3 439.1,735.3 436.9,731.5" fill="#9c9c9c" stroke="#3e3e3e" stroke-width="0.35"/>
<polygon points="483.3,752.5 487.6,752.5 485.5,748.6" fill="#bababa" stroke="#3e3e3e" stroke-width="0.35"/>
<polygon points="465.6,735.6 469.9,735.6 467.7,731.8" fill="#acacac" stroke="#3e3e3e" stroke-width="0.35"/>
<polygon points="491.6,745.5 495.9,745.5 493.7,741.6" fill="#acacac" stroke="#3e3e3e" stroke-width="0.35"/>
<polygon points="424.7,749.2 429.0,749.2 426.8,745.3" fill="#9c9c9c" stroke="#3e3e3e" stroke-width="0.35"/>
<polygon points="489.9,739.4 494.2,739.4 492.0,735.5" fill="#bababa" stroke="#3e3e3e" stroke-width="0.35"/>
<polygon points="404.0,744.0 408.3,744.0 406.2,747.8" fill="#9c9c9c" stroke="#3e3e3e" stroke-width="0.35"/>
<polygon points="391.3,743.5 395.6,743.5 393.4,739.6" fill="#c8c8c8" stroke="#3e3e3e" stroke-width="0.35"/>
<polygon points="501.4,733.9 505.7,733.9 503.5,730.0" fill="#c8c8c8" stroke="#3e3e3e" stroke-width="0.35"/>
<polygon points="444.8,745.7 449.1,745.7 447.0,741.9" fill="#9c9c9c" stroke="#3e3e3e" stroke-width="0.35"/>
<polygon points="403.0,731.4 407.3,731.4 405.2,735.2" fill="#7c7c7c" stroke="#3e3e3e" stroke-width="0.35"/>
<polygon points="388.5,753.5 392.8,753.5 390.7,749.6" fill="#6c6c6c" stroke="#3e3e3e" stroke-width="0.35"/>
<polygon points="436.6,746.1 440.9,746.1 438.8,742.3" fill="#8c8c8c" stroke="#3e3e3e" stroke-width="0.35"/>
<polygon points="445.8,731.7 450.1,731.7 447.9,727.9" fill="#7c7c7c" stroke="#3e3e3e" stroke-width="0.35"/>
<polygon points="379.4,740.1 383.7,740.1 381.6,744.0" fill="#acacac" stroke="#3e3e3e" stroke-width="0.35"/>
<polygon points="427.7,752.2 432.0,752.2 429.9,748.3" fill="#9c9c9c" stroke="#3e3e3e" stroke-width="0.35"/>
<polygon points="440.8,735.0 445.1,735.0 442.9,731.2" fill="#8c8c8c" stroke="#3e3e3e" stroke-width="0.35"/>
<polygon points="379.6,742.4 383.9,742.4 381.8,738.5" fill="#7c7c7c" stroke="#3e3e3e" stroke-width="0.35"/>
<polygon points="452.0,755.2 456.3,755.2 454.1,751.4" fill="#8c8c8c" stroke="#3e3e3e" stroke-width="0.35"/>
<polygon points="504.4,746.7 508.7,746.7 506.6,742.8" fill="#9c9c9c" stroke="#3e3e3e" stroke-width="0.35"/>
<polygon points="433.3,741.3 437.6,741.3 435.5,745.2" fill="#c8c8c8" stroke="#3e3e3e" stroke-width="0.35"/>
<polygon points="417.5,736.7 421.8,736.7 419.6,732.9" fill="#c8c8c8" stroke="#3e3e3e" stroke-width="0.35"/>
<polygon points="441.3,742.6 445.6,742.6 443.4,746.5" fill="#7c7c7c" stroke="#3e3e3e" stroke-width="0.35"/>
<polygon points="372.7,739.8 377.0,739.8 374.8,735.9" fill="#c8c8c8" stroke="#3e3e3e" stroke-width="0.35"/>
<polygon points="412.2,738.8 416.5,738.8 414.3,742.7" fill="#6c6c6c" stroke="#3e3e3e" stroke-width="0.35"/>
<polygon points="461.4,735.9 465.7,735.9 463.5,739.8" fill="#acacac" stroke="#3e3e3e" stroke-width="0.35"/>
<polygon points="420.0,743.1 424.3,743.1 422.1,739.3" fill="#bababa" stroke="#3e3e3e" stroke-width="0.35"/>
<polygon points="468.0,734.8 472.3,734.8 470.2,738.7" fill="#7c7c7c" stroke="#3e3e3e" stroke-width="0.35"/>
<polygon points="411.1,754.2 415.4,754.2 413.3,758.1" fill="#6c6c6c" stroke="#3e3e3e" stroke-width="0.35"/>
<polygon points="487.0,736.0 491.3,736.0 489.2,732.2" fill="#6c6c6c" stroke="#3e3e3e" stroke-width="0.35"/>
<polygon points="381.0,735.3 385.3,735.3 383.2,739.1" fill="#c8c8c8" stroke="#3e3e3e" stroke-width="0.35"/>
<polygon points="461.6,758.6 465.9,758.6 463.7,754.7" fill="#7c7c7c" stroke="#3e3e3e" stroke-width="0.35"/>
<polygon points="495.4,737.7 499.7,737.7 497.5,741.6" fill="#acacac" stroke="#3e3e3e" stroke-width="0.35"/>
<polygon points="449.4,728.9 453.7,728.9 451.6,732.8" fill="#8c8c8c" stroke="#3e3e3e" stroke-width="0.35"/>
<polygon points="427.1,741.0 431.4,741.0 429.2,737.1" fill="#6c6c6c" stroke="#3e3e3e" stroke-width="0.35"/>
<polygon points="495.9,727.7 500.2,727.7 498.0,731.6" fill="#8c8c8c" stroke="#3e3e3e" stroke-width="0.35"/>
<polygon points="438.3,735.9 442.6,735.9 440.4,732.1" fill="#9c9c9c" stroke="#3e3e3e" stroke-width="0.35"/>
<polygon points="383.6,752.6 387.9,752.6 385.8,756.5" fill="#bababa" stroke="#3e3e3e" stroke-width="0.35"/>
<polygon points="461.7,748.2 466.0,748.2 463.8,752.1" fill="#8c8c8c" stroke="#3e3e3e" stroke-width="0.35"/>
<polygon points="426.5,744.7 430.8,744.7 428.6,740.9" fill="#8c8c8c" stroke="#3e3e3e" stroke-width="0.35"/>
<polygon points="436.2,751.0 440.5,751.0 438.3,747.1" fill="#8c8c8c" stroke="#3e3e3e" stroke-width="0.35"/>
<polygon points="368.6,747.5 372.9,747.5 370.8,751.4" fill="#8c8c8c" stroke="#3e3e3e" stroke-width="0.35"/>
<polygon points="410.3,754.4 414.6,754.4 412.4,758.2" fill="#c8c8c8" stroke="#3e3e3e" stroke-width="0.35"/>
<polygon points="366.2,741.8 370.5,741.8 368.3,745.7" fill="#8c8c8c" stroke="#3e3e3e" stroke-width="0.35"/>
<polygon points="434.2,744.9 438.5,744.9 436.4,741.0" fill="#7c7c7c" stroke="#3e3e3e" stroke-width="0.35"/>
<polygon points="472.7,745.6 477.0,745.6 474.8,749.5" fill="#6c6c6c" stroke="#3e3e3e" stroke-width="0.35"/>
<polygon points="490.2,733.8 494.5,733.8 492.3,737.7" fill="#8c8c8c" stroke="#3e3e3e" stroke-width="0.35"/>
<polygon points="446.0,747.7 450.3,747.7 448.1,743.8" fill="#acacac" stroke="#3e3e3e" stroke-width="0.35"/>
<polygon points="386.6,749.7 390.9,749.7 388.8,745.8" fill="#bababa" stroke="#3e3e3e" stroke-width="0.35"/>
<polygon points="402.1,737.4 406.4,737.4 404.3,741.3" fill="#9c9c9c" stroke="#3e3e3e" stroke-width="0.35"/>
<polygon points="405.6,754.6 409.9,754.6 407.7,758.4" fill="#9c9c9c" stroke="#3e3e3e" stroke-width="0.35"/>
<polygon points="365.1,745.9 369.4,745.9 367.2,742.0" fill="#8c8c8c" stroke="#3e3e3e" stroke-width="0.35"/>
<polygon points="424.7,735.4 429.0,735.4 426.9,731.5" fill="#6c6c6c" stroke="#3e3e3e" stroke-width="0.35"/>
<polygon points="478.1,731.3 482.4,731.3 480.3,727.4" fill="#7c7c7c" stroke="#3e3e3e" stroke-width="0.35"/>
<polygon points="493.9,750.2 498.2,750.2 496.1,746.3" fill="#bababa" stroke="#3e3e3e" stroke-width="0.35"/>
<polygon points="492.8,745.0 497.1,745.0 494.9,741.1" fill="#bababa" stroke="#3e3e3e" stroke-width="0.35"/>
<polygon points="471.6,735.4 475.9,735.4 473.7,739.2" fill="#6c6c6c" stroke="#3e3e3e" stroke-width="0.35"/>
<polygon points="410.7,752.6 415.0,752.6 412.8,748.7" fill="#8c8c8c" stroke="#3e3e3e" stroke-width="0.35"/>
<polygon points="480.7,753.1 485.0,753.1 482.9,757.0" fill="#8c8c8c" stroke="#3e3e3e" stroke-width="0.35"/>
<polygon points="445.9,726.6 450.2,726.6 448.1,730.4" fill="#acacac" stroke="#3e3e3e" stroke-width="0.35"/>
<polygon points="429.1,750.1 433.4,750.1 431.2,754.0" fill="#9c9c9c" stroke="#3e3e3e" stroke-width="0.35"/>
<polygon points="442.2,748.5 446.5,748.5 444.4,744.6" fill="#c8c8c8" stroke="#3e3e3e" stroke-width="0.35"/>
<polygon points="372.6,744.0 376.9,744.0 374.7,740.1" fill="#bababa" stroke="#3e3e3e" stroke-width="0.35"/>
<polygon points="495.5,742.1 499.8,742.1 497.7,738.2" fill="#bababa" stroke="#3e3e3e" stroke-width="0.35"/>
<polygon points="478.6,736.0 482.9,736.0 480.8,739.8" fill="#7c7c7c" stroke="#3e3e3e" stroke-width="0.35"/>
<polygon points="451.7,747.6 456.0,747.6 453.8,751.4" fill="#9c9c9c" stroke="#3e3e3e" stroke-width="0.35"/>
<polygon points="420.2,745.2 424.5,745.2 422.4,741.3" fill="#7c7c7c" stroke="#3e3e3e" stroke-width="0.35"/>
<polygon points="450.8,750.0 455.1,750.0 453.0,753.9" fill="#c8c8c8" stroke="#3e3e3e" stroke-width="0.35"/>
<polygon points="400.6,739.7 404.9,739.7 402.7,735.8" fill="#bababa" stroke="#3e3e3e" stroke-width="0.35"/>
<polygon points="470.6,742.5 474.9,742.5 472.7,746.3" fill="#7c7c7c" stroke="#3e3e3e" stroke-width="0.35"/>
<polygon points="390.7,755.7 395.0,755.7 392.8,751.8" fill="#9c9c9c" stroke="#3e3e3e" stroke-width="0.35"/>
<polygon points="458.7,743.5 463.0,743.5 460.8,747.4" fill="#8c8c8c" stroke="#3e3e3e" stroke-width="0.35"/>
<polygon points="397.5,736.1 401.8,736.1 399.6,740.0" fill="#8c8c8c" stroke="#3e3e3e" stroke-width="0.35"/>
<polygon points="370.1,747.8 374.4,747.8 372.3,751.7" fill="#9c9c9c" stroke="#3e3e3e" stroke-width="0.35"/>
<polygon points="441.9,747.9 446.2,747.9 444.0,751.7" fill="#8c8c8c" stroke="#3e3e3e" stroke-width="0.35"/>
<polygon points="434.9,730.3 439.2,730.3 437.0,734.2" fill="#9c9c9c" stroke="#3e3e3e" stroke-width="0.35"/>
<polygon points="377.1,740.5 381.4,740.5 379.3,736.6" fill="#7c7c7c" stroke="#3e3e3e" stroke-width="0.35"/>
<polygon points="383.4,754.6 387.7,754.6 385.6,758.4" fill="#c8c8c8" stroke="#3e3e3e" stroke-width="0.35"/>
<polygon points="472.0,731.5 476.3,731.5 474.2,727.7" fill="#7c7c7c" stroke="#3e3e3e" stroke-width="0.35"/>
<polygon points="381.9,751.6 386.2,751.6 384.1,747.7" fill="#6c6c6c" stroke="#3e3e3e" stroke-width="0.35"/>
<polygon points="471.0,756.9 475.3,756.9 473.2,753.1" fill="#acacac" stroke="#3e3e3e" stroke-width="0.35"/>
<polygon points="418.4,739.3 422.7,739.3 420.5,735.4" fill="#bababa" stroke="#3e3e3e" stroke-width="0.35"/>
<polygon points="367.0,753.5 371.3,753.5 369.2,757.4" fill="#9c9c9c" stroke="#3e3e3e" stroke-width="0.35"/>
<polygon points="368.9,745.7 373.2,745.7 371.0,741.8" fill="#9c9c9c" stroke="#3e3e3e" stroke-width="0.35"/>
<polygon points="375.5,747.4 379.8,747.4 377.7,743.5" fill="#acacac" stroke="#3e3e3e" stroke-width="0.35"/>
<polygon points="364.4,737.4 368.7,737.4 366.6,741.3" fill="#6c6c6c" stroke="#3e3e3e" stroke-width="0.35"/>
<polygon points="384.0,754.5 388.3,754.5 386.1,758.4" fill="#c8c8c8" stroke="#3e3e3e" stroke-width="0.35"/>
<polygon points="490.8,729.9 495.1,729.9 492.9,733.8" fill="#acacac" stroke="#3e3e3e" stroke-width="0.35"/>
<polygon points="379.8,744.0 384.1,744.0 381.9,740.1" fill="#c8c8c8" stroke="#3e3e3e" stroke-width="0.35"/>
<polygon points="421.7,744.7 426.0,744.7 423.9,740.8" fill="#7c7c7c" stroke="#3e3e3e" stroke-width="0.35"/>
<polygon points="429.4,744.0 433.7,744.0 431.5,747.9" fill="#c8c8c8" stroke="#3e3e3e" stroke-width="0.35"/>
<polygon points="502.5,737.6 506.8,737.6 504.7,741.5" fill="#8c8c8c" stroke="#3e3e3e" stroke-width="0.35"/>
<polygon points="429.5,755.7 433.8,755.7 431.7,751.9" fill="#9c9c9c" stroke="#3e3e3e" stroke-width="0.35"/>
<polygon points="507.1,740.7 511.4,740.7 509.2,744.6" fill="#9c9c9c" stroke="#3e3e3e" stroke-width="0.35"/>
<polygon points="412.9,728.1 417.2,728.1 415.1,731.9" fill="#acacac" stroke="#3e3e3e" stroke-width="0.35"/>
<polygon points="467.1,730.7 471.4,730.7 469.3,734.6" fill="#9c9c9c" stroke="#3e3e3e" stroke-width="0.35"/>
<polygon points="462.4,729.0 466.7,729.0 464.5,732.8" fill="#9c9c9c" stroke="#3e3e3e" stroke-width="0.35"/>
<polygon points="445.0,740.3 449.3,740.3 447.1,744.2" fill="#c8c8c8" stroke="#3e3e3e" stroke-width="0.35"/>
<polygon points="443.2,747.8 447.5,747.8 445.3,751.6" fill="#6c6c6c" stroke="#3e3e3e" stroke-width="0.35"/>
<polygon points="415.2,749.7 419.5,749.7 417.4,745.9" fill="#6c6c6c" stroke="#3e3e3e" stroke-width="0.35"/>
<polygon points="457.0,729.5 461.3,729.5 459.2,733.3" fill="#8c8c8c" stroke="#3e3e3e" stroke-width="0.35"/>
<polygon points="429.3,754.3 433.6,754.3 431.5,750.4" fill="#7c7c7c" stroke="#3e3e3e" stroke-width="0.35"/>
<polygon points="376.0,750.0 380.3,750.0 378.1,746.1" fill="#8c8c8c" stroke="#3e3e3e" stroke-width="0.35"/>
<polygon points="382.8,736.1 387.1,736.1 384.9,740.0" fill="#7c7c7c" stroke="#3e3e3e" stroke-width="0.35"/>
<polygon points="421.7,749.7 426.0,749.7 423.8,753.6" fill="#8c8c8c" stroke="#3e3e3e" stroke-width="0.35"/>
<polygon points="392.1,742.5 396.4,742.5 394.3,738.6" fill="#bababa" stroke="#3e3e3e" stroke-width="0.35"/>
<polygon points="472.4,752.0 476.7,752.0 474.5,755.8" fill="#acacac" stroke="#3e3e3e" stroke-width="0.35"/>
<polygon points="436.6,754.1 440.9,754.1 438.7,750.2" fill="#6c6c6c" stroke="#3e3e3e" stroke-width="0.35"/>
<polygon points="416.6,744.6 420.9,744.6 418.8,748.5" fill="#c8c8c8" stroke="#3e3e3e" stroke-width="0.35"/>
<polygon points="380.7,753.4 385.0,753.4 382.8,749.5" fill="#acacac" stroke="#3e3e3e" stroke-width="0.35"/>
<polygon points="494.5,737.2 498.8,737.2 496.7,741.0" fill="#9c9c9c" stroke="#3e3e3e" stroke-width="0.35"/>
<polygon points="464.8,735.7 469.1,735.7 467.0,731.8" fill="#acacac" stroke="#3e3e3e" stroke-width="0.35"/>
<polygon points="452.6,743.9 456.9,743.9 454.7,740.0" fill="#9c9c9c" stroke="#3e3e3e" stroke-width="0.35"/>
<polygon points="473.7,747.0 478.0,747.0 475.9,743.1" fill="#8c8c8c" stroke="#3e3e3e" stroke-width="0.35"/>
<polygon points="485.5,739.1 489.8,739.1 487.6,735.3" fill="#9c9c9c" stroke="#3e3e3e" stroke-width="0.35"/>
<polygon points="477.2,738.8 481.5,738.8 479.4,735.0" fill="#6c6c6c" stroke="#3e3e3e" stroke-width="0.35"/>
<polygon points="428.3,750.3 432.6,750.3 430.5,746.4" fill="#9c9c9c" stroke="#3e3e3e" stroke-width="0.35"/>
<polygon points="446.1,734.5 450.4,734.5 448.3,730.7" fill="#bababa" stroke="#3e3e3e" stroke-width="0.35"/>
<polygon points="388.6,740.0 392.9,740.0 390.8,736.1" fill="#c8c8c8" stroke="#3e3e3e" stroke-width="0.35"/>
<polygon points="471.9,734.2 476.2,734.2 474.1,738.1" fill="#acacac" stroke="#3e3e3e" stroke-width="0.35"/>
<polygon points="400.8,752.7 405.1,752.7 403.0,748.8" fill="#7c7c7c" stroke="#3e3e3e" stroke-width="0.35"/>
<polygon points="458.4,740.0 462.7,740.0 460.5,736.1" fill="#7c7c7c" stroke="#3e3e3e" stroke-width="0.35"/>
<polygon points="464.7,735.0 469.0,735.0 466.9,738.9" fill="#c8c8c8" stroke="#3e3e3e" stroke-width="0.35"/>
<polygon points="417.9,729.3 422.2,729.3 420.1,733.2" fill="#6c6c6c" stroke="#3e3e3e" stroke-width="0.35"/>
<polygon points="410.2,732.4 414.5,732.4 412.3,736.2" fill="#c8c8c8" stroke="#3e3e3e" stroke-width="0.35"/>
<polygon points="461.1,739.8 465.4,739.8 463.2,735.9" fill="#acacac" stroke="#3e3e3e" stroke-width="0.35"/>
<polygon points="385.3,756.3 389.6,756.3 387.5,752.4" fill="#c8c8c8" stroke="#3e3e3e" stroke-width="0.35"/>
<polygon points="399.6,746.1 403.9,746.1 401.8,750.0" fill="#9c9c9c" stroke="#3e3e3e" stroke-width="0.35"/>
<polygon points="458.6,730.9 462.9,730.9 460.7,727.0" fill="#bababa" stroke="#3e3e3e" stroke-width="0.35"/>
<polygon points="382.7,745.5 387.0,745.5 384.8,749.3" fill="#8c8c8c" stroke="#3e3e3e" stroke-width="0.35"/>
<polygon points="459.0,733.8 463.3,733.8 461.2,737.6" fill="#c8c8c8" stroke="#3e3e3e" stroke-width="0.35"/>
<polygon points="391.4,739.8 395.7,739.8 393.5,735.9" fill="#acacac" stroke="#3e3e3e" stroke-width="0.35"/>
<polygon points="375.0,740.5 379.3,740.5 377.1,744.4" fill="#bababa" stroke="#3e3e3e" stroke-width="0.35"/>
<polygon points="461.5,751.0 465.8,751.0 463.6,747.1" fill="#9c9c9c" stroke="#3e3e3e" stroke-width="0.35"/>
<polygon points="497.0,726.2 501.3,726.2 499.2,730.1" fill="#c8c8c8" stroke="#3e3e3e" stroke-width="0.35"/>
<polygon points="485.4,738.6 489.7,738.6 487.5,734.7" fill="#9c9c9c" stroke="#3e3e3e" stroke-width="0.35"/>
<polygon points="409.2,739.1 413.5,739.1 411.4,743.0" fill="#9c9c9c" stroke="#3e3e3e" stroke-width="0.35"/>
<polygon points="486.7,731.6 491.0,731.6 488.8,735.4" fill="#9c9c9c" stroke="#3e3e3e" stroke-width="0.35"/>
<polygon points="468.0,740.9 472.3,740.9 470.2,744.8" fill="#6c6c6c" stroke="#3e3e3e" stroke-width="0.35"/>
<polygon points="489.2,732.0 493.5,732.0 491.3,735.8" fill="#bababa" stroke="#3e3e3e" stroke-width="0.35"/>
<polygon points="486.2,748.6 490.5,748.6 488.3,744.7" fill="#7c7c7c" stroke="#3e3e3e" stroke-width="0.35"/>
<polygon points="481.3,742.4 485.6,742.4 483.4,738.5" fill="#c8c8c8" stroke="#3e3e3e" stroke-width="0.35"/>
<polygon points="399.4,746.9 403.7,746.9 401.6,743.1" fill="#6c6c6c" stroke="#3e3e3e" stroke-width="0.35"/>
<polygon points="419.6,732.3 423.9,732.3 421.7,728.4" fill="#acacac" stroke="#3e3e3e" stroke-width="0.35"/>
<polygon points="463.9,742.3 468.2,742.3 466.0,746.1" fill="#c8c8c8" stroke="#3e3e3e" stroke-width="0.35"/>
<polygon points="441.3,744.4 445.6,744.4 443.4,748.3" fill="#c8c8c8" stroke="#3e3e3e" stroke-width="0.35"/>
<polygon points="389.4,753.1 393.7,753.1 391.5,749.2" fill="#bababa" stroke="#3e3e3e" stroke-width="0.35"/>
<polygon points="367.3,750.9 371.6,750.9 369.4,747.0" fill="#c8c8c8" stroke="#3e3e3e" stroke-width="0.35"/>
<polygon points="507.5,734.6 511.8,734.6 509.7,730.7" fill="#bababa" stroke="#3e3e3e" stroke-width="0.35"/>
<polygon points="503.1,747.8 507.4,747.8 505.3,743.9" fill="#6c6c6c" stroke="#3e3e3e" stroke-width="0.35"/>
<polygon points="378.8,753.7 383.1,753.7 380.9,757.6" fill="#acacac" stroke="#3e3e3e" stroke-width="0.35"/>
<polygon points="500.6,737.5 504.9,737.5 502.7,733.6" fill="#bababa" stroke="#3e3e3e" stroke-width="0.35"/>
<polygon points="389.3,756.2 393.6,756.2 391.4,752.3" fill="#6c6c6c" stroke="#3e3e3e" stroke-width="0.35"/>
<polygon points="377.9,746.0 382.2,746.0 380.1,742.1" fill="#acacac" stroke="#3e3e3e" stroke-width="0.35"/>
<polygon points="458.7,732.3 463.0,732.3 460.9,736.2" fill="#c8c8c8" stroke="#3e3e3e" stroke-width="0.35"/>
<polygon points="414.1,739.5 418.4,739.5 416.3,743.4" fill="#acacac" stroke="#3e3e3e" stroke-width="0.35"/>
<polygon points="429.2,735.5 433.5,735.5 431.4,739.4" fill="#8c8c8c" stroke="#3e3e3e" stroke-width="0.35"/>
<polygon points="434.4,743.6 438.7,743.6 436.6,747.5" fill="#c8c8c8" stroke="#3e3e3e" stroke-width="0.35"/>
<polygon points="496.7,743.0 501.0,743.0 498.8,739.2" fill="#9c9c9c" stroke="#3e3e3e" stroke-width="0.35"/>
<polygon points="484.0,731.0 488.3,731.0 486.2,734.9" fill="#9c9c9c" stroke="#3e3e3e" stroke-width="0.35"/>
<polygon points="436.6,746.1 440.9,746.1 438.7,742.2" fill="#8c8c8c" stroke="#3e3e3e" stroke-width="0.35"/>
<polygon points="402.9,734.2 407.2,734.2 405.1,738.1" fill="#7c7c7c" stroke="#3e3e3e" stroke-width="0.35"/>
<polygon points="434.4,750.0 438.7,750.0 436.5,753.9" fill="#9c9c9c" stroke="#3e3e3e" stroke-width="0.35"/>
<polygon points="377.1,740.8 381.4,740.8 379.3,737.0" fill="#acacac" stroke="#3e3e3e" stroke-width="0.35"/>
<polygon points="479.7,751.2 484.0,751.2 481.8,755.0" fill="#6c6c6c" stroke="#3e3e3e" stroke-width="0.35"/>
<polygon points="444.4,741.8 448.7,741.8 446.5,745.7" fill="#acacac" stroke="#3e3e3e" stroke-width="0.35"/>
<polygon points="492.8,730.1 497.1,730.1 495.0,734.0" fill="#9c9c9c" stroke="#3e3e3e" stroke-width="0.35"/>
<polygon points="506.8,740.4 511.1,740.4 508.9,736.6" fill="#9c9c9c" stroke="#3e3e3e" stroke-width="0.35"/>
<polygon points="463.3,728.6 467.6,728.6 465.4,732.5" fill="#7c7c7c" stroke="#3e3e3e" stroke-width="0.35"/>
<polygon points="432.1,730.2 436.4,730.2 434.3,734.0" fill="#c8c8c8" stroke="#3e3e3e" stroke-width="0.35"/>
<polygon points="405.3,746.2 409.6,746.2 407.4,742.4" fill="#c8c8c8" stroke="#3e3e3e" stroke-width="0.35"/>
<polygon points="451.6,754.9 455.9,754.9 453.8,758.8" fill="#bababa" stroke="#3e3e3e" stroke-width="0.35"/>
<polygon points="367.4,739.2 371.7,739.2 369.6,743.0" fill="#c8c8c8" stroke="#3e3e3e" stroke-width="0.35"/>
<polygon points="499.0,738.7 503.3,738.7 501.2,742.6" fill="#c8c8c8" stroke="#3e3e3e" stroke-width="0.35"/>
<polygon points="389.3,745.2 393.6,745.2 391.4,741.4" fill="#c8c8c8" stroke="#3e3e3e" stroke-width="0.35"/>
<polygon points="432.1,758.1 436.4,758.1 434.3,754.2" fill="#6c6c6c" stroke="#3e3e3e" stroke-width="0.35"/>
<polygon points="499.0,744.8 503.3,744.8 501.1,748.7" fill="#acacac" stroke="#3e3e3e" stroke-width="0.35"/>
<polygon points="411.9,739.4 416.2,739.4 414.0,735.5" fill="#bababa" stroke="#3e3e3e" stroke-width="0.35"/>
<polygon points="501.0,746.6 505.3,746.6 503.1,742.7" fill="#9c9c9c" stroke="#3e3e3e" stroke-width="0.35"/>
<polygon points="374.7,736.9 379.0,736.9 376.8,740.8" fill="#bababa" stroke="#3e3e3e" stroke-width="0.35"/>
<polygon points="492.7,740.4 497.0,740.4 494.9,744.3" fill="#6c6c6c" stroke="#3e3e3e" stroke-width="0.35"/>
<polygon points="371.0,753.5 375.3,753.5 373.2,749.6" fill="#acacac" stroke="#3e3e3e" stroke-width="0.35"/>
<polygon points="503.0,746.9 507.3,746.9 505.1,750.8" fill="#bababa" stroke="#3e3e3e" stroke-width="0.35"/>
<polygon points="403.2,747.4 407.5,747.4 405.3,751.3" fill="#9c9c9c" stroke="#3e3e3e" stroke-width="0.35"/>
<polygon points="409.9,745.3 414.2,745.3 412.0,749.2" fill="#acacac" stroke="#3e3e3e" stroke-width="0.35"/>
<polygon points="479.9,751.3 484.2,751.3 482.0,747.4" fill="#6c6c6c" stroke="#3e3e3e" stroke-width="0.35"/>
<polygon points="408.1,744.0 412.4,744.0 410.2,747.9" fill="#acacac" stroke="#3e3e3e" stroke-width="0.35"/>
<polygon points="450.8,738.0 455.1,738.0 453.0,734.1" fill="#acacac" stroke="#3e3e3e" stroke-width="0.35"/>
<polygon points="424.1,750.7 428.4,750.7 426.3,746.9" fill="#bababa" stroke="#3e3e3e" stroke-width="0.35"/>
<polygon points="456.6,753.3 460.9,753.3 458.8,757.1" fill="#9c9c9c" stroke="#3e3e3e" stroke-width="0.35"/>
<polygon points="470.9,733.6 475.2,733.6 473.1,737.5" fill="#acacac" stroke="#3e3e3e" stroke-width="0.35"/>
<polygon points="408.6,744.2 412.9,744.2 410.8,748.1" fill="#bababa" stroke="#3e3e3e" stroke-width="0.35"/>
<polygon points="481.4,748.6 485.7,748.6 483.6,752.4" fill="#9c9c9c" stroke="#3e3e3e" stroke-width="0.35"/>
<polygon points="482.1,748.4 486.4,748.4 484.2,752.2" fill="#6c6c6c" stroke="#3e3e3e" stroke-width="0.35"/>
<polygon points="388.9,754.4 393.2,754.4 391.1,758.3" fill="#7c7c7c" stroke="#3e3e3e" stroke-width="0.35"/>
<polygon points="488.6,749.8 492.9,749.8 490.7,745.9" fill="#8c8c8c" stroke="#3e3e3e" stroke-width="0.35"/>
<polygon points="370.3,753.6 374.6,753.6 372.5,749.8" fill="#c8c8c8" stroke="#3e3e3e" stroke-width="0.35"/>
<polygon points="401.2,737.4 405.5,737.4 403.4,741.3" fill="#c8c8c8" stroke="#3e3e3e" stroke-width="0.35"/>
<polygon points="433.6,736.9 437.9,736.9 435.7,733.1" fill="#8c8c8c" stroke="#3e3e3e" stroke-width="0.35"/>
<polygon points="384.7,752.7 389.0,752.7 386.9,748.9" fill="#acacac" stroke="#3e3e3e" stroke-width="0.35"/>
<polygon points="407.2,738.0 411.5,738.0 409.4,741.9" fill="#bababa" stroke="#3e3e3e" stroke-width="0.35"/>
<polygon points="431.4,751.9 435.7,751.9 433.5,755.8" fill="#7c7c7c" stroke="#3e3e3e" stroke-width="0.35"/>
<polygon points="370.1,736.6 374.4,736.6 372.3,740.4" fill="#bababa" stroke="#3e3e3e" stroke-width="0.35"/>
<polygon points="391.5,739.2 395.8,739.2 393.6,735.4" fill="#7c7c7c" stroke="#3e3e3e" stroke-width="0.35"/>
<polygon points="453.5,734.3 457.8,734.3 455.7,730.4" fill="#c8c8c8" stroke="#3e3e3e" stroke-width="0.35"/>
<polygon points="408.0,753.2 412.3,753.2 410.2,757.1" fill="#8c8c8c" stroke="#3e3e3e" stroke-width="0.35"/>
<polygon points="391.0,751.1 395.3,751.1 393.1,755.0" fill="#8c8c8c" stroke="#3e3e3e" stroke-width="0.35"/>
<polygon points="394.1,751.8 398.4,751.8 396.2,755.7" fill="#7c7c7c" stroke="#3e3e3e" stroke-width="0.35"/>
<polygon points="491.9,757.7 496.2,757.7 494.0,753.8" fill="#7c7c7c" stroke="#3e3e3e" stroke-width="0.35"/>
<polygon points="372.1,746.8 376.4,746.8 374.2,742.9" fill="#9c9c9c" stroke="#3e3e3e" stroke-width="0.35"/>
<polygon points="441.0,754.5 445.3,754.5 443.1,758.4" fill="#6c6c6c" stroke="#3e3e3e" stroke-width="0.35"/>
<polygon points="402.5,749.0 406.8,749.0 404.7,752.9" fill="#6c6c6c" stroke="#3e3e3e" stroke-width="0.35"/>
<polygon points="502.5,752.4 506.8,752.4 504.7,748.5" fill="#c8c8c8" stroke="#3e3e3e" stroke-width="0.35"/>
<polygon points="369.6,742.6 373.9,742.6 371.8,738.7" fill="#6c6c6c" stroke="#3e3e3e" stroke-width="0.35"/>
<polygon points="430.5,740.0 434.8,740.0 432.6,743.8" fill="#acacac" stroke="#3e3e3e" stroke-width="0.35"/>
<polygon points="390.9,756.5 395.2,756.5 393.0,752.6" fill="#6c6c6c" stroke="#3e3e3e" stroke-width="0.35"/>
<polygon points="409.9,736.7 414.2,736.7 412.0,740.6" fill="#9c9c9c" stroke="#3e3e3e" stroke-width="0.35"/>
<polygon points="374.2,736.0 378.5,736.0 376.4,739.9" fill="#7c7c7c" stroke="#3e3e3e" stroke-width="0.35"/>
<polygon points="472.4,727.9 476.7,727.9 474.6,731.8" fill="#9c9c9c" stroke="#3e3e3e" stroke-width="0.35"/>
<polygon points="442.9,751.4 447.2,751.4 445.0,755.2" fill="#acacac" stroke="#3e3e3e" stroke-width="0.35"/>
<polygon points="397.1,744.4 401.4,744.4 399.2,740.5" fill="#8c8c8c" stroke="#3e3e3e" stroke-width="0.35"/>
<polygon points="456.1,739.0 460.4,739.0 458.2,735.1" fill="#acacac" stroke="#3e3e3e" stroke-width="0.35"/>
<polygon points="419.6,757.2 423.9,757.2 421.7,753.3" fill="#c8c8c8" stroke="#3e3e3e" stroke-width="0.35"/>
<polygon points="502.0,752.0 506.3,752.0 504.1,748.1" fill="#6c6c6c" stroke="#3e3e3e" stroke-width="0.35"/>
<polygon points="496.6,748.7 500.9,748.7 498.8,744.9" fill="#c8c8c8" stroke="#3e3e3e" stroke-width="0.35"/>
<polygon points="504.6,745.0 508.9,745.0 506.7,741.2" fill="#9c9c9c" stroke="#3e3e3e" stroke-width="0.35"/>
<polygon points="457.8,734.1 462.1,734.1 459.9,730.2" fill="#acacac" stroke="#3e3e3e" stroke-width="0.35"/>
<polygon points="392.4,749.9 396.7,749.9 394.5,753.7" fill="#8c8c8c" stroke="#3e3e3e" stroke-width="0.35"/>
<polygon points="399.5,743.3 403.8,743.3 401.7,739.4" fill="#acacac" stroke="#3e3e3e" stroke-width="0.35"/>
<polygon points="495.7,738.2 500.0,738.2 497.9,734.3" fill="#bababa" stroke="#3e3e3e" stroke-width="0.35"/>
<polygon points="417.0,749.5 421.3,749.5 419.1,753.4" fill="#8c8c8c" stroke="#3e3e3e" stroke-width="0.35"/>
<polygon points="470.7,750.7 475.0,750.7 472.9,746.8" fill="#8c8c8c" stroke="#3e3e3e" stroke-width="0.35"/>
<polygon points="463.7,734.0 468.0,734.0 465.8,730.1" fill="#8c8c8c" stroke="#3e3e3e" stroke-width="0.35"/>
<polygon points="392.1,745.8 396.4,745.8 394.2,741.9" fill="#7c7c7c" stroke="#3e3e3e" stroke-width="0.35"/>
<polygon points="455.3,745.6 459.6,745.6 457.5,741.7" fill="#7c7c7c" stroke="#3e3e3e" stroke-width="0.35"/>
<polygon points="419.3,750.7 423.6,750.7 421.4,746.9" fill="#8c8c8c" stroke="#3e3e3e" stroke-width="0.35"/>
<polygon points="436.6,734.9 440.9,734.9 438.8,738.8" fill="#acacac" stroke="#3e3e3e" stroke-width="0.35"/>
<polygon points="443.0,738.9 447.3,738.9 445.1,742.8" fill="#7c7c7c" stroke="#3e3e3e" stroke-width="0.35"/>
<polygon points="436.5,751.5 440.8,751.5 438.6,747.7" fill="#bababa" stroke="#3e3e3e" stroke-width="0.35"/>
<polygon points="374.9,739.6 379.2,739.6 377.1,735.7" fill="#8c8c8c" stroke="#3e3e3e" stroke-width="0.35"/>
<polygon points="376.7,744.6 381.0,744.6 378.8,748.5" fill="#bababa" stroke="#3e3e3e" stroke-width="0.35"/>
<polygon points="373.7,745.3 378.0,745.3 375.9,749.2" fill="#c8c8c8" stroke="#3e3e3e" stroke-width="0.35"/>
<polygon points="402.4,757.7 406.7,757.7 404.6,753.9" fill="#acacac" stroke="#3e3e3e" stroke-width="0.35"/>
<polygon points="500.1,731.1 504.4,731.1 502.3,734.9" fill="#8c8c8c" stroke="#3e3e3e" stroke-width="0.35"/>
<polygon points="497.5,736.0 501.8,736.0 499.7,739.9" fill="#acacac" stroke="#3e3e3e" stroke-width="0.35"/>
<polygon points="379.4,749.1 383.7,749.1 381.5,752.9" fill="#c8c8c8" stroke="#3e3e3e" stroke-width="0.35"/>
<polygon points="422.4,736.8 426.7,736.8 424.6,732.9" fill="#acacac" stroke="#3e3e3e" stroke-width="0.35"/>
<polygon points="437.2,741.1 441.5,741.1 439.4,737.2" fill="#c8c8c8" stroke="#3e3e3e" stroke-width="0.35"/>
<polygon points="437.7,746.6 442.0,746.6 439.9,742.7" fill="#bababa" stroke="#3e3e3e" stroke-width="0.35"/>
<polygon points="469.7,731.7 474.0,731.7 471.8,727.8" fill="#8c8c8c" stroke="#3e3e3e" stroke-width="0.35"/>
<polygon points="468.1,732.0 472.4,732.0 470.2,735.8" fill="#bababa" stroke="#3e3e3e" stroke-width="0.35"/>
<polygon points="404.0,737.3 408.3,737.3 406.2,741.2" fill="#8c8c8c" stroke="#3e3e3e" stroke-width="0.35"/>
<polygon points="477.9,754.3 482.2,754.3 480.0,758.2" fill="#8c8c8c" stroke="#3e3e3e" stroke-width="0.35"/>
<polygon points="507.8,758.6 512.1,758.6 509.9,754.7" fill="#acacac" stroke="#3e3e3e" stroke-width="0.35"/>
<polygon points="436.6,743.1 440.9,743.1 438.7,746.9" fill="#9c9c9c" stroke="#3e3e3e" stroke-width="0.35"/>
<polygon points="368.2,744.6 372.5,744.6 370.4,748.5" fill="#8c8c8c" stroke="#3e3e3e" stroke-width="0.35"/>
<polygon points="474.0,743.5 478.3,743.5 476.1,739.6" fill="#6c6c6c" stroke="#3e3e3e" stroke-width="0.35"/>
<polygon points="457.0,747.2 461.3,747.2 459.2,743.3" fill="#7c7c7c" stroke="#3e3e3e" stroke-width="0.35"/>
<polygon points="472.8,735.5 477.1,735.5 474.9,731.6" fill="#acacac" stroke="#3e3e3e" stroke-width="0.35"/>
<polygon points="495.4,738.2 499.7,738.2 497.6,734.4" fill="#7c7c7c" stroke="#3e3e3e" stroke-width="0.35"/>
<polygon points="448.9,753.1 453.2,753.1 451.0,757.0" fill="#6c6c6c" stroke="#3e3e3e" stroke-width="0.35"/>
<polygon points="410.1,728.3 414.4,728.3 412.3,732.2" fill="#acacac" stroke="#3e3e3e" stroke-width="0.35"/>
<polygon points="390.9,734.8 395.2,734.8 393.1,738.6" fill="#acacac" stroke="#3e3e3e" stroke-width="0.35"/>
<polygon points="371.5,744.5 375.8,744.5 373.7,740.6" fill="#bababa" stroke="#3e3e3e" stroke-width="0.35"/>
<polygon points="369.8,748.1 374.1,748.1 371.9,744.2" fill="#bababa" stroke="#3e3e3e" stroke-width="0.35"/>
<polygon points="392.2,753.9 396.5,753.9 394.4,757.7" fill="#7c7c7c" stroke="#3e3e3e" stroke-width="0.35"/>
<polygon points="465.6,752.5 469.9,752.5 467.8,748.6" fill="#6c6c6c" stroke="#3e3e3e" stroke-width="0.35"/>
<polygon points="442.2,742.7 446.5,742.7 444.4,738.9" fill="#7c7c7c" stroke="#3e3e3e" stroke-width="0.35"/>
<polygon points="420.5,743.2 424.8,743.2 422.7,747.0" fill="#c8c8c8" stroke="#3e3e3e" stroke-width="0.35"/>
<polygon points="447.8,747.1 452.1,747.1 449.9,751.0" fill="#8c8c8c" stroke="#3e3e3e" stroke-width="0.35"/>
<polygon points="445.6,752.4 449.9,752.4 447.7,756.3" fill="#bababa" stroke="#3e3e3e" stroke-width="0.35"/>
<polygon points="439.0,730.8 443.3,730.8 441.2,734.7" fill="#7c7c7c" stroke="#3e3e3e" stroke-width="0.35"/>
<polygon points="495.6,732.1 499.9,732.1 497.7,728.2" fill="#6c6c6c" stroke="#3e3e3e" stroke-width="0.35"/>
<polygon points="409.8,732.7 414.1,732.7 412.0,736.6" fill="#6c6c6c" stroke="#3e3e3e" stroke-width="0.35"/>
<polygon points="438.9,744.4 443.2,744.4 441.0,748.2" fill="#8c8c8c" stroke="#3e3e3e" stroke-width="0.35"/>
<polygon points="460.4,733.7 464.7,733.7 462.6,737.6" fill="#9c9c9c" stroke="#3e3e3e" stroke-width="0.35"/>
<polygon points="414.6,744.8 418.9,744.8 416.8,748.6" fill="#7c7c7c" stroke="#3e3e3e" stroke-width="0.35"/>
<polygon points="457.0,749.1 461.3,749.1 459.2,745.3" fill="#6c6c6c" stroke="#3e3e3e" stroke-width="0.35"/>
<polygon points="380.4,753.1 384.7,753.1 382.5,756.9" fill="#7c7c7c" stroke="#3e3e3e" stroke-width="0.35"/>
<polygon points="484.0,736.7 488.3,736.7 486.2,740.6" fill="#7c7c7c" stroke="#3e3e3e" stroke-width="0.35"/>
<polygon points="493.1,741.7 497.4,741.7 495.2,737.9" fill="#acacac" stroke="#3e3e3e" stroke-width="0.35"/>
<polygon points="504.7,735.9 509.0,735.9 506.8,739.7" fill="#8c8c8c" stroke="#3e3e3e" stroke-width="0.35"/>
<polygon points="401.3,737.6 405.6,737.6 403.5,741.5" fill="#7c7c7c" stroke="#3e3e3e" stroke-width="0.35"/>
<polygon points="374.1,752.3 378.4,752.3 376.3,748.5" fill="#8c8c8c" stroke="#3e3e3e" stroke-width="0.35"/>
<polygon points="479.3,738.0 483.6,738.0 481.5,741.9" fill="#8c8c8c" stroke="#3e3e3e" stroke-width="0.35"/>
<polygon points="426.5,737.8 430.8,737.8 428.7,741.7" fill="#6c6c6c" stroke="#3e3e3e" stroke-width="0.35"/>
<polygon points="480.8,756.3 485.1,756.3 482.9,752.4" fill="#6c6c6c" stroke="#3e3e3e" stroke-width="0.35"/>
<polygon points="467.3,758.5 471.6,758.5 469.4,754.6" fill="#9c9c9c" stroke="#3e3e3e" stroke-width="0.35"/>
<polygon points="444.9,753.3 449.2,753.3 447.0,757.2" fill="#bababa" stroke="#3e3e3e" stroke-width="0.35"/>
<polygon points="433.1,752.4 437.4,752.4 435.2,756.2" fill="#8c8c8c" stroke="#3e3e3e" stroke-width="0.35"/>
<polygon points="426.2,744.9 430.5,744.9 428.4,748.7" fill="#6c6c6c" stroke="#3e3e3e" stroke-width="0.35"/>
<polygon points="418.2,740.2 422.5,740.2 420.4,744.1" fill="#7c7c7c" stroke="#3e3e3e" stroke-width="0.35"/>
<polygon points="446.9,751.4 451.2,751.4 449.1,755.3" fill="#8c8c8c" stroke="#3e3e3e" stroke-width="0.35"/>
<polygon points="503.5,729.2 507.8,729.2 505.6,733.0" fill="#acacac" stroke="#3e3e3e" stroke-width="0.35"/>
<polygon points="458.9,750.1 463.2,750.1 461.0,746.3" fill="#8c8c8c" stroke="#3e3e3e" stroke-width="0.35"/>
<polygon points="462.7,747.0 467.0,747.0 464.8,743.1" fill="#acacac" stroke="#3e3e3e" stroke-width="0.35"/>
<polygon points="415.3,745.4 419.6,745.4 417.4,749.2" fill="#bababa" stroke="#3e3e3e" stroke-width="0.35"/>
<polygon points="371.9,746.8 376.2,746.8 374.1,750.7" fill="#6c6c6c" stroke="#3e3e3e" stroke-width="0.35"/>
<polygon points="403.8,753.1 408.1,753.1 405.9,749.2" fill="#bababa" stroke="#3e3e3e" stroke-width="0.35"/>
<polygon points="469.5,739.9 473.8,739.9 471.6,736.0" fill="#c8c8c8" stroke="#3e3e3e" stroke-width="0.35"/>
<polygon points="477.2,727.3 481.5,727.3 479.4,731.2" fill="#6c6c6c" stroke="#3e3e3e" stroke-width="0.35"/>
<polygon points="402.4,743.0 406.7,743.0 404.5,739.2" fill="#c8c8c8" stroke="#3e3e3e" stroke-width="0.35"/>
<polygon points="470.6,744.0 474.9,744.0 472.7,747.9" fill="#bababa" stroke="#3e3e3e" stroke-width="0.35"/>
<polygon points="477.2,756.8 481.5,756.8 479.4,753.0" fill="#8c8c8c" stroke="#3e3e3e" stroke-width="0.35"/>
<polygon points="464.2,737.3 468.5,737.3 466.4,733.4" fill="#9c9c9c" stroke="#3e3e3e" stroke-width="0.35"/>
<polygon points="434.8,728.8 439.1,728.8 437.0,732.6" fill="#6c6c6c" stroke="#3e3e3e" stroke-width="0.35"/>
<polygon points="489.6,734.8 493.9,734.8 491.7,730.9" fill="#7c7c7c" stroke="#3e3e3e" stroke-width="0.35"/>
<polygon points="449.6,744.4 453.9,744.4 451.8,748.3" fill="#9c9c9c" stroke="#3e3e3e" stroke-width="0.35"/>
<polygon points="433.6,756.4 437.9,756.4 435.7,752.5" fill="#c8c8c8" stroke="#3e3e3e" stroke-width="0.35"/>
<polygon points="445.1,735.8 449.4,735.8 447.3,739.6" fill="#c8c8c8" stroke="#3e3e3e" stroke-width="0.35"/>
<polygon points="459.4,753.9 463.7,753.9 461.6,757.8" fill="#6c6c6c" stroke="#3e3e3e" stroke-width="0.35"/>
<polygon points="458.7,753.9 463.0,753.9 460.9,750.0" fill="#bababa" stroke="#3e3e3e" stroke-width="0.35"/>
<polygon points="456.8,739.5 461.1,739.5 459.0,743.3" fill="#9c9c9c" stroke="#3e3e3e" stroke-width="0.35"/>
<polygon points="499.5,734.7 503.8,734.7 501.7,730.8" fill="#bababa" stroke="#3e3e3e" stroke-width="0.35"/>
<polygon points="423.1,731.0 427.4,731.0 425.2,727.1" fill="#7c7c7c" stroke="#3e3e3e" stroke-width="0.35"/>
<polygon points="380.9,758.3 385.2,758.3 383.0,754.4" fill="#6c6c6c" stroke="#3e3e3e" stroke-width="0.35"/>
<polygon points="395.1,746.6 399.4,746.6 397.2,750.4" fill="#6c6c6c" stroke="#3e3e3e" stroke-width="0.35"/>
<polygon points="450.7,747.6 455.0,747.6 452.9,743.7" fill="#6c6c6c" stroke="#3e3e3e" stroke-width="0.35"/>
<polygon points="364.3,754.8 368.6,754.8 366.4,750.9" fill="#6c6c6c" stroke="#3e3e3e" stroke-width="0.35"/>
<polygon points="405.4,737.0 409.7,737.0 407.5,733.2" fill="#c8c8c8" stroke="#3e3e3e" stroke-width="0.35"/>
<polygon points="437.6,753.6 441.9,753.6 439.8,757.4" fill="#acacac" stroke="#3e3e3e" stroke-width="0.35"/>
<polygon points="385.6,738.9 389.9,738.9 387.7,742.7" fill="#acacac" stroke="#3e3e3e" stroke-width="0.35"/>
<polygon points="391.8,734.9 396.1,734.9 393.9,738.8" fill="#9c9c9c" stroke="#3e3e3e" stroke-width="0.35"/>
<polygon points="406.2,733.5 410.5,733.5 408.3,737.3" fill="#bababa" stroke="#3e3e3e" stroke-width="0.35"/>
<polygon points="431.8,754.9 436.1,754.9 434.0,751.0" fill="#7c7c7c" stroke="#3e3e3e" stroke-width="0.35"/>
<polygon points="454.6,744.1 458.9,744.1 456.7,740.2" fill="#8c8c8c" stroke="#3e3e3e" stroke-width="0.35"/>
<polygon points="390.1,739.9 394.4,739.9 392.2,743.8" fill="#8c8c8c" stroke="#3e3e3e" stroke-width="0.35"/>
<polygon points="422.0,732.8 426.3,732.8 424.1,736.7" fill="#c8c8c8" stroke="#3e3e3e" stroke-width="0.35"/>
<polygon points="485.8,730.7 490.1,730.7 487.9,726.8" fill="#6c6c6c" stroke="#3e3e3e" stroke-width="0.35"/>
<polygon points="489.9,744.8 494.2,744.8 492.0,740.9" fill="#9c9c9c" stroke="#3e3e3e" stroke-width="0.35"/>
<polygon points="428.4,733.6 432.7,733.6 430.6,737.5" fill="#8c8c8c" stroke="#3e3e3e" stroke-width="0.35"/>
<polygon points="412.8,740.7 417.1,740.7 415.0,736.8" fill="#bababa" stroke="#3e3e3e" stroke-width="0.35"/>
<polygon points="382.7,745.2 387.0,745.2 384.9,741.3" fill="#7c7c7c" stroke="#3e3e3e" stroke-width="0.35"/>
<polygon points="434.9,731.7 439.2,731.7 437.0,727.8" fill="#9c9c9c" stroke="#3e3e3e" stroke-width="0.35"/>
<polygon points="450.5,748.8 454.8,748.8 452.7,752.7" fill="#bababa" stroke="#3e3e3e" stroke-width="0.35"/>
<polygon points="432.1,745.0 436.4,745.0 434.2,741.1" fill="#9c9c9c" stroke="#3e3e3e" stroke-width="0.35"/>
<polygon points="491.8,735.1 496.1,735.1 493.9,731.2" fill="#9c9c9c" stroke="#3e3e3e" stroke-width="0.35"/>
<polygon points="389.4,741.7 393.7,741.7 391.5,745.5" fill="#6c6c6c" stroke="#3e3e3e" stroke-width="0.35"/>
<polygon points="381.4,740.0 385.7,740.0 383.5,743.8" fill="#8c8c8c" stroke="#3e3e3e" stroke-width="0.35"/>
<polygon points="461.6,753.9 465.9,753.9 463.8,750.0" fill="#acacac" stroke="#3e3e3e" stroke-width="0.35"/>
<polygon points="471.3,742.5 475.6,742.5 473.4,746.4" fill="#6c6c6c" stroke="#3e3e3e" stroke-width="0.35"/>
<polygon points="430.2,748.8 434.5,748.8 432.4,752.7" fill="#6c6c6c" stroke="#3e3e3e" stroke-width="0.35"/>
<polygon points="410.6,742.9 414.9,742.9 412.7,746.8" fill="#9c9c9c" stroke="#3e3e3e" stroke-width="0.35"/>
<polygon points="447.4,753.6 451.7,753.6 449.5,757.5" fill="#acacac" stroke="#3e3e3e" stroke-width="0.35"/>
<polygon points="479.6,729.8 483.9,729.8 481.8,733.6" fill="#c8c8c8" stroke="#3e3e3e" stroke-width="0.35"/>
<polygon points="488.6,732.7 492.9,732.7 490.8,736.6" fill="#acacac" stroke="#3e3e3e" stroke-width="0.35"/>
<polygon points="374.6,754.2 378.9,754.2 376.8,758.1" fill="#6c6c6c" stroke="#3e3e3e" stroke-width="0.35"/>
<polygon points="389.0,750.6 393.3,750.6 391.1,746.7" fill="#bababa" stroke="#3e3e3e" stroke-width="0.35"/>
<polygon points="469.0,757.8 473.3,757.8 471.1,754.0" fill="#8c8c8c" stroke="#3e3e3e" stroke-width="0.35"/>
<polygon points="488.8,731.4 493.1,731.4 491.0,735.3" fill="#bababa" stroke="#3e3e3e" stroke-width="0.35"/>
<polygon points="476.7,755.0 481.0,755.0 478.9,751.1" fill="#acacac" stroke="#3e3e3e" stroke-width="0.35"/>
<polygon points="459.5,751.3 463.8,751.3 461.7,747.5" fill="#8c8c8c" stroke="#3e3e3e" stroke-width="0.35"/>
<polygon points="409.0,728.8 413.3,728.8 411.1,732.7" fill="#c8c8c8" stroke="#3e3e3e" stroke-width="0.35"/>
<polygon points="394.0,746.0 398.3,746.0 396.2,749.9" fill="#7c7c7c" stroke="#3e3e3e" stroke-width="0.35"/>
<polygon points="460.0,753.9 464.3,753.9 462.1,750.1" fill="#7c7c7c" stroke="#3e3e3e" stroke-width="0.35"/>
<polygon points="387.3,750.2 391.6,750.2 389.4,746.3" fill="#8c8c8c" stroke="#3e3e3e" stroke-width="0.35"/>
<polygon points="425.2,731.3 429.5,731.3 427.4,727.5" fill="#acacac" stroke="#3e3e3e" stroke-width="0.35"/>
<polygon points="482.2,751.8 486.5,751.8 484.3,755.7" fill="#acacac" stroke="#3e3e3e" stroke-width="0.35"/>
<polygon points="415.2,756.0 419.5,756.0 417.3,752.2" fill="#6c6c6c" stroke="#3e3e3e" stroke-width="0.35"/>
<polygon points="390.9,745.9 395.2,745.9 393.1,742.0" fill="#c8c8c8" stroke="#3e3e3e" stroke-width="0.35"/>
<polygon points="470.7,738.6 475.0,738.6 472.9,734.7" fill="#6c6c6c" stroke="#3e3e3e" stroke-width="0.35"/>
<polygon points="472.3,754.9 476.6,754.9 474.5,758.8" fill="#7c7c7c" stroke="#3e3e3e" stroke-width="0.35"/>
<polygon points="494.5,754.3 498.8,754.3 496.6,758.2" fill="#9c9c9c" stroke="#3e3e3e" stroke-width="0.35"/>
<polygon points="391.7,742.9 396.0,742.9 393.9,746.8" fill="#bababa" stroke="#3e3e3e" stroke-width="0.35"/>
<polygon points="500.3,757.0 504.6,757.0 502.5,753.1" fill="#bababa" stroke="#3e3e3e" stroke-width="0.35"/>
<polygon points="400.7,736.0 405.0,736.0 402.8,739.9" fill="#6c6c6c" stroke="#3e3e3e" stroke-width="0.35"/>
<polygon points="366.4,744.7 370.7,744.7 368.5,740.8" fill="#7c7c7c" stroke="#3e3e3e" stroke-width="0.35"/>
<polygon points="374.1,736.7 378.4,736.7 376.2,740.5" fill="#9c9c9c" stroke="#3e3e3e" stroke-width="0.35"/>
<polygon points="479.6,732.1 483.9,732.1 481.7,735.9" fill="#acacac" stroke="#3e3e3e" stroke-width="0.35"/>
<polygon points="394.8,744.2 399.1,744.2 396.9,740.3" fill="#8c8c8c" stroke="#3e3e3e" stroke-width="0.35"/>
<polygon points="404.0,750.9 408.3,750.9 406.1,754.7" fill="#7c7c7c" stroke="#3e3e3e" stroke-width="0.35"/>
<polygon points="449.9,748.6 454.2,748.6 452.1,744.8" fill="#acacac" stroke="#3e3e3e" stroke-width="0.35"/>
<polygon points="461.6,743.4 465.9,743.4 463.8,747.2" fill="#9c9c9c" stroke="#3e3e3e" stroke-width="0.35"/>
<polygon points="422.7,751.9 427.0,751.9 424.9,755.7" fill="#8c8c8c" stroke="#3e3e3e" stroke-width="0.35"/>
<polygon points="370.1,753.6 374.4,753.6 372.3,757.5" fill="#8c8c8c" stroke="#3e3e3e" stroke-width="0.35"/>
<polygon points="394.0,753.9 398.3,753.9 396.1,750.0" fill="#acacac" stroke="#3e3e3e" stroke-width="0.35"/>
<polygon points="399.2,734.8 403.5,734.8 401.4,738.7" fill="#9c9c9c" stroke="#3e3e3e" stroke-width="0.35"/>
<polygon points="395.2,743.7 399.5,743.7 397.4,739.9" fill="#6c6c6c" stroke="#3e3e3e" stroke-width="0.35"/>
<polygon points="381.7,745.3 386.0,745.3 383.8,741.4" fill="#bababa" stroke="#3e3e3e" stroke-width="0.35"/>
<polygon points="435.0,734.9 439.3,734.9 437.2,731.1" fill="#7c7c7c" stroke="#3e3e3e" stroke-width="0.35"/>
<polygon points="417.1,751.9 421.4,751.9 419.3,755.8" fill="#7c7c7c" stroke="#3e3e3e" stroke-width="0.35"/>
<polygon points="433.7,736.9 438.0,736.9 435.8,733.0" fill="#acacac" stroke="#3e3e3e" stroke-width="0.35"/>
<polygon points="503.4,755.0 507.7,755.0 505.6,758.9" fill="#7c7c7c" stroke="#3e3e3e" stroke-width="0.35"/>
<polygon points="365.2,746.2 369.5,746.2 367.3,750.0" fill="#6c6c6c" stroke="#3e3e3e" stroke-width="0.35"/>
<polygon points="367.4,756.3 371.7,756.3 369.5,752.5" fill="#9c9c9c" stroke="#3e3e3e" stroke-width="0.35"/>
<polygon points="475.2,737.8 479.5,737.8 477.3,741.7" fill="#c8c8c8" stroke="#3e3e3e" stroke-width="0.35"/>
<polygon points="428.9,702.4 433.2,702.4 431.1,706.3" fill="#7c7c7c" stroke="#3e3e3e" stroke-width="0.35"/>
<polygon points="426.1,711.9 430.4,711.9 428.3,708.0" fill="#7c7c7c" stroke="#3e3e3e" stroke-width="0.35"/>
<polygon points="424.2,716.0 428.5,716.0 426.4,712.1" fill="#9c9c9c" stroke="#3e3e3e" stroke-width="0.35"/>
<polygon points="429.1,716.2 433.4,716.2 431.3,712.4" fill="#6c6c6c" stroke="#3e3e3e" stroke-width="0.35"/>
<polygon points="434.6,715.6 438.9,715.6 436.7,719.5" fill="#8c8c8c" stroke="#3e3e3e" stroke-width="0.35"/>
<polygon points="422.3,705.7 426.6,705.7 424.4,709.6" fill="#acacac" stroke="#3e3e3e" stroke-width="0.35"/>
<polygon points="427.3,707.4 431.6,707.4 429.5,703.5" fill="#7c7c7c" stroke="#3e3e3e" stroke-width="0.35"/>
<polygon points="423.8,712.7 428.1,712.7 425.9,708.9" fill="#7c7c7c" stroke="#3e3e3e" stroke-width="0.35"/>
<polygon points="428.0,709.5 432.3,709.5 430.2,713.4" fill="#c8c8c8" stroke="#3e3e3e" stroke-width="0.35"/>
<polygon points="425.5,701.5 429.8,701.5 427.7,705.4" fill="#9c9c9c" stroke="#3e3e3e" stroke-width="0.35"/>
<polygon points="426.7,705.0 431.0,705.0 428.9,708.8" fill="#6c6c6c" stroke="#3e3e3e" stroke-width="0.35"/>
<polygon points="430.6,719.6 434.9,719.6 432.7,715.7" fill="#7c7c7c" stroke="#3e3e3e" stroke-width="0.35"/>
<polygon points="425.8,713.1 430.1,713.1 427.9,717.0" fill="#c8c8c8" stroke="#3e3e3e" stroke-width="0.35"/>
<polygon points="419.9,711.2 424.2,711.2 422.0,707.3" fill="#6c6c6c" stroke="#3e3e3e" stroke-width="0.35"/>
<polygon points="424.1,718.0 428.4,718.0 426.3,721.9" fill="#7c7c7c" stroke="#3e3e3e" stroke-width="0.35"/>
<polygon points="426.1,731.4 430.4,731.4 428.2,727.5" fill="#c8c8c8" stroke="#3e3e3e" stroke-width="0.35"/>
<polygon points="426.8,722.0 431.1,722.0 429.0,725.9" fill="#acacac" stroke="#3e3e3e" stroke-width="0.35"/>
<polygon points="423.5,718.7 427.8,718.7 425.6,722.6" fill="#9c9c9c" stroke="#3e3e3e" stroke-width="0.35"/>
<polygon points="424.8,722.3 429.1,722.3 427.0,726.2" fill="#acacac" stroke="#3e3e3e" stroke-width="0.35"/>
<polygon points="431.1,725.0 435.4,725.0 433.3,721.1" fill="#c8c8c8" stroke="#3e3e3e" stroke-width="0.35"/>
<polygon points="425.3,707.0 429.6,707.0 427.4,710.8" fill="#bababa" stroke="#3e3e3e" stroke-width="0.35"/>
<polygon points="418.9,726.9 423.2,726.9 421.1,730.8" fill="#6c6c6c" stroke="#3e3e3e" stroke-width="0.35"/>
<polygon points="417.4,721.6 421.7,721.6 419.5,725.5" fill="#6c6c6c" stroke="#3e3e3e" stroke-width="0.35"/>
<polygon points="417.6,718.7 421.9,718.7 419.7,714.8" fill="#7c7c7c" stroke="#3e3e3e" stroke-width="0.35"/>
<polygon points="426.4,726.0 430.7,726.0 428.6,729.9" fill="#6c6c6c" stroke="#3e3e3e" stroke-width="0.35"/>
<polygon points="429.2,717.3 433.5,717.3 431.4,721.2" fill="#8c8c8c" stroke="#3e3e3e" stroke-width="0.35"/>
<polygon points="431.6,718.3 435.9,718.3 433.7,722.2" fill="#9c9c9c" stroke="#3e3e3e" stroke-width="0.35"/>
<polygon points="423.6,701.8 427.9,701.8 425.7,705.7" fill="#bababa" stroke="#3e3e3e" stroke-width="0.35"/>
<polygon points="421.7,717.7 426.0,717.7 423.8,713.8" fill="#6c6c6c" stroke="#3e3e3e" stroke-width="0.35"/>
<polygon points="431.2,726.7 435.5,726.7 433.4,730.6" fill="#7c7c7c" stroke="#3e3e3e" stroke-width="0.35"/>
<polygon points="423.7,703.1 428.0,703.1 425.8,707.0" fill="#acacac" stroke="#3e3e3e" stroke-width="0.35"/>
<polygon points="426.4,710.0 430.7,710.0 428.5,706.1" fill="#6c6c6c" stroke="#3e3e3e" stroke-width="0.35"/>
<polygon points="429.2,705.9 433.5,705.9 431.3,709.8" fill="#c8c8c8" stroke="#3e3e3e" stroke-width="0.35"/>
<polygon points="424.1,707.2 428.4,707.2 426.2,703.3" fill="#bababa" stroke="#3e3e3e" stroke-width="0.35"/>
<polygon points="425.9,720.3 430.2,720.3 428.0,724.2" fill="#bababa" stroke="#3e3e3e" stroke-width="0.35"/>
<polygon points="426.1,711.8 430.4,711.8 428.3,715.7" fill="#c8c8c8" stroke="#3e3e3e" stroke-width="0.35"/>
<polygon points="426.7,707.4 431.0,707.4 428.9,711.3" fill="#8c8c8c" stroke="#3e3e3e" stroke-width="0.35"/>
<polygon points="433.6,723.5 437.9,723.5 435.8,719.7" fill="#6c6c6c" stroke="#3e3e3e" stroke-width="0.35"/>
<polygon points="435.2,705.1 439.5,705.1 437.3,709.0" fill="#bababa" stroke="#3e3e3e" stroke-width="0.35"/>
<polygon points="433.9,708.6 438.2,708.6 436.0,712.5" fill="#7c7c7c" stroke="#3e3e3e" stroke-width="0.35"/>
<polygon points="423.5,712.5 427.8,712.5 425.6,716.4" fill="#bababa" stroke="#3e3e3e" stroke-width="0.35"/>
<polygon points="432.0,725.0 436.3,725.0 434.2,728.9" fill="#acacac" stroke="#3e3e3e" stroke-width="0.35"/>
<polygon points="427.9,711.3 432.2,711.3 430.0,715.1" fill="#8c8c8c" stroke="#3e3e3e" stroke-width="0.35"/>
<polygon points="427.5,726.1 431.8,726.1 429.6,722.2" fill="#bababa" stroke="#3e3e3e" stroke-width="0.35"/>
<polygon points="422.0,712.4 426.3,712.4 424.2,716.3" fill="#7c7c7c" stroke="#3e3e3e" stroke-width="0.35"/>
<polygon points="423.1,719.9 427.4,719.9 425.2,723.8" fill="#7c7c7c" stroke="#3e3e3e" stroke-width="0.35"/>
<polygon points="432.5,715.7 436.8,715.7 434.7,711.8" fill="#9c9c9c" stroke="#3e3e3e" stroke-width="0.35"/>
<polygon points="429.1,707.7 433.4,707.7 431.2,711.6" fill="#8c8c8c" stroke="#3e3e3e" stroke-width="0.35"/>
<polygon points="426.2,712.5 430.5,712.5 428.3,716.3" fill="#bababa" stroke="#3e3e3e" stroke-width="0.35"/>
<polygon points="424.2,725.7 428.5,725.7 426.3,729.5" fill="#acacac" stroke="#3e3e3e" stroke-width="0.35"/>
<polygon points="426.4,717.5 430.7,717.5 428.6,721.4" fill="#9c9c9c" stroke="#3e3e3e" stroke-width="0.35"/>
<polygon points="430.5,729.0 434.8,729.0 432.7,725.2" fill="#6c6c6c" stroke="#3e3e3e" stroke-width="0.35"/>
<polygon points="431.8,718.1 436.1,718.1 434.0,714.2" fill="#9c9c9c" stroke="#3e3e3e" stroke-width="0.35"/>
<polygon points="428.1,701.8 432.4,701.8 430.3,705.7" fill="#bababa" stroke="#3e3e3e" stroke-width="0.35"/>
<polygon points="417.8,705.9 422.1,705.9 419.9,709.8" fill="#c8c8c8" stroke="#3e3e3e" stroke-width="0.35"/>
<polygon points="421.4,721.9 425.7,721.9 423.6,718.1" fill="#7c7c7c" stroke="#3e3e3e" stroke-width="0.35"/>
<polygon points="431.4,724.2 435.7,724.2 433.5,728.1" fill="#6c6c6c" stroke="#3e3e3e" stroke-width="0.35"/>
<polygon points="426.2,710.5 430.5,710.5 428.4,714.4" fill="#9c9c9c" stroke="#3e3e3e" stroke-width="0.35"/>
<polygon points="416.7,713.0 421.0,713.0 418.9,709.1" fill="#acacac" stroke="#3e3e3e" stroke-width="0.35"/>
<polygon points="426.5,708.0 430.8,708.0 428.7,711.9" fill="#c8c8c8" stroke="#3e3e3e" stroke-width="0.35"/>
<polygon points="424.7,710.2 429.0,710.2 426.8,706.3" fill="#9c9c9c" stroke="#3e3e3e" stroke-width="0.35"/>
<polygon points="424.6,709.4 428.9,709.4 426.8,705.5" fill="#acacac" stroke="#3e3e3e" stroke-width="0.35"/>
<polygon points="426.2,724.3 430.5,724.3 428.3,728.2" fill="#7c7c7c" stroke="#3e3e3e" stroke-width="0.35"/>
<polygon points="427.1,708.5 431.4,708.5 429.2,712.3" fill="#7c7c7c" stroke="#3e3e3e" stroke-width="0.35"/>
<polygon points="426.9,730.3 431.2,730.3 429.0,726.4" fill="#9c9c9c" stroke="#3e3e3e" stroke-width="0.35"/>
<polygon points="421.0,710.0 425.3,710.0 423.1,713.9" fill="#9c9c9c" stroke="#3e3e3e" stroke-width="0.35"/>
<polygon points="417.4,722.9 421.7,722.9 419.6,726.7" fill="#c8c8c8" stroke="#3e3e3e" stroke-width="0.35"/>
<polygon points="427.3,727.4 431.6,727.4 429.5,731.3" fill="#9c9c9c" stroke="#3e3e3e" stroke-width="0.35"/>
<polygon points="425.1,712.6 429.4,712.6 427.2,716.5" fill="#8c8c8c" stroke="#3e3e3e" stroke-width="0.35"/>
<polygon points="433.8,714.6 438.1,714.6 435.9,718.5" fill="#6c6c6c" stroke="#3e3e3e" stroke-width="0.35"/>
<polygon points="425.2,724.8 429.5,724.8 427.4,728.7" fill="#bababa" stroke="#3e3e3e" stroke-width="0.35"/>
<polygon points="430.2,724.9 434.5,724.9 432.4,728.8" fill="#6c6c6c" stroke="#3e3e3e" stroke-width="0.35"/>
<polygon points="422.2,711.4 426.5,711.4 424.3,707.6" fill="#6c6c6c" stroke="#3e3e3e" stroke-width="0.35"/>
<polygon points="419.9,707.8 424.2,707.8 422.0,711.7" fill="#9c9c9c" stroke="#3e3e3e" stroke-width="0.35"/>
<polygon points="428.6,710.5 432.9,710.5 430.7,714.3" fill="#6c6c6c" stroke="#3e3e3e" stroke-width="0.35"/>
<polygon points="426.1,713.0 430.4,713.0 428.2,709.2" fill="#bababa" stroke="#3e3e3e" stroke-width="0.35"/>
<polygon points="425.6,717.6 429.9,717.6 427.7,721.5" fill="#acacac" stroke="#3e3e3e" stroke-width="0.35"/>
<polygon points="420.8,708.8 425.1,708.8 422.9,712.7" fill="#9c9c9c" stroke="#3e3e3e" stroke-width="0.35"/>
<polygon points="431.5,726.7 435.8,726.7 433.6,730.6" fill="#acacac" stroke="#3e3e3e" stroke-width="0.35"/>
<polygon points="435.6,718.6 439.9,718.6 437.7,722.5" fill="#8c8c8c" stroke="#3e3e3e" stroke-width="0.35"/>
<polygon points="428.2,710.5 432.5,710.5 430.4,714.4" fill="#8c8c8c" stroke="#3e3e3e" stroke-width="0.35"/>
<polygon points="429.1,708.2 433.4,708.2 431.2,704.3" fill="#6c6c6c" stroke="#3e3e3e" stroke-width="0.35"/>
<polygon points="426.0,728.2 430.3,728.2 428.1,724.3" fill="#9c9c9c" stroke="#3e3e3e" stroke-width="0.35"/>
<polygon points="429.3,722.7 433.6,722.7 431.5,718.8" fill="#7c7c7c" stroke="#3e3e3e" stroke-width="0.35"/>
<polygon points="431.4,727.4 435.7,727.4 433.5,731.2" fill="#9c9c9c" stroke="#3e3e3e" stroke-width="0.35"/>
<polygon points="427.7,710.8 432.0,710.8 429.9,714.7" fill="#acacac" stroke="#3e3e3e" stroke-width="0.35"/>
<polygon points="431.0,725.9 435.3,725.9 433.1,729.8" fill="#7c7c7c" stroke="#3e3e3e" stroke-width="0.35"/>
<polygon points="423.7,719.7 428.0,719.7 425.8,715.8" fill="#7c7c7c" stroke="#3e3e3e" stroke-width="0.35"/>
<polygon points="428.0,702.0 432.3,702.0 430.1,705.8" fill="#8c8c8c" stroke="#3e3e3e" stroke-width="0.35"/>
<polygon points="431.6,704.8 435.9,704.8 433.7,708.7" fill="#6c6c6c" stroke="#3e3e3e" stroke-width="0.35"/>
<polygon points="420.9,716.9 425.2,716.9 423.1,720.7" fill="#9c9c9c" stroke="#3e3e3e" stroke-width="0.35"/>
<polygon points="428.0,724.2 432.3,724.2 430.1,728.1" fill="#9c9c9c" stroke="#3e3e3e" stroke-width="0.35"/>
<polygon points="421.3,725.0 425.6,725.0 423.4,728.8" fill="#8c8c8c" stroke="#3e3e3e" stroke-width="0.35"/>
<polygon points="423.7,702.1 428.0,702.1 425.9,705.9" fill="#bababa" stroke="#3e3e3e" stroke-width="0.35"/>
<polygon points="428.5,726.7 432.8,726.7 430.6,730.5" fill="#bababa" stroke="#3e3e3e" stroke-width="0.35"/>
<polygon points="428.3,726.5 432.6,726.5 430.4,730.3" fill="#7c7c7c" stroke="#3e3e3e" stroke-width="0.35"/>
<polygon points="435.6,718.9 439.9,718.9 437.7,715.1" fill="#bababa" stroke="#3e3e3e" stroke-width="0.35"/>
<polygon points="426.8,704.7 431.1,704.7 429.0,708.6" fill="#c8c8c8" stroke="#3e3e3e" stroke-width="0.35"/>
<polygon points="419.6,715.7 423.9,715.7 421.8,719.6" fill="#acacac" stroke="#3e3e3e" stroke-width="0.35"/>
<polygon points="432.3,728.2 436.6,728.2 434.5,724.3" fill="#8c8c8c" stroke="#3e3e3e" stroke-width="0.35"/>
<polygon points="421.5,726.8 425.8,726.8 423.7,730.6" fill="#bababa" stroke="#3e3e3e" stroke-width="0.35"/>
<polygon points="428.0,728.6 432.3,728.6 430.2,724.8" fill="#6c6c6c" stroke="#3e3e3e" stroke-width="0.35"/>
<polygon points="431.7,702.0 436.0,702.0 433.8,705.9" fill="#c8c8c8" stroke="#3e3e3e" stroke-width="0.35"/>
<polygon points="428.1,713.9 432.4,713.9 430.3,710.1" fill="#7c7c7c" stroke="#3e3e3e" stroke-width="0.35"/>
<polygon points="424.5,711.0 428.8,711.0 426.7,714.9" fill="#6c6c6c" stroke="#3e3e3e" stroke-width="0.35"/>
<polygon points="433.8,703.7 438.1,703.7 435.9,707.6" fill="#9c9c9c" stroke="#3e3e3e" stroke-width="0.35"/>
<polygon points="425.5,703.3 429.8,703.3 427.7,707.2" fill="#8c8c8c" stroke="#3e3e3e" stroke-width="0.35"/>
<polygon points="449.9,688.8 454.2,688.8 452.0,692.7" fill="#9c9c9c" stroke="#555" stroke-width="0.3"/>
<polygon points="453.0,694.7 457.3,694.7 455.1,690.8" fill="#b4b4b4" stroke="#555" stroke-width="0.3"/>
<polygon points="453.9,689.9 458.2,689.9 456.1,686.0" fill="#b4b4b4" stroke="#555" stroke-width="0.3"/>
<polygon points="451.8,715.3 456.1,715.3 454.0,719.2" fill="#c0c0c0" stroke="#555" stroke-width="0.3"/>
<polygon points="453.3,707.9 457.6,707.9 455.5,704.0" fill="#b4b4b4" stroke="#555" stroke-width="0.3"/>
<polygon points="454.3,725.2 458.6,725.2 456.4,721.3" fill="#a8a8a8" stroke="#555" stroke-width="0.3"/>
<polygon points="448.1,723.0 452.4,723.0 450.2,719.1" fill="#a8a8a8" stroke="#555" stroke-width="0.3"/>
<polygon points="452.2,686.8 456.5,686.8 454.3,690.7" fill="#c0c0c0" stroke="#555" stroke-width="0.3"/>
<polygon points="451.8,724.0 456.1,724.0 453.9,720.2" fill="#b4b4b4" stroke="#555" stroke-width="0.3"/>
<polygon points="458.9,713.8 463.2,713.8 461.0,717.7" fill="#a8a8a8" stroke="#555" stroke-width="0.3"/>
<polygon points="451.6,697.0 455.9,697.0 453.7,700.9" fill="#9c9c9c" stroke="#555" stroke-width="0.3"/>
<polygon points="450.2,704.2 454.5,704.2 452.3,700.3" fill="#b4b4b4" stroke="#555" stroke-width="0.3"/>
<polygon points="453.8,726.6 458.1,726.6 455.9,722.8" fill="#a8a8a8" stroke="#555" stroke-width="0.3"/>
<polygon points="457.1,693.8 461.4,693.8 459.3,697.7" fill="#9c9c9c" stroke="#555" stroke-width="0.3"/>
<polygon points="455.7,699.4 460.0,699.4 457.9,695.6" fill="#c0c0c0" stroke="#555" stroke-width="0.3"/>
<polygon points="449.5,701.6 453.8,701.6 451.7,705.5" fill="#9c9c9c" stroke="#555" stroke-width="0.3"/>
<polygon points="452.9,720.7 457.2,720.7 455.0,724.6" fill="#b4b4b4" stroke="#555" stroke-width="0.3"/>
<polygon points="452.9,712.4 457.2,712.4 455.1,716.3" fill="#c0c0c0" stroke="#555" stroke-width="0.3"/>
<polygon points="450.9,692.5 455.2,692.5 453.1,696.4" fill="#c0c0c0" stroke="#555" stroke-width="0.3"/>
<polygon points="453.8,693.1 458.1,693.1 455.9,697.0" fill="#9c9c9c" stroke="#555" stroke-width="0.3"/>
<polygon points="452.3,690.8 456.6,690.8 454.4,694.6" fill="#b4b4b4" stroke="#555" stroke-width="0.3"/>
<polygon points="452.5,702.3 456.8,702.3 454.7,706.2" fill="#c0c0c0" stroke="#555" stroke-width="0.3"/>
<polygon points="452.0,705.6 456.3,705.6 454.1,701.7" fill="#9c9c9c" stroke="#555" stroke-width="0.3"/>
<polygon points="452.5,721.0 456.8,721.0 454.7,717.2" fill="#c0c0c0" stroke="#555" stroke-width="0.3"/>
<polygon points="457.7,723.7 462.0,723.7 459.8,727.5" fill="#b4b4b4" stroke="#555" stroke-width="0.3"/>
<polygon points="451.4,707.3 455.7,707.3 453.6,703.4" fill="#b4b4b4" stroke="#555" stroke-width="0.3"/>
<polygon points="452.1,719.9 456.4,719.9 454.2,723.7" fill="#c0c0c0" stroke="#555" stroke-width="0.3"/>
<polygon points="454.2,712.5 458.5,712.5 456.4,716.4" fill="#a8a8a8" stroke="#555" stroke-width="0.3"/>
<polygon points="453.8,722.8 458.1,722.8 455.9,726.7" fill="#9c9c9c" stroke="#555" stroke-width="0.3"/>
<polygon points="453.0,691.7 457.3,691.7 455.1,687.8" fill="#9c9c9c" stroke="#555" stroke-width="0.3"/>
<polygon points="451.6,702.2 455.9,702.2 453.8,706.1" fill="#c0c0c0" stroke="#555" stroke-width="0.3"/>
<polygon points="453.8,710.5 458.1,710.5 456.0,714.3" fill="#c0c0c0" stroke="#555" stroke-width="0.3"/>
<polygon points="451.7,709.5 456.0,709.5 453.8,705.6" fill="#b4b4b4" stroke="#555" stroke-width="0.3"/>
<polygon points="452.6,686.8 456.9,686.8 454.8,690.7" fill="#a8a8a8" stroke="#555" stroke-width="0.3"/>
<polygon points="453.8,701.7 458.1,701.7 456.0,705.6" fill="#a8a8a8" stroke="#555" stroke-width="0.3"/>
<polygon points="448.9,714.6 453.2,714.6 451.0,710.8" fill="#c0c0c0" stroke="#555" stroke-width="0.3"/>
<polygon points="451.9,708.3 456.2,708.3 454.0,704.4" fill="#b4b4b4" stroke="#555" stroke-width="0.3"/>
<polygon points="454.9,692.6 459.2,692.6 457.1,696.5" fill="#9c9c9c" stroke="#555" stroke-width="0.3"/>
<polygon points="458.8,711.6 463.1,711.6 461.0,715.5" fill="#b4b4b4" stroke="#555" stroke-width="0.3"/>
<polygon points="454.5,697.7 458.8,697.7 456.7,693.9" fill="#9c9c9c" stroke="#555" stroke-width="0.3"/>
<polygon points="451.9,700.8 456.2,700.8 454.1,696.9" fill="#b4b4b4" stroke="#555" stroke-width="0.3"/>
<polygon points="455.6,695.5 459.9,695.5 457.8,691.7" fill="#9c9c9c" stroke="#555" stroke-width="0.3"/>
<polygon points="455.2,694.1 459.5,694.1 457.4,697.9" fill="#b4b4b4" stroke="#555" stroke-width="0.3"/>
<polygon points="451.6,700.6 455.9,700.6 453.8,696.7" fill="#a8a8a8" stroke="#555" stroke-width="0.3"/>
<polygon points="449.7,704.1 454.0,704.1 451.8,700.2" fill="#9c9c9c" stroke="#555" stroke-width="0.3"/>
<polygon points="480.8,729.4 485.1,729.4 482.9,725.6" fill="#6c6c6c" stroke="#3e3e3e" stroke-width="0.35"/>
<polygon points="503.2,721.6 507.5,721.6 505.4,717.7" fill="#bababa" stroke="#3e3e3e" stroke-width="0.35"/>
<polygon points="477.9,720.3 482.2,720.3 480.0,724.2" fill="#bababa" stroke="#3e3e3e" stroke-width="0.35"/>
<polygon points="467.9,718.2 472.2,718.2 470.1,722.1" fill="#bababa" stroke="#3e3e3e" stroke-width="0.35"/>
<polygon points="473.0,728.1 477.3,728.1 475.2,732.0" fill="#bababa" stroke="#3e3e3e" stroke-width="0.35"/>
<polygon points="471.0,726.0 475.3,726.0 473.1,722.1" fill="#8c8c8c" stroke="#3e3e3e" stroke-width="0.35"/>
<polygon points="494.9,731.7 499.2,731.7 497.0,727.8" fill="#9c9c9c" stroke="#3e3e3e" stroke-width="0.35"/>
<polygon points="487.3,721.2 491.6,721.2 489.5,725.0" fill="#7c7c7c" stroke="#3e3e3e" stroke-width="0.35"/>
<polygon points="488.3,729.4 492.6,729.4 490.5,725.5" fill="#9c9c9c" stroke="#3e3e3e" stroke-width="0.35"/>
<polygon points="491.9,726.4 496.2,726.4 494.1,730.3" fill="#c8c8c8" stroke="#3e3e3e" stroke-width="0.35"/>
<polygon points="479.4,727.5 483.7,727.5 481.6,723.7" fill="#c8c8c8" stroke="#3e3e3e" stroke-width="0.35"/>
<polygon points="493.4,720.5 497.7,720.5 495.6,724.4" fill="#7c7c7c" stroke="#3e3e3e" stroke-width="0.35"/>
<polygon points="492.3,727.8 496.6,727.8 494.5,731.7" fill="#6c6c6c" stroke="#3e3e3e" stroke-width="0.35"/>
<polygon points="478.7,725.8 483.0,725.8 480.9,729.7" fill="#acacac" stroke="#3e3e3e" stroke-width="0.35"/>
<polygon points="482.7,721.7 487.0,721.7 484.9,717.9" fill="#acacac" stroke="#3e3e3e" stroke-width="0.35"/>
<polygon points="494.7,728.0 499.0,728.0 496.8,724.1" fill="#9c9c9c" stroke="#3e3e3e" stroke-width="0.35"/>
<polygon points="491.4,722.9 495.7,722.9 493.6,726.8" fill="#6c6c6c" stroke="#3e3e3e" stroke-width="0.35"/>
<polygon points="485.7,723.0 490.0,723.0 487.9,726.9" fill="#acacac" stroke="#3e3e3e" stroke-width="0.35"/>
<polygon points="476.8,725.5 481.1,725.5 478.9,721.7" fill="#8c8c8c" stroke="#3e3e3e" stroke-width="0.35"/>
<polygon points="462.4,722.9 466.7,722.9 464.6,719.0" fill="#acacac" stroke="#3e3e3e" stroke-width="0.35"/>
<polygon points="475.4,725.6 479.7,725.6 477.5,729.5" fill="#7c7c7c" stroke="#3e3e3e" stroke-width="0.35"/>
<polygon points="495.3,730.1 499.6,730.1 497.4,726.3" fill="#bababa" stroke="#3e3e3e" stroke-width="0.35"/>
<polygon points="470.0,725.8 474.3,725.8 472.1,729.6" fill="#acacac" stroke="#3e3e3e" stroke-width="0.35"/>
<polygon points="489.2,722.5 493.5,722.5 491.4,718.6" fill="#acacac" stroke="#3e3e3e" stroke-width="0.35"/>
<polygon points="476.1,732.2 480.4,732.2 478.3,728.3" fill="#6c6c6c" stroke="#3e3e3e" stroke-width="0.35"/>
<polygon points="485.9,724.7 490.2,724.7 488.0,720.8" fill="#7c7c7c" stroke="#3e3e3e" stroke-width="0.35"/>
<polygon points="482.2,725.0 486.5,725.0 484.3,721.1" fill="#bababa" stroke="#3e3e3e" stroke-width="0.35"/>
<polygon points="467.4,721.4 471.7,721.4 469.6,725.2" fill="#8c8c8c" stroke="#3e3e3e" stroke-width="0.35"/>
<polygon points="479.5,727.0 483.8,727.0 481.7,723.2" fill="#bababa" stroke="#3e3e3e" stroke-width="0.35"/>
<polygon points="468.1,718.6 472.4,718.6 470.2,722.4" fill="#8c8c8c" stroke="#3e3e3e" stroke-width="0.35"/>
<polygon points="495.5,729.7 499.8,729.7 497.6,725.8" fill="#9c9c9c" stroke="#3e3e3e" stroke-width="0.35"/>
<polygon points="488.3,717.8 492.6,717.8 490.4,721.7" fill="#6c6c6c" stroke="#3e3e3e" stroke-width="0.35"/>
<polygon points="486.6,721.0 490.9,721.0 488.7,717.1" fill="#9c9c9c" stroke="#3e3e3e" stroke-width="0.35"/>
<polygon points="497.4,722.6 501.7,722.6 499.6,718.8" fill="#acacac" stroke="#3e3e3e" stroke-width="0.35"/>
<polygon points="495.6,728.7 499.9,728.7 497.8,724.8" fill="#6c6c6c" stroke="#3e3e3e" stroke-width="0.35"/>
<polygon points="476.4,723.3 480.7,723.3 478.6,727.2" fill="#6c6c6c" stroke="#3e3e3e" stroke-width="0.35"/>
<polygon points="487.0,727.8 491.3,727.8 489.1,723.9" fill="#7c7c7c" stroke="#3e3e3e" stroke-width="0.35"/>
<polygon points="505.8,725.3 510.1,725.3 507.9,721.4" fill="#bababa" stroke="#3e3e3e" stroke-width="0.35"/>
<polygon points="494.8,722.4 499.1,722.4 497.0,726.3" fill="#6c6c6c" stroke="#3e3e3e" stroke-width="0.35"/>
<polygon points="472.1,717.6 476.4,717.6 474.3,721.5" fill="#bababa" stroke="#3e3e3e" stroke-width="0.35"/>
<polygon points="406.0,730.7 410.3,730.7 408.1,726.8" fill="#9c9c9c" stroke="#3e3e3e" stroke-width="0.35"/>
<polygon points="406.5,718.2 410.8,718.2 408.7,722.0" fill="#8c8c8c" stroke="#3e3e3e" stroke-width="0.35"/>
<polygon points="405.0,718.8 409.3,718.8 407.2,722.6" fill="#acacac" stroke="#3e3e3e" stroke-width="0.35"/>
<polygon points="404.9,729.6 409.2,729.6 407.1,725.7" fill="#bababa" stroke="#3e3e3e" stroke-width="0.35"/>
<polygon points="409.7,721.1 414.0,721.1 411.8,725.0" fill="#c8c8c8" stroke="#3e3e3e" stroke-width="0.35"/>
<polygon points="398.4,720.4 402.7,720.4 400.5,724.3" fill="#7c7c7c" stroke="#3e3e3e" stroke-width="0.35"/>
<polygon points="410.1,728.1 414.4,728.1 412.3,724.3" fill="#6c6c6c" stroke="#3e3e3e" stroke-width="0.35"/>
<polygon points="400.4,733.3 404.7,733.3 402.5,729.4" fill="#6c6c6c" stroke="#3e3e3e" stroke-width="0.35"/>
<polygon points="406.4,720.2 410.7,720.2 408.6,716.3" fill="#bababa" stroke="#3e3e3e" stroke-width="0.35"/>
<polygon points="414.4,718.1 418.7,718.1 416.6,722.0" fill="#acacac" stroke="#3e3e3e" stroke-width="0.35"/>
<polygon points="404.8,725.3 409.1,725.3 406.9,721.4" fill="#acacac" stroke="#3e3e3e" stroke-width="0.35"/>
<polygon points="417.1,730.9 421.4,730.9 419.2,727.1" fill="#7c7c7c" stroke="#3e3e3e" stroke-width="0.35"/>
<polygon points="416.8,725.9 421.1,725.9 419.0,722.0" fill="#6c6c6c" stroke="#3e3e3e" stroke-width="0.35"/>
<polygon points="401.2,724.5 405.5,724.5 403.3,720.6" fill="#c8c8c8" stroke="#3e3e3e" stroke-width="0.35"/>
<polygon points="398.0,733.8 402.3,733.8 400.1,729.9" fill="#c8c8c8" stroke="#3e3e3e" stroke-width="0.35"/>
<polygon points="400.0,717.4 404.3,717.4 402.2,721.3" fill="#c8c8c8" stroke="#3e3e3e" stroke-width="0.35"/>
<polygon points="405.8,732.5 410.1,732.5 408.0,728.7" fill="#6c6c6c" stroke="#3e3e3e" stroke-width="0.35"/>
<polygon points="410.4,733.0 414.7,733.0 412.6,729.1" fill="#7c7c7c" stroke="#3e3e3e" stroke-width="0.35"/>
<polygon points="405.4,725.4 409.7,725.4 407.6,729.3" fill="#9c9c9c" stroke="#3e3e3e" stroke-width="0.35"/>
<polygon points="405.2,727.4 409.5,727.4 407.3,723.5" fill="#c8c8c8" stroke="#3e3e3e" stroke-width="0.35"/>
<polygon points="412.6,732.9 416.9,732.9 414.7,729.1" fill="#c8c8c8" stroke="#3e3e3e" stroke-width="0.35"/>
<polygon points="401.4,732.0 405.7,732.0 403.5,728.1" fill="#7c7c7c" stroke="#3e3e3e" stroke-width="0.35"/>
<polygon points="400.8,730.6 405.1,730.6 402.9,726.7" fill="#acacac" stroke="#3e3e3e" stroke-width="0.35"/>
<polygon points="411.1,725.9 415.4,725.9 413.2,729.8" fill="#7c7c7c" stroke="#3e3e3e" stroke-width="0.35"/>
<polygon points="403.7,717.3 408.0,717.3 405.9,721.2" fill="#acacac" stroke="#3e3e3e" stroke-width="0.35"/>
<polygon points="398.2,731.0 402.5,731.0 400.4,727.2" fill="#bababa" stroke="#3e3e3e" stroke-width="0.35"/>
<polygon points="409.5,722.6 413.8,722.6 411.6,726.5" fill="#6c6c6c" stroke="#3e3e3e" stroke-width="0.35"/>
<polygon points="397.9,722.0 402.2,722.0 400.1,718.1" fill="#bababa" stroke="#3e3e3e" stroke-width="0.35"/>
<polygon points="413.5,730.8 417.8,730.8 415.6,726.9" fill="#6c6c6c" stroke="#3e3e3e" stroke-width="0.35"/>
<polygon points="405.8,724.6 410.1,724.6 408.0,720.7" fill="#8c8c8c" stroke="#3e3e3e" stroke-width="0.35"/>
<polygon points="408.3,722.5 412.6,722.5 410.5,718.6" fill="#8c8c8c" stroke="#3e3e3e" stroke-width="0.35"/>
<polygon points="403.9,724.4 408.2,724.4 406.1,728.2" fill="#6c6c6c" stroke="#3e3e3e" stroke-width="0.35"/>
<polygon points="404.1,724.2 408.4,724.2 406.3,728.1" fill="#bababa" stroke="#3e3e3e" stroke-width="0.35"/>
<polygon points="407.2,728.2 411.5,728.2 409.3,732.1" fill="#6c6c6c" stroke="#3e3e3e" stroke-width="0.35"/>
<polygon points="398.7,726.1 403.0,726.1 400.9,722.2" fill="#c8c8c8" stroke="#3e3e3e" stroke-width="0.35"/>
<polygon points="429.3,679.0 433.7,679.0 431.5,683.0" fill="#a4a4a4" stroke="#555" stroke-width="0.3"/>
<polygon points="430.8,684.0 435.2,684.0 433.0,688.0" fill="#a4a4a4" stroke="#555" stroke-width="0.3"/>
<polygon points="426.8,688.0 431.2,688.0 429.0,692.0" fill="#a4a4a4" stroke="#555" stroke-width="0.3"/>
<polygon points="424.8,693.0 429.2,693.0 427.0,697.0" fill="#a4a4a4" stroke="#555" stroke-width="0.3"/>
<polygon points="428.8,695.0 433.2,695.0 431.0,699.0" fill="#a4a4a4" stroke="#555" stroke-width="0.3"/>
<polygon points="433.8,697.0 438.2,697.0 436.0,701.0" fill="#a4a4a4" stroke="#555" stroke-width="0.3"/>
<polygon points="421.8,698.0 426.2,698.0 424.0,702.0" fill="#a4a4a4" stroke="#555" stroke-width="0.3"/>
<polygon points="371.5,729.9 375.9,729.9 373.7,733.9" fill="#a4a4a4" stroke="#555" stroke-width="0.3"/>
<polygon points="377.1,733.5 381.5,733.5 379.3,737.5" fill="#a4a4a4" stroke="#555" stroke-width="0.3"/>
<polygon points="405.2,714.6 409.6,714.6 407.4,718.6" fill="#a4a4a4" stroke="#555" stroke-width="0.3"/>
<polygon points="402.6,717.6 407.0,717.6 404.8,721.6" fill="#a4a4a4" stroke="#555" stroke-width="0.3"/>
<polygon points="404.2,722.7 408.6,722.7 406.4,726.7" fill="#a4a4a4" stroke="#555" stroke-width="0.3"/>
<polygon points="416.9,716.6 421.3,716.6 419.1,720.6" fill="#a4a4a4" stroke="#555" stroke-width="0.3"/>
<polygon points="450.8,686.0 455.2,686.0 453.0,690.0" fill="#a4a4a4" stroke="#555" stroke-width="0.3"/>
<polygon points="453.8,691.0 458.2,691.0 456.0,695.0" fill="#a4a4a4" stroke="#555" stroke-width="0.3"/>
<polygon points="455.8,697.0 460.2,697.0 458.0,701.0" fill="#a4a4a4" stroke="#555" stroke-width="0.3"/>
<polygon points="451.8,702.0 456.2,702.0 454.0,706.0" fill="#a4a4a4" stroke="#555" stroke-width="0.3"/>
<polygon points="454.8,708.0 459.2,708.0 457.0,712.0" fill="#a4a4a4" stroke="#555" stroke-width="0.3"/>
<polygon points="449.8,714.0 454.2,714.0 452.0,718.0" fill="#a4a4a4" stroke="#555" stroke-width="0.3"/>
<polygon points="494.8,710.0 499.2,710.0 497.0,714.0" fill="#a4a4a4" stroke="#555" stroke-width="0.3"/>
<polygon points="498.8,716.0 503.2,716.0 501.0,720.0" fill="#a4a4a4" stroke="#555" stroke-width="0.3"/>
<polygon points="473.8,714.0 478.2,714.0 476.0,718.0" fill="#a4a4a4" stroke="#555" stroke-width="0.3"/>
<polygon points="477.8,713.0 482.2,713.0 480.0,717.0" fill="#a4a4a4" stroke="#555" stroke-width="0.3"/>
<polygon points="440.8,712.0 445.2,712.0 443.0,716.0" fill="#a4a4a4" stroke="#555" stroke-width="0.3"/>
<polygon points="443.8,718.0 448.2,718.0 446.0,722.0" fill="#a4a4a4" stroke="#555" stroke-width="0.3"/>
<polygon points="384.2,733.9 388.6,733.9 386.4,729.9" fill="#a4a4a4" stroke="#555" stroke-width="0.3"/>
<polygon points="409.3,726.0 413.7,726.0 411.5,722.0" fill="#a4a4a4" stroke="#555" stroke-width="0.3"/>
<polygon points="488.3,712.0 492.7,712.0 490.5,708.0" fill="#a4a4a4" stroke="#555" stroke-width="0.3"/>
<polygon points="467.8,711.0 472.2,711.0 470.0,707.0" fill="#a4a4a4" stroke="#555" stroke-width="0.3"/>
<polygon points="437.8,703.0 442.2,703.0 440.0,699.0" fill="#a4a4a4" stroke="#555" stroke-width="0.3"/>
<polygon points="460.8,724.0 465.2,724.0 463.0,720.0" fill="#a4a4a4" stroke="#555" stroke-width="0.3"/>
<polygon points="483.8,720.0 488.2,720.0 486.0,716.0" fill="#a4a4a4" stroke="#555" stroke-width="0.3"/>
</g>
<line x1="388.3" y1="714" x2="388.3" y2="739.4" stroke="#2a2af5" stroke-width="1.3"/>
<line x1="400.6" y1="720.3" x2="400.6" y2="738" stroke="#2a2af5" stroke-width="1.3"/>
<line x1="443.3" y1="678.6" x2="443.3" y2="738.3" stroke="#2a2af5" stroke-width="1.3"/>
<line x1="447.1" y1="727.7" x2="447.1" y2="738" stroke="#2a2af5" stroke-width="1.3"/>
<line x1="470.4" y1="719.9" x2="470.4" y2="735" stroke="#2a2af5" stroke-width="1.3"/>
<line x1="473.6" y1="716.7" x2="473.6" y2="735" stroke="#2a2af5" stroke-width="1.3"/>
<line x1="479.3" y1="720.3" x2="479.3" y2="735" stroke="#2a2af5" stroke-width="1.3"/>
<line x1="498.4" y1="709.1" x2="498.4" y2="730" stroke="#2a2af5" stroke-width="1.3"/>
<polygon points="458.2,672.8 462,678.8 458.2,684.8 454.4,678.8" fill="#111"/>
<polygon points="458.2,677 459.2,678.8 458.2,680.6 457.2,678.8" fill="#a040c0"/>
<line x1="368.1" y1="641.8" x2="368.1" y2="754.3" stroke="#333" stroke-width="0.8"/>
<line x1="508.2" y1="641.8" x2="508.2" y2="754.3" stroke="#333" stroke-width="0.8"/>
<line x1="368.1" y1="754.3" x2="508.2" y2="754.3" stroke="#333" stroke-width="0.8"/>
<line x1="365.6" y1="754.3" x2="368.1" y2="754.3" stroke="#333" stroke-width="0.8"/>
<line x1="508.2" y1="754.3" x2="510.7" y2="754.3" stroke="#333" stroke-width="0.8"/>
<text x="364.1" y="756.8" font-size="7" fill="#222" stroke="#222" stroke-width="0.17" text-anchor="end">0</text>
<line x1="365.6" y1="731.8" x2="368.1" y2="731.8" stroke="#333" stroke-width="0.8"/>
<line x1="508.2" y1="731.8" x2="510.7" y2="731.8" stroke="#333" stroke-width="0.8"/>
<text x="364.1" y="734.3" font-size="7" fill="#222" stroke="#222" stroke-width="0.17" text-anchor="end">2</text>
<line x1="365.6" y1="709.3" x2="368.1" y2="709.3" stroke="#333" stroke-width="0.8"/>
<line x1="508.2" y1="709.3" x2="510.7" y2="709.3" stroke="#333" stroke-width="0.8"/>
<text x="364.1" y="711.8" font-size="7" fill="#222" stroke="#222" stroke-width="0.17" text-anchor="end">4</text>
<line x1="365.6" y1="686.8" x2="368.1" y2="686.8" stroke="#333" stroke-width="0.8"/>
<line x1="508.2" y1="686.8" x2="510.7" y2="686.8" stroke="#333" stroke-width="0.8"/>
<text x="364.1" y="689.3" font-size="7" fill="#222" stroke="#222" stroke-width="0.17" text-anchor="end">6</text>
<line x1="365.6" y1="664.3" x2="368.1" y2="664.3" stroke="#333" stroke-width="0.8"/>
<line x1="508.2" y1="664.3" x2="510.7" y2="664.3" stroke="#333" stroke-width="0.8"/>
<text x="364.1" y="666.8" font-size="7" fill="#222" stroke="#222" stroke-width="0.17" text-anchor="end">8</text>
<line x1="365.6" y1="641.8" x2="368.1" y2="641.8" stroke="#333" stroke-width="0.8"/>
<line x1="508.2" y1="641.8" x2="510.7" y2="641.8" stroke="#333" stroke-width="0.8"/>
<text x="364.1" y="644.3" font-size="7" fill="#222" stroke="#222" stroke-width="0.17" text-anchor="end">10</text>
<line x1="376.3" y1="754.3" x2="376.3" y2="756.8" stroke="#333" stroke-width="0.8"/>
<text x="376.3" y="761.9" font-size="6.8" fill="#222" stroke="#222" stroke-width="0.16" text-anchor="middle">23.50</text>
<line x1="415.7" y1="754.3" x2="415.7" y2="756.8" stroke="#333" stroke-width="0.8"/>
<text x="415.7" y="761.9" font-size="6.8" fill="#222" stroke="#222" stroke-width="0.16" text-anchor="middle">24.00</text>
<line x1="455.1" y1="754.3" x2="455.1" y2="756.8" stroke="#333" stroke-width="0.8"/>
<text x="455.1" y="761.9" font-size="6.8" fill="#222" stroke="#222" stroke-width="0.16" text-anchor="middle">24.50</text>
<line x1="493.7" y1="754.3" x2="493.7" y2="756.8" stroke="#333" stroke-width="0.8"/>
<text x="493.7" y="761.9" font-size="6.8" fill="#222" stroke="#222" stroke-width="0.16" text-anchor="middle">25.00</text>
<line x1="368.1" y1="754.3" x2="368.1" y2="756.8" stroke="#333" stroke-width="0.8"/>
<text x="437.9" y="773.7" font-size="8.4" fill="#000" text-anchor="middle" font-weight="bold">Chromosome 3 (Mb)</text>
<text x="437.2" y="656.9" font-size="9.3" fill="#000" text-anchor="middle" font-weight="bold">SCZ max SNP PIP=1</text>
<text x="397.3" y="670.6" font-size="6.9" fill="#000" font-weight="bold">3:24554704_A/G</text>
<text x="371" y="690.5" font-size="6.9" fill="#000" font-weight="bold">3:24215973_T/C</text>
<line x1="425" y1="687" x2="431" y2="681" stroke="#333" stroke-width="0.5"/>
<line x1="451" y1="671" x2="455.5" y2="675" stroke="#333" stroke-width="0.5"/>
<text x="67.8" y="795.8" font-size="7.6" font-style="italic" fill="#222">←DIRAS2</text>
<line x1="80.9" y1="799.6" x2="88.8" y2="799.6" stroke="#3535a0" stroke-width="1"/>
<line x1="80.9" y1="797.8" x2="80.9" y2="801.4" stroke="#3535a0" stroke-width="0.8"/>
<line x1="88.8" y1="797.8" x2="88.8" y2="801.4" stroke="#3535a0" stroke-width="0.8"/>
<rect x="123.5" y="787.3" width="24.2" height="16.8" fill="#d3d3ec" stroke="#9090b8" stroke-width="0.8" rx="2"/>
<text x="125" y="795.5" font-size="8" font-style="italic" fill="#222">SYK→</text>
<line x1="125" y1="799.5" x2="146" y2="799.5" stroke="#3535a0" stroke-width="1"/>
<line x1="125" y1="797.3" x2="125" y2="801.7" stroke="#3535a0" stroke-width="0.8"/>
<line x1="135" y1="797.3" x2="135" y2="801.7" stroke="#3535a0" stroke-width="0.8"/>
<line x1="139" y1="797.3" x2="139" y2="801.7" stroke="#3535a0" stroke-width="0.8"/>
<line x1="142" y1="797.3" x2="142" y2="801.7" stroke="#3535a0" stroke-width="0.8"/>
<line x1="145" y1="797.3" x2="145" y2="801.7" stroke="#3535a0" stroke-width="0.8"/>
<text x="368.1" y="793.6" font-size="8" font-style="italic" fill="#222">UBE2E2→</text>
<line x1="368.1" y1="797" x2="387.3" y2="797" stroke="#3535a0" stroke-width="1"/>
<line x1="380" y1="795" x2="380" y2="799" stroke="#3535a0" stroke-width="0.8"/>
<line x1="383" y1="795" x2="383" y2="799" stroke="#3535a0" stroke-width="0.8"/>
<line x1="387.3" y1="795" x2="387.3" y2="799" stroke="#3535a0" stroke-width="0.8"/>
<rect x="426.7" y="784.7" width="31.5" height="16.5" fill="#d3d3ec" stroke="#9090b8" stroke-width="0.8" rx="2"/>
<text x="428.3" y="793" font-size="7.6" font-style="italic" fill="#222">←THRB</text>
<line x1="428.5" y1="797" x2="456.5" y2="797" stroke="#3535a0" stroke-width="1"/>
<line x1="429" y1="794.8" x2="429" y2="799.2" stroke="#3535a0" stroke-width="0.8"/>
<line x1="430" y1="794.8" x2="430" y2="799.2" stroke="#3535a0" stroke-width="0.8"/>
<line x1="431" y1="794.8" x2="431" y2="799.2" stroke="#3535a0" stroke-width="0.8"/>
<line x1="434" y1="794.8" x2="434" y2="799.2" stroke="#3535a0" stroke-width="0.8"/>
<line x1="437" y1="794.8" x2="437" y2="799.2" stroke="#3535a0" stroke-width="0.8"/>
<line x1="440" y1="794.8" x2="440" y2="799.2" stroke="#3535a0" stroke-width="0.8"/>
<line x1="444" y1="794.8" x2="444" y2="799.2" stroke="#3535a0" stroke-width="0.8"/>
<rect x="33.4" y="810.1" width="116.4" height="7.1" fill="#fff" stroke="#111" stroke-width="0.8"/>
<rect x="38.6" y="810.5" width="59.1" height="6.3" fill="#55d655" stroke="none" stroke-width="1"/>
<line x1="97.7" y1="810.1" x2="97.7" y2="817.2" stroke="#222" stroke-width="0.7"/>
<text x="38.6" y="824.6" font-size="5" fill="#555" stroke="#555" stroke-width="0.12" text-anchor="middle">0</text>
<text x="97.7" y="824.6" font-size="5" fill="#555" stroke="#555" stroke-width="0.12" text-anchor="middle">5.6</text>
<text x="144.5" y="824.6" font-size="5" fill="#555" stroke="#555" stroke-width="0.12" text-anchor="middle">10</text>
<rect x="383.4" y="808.8" width="115.6" height="7.9" fill="#fff" stroke="#111" stroke-width="0.8"/>
<rect x="388.6" y="809.2" width="97.2" height="7.1" fill="#55d655" stroke="none" stroke-width="1"/>
<line x1="427.5" y1="808.8" x2="427.5" y2="816.7" stroke="#222" stroke-width="0.7"/>
<text x="388.6" y="824.1" font-size="5" fill="#555" stroke="#555" stroke-width="0.12" text-anchor="middle">0</text>
<text x="427.5" y="824.1" font-size="5" fill="#555" stroke="#555" stroke-width="0.12" text-anchor="middle">5.6</text>
<text x="459" y="824.1" font-size="5" fill="#555" stroke="#555" stroke-width="0.12" text-anchor="middle">10</text>
<rect x="26.3" y="830.4" width="134.5" height="25.2" fill="#ebebeb" stroke="#000" stroke-width="1.2"/>
<circle cx="41.3" cy="843" r="2" fill="#f5b800" stroke="#333" stroke-width="0.5"/>
<line x1="41.3" y1="855.6" x2="41.3" y2="858.1" stroke="#333" stroke-width="0.8"/>
<text transform="translate(43.3 860.6) rotate(-45)" x="0" y="3" font-size="8.8" fill="#444" text-anchor="end">Astro.</text>
<circle cx="67" cy="843" r="1.5" fill="#f5b800" stroke="#333" stroke-width="0.5"/>
<line x1="67" y1="855.6" x2="67" y2="858.1" stroke="#333" stroke-width="0.8"/>
<text transform="translate(69.0 860.6) rotate(-45)" x="0" y="3" font-size="8.8" fill="#444" text-anchor="end">Endo.</text>
<circle cx="93.3" cy="843" r="6.8" fill="#f42a00" stroke="#333" stroke-width="0.5"/>
<line x1="93.3" y1="855.6" x2="93.3" y2="858.1" stroke="#333" stroke-width="0.8"/>
<text transform="translate(95.3 860.6) rotate(-45)" x="0" y="3" font-size="8.8" fill="#444" text-anchor="end">Microglia</text>
<circle cx="119" cy="843" r="1.5" fill="#f5b800" stroke="#333" stroke-width="0.5"/>
<line x1="119" y1="855.6" x2="119" y2="858.1" stroke="#333" stroke-width="0.8"/>
<text transform="translate(121.0 860.6) rotate(-45)" x="0" y="3" font-size="8.8" fill="#444" text-anchor="end">Neurons</text>
<circle cx="145" cy="843" r="3.4" fill="#f5b800" stroke="#333" stroke-width="0.5"/>
<line x1="145" y1="855.6" x2="145" y2="858.1" stroke="#333" stroke-width="0.8"/>
<text transform="translate(147.0 860.6) rotate(-45)" x="0" y="3" font-size="8.8" fill="#444" text-anchor="end">Oligo.</text>
<rect x="372.1" y="830.6" width="133.4" height="25" fill="#ebebeb" stroke="#000" stroke-width="1.2"/>
<circle cx="386.8" cy="843.1" r="2.8" fill="#f5b800" stroke="#333" stroke-width="0.5"/>
<line x1="386.8" y1="855.6" x2="386.8" y2="858.1" stroke="#333" stroke-width="0.8"/>
<text transform="translate(388.8 860.6) rotate(-45)" x="0" y="3" font-size="8.8" fill="#444" text-anchor="end">Astro.</text>
<circle cx="412.8" cy="843.1" r="2.6" fill="#f5b800" stroke="#333" stroke-width="0.5"/>
<line x1="412.8" y1="855.6" x2="412.8" y2="858.1" stroke="#333" stroke-width="0.8"/>
<text transform="translate(414.8 860.6) rotate(-45)" x="0" y="3" font-size="8.8" fill="#444" text-anchor="end">Endo.</text>
<circle cx="438.5" cy="843.1" r="1.5" fill="#f5b800" stroke="#333" stroke-width="0.5"/>
<line x1="438.5" y1="855.6" x2="438.5" y2="858.1" stroke="#333" stroke-width="0.8"/>
<text transform="translate(440.5 860.6) rotate(-45)" x="0" y="3" font-size="8.8" fill="#444" text-anchor="end">Microglia</text>
<circle cx="464.3" cy="843.1" r="7" fill="#f42a00" stroke="#333" stroke-width="0.5"/>
<line x1="464.3" y1="855.6" x2="464.3" y2="858.1" stroke="#333" stroke-width="0.8"/>
<text transform="translate(466.3 860.6) rotate(-45)" x="0" y="3" font-size="8.8" fill="#444" text-anchor="end">Neurons</text>
<circle cx="490.3" cy="843.1" r="2.7" fill="#f5b800" stroke="#333" stroke-width="0.5"/>
<line x1="490.3" y1="855.6" x2="490.3" y2="858.1" stroke="#333" stroke-width="0.8"/>
<text transform="translate(492.3 860.6) rotate(-45)" x="0" y="3" font-size="8.8" fill="#444" text-anchor="end">Oligo.</text>
<text transform="translate(7.6 842) rotate(-90)" x="0" y="0" font-size="9.3" text-anchor="middle" fill="#000">Brain cell gene</text>
<text transform="translate(17.4 842) rotate(-90)" x="0" y="0" font-size="9.3" text-anchor="middle" fill="#000">expression</text>
<rect x="225.2" y="640.7" width="114.3" height="137.5" fill="#f1f1f1" stroke="none" stroke-width="1"/>
<line x1="222.7" y1="651" x2="225.2" y2="651" stroke="#333" stroke-width="0.8"/>
<text x="220.1" y="654" font-size="8.3" fill="#4d4d4d" stroke="#4d4d4d" stroke-width="0.20" text-anchor="end">1.00</text>
<line x1="222.7" y1="682.8" x2="225.2" y2="682.8" stroke="#333" stroke-width="0.8"/>
<text x="220.1" y="685.8" font-size="8.3" fill="#4d4d4d" stroke="#4d4d4d" stroke-width="0.20" text-anchor="end">0.75</text>
<line x1="222.7" y1="714.6" x2="225.2" y2="714.6" stroke="#333" stroke-width="0.8"/>
<text x="220.1" y="717.6" font-size="8.3" fill="#4d4d4d" stroke="#4d4d4d" stroke-width="0.20" text-anchor="end">0.50</text>
<line x1="222.7" y1="746.4" x2="225.2" y2="746.4" stroke="#333" stroke-width="0.8"/>
<text x="220.1" y="749.4" font-size="8.3" fill="#4d4d4d" stroke="#4d4d4d" stroke-width="0.20" text-anchor="end">0.25</text>
<line x1="222.7" y1="778.2" x2="225.2" y2="778.2" stroke="#333" stroke-width="0.8"/>
<text x="220.1" y="781.2" font-size="8.3" fill="#4d4d4d" stroke="#4d4d4d" stroke-width="0.20" text-anchor="end">0.00</text>
<path d="M230.4,778.2 A10.1,10.1 0 0 0 250.7,778.2" fill="none" stroke="#e3d3e6" stroke-width="0.9"/>
<path d="M230.4,778.2 A30.5,30.5 0 0 0 291.5,778.2" fill="none" stroke="#e3d3e6" stroke-width="0.9"/>
<path d="M230.4,778.2 A36.5,36.5 0 0 0 303.4,778.2" fill="none" stroke="#e3d3e6" stroke-width="0.9"/>
<path d="M230.4,778.2 A52.1,52.1 0 0 0 334.6,778.2" fill="none" stroke="#e3d3e6" stroke-width="0.9"/>
<path d="M250.7,778.2 A20.4,20.4 0 0 0 291.5,778.2" fill="none" stroke="#e3d3e6" stroke-width="0.9"/>
<path d="M250.7,778.2 A26.3,26.3 0 0 0 303.4,778.2" fill="none" stroke="#e3d3e6" stroke-width="0.9"/>
<path d="M250.7,778.2 A42.0,42.0 0 0 0 334.6,778.2" fill="none" stroke="#e3d3e6" stroke-width="0.9"/>
<path d="M291.5,778.2 A21.6,21.6 0 0 0 334.6,778.2" fill="none" stroke="#e3d3e6" stroke-width="0.9"/>
<path d="M303.4,778.2 A15.6,15.6 0 0 0 334.6,778.2" fill="none" stroke="#e3d3e6" stroke-width="0.9"/>
<path d="M291.5,778.2 A5.9,5.9 0 0 0 303.4,778.2" fill="none" stroke="#8a5a9e" stroke-width="1.3"/>
<line x1="250.7" y1="667" x2="250.7" y2="778.2" stroke="#777" stroke-width="0.6" stroke-dasharray="0.8,1.6"/>
<line x1="291.4" y1="706" x2="291.4" y2="778.2" stroke="#777" stroke-width="0.6" stroke-dasharray="0.8,1.6"/>
<line x1="303.2" y1="745" x2="303.2" y2="778.2" stroke="#777" stroke-width="0.6" stroke-dasharray="0.8,1.6"/>
<line x1="225.2" y1="778.2" x2="339.5" y2="778.2" stroke="#222" stroke-width="1.2"/>
<circle cx="250.7" cy="651" r="2.4" fill="#e00" stroke="#222" stroke-width="0.6"/>
<text x="250.7" y="664.1" font-size="6.5" fill="#111" stroke="#111" stroke-width="0.16" text-anchor="middle">SYK</text>
<circle cx="291.4" cy="704.3" r="2.2" fill="#8ccbe8" stroke="#222" stroke-width="0.6"/>
<text x="285.6" y="717.1" font-size="6.5" fill="#111" stroke="#111" stroke-width="0.16" text-anchor="middle">AUH</text>
<circle cx="303.2" cy="743.7" r="2.2" fill="#8ccbe8" stroke="#222" stroke-width="0.6"/>
<text x="308.5" y="736.1" font-size="6.5" fill="#111" stroke="#111" stroke-width="0.16" text-anchor="middle">NFIL3</text>
<circle cx="230.4" cy="771" r="2.2" fill="#8ccbe8" stroke="#222" stroke-width="0.6"/>
<text x="249.6" y="767.8" font-size="6.5" fill="#111" stroke="#111" stroke-width="0.16" text-anchor="middle">DIRAS2</text>
<circle cx="334.2" cy="772" r="2.2" fill="#8ccbe8" stroke="#222" stroke-width="0.6"/>
<text x="322" y="764.6" font-size="6.5" fill="#111" stroke="#111" stroke-width="0.16" text-anchor="middle">ROR2</text>
<rect x="225.2" y="640.7" width="114.3" height="222.8" fill="none" stroke="#555" stroke-width="0.8"/>
<line x1="249.6" y1="863.5" x2="249.6" y2="866" stroke="#333" stroke-width="0.8"/>
<text x="249.6" y="875.3" font-size="8" fill="#4d4d4d" stroke="#4d4d4d" stroke-width="0.19" text-anchor="middle">93.6</text>
<line x1="277.2" y1="863.5" x2="277.2" y2="866" stroke="#333" stroke-width="0.8"/>
<text x="277.2" y="875.3" font-size="8" fill="#4d4d4d" stroke="#4d4d4d" stroke-width="0.19" text-anchor="middle">93.9</text>
<line x1="303.5" y1="863.5" x2="303.5" y2="866" stroke="#333" stroke-width="0.8"/>
<text x="303.5" y="875.3" font-size="8" fill="#4d4d4d" stroke="#4d4d4d" stroke-width="0.19" text-anchor="middle">94.2</text>
<line x1="332.9" y1="863.5" x2="332.9" y2="866" stroke="#333" stroke-width="0.8"/>
<text x="332.9" y="875.3" font-size="8" fill="#4d4d4d" stroke="#4d4d4d" stroke-width="0.19" text-anchor="middle">94.5</text>
<text x="282.3" y="887.7" font-size="10.4" fill="#000" stroke="#000" stroke-width="0.22" text-anchor="middle">chromosome 9 position (Mb)</text>
<text transform="translate(195.2 752.5) rotate(-90)" x="0" y="3.7" font-size="10.4" fill="#000" stroke="#000" stroke-width="0.22" text-anchor="middle">Gene fine-mapping PIP</text>
<circle cx="294.3" cy="650" r="2.4" fill="#e00" stroke="#222" stroke-width="0.6"/>
<text x="299.5" y="652.8" font-size="7.9" fill="#000" stroke="#000" stroke-width="0.19">Druggable</text>
<rect x="243" y="822.2" width="80.2" height="32.9" fill="#fff" stroke="#333" stroke-width="0.8"/>
<text x="283.1" y="833.2" font-size="7.3" fill="#111" stroke="#111" stroke-width="0.18" text-anchor="middle">SNP set correlation</text>
<rect x="251.5" y="837.7" width="16.2" height="8.7" fill="#eadcea" stroke="none" stroke-width="1"/>
<rect x="267.6" y="837.7" width="16.2" height="8.7" fill="#c4a2c8" stroke="none" stroke-width="1"/>
<rect x="283.6" y="837.7" width="16.2" height="8.7" fill="#9a6aa5" stroke="none" stroke-width="1"/>
<rect x="299.6" y="837.7" width="16.2" height="8.7" fill="#6b2c7c" stroke="none" stroke-width="1"/>
<text x="251.5" y="852.9" font-size="5" fill="#111" stroke="#111" stroke-width="0.12" text-anchor="middle">0.00</text>
<text x="267.6" y="852.9" font-size="5" fill="#111" stroke="#111" stroke-width="0.12" text-anchor="middle">0.25</text>
<text x="283.6" y="852.9" font-size="5" fill="#111" stroke="#111" stroke-width="0.12" text-anchor="middle">0.50</text>
<text x="299.6" y="852.9" font-size="5" fill="#111" stroke="#111" stroke-width="0.12" text-anchor="middle">0.75</text>
<text x="315.7" y="852.9" font-size="5" fill="#111" stroke="#111" stroke-width="0.12" text-anchor="middle">1.00</text>
<line x1="243" y1="667" x2="257.5" y2="667" stroke="#111" stroke-width="1.2"/>
<line x1="231.5" y1="769" x2="236" y2="766" stroke="#333" stroke-width="0.4"/>
<line x1="331" y1="765" x2="333.5" y2="769.5" stroke="#333" stroke-width="0.4"/>
<line x1="290" y1="705" x2="287.5" y2="711" stroke="#333" stroke-width="0.4"/>
<line x1="304" y1="741" x2="306.5" y2="737" stroke="#333" stroke-width="0.4"/>
<rect x="557.5" y="640.7" width="114.6" height="145.8" fill="#f1f1f1" stroke="none" stroke-width="1"/>
<line x1="555" y1="651" x2="557.5" y2="651" stroke="#333" stroke-width="0.8"/>
<text x="552.4" y="654" font-size="8.3" fill="#4d4d4d" stroke="#4d4d4d" stroke-width="0.20" text-anchor="end">1.00</text>
<line x1="555" y1="684.9" x2="557.5" y2="684.9" stroke="#333" stroke-width="0.8"/>
<text x="552.4" y="687.8" font-size="8.3" fill="#4d4d4d" stroke="#4d4d4d" stroke-width="0.20" text-anchor="end">0.75</text>
<line x1="555" y1="718.8" x2="557.5" y2="718.8" stroke="#333" stroke-width="0.8"/>
<text x="552.4" y="721.7" font-size="8.3" fill="#4d4d4d" stroke="#4d4d4d" stroke-width="0.20" text-anchor="end">0.50</text>
<line x1="555" y1="752.6" x2="557.5" y2="752.6" stroke="#333" stroke-width="0.8"/>
<text x="552.4" y="755.6" font-size="8.3" fill="#4d4d4d" stroke="#4d4d4d" stroke-width="0.20" text-anchor="end">0.25</text>
<line x1="555" y1="786.5" x2="557.5" y2="786.5" stroke="#333" stroke-width="0.8"/>
<text x="552.4" y="789.5" font-size="8.3" fill="#4d4d4d" stroke="#4d4d4d" stroke-width="0.20" text-anchor="end">0.00</text>
<path d="M562.7,786.5 A25.8,25.8 0 0 0 614.3,786.5" fill="none" stroke="#b596c2" stroke-width="1.0"/>
<path d="M562.7,786.5 A28.5,28.5 0 0 0 619.8,786.5" fill="none" stroke="#b596c2" stroke-width="1.0"/>
<path d="M562.7,786.5 A30.1,30.1 0 0 0 622.9,786.5" fill="none" stroke="#b596c2" stroke-width="1.0"/>
<path d="M562.7,786.5 A32.4,32.4 0 0 0 627.6,786.5" fill="none" stroke="#b596c2" stroke-width="1.0"/>
<path d="M614.3,786.5 A26.5,26.5 0 0 0 667.2,786.5" fill="none" stroke="#e3d3e6" stroke-width="0.9"/>
<path d="M619.8,786.5 A23.7,23.7 0 0 0 667.2,786.5" fill="none" stroke="#e3d3e6" stroke-width="0.9"/>
<path d="M622.9,786.5 A22.2,22.2 0 0 0 667.2,786.5" fill="none" stroke="#e3d3e6" stroke-width="0.9"/>
<path d="M627.6,786.5 A19.8,19.8 0 0 0 667.2,786.5" fill="none" stroke="#e3d3e6" stroke-width="0.9"/>
<path d="M562.7,786.5 A52.2,52.2 0 0 0 667.2,786.5" fill="none" stroke="#efe6f0" stroke-width="0.9"/>
<path d="M614.3,786.5 A4.3,4.3 0 0 0 622.9,786.5" fill="none" stroke="#8a5a9e" stroke-width="1.1"/>
<path d="M614.3,786.5 A6.7,6.7 0 0 0 627.6,786.5" fill="none" stroke="#8a5a9e" stroke-width="1.0"/>
<path d="M619.8,786.5 A3.9,3.9 0 0 0 627.6,786.5" fill="none" stroke="#8a5a9e" stroke-width="1.0"/>
<path d="M614.3,786.5 A2.8,2.8 0 0 0 619.8,786.5" fill="none" stroke="#8a5a9e" stroke-width="1.0"/>
<line x1="667.1" y1="667" x2="667.1" y2="786.5" stroke="#777" stroke-width="0.6" stroke-dasharray="0.8,1.6"/>
<line x1="614.6" y1="726" x2="614.6" y2="786.5" stroke="#777" stroke-width="0.6" stroke-dasharray="0.8,1.6"/>
<line x1="627.7" y1="738" x2="627.7" y2="786.5" stroke="#777" stroke-width="0.6" stroke-dasharray="0.8,1.6"/>
<line x1="557.5" y1="786.5" x2="672.1" y2="786.5" stroke="#222" stroke-width="1.2"/>
<circle cx="667.1" cy="651" r="2.4" fill="#e00" stroke="#222" stroke-width="0.6"/>
<text x="656.5" y="664.1" font-size="6.5" fill="#111" stroke="#111" stroke-width="0.16" text-anchor="middle">THRB</text>
<circle cx="614.6" cy="724" r="2.2" fill="#8ccbe8" stroke="#222" stroke-width="0.6"/>
<text x="609.4" y="716.4" font-size="6.5" fill="#111" stroke="#111" stroke-width="0.16" text-anchor="middle">UBE2E1</text>
<circle cx="627.7" cy="735.9" r="2.4" fill="#e00" stroke="#222" stroke-width="0.6"/>
<text x="646" y="742.9" font-size="6.5" fill="#111" stroke="#111" stroke-width="0.16" text-anchor="middle">NR1D2</text>
<circle cx="622.5" cy="777.8" r="3.2" fill="#222" stroke="#222" stroke-width="0.6"/>
<text x="617.8" y="761" font-size="6.5" fill="#111" stroke="#111" stroke-width="0.16" text-anchor="middle">NKIRAS1</text>
<circle cx="622.7" cy="778.1" r="2.4" fill="#e00" stroke="#222" stroke-width="0.6"/>
<text x="640.3" y="779.6" font-size="6.5" fill="#111" stroke="#111" stroke-width="0.16" text-anchor="middle">RPL15</text>
<circle cx="562.3" cy="783.4" r="2.2" fill="#8ccbe8" stroke="#222" stroke-width="0.6"/>
<text x="577.4" y="775.9" font-size="6.5" fill="#111" stroke="#111" stroke-width="0.16" text-anchor="middle">UBE2E2</text>
<rect x="557.5" y="640.7" width="114.6" height="222.8" fill="none" stroke="#555" stroke-width="0.8"/>
<line x1="558.3" y1="863.5" x2="558.3" y2="866" stroke="#333" stroke-width="0.8"/>
<text x="558.3" y="875.3" font-size="8" fill="#4d4d4d" stroke="#4d4d4d" stroke-width="0.19" text-anchor="middle">23.4</text>
<line x1="581.2" y1="863.5" x2="581.2" y2="866" stroke="#333" stroke-width="0.8"/>
<text x="581.2" y="875.3" font-size="8" fill="#4d4d4d" stroke="#4d4d4d" stroke-width="0.19" text-anchor="middle">23.6</text>
<line x1="604" y1="863.5" x2="604" y2="866" stroke="#333" stroke-width="0.8"/>
<text x="604" y="875.3" font-size="8" fill="#4d4d4d" stroke="#4d4d4d" stroke-width="0.19" text-anchor="middle">23.8</text>
<line x1="626.4" y1="863.5" x2="626.4" y2="866" stroke="#333" stroke-width="0.8"/>
<text x="626.4" y="875.3" font-size="8" fill="#4d4d4d" stroke="#4d4d4d" stroke-width="0.19" text-anchor="middle">24.0</text>
<line x1="649" y1="863.5" x2="649" y2="866" stroke="#333" stroke-width="0.8"/>
<text x="649" y="875.3" font-size="8" fill="#4d4d4d" stroke="#4d4d4d" stroke-width="0.19" text-anchor="middle">24.2</text>
<text x="614.3" y="887.7" font-size="10.4" fill="#000" stroke="#000" stroke-width="0.22" text-anchor="middle"></text>
<text transform="translate(529.4 754.4) rotate(-90)" x="0" y="3.7" font-size="10.4" fill="#000" stroke="#000" stroke-width="0.22" text-anchor="middle">Gene fine-mapping PIP</text>
<circle cx="568.6" cy="651" r="2.4" fill="#e00" stroke="#222" stroke-width="0.6"/>
<text x="573.8" y="653.8" font-size="7.9" fill="#000" stroke="#000" stroke-width="0.19">Druggable</text>
<rect x="573.8" y="822.2" width="79.6" height="32.6" fill="#fff" stroke="#333" stroke-width="0.8"/>
<text x="613.6" y="833.2" font-size="7.3" fill="#111" stroke="#111" stroke-width="0.18" text-anchor="middle">SNP set correlation</text>
<rect x="582.3" y="837.7" width="16.1" height="8.7" fill="#eadcea" stroke="none" stroke-width="1"/>
<rect x="598.2" y="837.7" width="16.1" height="8.7" fill="#c4a2c8" stroke="none" stroke-width="1"/>
<rect x="614.1" y="837.7" width="16.1" height="8.7" fill="#9a6aa5" stroke="none" stroke-width="1"/>
<rect x="630" y="837.7" width="16.1" height="8.7" fill="#6b2c7c" stroke="none" stroke-width="1"/>
<text x="582.3" y="852.9" font-size="5" fill="#111" stroke="#111" stroke-width="0.12" text-anchor="middle">0.00</text>
<text x="598.2" y="852.9" font-size="5" fill="#111" stroke="#111" stroke-width="0.12" text-anchor="middle">0.25</text>
<text x="614.1" y="852.9" font-size="5" fill="#111" stroke="#111" stroke-width="0.12" text-anchor="middle">0.50</text>
<text x="630" y="852.9" font-size="5" fill="#111" stroke="#111" stroke-width="0.12" text-anchor="middle">0.75</text>
<text x="645.9" y="852.9" font-size="5" fill="#111" stroke="#111" stroke-width="0.12" text-anchor="middle">1.00</text>
<line x1="649.5" y1="667" x2="665.8" y2="667" stroke="#111" stroke-width="1.2"/>
<text x="617.8" y="887.7" font-size="10.4" fill="#000" stroke="#000" stroke-width="0.22" text-anchor="end">chromosome 3</text>
<text x="626.8" y="887.7" font-size="10.4" fill="#000" stroke="#000" stroke-width="0.22">osition (Mb)</text>
<polyline points="618.5,762 621,765 621.5,774" stroke="#333" stroke-width="0.4" fill="none"/>
<line x1="563.5" y1="781" x2="566" y2="777" stroke="#333" stroke-width="0.4"/>
<line x1="630" y1="737.5" x2="633" y2="739.5" stroke="#333" stroke-width="0.4"/>
<line x1="614.6" y1="721.5" x2="612" y2="717.5" stroke="#333" stroke-width="0.4"/>
</svg></body></html>
